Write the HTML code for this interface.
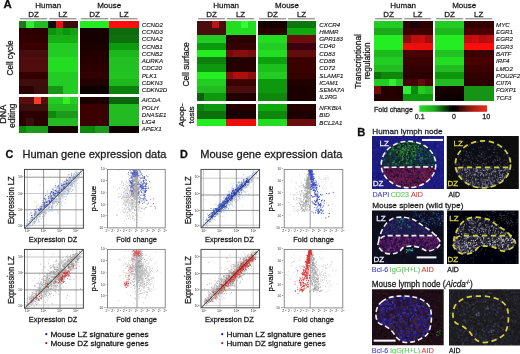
<!DOCTYPE html><html><head><meta charset="utf-8"><style>html,body{margin:0;padding:0;background:#fff;overflow:hidden}svg{display:block}</style></head><body><svg width="520" height="354" viewBox="0 0 520 354" font-family="'Liberation Sans', sans-serif">
<defs><filter id="hb" x="-2%" y="-2%" width="104%" height="104%"><feGaussianBlur stdDeviation="0.6"/></filter><filter id="gb" x="0" y="0" width="100%" height="100%"><feGaussianBlur stdDeviation="0.35"/></filter></defs>
<rect width="520" height="354" fill="#fff"/>
<g filter="url(#gb)">
<g filter="url(#hb)" shape-rendering="crispEdges">
<rect x="19.00" y="20.75" width="7.65" height="7.62" fill="#1a7a1a"/>
<rect x="26.30" y="20.75" width="7.65" height="7.62" fill="#33ee33"/>
<rect x="33.60" y="20.75" width="7.65" height="7.62" fill="#22bb22"/>
<rect x="40.90" y="20.75" width="7.65" height="7.62" fill="#22bb22"/>
<rect x="48.20" y="20.75" width="7.65" height="7.62" fill="#111111"/>
<rect x="55.50" y="20.75" width="7.65" height="7.62" fill="#ee1111"/>
<rect x="62.80" y="20.75" width="7.65" height="7.62" fill="#3a0808"/>
<rect x="70.10" y="20.75" width="7.65" height="7.62" fill="#3a0808"/>
<rect x="79.80" y="20.75" width="7.72" height="7.62" fill="#22ee22"/>
<rect x="87.17" y="20.75" width="7.72" height="7.62" fill="#22ee22"/>
<rect x="94.55" y="20.75" width="7.72" height="7.62" fill="#22ee22"/>
<rect x="101.92" y="20.75" width="7.72" height="7.62" fill="#22ee22"/>
<rect x="109.30" y="20.75" width="7.67" height="7.62" fill="#ff1111"/>
<rect x="116.62" y="20.75" width="7.67" height="7.62" fill="#ff1111"/>
<rect x="123.95" y="20.75" width="7.67" height="7.62" fill="#ff1111"/>
<rect x="131.28" y="20.75" width="7.67" height="7.62" fill="#ff1111"/>
<rect x="19.00" y="28.02" width="7.65" height="7.62" fill="#2a0505"/>
<rect x="26.30" y="28.02" width="7.65" height="7.62" fill="#2a0505"/>
<rect x="33.60" y="28.02" width="7.65" height="7.62" fill="#2a0505"/>
<rect x="40.90" y="28.02" width="7.65" height="7.62" fill="#2a0505"/>
<rect x="48.20" y="28.02" width="7.65" height="7.62" fill="#0c940c"/>
<rect x="55.50" y="28.02" width="7.65" height="7.62" fill="#12a012"/>
<rect x="62.80" y="28.02" width="7.65" height="7.62" fill="#0c940c"/>
<rect x="70.10" y="28.02" width="7.65" height="7.62" fill="#12a012"/>
<rect x="79.80" y="28.02" width="7.72" height="7.62" fill="#150303"/>
<rect x="87.17" y="28.02" width="7.72" height="7.62" fill="#150303"/>
<rect x="94.55" y="28.02" width="7.72" height="7.62" fill="#150303"/>
<rect x="101.92" y="28.02" width="7.72" height="7.62" fill="#150303"/>
<rect x="109.30" y="28.02" width="7.67" height="7.62" fill="#0a6a0a"/>
<rect x="116.62" y="28.02" width="7.67" height="7.62" fill="#0a6a0a"/>
<rect x="123.95" y="28.02" width="7.67" height="7.62" fill="#0a6a0a"/>
<rect x="131.28" y="28.02" width="7.67" height="7.62" fill="#0a6a0a"/>
<rect x="19.00" y="35.30" width="7.65" height="7.62" fill="#300505"/>
<rect x="26.30" y="35.30" width="7.65" height="7.62" fill="#300505"/>
<rect x="33.60" y="35.30" width="7.65" height="7.62" fill="#300505"/>
<rect x="40.90" y="35.30" width="7.65" height="7.62" fill="#300505"/>
<rect x="48.20" y="35.30" width="7.65" height="7.62" fill="#14b014"/>
<rect x="55.50" y="35.30" width="7.65" height="7.62" fill="#14b014"/>
<rect x="62.80" y="35.30" width="7.65" height="7.62" fill="#14b014"/>
<rect x="70.10" y="35.30" width="7.65" height="7.62" fill="#14b014"/>
<rect x="79.80" y="35.30" width="7.72" height="7.62" fill="#180303"/>
<rect x="87.17" y="35.30" width="7.72" height="7.62" fill="#180303"/>
<rect x="94.55" y="35.30" width="7.72" height="7.62" fill="#180303"/>
<rect x="101.92" y="35.30" width="7.72" height="7.62" fill="#180303"/>
<rect x="109.30" y="35.30" width="7.67" height="7.62" fill="#0a700a"/>
<rect x="116.62" y="35.30" width="7.67" height="7.62" fill="#0a700a"/>
<rect x="123.95" y="35.30" width="7.67" height="7.62" fill="#0a700a"/>
<rect x="131.28" y="35.30" width="7.67" height="7.62" fill="#0a700a"/>
<rect x="19.00" y="42.58" width="7.65" height="7.62" fill="#3a0606"/>
<rect x="26.30" y="42.58" width="7.65" height="7.62" fill="#3a0606"/>
<rect x="33.60" y="42.58" width="7.65" height="7.62" fill="#3a0606"/>
<rect x="40.90" y="42.58" width="7.65" height="7.62" fill="#3a0606"/>
<rect x="48.20" y="42.58" width="7.65" height="7.62" fill="#22cc22"/>
<rect x="55.50" y="42.58" width="7.65" height="7.62" fill="#22cc22"/>
<rect x="62.80" y="42.58" width="7.65" height="7.62" fill="#22cc22"/>
<rect x="70.10" y="42.58" width="7.65" height="7.62" fill="#22cc22"/>
<rect x="79.80" y="42.58" width="7.72" height="7.62" fill="#1a0303"/>
<rect x="87.17" y="42.58" width="7.72" height="7.62" fill="#1a0303"/>
<rect x="94.55" y="42.58" width="7.72" height="7.62" fill="#1a0303"/>
<rect x="101.92" y="42.58" width="7.72" height="7.62" fill="#1a0303"/>
<rect x="109.30" y="42.58" width="7.67" height="7.62" fill="#109a10"/>
<rect x="116.62" y="42.58" width="7.67" height="7.62" fill="#109a10"/>
<rect x="123.95" y="42.58" width="7.67" height="7.62" fill="#109a10"/>
<rect x="131.28" y="42.58" width="7.67" height="7.62" fill="#109a10"/>
<rect x="19.00" y="49.85" width="7.65" height="7.62" fill="#450808"/>
<rect x="26.30" y="49.85" width="7.65" height="7.62" fill="#450808"/>
<rect x="33.60" y="49.85" width="7.65" height="7.62" fill="#450808"/>
<rect x="40.90" y="49.85" width="7.65" height="7.62" fill="#450808"/>
<rect x="48.20" y="49.85" width="7.65" height="7.62" fill="#22cc22"/>
<rect x="55.50" y="49.85" width="7.65" height="7.62" fill="#22cc22"/>
<rect x="62.80" y="49.85" width="7.65" height="7.62" fill="#22cc22"/>
<rect x="70.10" y="49.85" width="7.65" height="7.62" fill="#22cc22"/>
<rect x="79.80" y="49.85" width="7.72" height="7.62" fill="#200404"/>
<rect x="87.17" y="49.85" width="7.72" height="7.62" fill="#200404"/>
<rect x="94.55" y="49.85" width="7.72" height="7.62" fill="#200404"/>
<rect x="101.92" y="49.85" width="7.72" height="7.62" fill="#200404"/>
<rect x="109.30" y="49.85" width="7.67" height="7.62" fill="#1cb81c"/>
<rect x="116.62" y="49.85" width="7.67" height="7.62" fill="#1cb81c"/>
<rect x="123.95" y="49.85" width="7.67" height="7.62" fill="#1cb81c"/>
<rect x="131.28" y="49.85" width="7.67" height="7.62" fill="#1cb81c"/>
<rect x="19.00" y="57.12" width="7.65" height="7.62" fill="#500a0a"/>
<rect x="26.30" y="57.12" width="7.65" height="7.62" fill="#500a0a"/>
<rect x="33.60" y="57.12" width="7.65" height="7.62" fill="#500a0a"/>
<rect x="40.90" y="57.12" width="7.65" height="7.62" fill="#500a0a"/>
<rect x="48.20" y="57.12" width="7.65" height="7.62" fill="#22dd22"/>
<rect x="55.50" y="57.12" width="7.65" height="7.62" fill="#22dd22"/>
<rect x="62.80" y="57.12" width="7.65" height="7.62" fill="#22dd22"/>
<rect x="70.10" y="57.12" width="7.65" height="7.62" fill="#22dd22"/>
<rect x="79.80" y="57.12" width="7.72" height="7.62" fill="#250404"/>
<rect x="87.17" y="57.12" width="7.72" height="7.62" fill="#250404"/>
<rect x="94.55" y="57.12" width="7.72" height="7.62" fill="#250404"/>
<rect x="101.92" y="57.12" width="7.72" height="7.62" fill="#250404"/>
<rect x="109.30" y="57.12" width="7.67" height="7.62" fill="#20c020"/>
<rect x="116.62" y="57.12" width="7.67" height="7.62" fill="#20c020"/>
<rect x="123.95" y="57.12" width="7.67" height="7.62" fill="#20c020"/>
<rect x="131.28" y="57.12" width="7.67" height="7.62" fill="#20c020"/>
<rect x="19.00" y="64.40" width="7.65" height="7.62" fill="#500a0a"/>
<rect x="26.30" y="64.40" width="7.65" height="7.62" fill="#500a0a"/>
<rect x="33.60" y="64.40" width="7.65" height="7.62" fill="#500a0a"/>
<rect x="40.90" y="64.40" width="7.65" height="7.62" fill="#500a0a"/>
<rect x="48.20" y="64.40" width="7.65" height="7.62" fill="#22dd22"/>
<rect x="55.50" y="64.40" width="7.65" height="7.62" fill="#22dd22"/>
<rect x="62.80" y="64.40" width="7.65" height="7.62" fill="#22dd22"/>
<rect x="70.10" y="64.40" width="7.65" height="7.62" fill="#22dd22"/>
<rect x="79.80" y="64.40" width="7.72" height="7.62" fill="#2a0505"/>
<rect x="87.17" y="64.40" width="7.72" height="7.62" fill="#2a0505"/>
<rect x="94.55" y="64.40" width="7.72" height="7.62" fill="#2a0505"/>
<rect x="101.92" y="64.40" width="7.72" height="7.62" fill="#2a0505"/>
<rect x="109.30" y="64.40" width="7.67" height="7.62" fill="#20c020"/>
<rect x="116.62" y="64.40" width="7.67" height="7.62" fill="#20c020"/>
<rect x="123.95" y="64.40" width="7.67" height="7.62" fill="#20c020"/>
<rect x="131.28" y="64.40" width="7.67" height="7.62" fill="#20c020"/>
<rect x="19.00" y="71.68" width="7.65" height="7.62" fill="#350606"/>
<rect x="26.30" y="71.68" width="7.65" height="7.62" fill="#350606"/>
<rect x="33.60" y="71.68" width="7.65" height="7.62" fill="#350606"/>
<rect x="40.90" y="71.68" width="7.65" height="7.62" fill="#350606"/>
<rect x="48.20" y="71.68" width="7.65" height="7.62" fill="#22cc22"/>
<rect x="55.50" y="71.68" width="7.65" height="7.62" fill="#22cc22"/>
<rect x="62.80" y="71.68" width="7.65" height="7.62" fill="#22cc22"/>
<rect x="70.10" y="71.68" width="7.65" height="7.62" fill="#22cc22"/>
<rect x="79.80" y="71.68" width="7.72" height="7.62" fill="#300505"/>
<rect x="87.17" y="71.68" width="7.72" height="7.62" fill="#300505"/>
<rect x="94.55" y="71.68" width="7.72" height="7.62" fill="#300505"/>
<rect x="101.92" y="71.68" width="7.72" height="7.62" fill="#300505"/>
<rect x="109.30" y="71.68" width="7.67" height="7.62" fill="#22c422"/>
<rect x="116.62" y="71.68" width="7.67" height="7.62" fill="#22c422"/>
<rect x="123.95" y="71.68" width="7.67" height="7.62" fill="#22c422"/>
<rect x="131.28" y="71.68" width="7.67" height="7.62" fill="#22c422"/>
<rect x="19.00" y="78.95" width="7.65" height="7.62" fill="#400808"/>
<rect x="26.30" y="78.95" width="7.65" height="7.62" fill="#400808"/>
<rect x="33.60" y="78.95" width="7.65" height="7.62" fill="#400808"/>
<rect x="40.90" y="78.95" width="7.65" height="7.62" fill="#400808"/>
<rect x="48.20" y="78.95" width="7.65" height="7.62" fill="#22cc22"/>
<rect x="55.50" y="78.95" width="7.65" height="7.62" fill="#22cc22"/>
<rect x="62.80" y="78.95" width="7.65" height="7.62" fill="#22cc22"/>
<rect x="70.10" y="78.95" width="7.65" height="7.62" fill="#22cc22"/>
<rect x="79.80" y="78.95" width="7.72" height="7.62" fill="#200404"/>
<rect x="87.17" y="78.95" width="7.72" height="7.62" fill="#200404"/>
<rect x="94.55" y="78.95" width="7.72" height="7.62" fill="#200404"/>
<rect x="101.92" y="78.95" width="7.72" height="7.62" fill="#200404"/>
<rect x="109.30" y="78.95" width="7.67" height="7.62" fill="#1cb81c"/>
<rect x="116.62" y="78.95" width="7.67" height="7.62" fill="#1cb81c"/>
<rect x="123.95" y="78.95" width="7.67" height="7.62" fill="#1cb81c"/>
<rect x="131.28" y="78.95" width="7.67" height="7.62" fill="#1cb81c"/>
<rect x="19.00" y="86.23" width="7.65" height="7.62" fill="#2a0505"/>
<rect x="26.30" y="86.23" width="7.65" height="7.62" fill="#2a0505"/>
<rect x="33.60" y="86.23" width="7.65" height="7.62" fill="#3a0808"/>
<rect x="40.90" y="86.23" width="7.65" height="7.62" fill="#3a0808"/>
<rect x="48.20" y="86.23" width="7.65" height="7.62" fill="#129612"/>
<rect x="55.50" y="86.23" width="7.65" height="7.62" fill="#129612"/>
<rect x="62.80" y="86.23" width="7.65" height="7.62" fill="#22cc22"/>
<rect x="70.10" y="86.23" width="7.65" height="7.62" fill="#22cc22"/>
<rect x="79.80" y="86.23" width="7.72" height="7.62" fill="#100202"/>
<rect x="87.17" y="86.23" width="7.72" height="7.62" fill="#100202"/>
<rect x="94.55" y="86.23" width="7.72" height="7.62" fill="#100202"/>
<rect x="101.92" y="86.23" width="7.72" height="7.62" fill="#100202"/>
<rect x="109.30" y="86.23" width="7.67" height="7.62" fill="#0c800c"/>
<rect x="116.62" y="86.23" width="7.67" height="7.62" fill="#0c800c"/>
<rect x="123.95" y="86.23" width="7.67" height="7.62" fill="#0c800c"/>
<rect x="131.28" y="86.23" width="7.67" height="7.62" fill="#0c800c"/>
<rect x="19.00" y="96.50" width="7.65" height="7.60" fill="#5a0c0c"/>
<rect x="26.30" y="96.50" width="7.65" height="7.60" fill="#5a0c0c"/>
<rect x="33.60" y="96.50" width="7.65" height="7.60" fill="#ff3a22"/>
<rect x="40.90" y="96.50" width="7.65" height="7.60" fill="#5a0c0c"/>
<rect x="48.20" y="96.50" width="7.65" height="7.60" fill="#22cc22"/>
<rect x="55.50" y="96.50" width="7.65" height="7.60" fill="#22cc22"/>
<rect x="62.80" y="96.50" width="7.65" height="7.60" fill="#33ee22"/>
<rect x="70.10" y="96.50" width="7.65" height="7.60" fill="#22cc22"/>
<rect x="79.80" y="96.50" width="7.72" height="7.60" fill="#1a0303"/>
<rect x="87.17" y="96.50" width="7.72" height="7.60" fill="#1a0303"/>
<rect x="94.55" y="96.50" width="7.72" height="7.60" fill="#1a0303"/>
<rect x="101.92" y="96.50" width="7.72" height="7.60" fill="#1a0303"/>
<rect x="109.30" y="96.50" width="7.67" height="7.60" fill="#0a660a"/>
<rect x="116.62" y="96.50" width="7.67" height="7.60" fill="#0a660a"/>
<rect x="123.95" y="96.50" width="7.67" height="7.60" fill="#0a660a"/>
<rect x="131.28" y="96.50" width="7.67" height="7.60" fill="#0a660a"/>
<rect x="19.00" y="103.75" width="7.65" height="7.60" fill="#3a0808"/>
<rect x="26.30" y="103.75" width="7.65" height="7.60" fill="#3a0808"/>
<rect x="33.60" y="103.75" width="7.65" height="7.60" fill="#3a0808"/>
<rect x="40.90" y="103.75" width="7.65" height="7.60" fill="#3a0808"/>
<rect x="48.20" y="103.75" width="7.65" height="7.60" fill="#22bb22"/>
<rect x="55.50" y="103.75" width="7.65" height="7.60" fill="#22bb22"/>
<rect x="62.80" y="103.75" width="7.65" height="7.60" fill="#22bb22"/>
<rect x="70.10" y="103.75" width="7.65" height="7.60" fill="#22bb22"/>
<rect x="79.80" y="103.75" width="7.72" height="7.60" fill="#3a0606"/>
<rect x="87.17" y="103.75" width="7.72" height="7.60" fill="#3a0606"/>
<rect x="94.55" y="103.75" width="7.72" height="7.60" fill="#3a0606"/>
<rect x="101.92" y="103.75" width="7.72" height="7.60" fill="#3a0606"/>
<rect x="109.30" y="103.75" width="7.67" height="7.60" fill="#22bb22"/>
<rect x="116.62" y="103.75" width="7.67" height="7.60" fill="#22bb22"/>
<rect x="123.95" y="103.75" width="7.67" height="7.60" fill="#22bb22"/>
<rect x="131.28" y="103.75" width="7.67" height="7.60" fill="#22bb22"/>
<rect x="19.00" y="111.00" width="7.65" height="7.60" fill="#2a0606"/>
<rect x="26.30" y="111.00" width="7.65" height="7.60" fill="#2a0606"/>
<rect x="33.60" y="111.00" width="7.65" height="7.60" fill="#2a0606"/>
<rect x="40.90" y="111.00" width="7.65" height="7.60" fill="#2a0606"/>
<rect x="48.20" y="111.00" width="7.65" height="7.60" fill="#118811"/>
<rect x="55.50" y="111.00" width="7.65" height="7.60" fill="#1a9a1a"/>
<rect x="62.80" y="111.00" width="7.65" height="7.60" fill="#1a9a1a"/>
<rect x="70.10" y="111.00" width="7.65" height="7.60" fill="#1a9a1a"/>
<rect x="79.80" y="111.00" width="7.72" height="7.60" fill="#3a0606"/>
<rect x="87.17" y="111.00" width="7.72" height="7.60" fill="#3a0606"/>
<rect x="94.55" y="111.00" width="7.72" height="7.60" fill="#3a0606"/>
<rect x="101.92" y="111.00" width="7.72" height="7.60" fill="#3a0606"/>
<rect x="109.30" y="111.00" width="7.67" height="7.60" fill="#22bb22"/>
<rect x="116.62" y="111.00" width="7.67" height="7.60" fill="#22bb22"/>
<rect x="123.95" y="111.00" width="7.67" height="7.60" fill="#22bb22"/>
<rect x="131.28" y="111.00" width="7.67" height="7.60" fill="#22bb22"/>
<rect x="19.00" y="118.25" width="7.65" height="7.60" fill="#2a0606"/>
<rect x="26.30" y="118.25" width="7.65" height="7.60" fill="#3a0808"/>
<rect x="33.60" y="118.25" width="7.65" height="7.60" fill="#2a0606"/>
<rect x="40.90" y="118.25" width="7.65" height="7.60" fill="#2a0606"/>
<rect x="48.20" y="118.25" width="7.65" height="7.60" fill="#22bb22"/>
<rect x="55.50" y="118.25" width="7.65" height="7.60" fill="#22bb22"/>
<rect x="62.80" y="118.25" width="7.65" height="7.60" fill="#22bb22"/>
<rect x="70.10" y="118.25" width="7.65" height="7.60" fill="#22bb22"/>
<rect x="79.80" y="118.25" width="7.72" height="7.60" fill="#3a0606"/>
<rect x="87.17" y="118.25" width="7.72" height="7.60" fill="#3a0606"/>
<rect x="94.55" y="118.25" width="7.72" height="7.60" fill="#3a0606"/>
<rect x="101.92" y="118.25" width="7.72" height="7.60" fill="#3a0606"/>
<rect x="109.30" y="118.25" width="7.67" height="7.60" fill="#22bb22"/>
<rect x="116.62" y="118.25" width="7.67" height="7.60" fill="#22bb22"/>
<rect x="123.95" y="118.25" width="7.67" height="7.60" fill="#22bb22"/>
<rect x="131.28" y="118.25" width="7.67" height="7.60" fill="#22bb22"/>
<rect x="19.00" y="125.50" width="7.65" height="7.60" fill="#118811"/>
<rect x="26.30" y="125.50" width="7.65" height="7.60" fill="#1a9a1a"/>
<rect x="33.60" y="125.50" width="7.65" height="7.60" fill="#1a9a1a"/>
<rect x="40.90" y="125.50" width="7.65" height="7.60" fill="#1a9a1a"/>
<rect x="48.20" y="125.50" width="7.65" height="7.60" fill="#150303"/>
<rect x="55.50" y="125.50" width="7.65" height="7.60" fill="#150303"/>
<rect x="62.80" y="125.50" width="7.65" height="7.60" fill="#150303"/>
<rect x="70.10" y="125.50" width="7.65" height="7.60" fill="#150303"/>
<rect x="79.80" y="125.50" width="7.72" height="7.60" fill="#118811"/>
<rect x="87.17" y="125.50" width="7.72" height="7.60" fill="#118811"/>
<rect x="94.55" y="125.50" width="7.72" height="7.60" fill="#1a9a1a"/>
<rect x="101.92" y="125.50" width="7.72" height="7.60" fill="#1a9a1a"/>
<rect x="109.30" y="125.50" width="7.67" height="7.60" fill="#100202"/>
<rect x="116.62" y="125.50" width="7.67" height="7.60" fill="#100202"/>
<rect x="123.95" y="125.50" width="7.67" height="7.60" fill="#100202"/>
<rect x="131.28" y="125.50" width="7.67" height="7.60" fill="#100202"/>
<rect x="197.10" y="20.75" width="7.55" height="7.61" fill="#4a0808"/>
<rect x="204.30" y="20.75" width="7.55" height="7.61" fill="#4a0808"/>
<rect x="211.50" y="20.75" width="7.55" height="7.61" fill="#bb1515"/>
<rect x="218.70" y="20.75" width="7.55" height="7.61" fill="#4a0808"/>
<rect x="225.90" y="20.75" width="7.69" height="7.61" fill="#22dd22"/>
<rect x="233.24" y="20.75" width="7.69" height="7.61" fill="#22dd22"/>
<rect x="240.57" y="20.75" width="7.69" height="7.61" fill="#33ff33"/>
<rect x="247.91" y="20.75" width="7.69" height="7.61" fill="#22dd22"/>
<rect x="258.10" y="20.75" width="7.60" height="7.61" fill="#150202"/>
<rect x="265.35" y="20.75" width="7.60" height="7.61" fill="#150202"/>
<rect x="272.60" y="20.75" width="7.60" height="7.61" fill="#150202"/>
<rect x="279.85" y="20.75" width="7.60" height="7.61" fill="#150202"/>
<rect x="287.10" y="20.75" width="7.57" height="7.61" fill="#0a770a"/>
<rect x="294.33" y="20.75" width="7.57" height="7.61" fill="#0a770a"/>
<rect x="301.55" y="20.75" width="7.57" height="7.61" fill="#0a770a"/>
<rect x="308.77" y="20.75" width="7.57" height="7.61" fill="#0a770a"/>
<rect x="197.10" y="28.01" width="7.55" height="7.61" fill="#4a0808"/>
<rect x="204.30" y="28.01" width="7.55" height="7.61" fill="#4a0808"/>
<rect x="211.50" y="28.01" width="7.55" height="7.61" fill="#4a0808"/>
<rect x="218.70" y="28.01" width="7.55" height="7.61" fill="#4a0808"/>
<rect x="225.90" y="28.01" width="7.69" height="7.61" fill="#22dd22"/>
<rect x="233.24" y="28.01" width="7.69" height="7.61" fill="#22dd22"/>
<rect x="240.57" y="28.01" width="7.69" height="7.61" fill="#22dd22"/>
<rect x="247.91" y="28.01" width="7.69" height="7.61" fill="#22dd22"/>
<rect x="258.10" y="28.01" width="7.60" height="7.61" fill="#2a0505"/>
<rect x="265.35" y="28.01" width="7.60" height="7.61" fill="#2a0505"/>
<rect x="272.60" y="28.01" width="7.60" height="7.61" fill="#2a0505"/>
<rect x="279.85" y="28.01" width="7.60" height="7.61" fill="#2a0505"/>
<rect x="287.10" y="28.01" width="7.57" height="7.61" fill="#11aa11"/>
<rect x="294.33" y="28.01" width="7.57" height="7.61" fill="#11aa11"/>
<rect x="301.55" y="28.01" width="7.57" height="7.61" fill="#11aa11"/>
<rect x="308.77" y="28.01" width="7.57" height="7.61" fill="#11aa11"/>
<rect x="197.10" y="35.27" width="7.55" height="7.61" fill="#22cc22"/>
<rect x="204.30" y="35.27" width="7.55" height="7.61" fill="#22cc22"/>
<rect x="211.50" y="35.27" width="7.55" height="7.61" fill="#22cc22"/>
<rect x="218.70" y="35.27" width="7.55" height="7.61" fill="#22cc22"/>
<rect x="225.90" y="35.27" width="7.69" height="7.61" fill="#2a0406"/>
<rect x="233.24" y="35.27" width="7.69" height="7.61" fill="#2a0406"/>
<rect x="240.57" y="35.27" width="7.69" height="7.61" fill="#2a0406"/>
<rect x="247.91" y="35.27" width="7.69" height="7.61" fill="#2a0406"/>
<rect x="258.10" y="35.27" width="7.60" height="7.61" fill="#22dd22"/>
<rect x="265.35" y="35.27" width="7.60" height="7.61" fill="#22dd22"/>
<rect x="272.60" y="35.27" width="7.60" height="7.61" fill="#22dd22"/>
<rect x="279.85" y="35.27" width="7.60" height="7.61" fill="#22dd22"/>
<rect x="287.10" y="35.27" width="7.57" height="7.61" fill="#6a0a10"/>
<rect x="294.33" y="35.27" width="7.57" height="7.61" fill="#6a0a10"/>
<rect x="301.55" y="35.27" width="7.57" height="7.61" fill="#6a0a10"/>
<rect x="308.77" y="35.27" width="7.57" height="7.61" fill="#6a0a10"/>
<rect x="197.10" y="42.53" width="7.55" height="7.61" fill="#119911"/>
<rect x="204.30" y="42.53" width="7.55" height="7.61" fill="#119911"/>
<rect x="211.50" y="42.53" width="7.55" height="7.61" fill="#119911"/>
<rect x="218.70" y="42.53" width="7.55" height="7.61" fill="#119911"/>
<rect x="225.90" y="42.53" width="7.69" height="7.61" fill="#340505"/>
<rect x="233.24" y="42.53" width="7.69" height="7.61" fill="#340505"/>
<rect x="240.57" y="42.53" width="7.69" height="7.61" fill="#340505"/>
<rect x="247.91" y="42.53" width="7.69" height="7.61" fill="#340505"/>
<rect x="258.10" y="42.53" width="7.60" height="7.61" fill="#22cc22"/>
<rect x="265.35" y="42.53" width="7.60" height="7.61" fill="#22cc22"/>
<rect x="272.60" y="42.53" width="7.60" height="7.61" fill="#22cc22"/>
<rect x="279.85" y="42.53" width="7.60" height="7.61" fill="#22cc22"/>
<rect x="287.10" y="42.53" width="7.57" height="7.61" fill="#3a0608"/>
<rect x="294.33" y="42.53" width="7.57" height="7.61" fill="#3a0608"/>
<rect x="301.55" y="42.53" width="7.57" height="7.61" fill="#3a0608"/>
<rect x="308.77" y="42.53" width="7.57" height="7.61" fill="#3a0608"/>
<rect x="197.10" y="49.79" width="7.55" height="7.61" fill="#22ee22"/>
<rect x="204.30" y="49.79" width="7.55" height="7.61" fill="#22ee22"/>
<rect x="211.50" y="49.79" width="7.55" height="7.61" fill="#22ee22"/>
<rect x="218.70" y="49.79" width="7.55" height="7.61" fill="#22ee22"/>
<rect x="225.90" y="49.79" width="7.69" height="7.61" fill="#700a0a"/>
<rect x="233.24" y="49.79" width="7.69" height="7.61" fill="#880a0a"/>
<rect x="240.57" y="49.79" width="7.69" height="7.61" fill="#880a0a"/>
<rect x="247.91" y="49.79" width="7.69" height="7.61" fill="#780a0a"/>
<rect x="258.10" y="49.79" width="7.60" height="7.61" fill="#22dd22"/>
<rect x="265.35" y="49.79" width="7.60" height="7.61" fill="#22dd22"/>
<rect x="272.60" y="49.79" width="7.60" height="7.61" fill="#22dd22"/>
<rect x="279.85" y="49.79" width="7.60" height="7.61" fill="#22dd22"/>
<rect x="287.10" y="49.79" width="7.57" height="7.61" fill="#620a10"/>
<rect x="294.33" y="49.79" width="7.57" height="7.61" fill="#620a10"/>
<rect x="301.55" y="49.79" width="7.57" height="7.61" fill="#620a10"/>
<rect x="308.77" y="49.79" width="7.57" height="7.61" fill="#620a10"/>
<rect x="197.10" y="57.05" width="7.55" height="7.61" fill="#0c800c"/>
<rect x="204.30" y="57.05" width="7.55" height="7.61" fill="#0c800c"/>
<rect x="211.50" y="57.05" width="7.55" height="7.61" fill="#0c800c"/>
<rect x="218.70" y="57.05" width="7.55" height="7.61" fill="#0c800c"/>
<rect x="225.90" y="57.05" width="7.69" height="7.61" fill="#200303"/>
<rect x="233.24" y="57.05" width="7.69" height="7.61" fill="#200303"/>
<rect x="240.57" y="57.05" width="7.69" height="7.61" fill="#200303"/>
<rect x="247.91" y="57.05" width="7.69" height="7.61" fill="#200303"/>
<rect x="258.10" y="57.05" width="7.60" height="7.61" fill="#10a010"/>
<rect x="265.35" y="57.05" width="7.60" height="7.61" fill="#10a010"/>
<rect x="272.60" y="57.05" width="7.60" height="7.61" fill="#10a010"/>
<rect x="279.85" y="57.05" width="7.60" height="7.61" fill="#10a010"/>
<rect x="287.10" y="57.05" width="7.57" height="7.61" fill="#3a0505"/>
<rect x="294.33" y="57.05" width="7.57" height="7.61" fill="#3a0505"/>
<rect x="301.55" y="57.05" width="7.57" height="7.61" fill="#3a0505"/>
<rect x="308.77" y="57.05" width="7.57" height="7.61" fill="#3a0505"/>
<rect x="197.10" y="64.31" width="7.55" height="7.61" fill="#119911"/>
<rect x="204.30" y="64.31" width="7.55" height="7.61" fill="#119911"/>
<rect x="211.50" y="64.31" width="7.55" height="7.61" fill="#119911"/>
<rect x="218.70" y="64.31" width="7.55" height="7.61" fill="#119911"/>
<rect x="225.90" y="64.31" width="7.69" height="7.61" fill="#250404"/>
<rect x="233.24" y="64.31" width="7.69" height="7.61" fill="#250404"/>
<rect x="240.57" y="64.31" width="7.69" height="7.61" fill="#250404"/>
<rect x="247.91" y="64.31" width="7.69" height="7.61" fill="#250404"/>
<rect x="258.10" y="64.31" width="7.60" height="7.61" fill="#1ec01e"/>
<rect x="265.35" y="64.31" width="7.60" height="7.61" fill="#1ec01e"/>
<rect x="272.60" y="64.31" width="7.60" height="7.61" fill="#1ec01e"/>
<rect x="279.85" y="64.31" width="7.60" height="7.61" fill="#1ec01e"/>
<rect x="287.10" y="64.31" width="7.57" height="7.61" fill="#3a0606"/>
<rect x="294.33" y="64.31" width="7.57" height="7.61" fill="#3a0606"/>
<rect x="301.55" y="64.31" width="7.57" height="7.61" fill="#3a0606"/>
<rect x="308.77" y="64.31" width="7.57" height="7.61" fill="#3a0606"/>
<rect x="197.10" y="71.57" width="7.55" height="7.61" fill="#22ee22"/>
<rect x="204.30" y="71.57" width="7.55" height="7.61" fill="#22ee22"/>
<rect x="211.50" y="71.57" width="7.55" height="7.61" fill="#22ee22"/>
<rect x="218.70" y="71.57" width="7.55" height="7.61" fill="#22ee22"/>
<rect x="225.90" y="71.57" width="7.69" height="7.61" fill="#8a0a0a"/>
<rect x="233.24" y="71.57" width="7.69" height="7.61" fill="#b00c0c"/>
<rect x="240.57" y="71.57" width="7.69" height="7.61" fill="#b00c0c"/>
<rect x="247.91" y="71.57" width="7.69" height="7.61" fill="#900a0a"/>
<rect x="258.10" y="71.57" width="7.60" height="7.61" fill="#22cc22"/>
<rect x="265.35" y="71.57" width="7.60" height="7.61" fill="#22cc22"/>
<rect x="272.60" y="71.57" width="7.60" height="7.61" fill="#22cc22"/>
<rect x="279.85" y="71.57" width="7.60" height="7.61" fill="#22cc22"/>
<rect x="287.10" y="71.57" width="7.57" height="7.61" fill="#350505"/>
<rect x="294.33" y="71.57" width="7.57" height="7.61" fill="#350505"/>
<rect x="301.55" y="71.57" width="7.57" height="7.61" fill="#350505"/>
<rect x="308.77" y="71.57" width="7.57" height="7.61" fill="#350505"/>
<rect x="197.10" y="78.83" width="7.55" height="7.61" fill="#22cc22"/>
<rect x="204.30" y="78.83" width="7.55" height="7.61" fill="#22cc22"/>
<rect x="211.50" y="78.83" width="7.55" height="7.61" fill="#22cc22"/>
<rect x="218.70" y="78.83" width="7.55" height="7.61" fill="#22cc22"/>
<rect x="225.90" y="78.83" width="7.69" height="7.61" fill="#3a0505"/>
<rect x="233.24" y="78.83" width="7.69" height="7.61" fill="#3a0505"/>
<rect x="240.57" y="78.83" width="7.69" height="7.61" fill="#3a0505"/>
<rect x="247.91" y="78.83" width="7.69" height="7.61" fill="#3a0505"/>
<rect x="258.10" y="78.83" width="7.60" height="7.61" fill="#119911"/>
<rect x="265.35" y="78.83" width="7.60" height="7.61" fill="#119911"/>
<rect x="272.60" y="78.83" width="7.60" height="7.61" fill="#119911"/>
<rect x="279.85" y="78.83" width="7.60" height="7.61" fill="#119911"/>
<rect x="287.10" y="78.83" width="7.57" height="7.61" fill="#200303"/>
<rect x="294.33" y="78.83" width="7.57" height="7.61" fill="#200303"/>
<rect x="301.55" y="78.83" width="7.57" height="7.61" fill="#200303"/>
<rect x="308.77" y="78.83" width="7.57" height="7.61" fill="#200303"/>
<rect x="197.10" y="86.09" width="7.55" height="7.61" fill="#22bb22"/>
<rect x="204.30" y="86.09" width="7.55" height="7.61" fill="#22bb22"/>
<rect x="211.50" y="86.09" width="7.55" height="7.61" fill="#22bb22"/>
<rect x="218.70" y="86.09" width="7.55" height="7.61" fill="#22bb22"/>
<rect x="225.90" y="86.09" width="7.69" height="7.61" fill="#4a0808"/>
<rect x="233.24" y="86.09" width="7.69" height="7.61" fill="#4a0808"/>
<rect x="240.57" y="86.09" width="7.69" height="7.61" fill="#4a0808"/>
<rect x="247.91" y="86.09" width="7.69" height="7.61" fill="#4a0808"/>
<rect x="258.10" y="86.09" width="7.60" height="7.61" fill="#119911"/>
<rect x="265.35" y="86.09" width="7.60" height="7.61" fill="#119911"/>
<rect x="272.60" y="86.09" width="7.60" height="7.61" fill="#119911"/>
<rect x="279.85" y="86.09" width="7.60" height="7.61" fill="#119911"/>
<rect x="287.10" y="86.09" width="7.57" height="7.61" fill="#1a0303"/>
<rect x="294.33" y="86.09" width="7.57" height="7.61" fill="#1a0303"/>
<rect x="301.55" y="86.09" width="7.57" height="7.61" fill="#1a0303"/>
<rect x="308.77" y="86.09" width="7.57" height="7.61" fill="#1a0303"/>
<rect x="197.10" y="93.35" width="7.55" height="7.61" fill="#0a600a"/>
<rect x="204.30" y="93.35" width="7.55" height="7.61" fill="#119911"/>
<rect x="211.50" y="93.35" width="7.55" height="7.61" fill="#119911"/>
<rect x="218.70" y="93.35" width="7.55" height="7.61" fill="#119911"/>
<rect x="225.90" y="93.35" width="7.69" height="7.61" fill="#200303"/>
<rect x="233.24" y="93.35" width="7.69" height="7.61" fill="#200303"/>
<rect x="240.57" y="93.35" width="7.69" height="7.61" fill="#200303"/>
<rect x="247.91" y="93.35" width="7.69" height="7.61" fill="#200303"/>
<rect x="258.10" y="93.35" width="7.60" height="7.61" fill="#118811"/>
<rect x="265.35" y="93.35" width="7.60" height="7.61" fill="#118811"/>
<rect x="272.60" y="93.35" width="7.60" height="7.61" fill="#118811"/>
<rect x="279.85" y="93.35" width="7.60" height="7.61" fill="#118811"/>
<rect x="287.10" y="93.35" width="7.57" height="7.61" fill="#1a0303"/>
<rect x="294.33" y="93.35" width="7.57" height="7.61" fill="#1a0303"/>
<rect x="301.55" y="93.35" width="7.57" height="7.61" fill="#1a0303"/>
<rect x="308.77" y="93.35" width="7.57" height="7.61" fill="#1a0303"/>
<rect x="197.10" y="104.00" width="7.55" height="7.68" fill="#0a800a"/>
<rect x="204.30" y="104.00" width="7.55" height="7.68" fill="#119911"/>
<rect x="211.50" y="104.00" width="7.55" height="7.68" fill="#119911"/>
<rect x="218.70" y="104.00" width="7.55" height="7.68" fill="#119911"/>
<rect x="225.90" y="104.00" width="7.69" height="7.68" fill="#250404"/>
<rect x="233.24" y="104.00" width="7.69" height="7.68" fill="#250404"/>
<rect x="240.57" y="104.00" width="7.69" height="7.68" fill="#250404"/>
<rect x="247.91" y="104.00" width="7.69" height="7.68" fill="#250404"/>
<rect x="258.10" y="104.00" width="7.60" height="7.68" fill="#11aa11"/>
<rect x="265.35" y="104.00" width="7.60" height="7.68" fill="#11aa11"/>
<rect x="272.60" y="104.00" width="7.60" height="7.68" fill="#11aa11"/>
<rect x="279.85" y="104.00" width="7.60" height="7.68" fill="#11aa11"/>
<rect x="287.10" y="104.00" width="7.57" height="7.68" fill="#250404"/>
<rect x="294.33" y="104.00" width="7.57" height="7.68" fill="#250404"/>
<rect x="301.55" y="104.00" width="7.57" height="7.68" fill="#250404"/>
<rect x="308.77" y="104.00" width="7.57" height="7.68" fill="#250404"/>
<rect x="197.10" y="111.33" width="7.55" height="7.68" fill="#0a700a"/>
<rect x="204.30" y="111.33" width="7.55" height="7.68" fill="#0a700a"/>
<rect x="211.50" y="111.33" width="7.55" height="7.68" fill="#0a700a"/>
<rect x="218.70" y="111.33" width="7.55" height="7.68" fill="#0a700a"/>
<rect x="225.90" y="111.33" width="7.69" height="7.68" fill="#150202"/>
<rect x="233.24" y="111.33" width="7.69" height="7.68" fill="#150202"/>
<rect x="240.57" y="111.33" width="7.69" height="7.68" fill="#150202"/>
<rect x="247.91" y="111.33" width="7.69" height="7.68" fill="#150202"/>
<rect x="258.10" y="111.33" width="7.60" height="7.68" fill="#0a880a"/>
<rect x="265.35" y="111.33" width="7.60" height="7.68" fill="#0a880a"/>
<rect x="272.60" y="111.33" width="7.60" height="7.68" fill="#0a880a"/>
<rect x="279.85" y="111.33" width="7.60" height="7.68" fill="#0a880a"/>
<rect x="287.10" y="111.33" width="7.57" height="7.68" fill="#1a0303"/>
<rect x="294.33" y="111.33" width="7.57" height="7.68" fill="#1a0303"/>
<rect x="301.55" y="111.33" width="7.57" height="7.68" fill="#1a0303"/>
<rect x="308.77" y="111.33" width="7.57" height="7.68" fill="#1a0303"/>
<rect x="197.10" y="118.66" width="7.55" height="7.68" fill="#22ee22"/>
<rect x="204.30" y="118.66" width="7.55" height="7.68" fill="#22ee22"/>
<rect x="211.50" y="118.66" width="7.55" height="7.68" fill="#22ee22"/>
<rect x="218.70" y="118.66" width="7.55" height="7.68" fill="#22ee22"/>
<rect x="225.90" y="118.66" width="7.69" height="7.68" fill="#ee1111"/>
<rect x="233.24" y="118.66" width="7.69" height="7.68" fill="#ee1111"/>
<rect x="240.57" y="118.66" width="7.69" height="7.68" fill="#ee1111"/>
<rect x="247.91" y="118.66" width="7.69" height="7.68" fill="#ee1111"/>
<rect x="258.10" y="118.66" width="7.60" height="7.68" fill="#22dd22"/>
<rect x="265.35" y="118.66" width="7.60" height="7.68" fill="#22dd22"/>
<rect x="272.60" y="118.66" width="7.60" height="7.68" fill="#22dd22"/>
<rect x="279.85" y="118.66" width="7.60" height="7.68" fill="#22dd22"/>
<rect x="287.10" y="118.66" width="7.57" height="7.68" fill="#6a0808"/>
<rect x="294.33" y="118.66" width="7.57" height="7.68" fill="#6a0808"/>
<rect x="301.55" y="118.66" width="7.57" height="7.68" fill="#6a0808"/>
<rect x="308.77" y="118.66" width="7.57" height="7.68" fill="#6a0808"/>
<rect x="374.10" y="20.75" width="7.64" height="7.65" fill="#22cc22"/>
<rect x="381.39" y="20.75" width="7.64" height="7.65" fill="#22cc22"/>
<rect x="388.68" y="20.75" width="7.64" height="7.65" fill="#22cc22"/>
<rect x="395.96" y="20.75" width="7.64" height="7.65" fill="#22cc22"/>
<rect x="403.25" y="20.75" width="7.60" height="7.65" fill="#2a0404"/>
<rect x="410.50" y="20.75" width="7.60" height="7.65" fill="#1a0208"/>
<rect x="417.75" y="20.75" width="7.60" height="7.65" fill="#2a0404"/>
<rect x="425.00" y="20.75" width="7.60" height="7.65" fill="#2a0404"/>
<rect x="435.10" y="20.75" width="7.64" height="7.65" fill="#22cc22"/>
<rect x="442.39" y="20.75" width="7.64" height="7.65" fill="#22cc22"/>
<rect x="449.68" y="20.75" width="7.64" height="7.65" fill="#22cc22"/>
<rect x="456.96" y="20.75" width="7.64" height="7.65" fill="#22cc22"/>
<rect x="464.25" y="20.75" width="7.61" height="7.65" fill="#300505"/>
<rect x="471.51" y="20.75" width="7.61" height="7.65" fill="#300505"/>
<rect x="478.77" y="20.75" width="7.61" height="7.65" fill="#300505"/>
<rect x="486.04" y="20.75" width="7.61" height="7.65" fill="#300505"/>
<rect x="374.10" y="28.05" width="7.64" height="7.65" fill="#1aaa1a"/>
<rect x="381.39" y="28.05" width="7.64" height="7.65" fill="#1aaa1a"/>
<rect x="388.68" y="28.05" width="7.64" height="7.65" fill="#1aaa1a"/>
<rect x="395.96" y="28.05" width="7.64" height="7.65" fill="#1aaa1a"/>
<rect x="403.25" y="28.05" width="7.60" height="7.65" fill="#3a0505"/>
<rect x="410.50" y="28.05" width="7.60" height="7.65" fill="#3a0505"/>
<rect x="417.75" y="28.05" width="7.60" height="7.65" fill="#3a0505"/>
<rect x="425.00" y="28.05" width="7.60" height="7.65" fill="#3a0505"/>
<rect x="435.10" y="28.05" width="7.64" height="7.65" fill="#1ab81a"/>
<rect x="442.39" y="28.05" width="7.64" height="7.65" fill="#1ab81a"/>
<rect x="449.68" y="28.05" width="7.64" height="7.65" fill="#1ab81a"/>
<rect x="456.96" y="28.05" width="7.64" height="7.65" fill="#1ab81a"/>
<rect x="464.25" y="28.05" width="7.61" height="7.65" fill="#4a0606"/>
<rect x="471.51" y="28.05" width="7.61" height="7.65" fill="#4a0606"/>
<rect x="478.77" y="28.05" width="7.61" height="7.65" fill="#4a0606"/>
<rect x="486.04" y="28.05" width="7.61" height="7.65" fill="#4a0606"/>
<rect x="374.10" y="35.35" width="7.64" height="7.65" fill="#22ee22"/>
<rect x="381.39" y="35.35" width="7.64" height="7.65" fill="#22ee22"/>
<rect x="388.68" y="35.35" width="7.64" height="7.65" fill="#22ee22"/>
<rect x="395.96" y="35.35" width="7.64" height="7.65" fill="#22ee22"/>
<rect x="403.25" y="35.35" width="7.60" height="7.65" fill="#8a0a0a"/>
<rect x="410.50" y="35.35" width="7.60" height="7.65" fill="#c01010"/>
<rect x="417.75" y="35.35" width="7.60" height="7.65" fill="#c81010"/>
<rect x="425.00" y="35.35" width="7.60" height="7.65" fill="#a00a0a"/>
<rect x="435.10" y="35.35" width="7.64" height="7.65" fill="#22ee22"/>
<rect x="442.39" y="35.35" width="7.64" height="7.65" fill="#22ee22"/>
<rect x="449.68" y="35.35" width="7.64" height="7.65" fill="#22ee22"/>
<rect x="456.96" y="35.35" width="7.64" height="7.65" fill="#22ee22"/>
<rect x="464.25" y="35.35" width="7.61" height="7.65" fill="#c01010"/>
<rect x="471.51" y="35.35" width="7.61" height="7.65" fill="#cc1010"/>
<rect x="478.77" y="35.35" width="7.61" height="7.65" fill="#b00c0c"/>
<rect x="486.04" y="35.35" width="7.61" height="7.65" fill="#c01010"/>
<rect x="374.10" y="42.65" width="7.64" height="7.65" fill="#22ee22"/>
<rect x="381.39" y="42.65" width="7.64" height="7.65" fill="#22ee22"/>
<rect x="388.68" y="42.65" width="7.64" height="7.65" fill="#22ee22"/>
<rect x="395.96" y="42.65" width="7.64" height="7.65" fill="#22ee22"/>
<rect x="403.25" y="42.65" width="7.60" height="7.65" fill="#ee1111"/>
<rect x="410.50" y="42.65" width="7.60" height="7.65" fill="#ee1111"/>
<rect x="417.75" y="42.65" width="7.60" height="7.65" fill="#ee1111"/>
<rect x="425.00" y="42.65" width="7.60" height="7.65" fill="#ee1111"/>
<rect x="435.10" y="42.65" width="7.64" height="7.65" fill="#22ee22"/>
<rect x="442.39" y="42.65" width="7.64" height="7.65" fill="#22ee22"/>
<rect x="449.68" y="42.65" width="7.64" height="7.65" fill="#22ee22"/>
<rect x="456.96" y="42.65" width="7.64" height="7.65" fill="#22ee22"/>
<rect x="464.25" y="42.65" width="7.61" height="7.65" fill="#ff1111"/>
<rect x="471.51" y="42.65" width="7.61" height="7.65" fill="#ff1111"/>
<rect x="478.77" y="42.65" width="7.61" height="7.65" fill="#ff1111"/>
<rect x="486.04" y="42.65" width="7.61" height="7.65" fill="#ff1111"/>
<rect x="374.10" y="49.95" width="7.64" height="7.65" fill="#1aba1a"/>
<rect x="381.39" y="49.95" width="7.64" height="7.65" fill="#1aba1a"/>
<rect x="388.68" y="49.95" width="7.64" height="7.65" fill="#1aba1a"/>
<rect x="395.96" y="49.95" width="7.64" height="7.65" fill="#1aba1a"/>
<rect x="403.25" y="49.95" width="7.60" height="7.65" fill="#4a0606"/>
<rect x="410.50" y="49.95" width="7.60" height="7.65" fill="#4a0606"/>
<rect x="417.75" y="49.95" width="7.60" height="7.65" fill="#4a0606"/>
<rect x="425.00" y="49.95" width="7.60" height="7.65" fill="#4a0606"/>
<rect x="435.10" y="49.95" width="7.64" height="7.65" fill="#22c022"/>
<rect x="442.39" y="49.95" width="7.64" height="7.65" fill="#22c022"/>
<rect x="449.68" y="49.95" width="7.64" height="7.65" fill="#22c022"/>
<rect x="456.96" y="49.95" width="7.64" height="7.65" fill="#22c022"/>
<rect x="464.25" y="49.95" width="7.61" height="7.65" fill="#3a0505"/>
<rect x="471.51" y="49.95" width="7.61" height="7.65" fill="#3a0505"/>
<rect x="478.77" y="49.95" width="7.61" height="7.65" fill="#3a0505"/>
<rect x="486.04" y="49.95" width="7.61" height="7.65" fill="#3a0505"/>
<rect x="374.10" y="57.25" width="7.64" height="7.65" fill="#22cc22"/>
<rect x="381.39" y="57.25" width="7.64" height="7.65" fill="#22cc22"/>
<rect x="388.68" y="57.25" width="7.64" height="7.65" fill="#22cc22"/>
<rect x="395.96" y="57.25" width="7.64" height="7.65" fill="#22cc22"/>
<rect x="403.25" y="57.25" width="7.60" height="7.65" fill="#3a0505"/>
<rect x="410.50" y="57.25" width="7.60" height="7.65" fill="#3a0505"/>
<rect x="417.75" y="57.25" width="7.60" height="7.65" fill="#3a0505"/>
<rect x="425.00" y="57.25" width="7.60" height="7.65" fill="#3a0505"/>
<rect x="435.10" y="57.25" width="7.64" height="7.65" fill="#22dd22"/>
<rect x="442.39" y="57.25" width="7.64" height="7.65" fill="#22dd22"/>
<rect x="449.68" y="57.25" width="7.64" height="7.65" fill="#22dd22"/>
<rect x="456.96" y="57.25" width="7.64" height="7.65" fill="#22dd22"/>
<rect x="464.25" y="57.25" width="7.61" height="7.65" fill="#4a0606"/>
<rect x="471.51" y="57.25" width="7.61" height="7.65" fill="#4a0606"/>
<rect x="478.77" y="57.25" width="7.61" height="7.65" fill="#4a0606"/>
<rect x="486.04" y="57.25" width="7.61" height="7.65" fill="#4a0606"/>
<rect x="374.10" y="64.55" width="7.64" height="7.65" fill="#22bb22"/>
<rect x="381.39" y="64.55" width="7.64" height="7.65" fill="#22bb22"/>
<rect x="388.68" y="64.55" width="7.64" height="7.65" fill="#22bb22"/>
<rect x="395.96" y="64.55" width="7.64" height="7.65" fill="#22bb22"/>
<rect x="403.25" y="64.55" width="7.60" height="7.65" fill="#300404"/>
<rect x="410.50" y="64.55" width="7.60" height="7.65" fill="#300404"/>
<rect x="417.75" y="64.55" width="7.60" height="7.65" fill="#300404"/>
<rect x="425.00" y="64.55" width="7.60" height="7.65" fill="#300404"/>
<rect x="435.10" y="64.55" width="7.64" height="7.65" fill="#22bb22"/>
<rect x="442.39" y="64.55" width="7.64" height="7.65" fill="#22bb22"/>
<rect x="449.68" y="64.55" width="7.64" height="7.65" fill="#22bb22"/>
<rect x="456.96" y="64.55" width="7.64" height="7.65" fill="#22bb22"/>
<rect x="464.25" y="64.55" width="7.61" height="7.65" fill="#3a0505"/>
<rect x="471.51" y="64.55" width="7.61" height="7.65" fill="#3a0505"/>
<rect x="478.77" y="64.55" width="7.61" height="7.65" fill="#3a0505"/>
<rect x="486.04" y="64.55" width="7.61" height="7.65" fill="#3a0505"/>
<rect x="374.10" y="71.85" width="7.64" height="7.65" fill="#0a700a"/>
<rect x="381.39" y="71.85" width="7.64" height="7.65" fill="#0a880a"/>
<rect x="388.68" y="71.85" width="7.64" height="7.65" fill="#0a880a"/>
<rect x="395.96" y="71.85" width="7.64" height="7.65" fill="#0a880a"/>
<rect x="403.25" y="71.85" width="7.60" height="7.65" fill="#2a0404"/>
<rect x="410.50" y="71.85" width="7.60" height="7.65" fill="#2a0404"/>
<rect x="417.75" y="71.85" width="7.60" height="7.65" fill="#2a0404"/>
<rect x="425.00" y="71.85" width="7.60" height="7.65" fill="#2a0404"/>
<rect x="435.10" y="71.85" width="7.64" height="7.65" fill="#0c960c"/>
<rect x="442.39" y="71.85" width="7.64" height="7.65" fill="#0c960c"/>
<rect x="449.68" y="71.85" width="7.64" height="7.65" fill="#0c960c"/>
<rect x="456.96" y="71.85" width="7.64" height="7.65" fill="#0c960c"/>
<rect x="464.25" y="71.85" width="7.61" height="7.65" fill="#300404"/>
<rect x="471.51" y="71.85" width="7.61" height="7.65" fill="#300404"/>
<rect x="478.77" y="71.85" width="7.61" height="7.65" fill="#300404"/>
<rect x="486.04" y="71.85" width="7.61" height="7.65" fill="#300404"/>
<rect x="374.10" y="79.15" width="7.64" height="7.65" fill="#22cc22"/>
<rect x="381.39" y="79.15" width="7.64" height="7.65" fill="#22cc22"/>
<rect x="388.68" y="79.15" width="7.64" height="7.65" fill="#33ee33"/>
<rect x="395.96" y="79.15" width="7.64" height="7.65" fill="#22cc22"/>
<rect x="403.25" y="79.15" width="7.60" height="7.65" fill="#450606"/>
<rect x="410.50" y="79.15" width="7.60" height="7.65" fill="#450606"/>
<rect x="417.75" y="79.15" width="7.60" height="7.65" fill="#600808"/>
<rect x="425.00" y="79.15" width="7.60" height="7.65" fill="#450606"/>
<rect x="435.10" y="79.15" width="7.64" height="7.65" fill="#22bb22"/>
<rect x="442.39" y="79.15" width="7.64" height="7.65" fill="#22bb22"/>
<rect x="449.68" y="79.15" width="7.64" height="7.65" fill="#22bb22"/>
<rect x="456.96" y="79.15" width="7.64" height="7.65" fill="#22bb22"/>
<rect x="464.25" y="79.15" width="7.61" height="7.65" fill="#2a0404"/>
<rect x="471.51" y="79.15" width="7.61" height="7.65" fill="#2a0404"/>
<rect x="478.77" y="79.15" width="7.61" height="7.65" fill="#2a0404"/>
<rect x="486.04" y="79.15" width="7.61" height="7.65" fill="#2a0404"/>
<rect x="374.10" y="86.45" width="7.64" height="7.65" fill="#700a0a"/>
<rect x="381.39" y="86.45" width="7.64" height="7.65" fill="#200303"/>
<rect x="388.68" y="86.45" width="7.64" height="7.65" fill="#250404"/>
<rect x="395.96" y="86.45" width="7.64" height="7.65" fill="#200303"/>
<rect x="403.25" y="86.45" width="7.60" height="7.65" fill="#33ee33"/>
<rect x="410.50" y="86.45" width="7.60" height="7.65" fill="#118811"/>
<rect x="417.75" y="86.45" width="7.60" height="7.65" fill="#22cc22"/>
<rect x="425.00" y="86.45" width="7.60" height="7.65" fill="#22bb22"/>
<rect x="435.10" y="86.45" width="7.64" height="7.65" fill="#150202"/>
<rect x="442.39" y="86.45" width="7.64" height="7.65" fill="#150202"/>
<rect x="449.68" y="86.45" width="7.64" height="7.65" fill="#150202"/>
<rect x="456.96" y="86.45" width="7.64" height="7.65" fill="#150202"/>
<rect x="464.25" y="86.45" width="7.61" height="7.65" fill="#129412"/>
<rect x="471.51" y="86.45" width="7.61" height="7.65" fill="#129412"/>
<rect x="478.77" y="86.45" width="7.61" height="7.65" fill="#129412"/>
<rect x="486.04" y="86.45" width="7.61" height="7.65" fill="#129412"/>
<rect x="374.10" y="93.75" width="7.64" height="7.65" fill="#250404"/>
<rect x="381.39" y="93.75" width="7.64" height="7.65" fill="#250404"/>
<rect x="388.68" y="93.75" width="7.64" height="7.65" fill="#250404"/>
<rect x="395.96" y="93.75" width="7.64" height="7.65" fill="#250404"/>
<rect x="403.25" y="93.75" width="7.60" height="7.65" fill="#119911"/>
<rect x="410.50" y="93.75" width="7.60" height="7.65" fill="#119911"/>
<rect x="417.75" y="93.75" width="7.60" height="7.65" fill="#119911"/>
<rect x="425.00" y="93.75" width="7.60" height="7.65" fill="#119911"/>
<rect x="435.10" y="93.75" width="7.64" height="7.65" fill="#100202"/>
<rect x="442.39" y="93.75" width="7.64" height="7.65" fill="#100202"/>
<rect x="449.68" y="93.75" width="7.64" height="7.65" fill="#100202"/>
<rect x="456.96" y="93.75" width="7.64" height="7.65" fill="#100202"/>
<rect x="464.25" y="93.75" width="7.61" height="7.65" fill="#129412"/>
<rect x="471.51" y="93.75" width="7.61" height="7.65" fill="#129412"/>
<rect x="478.77" y="93.75" width="7.61" height="7.65" fill="#129412"/>
<rect x="486.04" y="93.75" width="7.61" height="7.65" fill="#129412"/>
</g>
<rect x="20.0" y="18.3" width="27.2" height="1" fill="#767676"/>
<rect x="49.2" y="18.3" width="27.2" height="1" fill="#7e7474"/>
<rect x="80.8" y="18.3" width="27.5" height="1" fill="#767676"/>
<rect x="110.3" y="18.3" width="27.3" height="1" fill="#7e7474"/>
<rect x="198.1" y="18.3" width="26.8" height="1" fill="#767676"/>
<rect x="226.9" y="18.3" width="27.3" height="1" fill="#7e7474"/>
<rect x="259.1" y="18.3" width="27.0" height="1" fill="#767676"/>
<rect x="288.1" y="18.3" width="26.9" height="1" fill="#7e7474"/>
<rect x="375.1" y="18.3" width="27.1" height="1" fill="#767676"/>
<rect x="404.2" y="18.3" width="27.0" height="1" fill="#7e7474"/>
<rect x="436.1" y="18.3" width="27.1" height="1" fill="#767676"/>
<rect x="465.2" y="18.3" width="27.1" height="1" fill="#7e7474"/>
<defs><linearGradient id="fc" x1="0" x2="1"><stop offset="0" stop-color="#2ade2a"/><stop offset="0.22" stop-color="#1ea81e"/><stop offset="0.46" stop-color="#041004"/><stop offset="0.5" stop-color="#000"/><stop offset="0.56" stop-color="#1c0404"/><stop offset="0.76" stop-color="#9a1a10"/><stop offset="1" stop-color="#f03018"/></linearGradient></defs>
<rect x="419.3" y="105.3" width="67.7" height="6.5" fill="url(#fc)"/>
<rect x="24.5" y="169.4" width="58.900000000000006" height="58.79999999999998" fill="#fff"/>
<line x1="27.3" y1="169.4" x2="27.3" y2="228.2" stroke="#b0b0b0" stroke-width="0.7"/>
<line x1="76.0" y1="169.4" x2="76.0" y2="228.2" stroke="#b0b0b0" stroke-width="0.7"/>
<line x1="24.5" y1="193.5" x2="83.4" y2="193.5" stroke="#b0b0b0" stroke-width="0.7"/>
<line x1="24.5" y1="225.3" x2="83.4" y2="225.3" stroke="#b0b0b0" stroke-width="0.7"/>
<line x1="43.6" y1="169.4" x2="43.6" y2="228.2" stroke="#707070" stroke-width="0.75"/>
<line x1="59.9" y1="169.4" x2="59.9" y2="228.2" stroke="#707070" stroke-width="0.75"/>
<line x1="24.5" y1="177.2" x2="83.4" y2="177.2" stroke="#707070" stroke-width="0.75"/>
<line x1="24.5" y1="209.8" x2="83.4" y2="209.8" stroke="#707070" stroke-width="0.75"/>
<path d="M51.6 198.7h0M46.2 224.4h0M77.4 183.5h0M66.9 188.1h0M75.1 186.2h0M66.6 189.2h0M49.1 208.1h0M59.6 192.1h0M30.0 226.2h0M69.0 181.9h0M81.2 174.6h0M30.1 221.6h0M69.6 189.7h0M72.3 184.1h0M47.6 198.1h0M68.3 183.6h0M50.6 203.4h0M62.7 195.3h0M61.4 194.4h0M56.5 188.8h0M57.3 194.3h0M38.8 208.3h0M46.6 202.7h0M59.1 190.3h0M58.6 199.9h0M54.3 203.8h0M38.0 213.1h0M78.7 175.6h0M70.3 185.3h0M53.4 201.2h0M42.3 216.4h0M57.3 189.1h0M56.5 191.8h0M58.2 201.1h0M81.3 171.7h0M46.7 199.4h0M72.7 178.8h0M68.9 191.8h0M53.4 203.7h0M61.3 190.4h0M51.5 197.1h0M64.8 188.6h0M31.9 219.9h0M51.6 201.7h0M58.9 191.6h0M33.1 217.2h0M44.9 202.7h0M41.1 213.3h0M39.9 214.8h0M46.9 213.4h0M54.0 199.3h0M43.7 217.0h0M45.4 204.8h0M42.7 213.0h0M52.8 209.2h0M31.2 219.8h0M49.1 211.3h0M45.1 210.1h0M61.5 191.3h0M36.9 217.6h0M51.4 197.0h0M55.2 187.6h0M29.3 223.3h0M59.2 189.2h0M44.4 204.0h0M32.4 217.5h0M41.6 204.7h0M74.9 179.6h0M45.8 209.8h0M32.7 217.5h0M62.5 187.3h0M58.6 192.2h0M32.6 223.6h0M76.7 176.2h0M46.0 204.2h0M65.7 187.4h0M28.1 224.7h0M70.4 188.7h0M47.4 206.0h0M34.3 223.0h0M54.2 194.1h0M74.5 184.0h0M36.8 214.2h0M59.3 192.9h0M38.0 204.4h0M52.4 200.9h0M65.3 185.4h0M67.4 176.2h0M53.3 202.1h0M61.8 188.7h0M50.2 206.8h0M61.8 191.3h0M52.3 205.6h0M35.3 214.3h0M49.3 198.0h0M43.9 201.7h0M64.4 186.5h0M35.6 213.7h0M47.7 210.5h0M53.0 200.5h0M60.0 204.8h0M47.3 209.0h0M51.8 207.0h0M58.6 188.1h0M62.8 193.7h0M69.9 180.3h0M54.7 190.8h0M56.5 201.4h0M62.9 188.2h0M37.2 215.9h0M66.1 186.7h0M70.6 183.4h0M51.5 201.6h0M34.2 221.4h0M45.4 206.8h0M68.9 178.8h0M51.3 192.6h0M29.9 221.6h0M78.6 175.6h0M76.1 182.1h0M59.3 197.8h0M79.4 176.1h0M35.0 216.3h0M45.3 204.2h0M35.1 215.3h0M50.0 201.4h0M59.8 190.7h0M55.7 192.6h0M67.4 183.5h0M62.1 190.7h0M39.0 217.6h0M27.8 223.9h0M81.1 174.3h0M46.4 206.5h0M56.3 191.7h0M43.5 211.8h0M56.4 194.2h0M54.8 197.7h0M68.0 184.8h0M41.1 213.2h0M49.3 199.4h0M68.7 185.9h0M49.5 193.4h0M35.1 213.2h0M49.8 193.8h0M48.3 196.7h0M41.9 212.1h0M65.6 186.0h0M50.8 198.0h0M42.3 212.3h0M31.2 220.0h0M69.5 182.1h0M63.8 196.0h0M34.8 216.1h0M46.9 201.4h0M46.4 208.1h0M48.3 204.7h0M58.7 198.0h0M73.9 178.4h0M61.6 183.8h0M35.9 216.3h0M34.9 211.4h0M49.8 204.8h0M44.8 202.9h0M65.2 187.0h0" stroke="#b8c4d8" stroke-width="1.00" stroke-linecap="round" stroke-opacity="0.8" fill="none"/>
<path d="M53.0 194.2h0M61.5 195.3h0M47.1 206.3h0M58.8 194.4h0M66.4 187.4h0M35.5 221.3h0M46.3 201.9h0M35.0 220.2h0M61.6 185.3h0M56.2 187.3h0M46.7 206.5h0M43.9 206.0h0M60.4 199.5h0M54.3 195.9h0M64.3 188.2h0M36.2 213.7h0M29.5 224.6h0M53.2 187.0h0M74.3 176.4h0M64.2 188.8h0M37.6 215.2h0M66.2 181.3h0M58.2 191.1h0M72.9 182.2h0M48.9 200.0h0M56.7 199.7h0M58.4 185.4h0M66.4 183.1h0M37.6 217.2h0M66.4 190.7h0M37.8 209.2h0M43.4 211.3h0M77.1 178.7h0M55.7 194.1h0M63.7 182.7h0M40.8 218.6h0M34.0 217.4h0M49.5 203.8h0M38.2 215.3h0M67.5 182.4h0M59.4 188.8h0M40.1 212.7h0M39.1 216.2h0M43.2 198.0h0M32.0 224.0h0M53.7 195.8h0M69.6 174.1h0M46.1 202.3h0M60.0 199.1h0M40.2 208.9h0M51.7 198.4h0M64.4 182.1h0M53.4 195.5h0M67.7 190.5h0M71.0 187.5h0M37.7 211.8h0M46.0 210.1h0M36.9 208.2h0M28.5 224.5h0M53.0 194.3h0M62.6 188.4h0M59.0 190.9h0M67.8 182.3h0M57.9 200.4h0M42.3 212.6h0M45.8 210.1h0M61.6 183.8h0M54.1 197.1h0M73.3 179.3h0M62.7 181.1h0M65.7 187.6h0M63.6 184.6h0M76.2 178.9h0M41.7 208.6h0M33.3 221.9h0M62.3 193.2h0M33.1 218.3h0M47.6 191.1h0M56.3 190.5h0M66.4 187.3h0M52.9 195.4h0M55.1 194.8h0M73.4 183.6h0M47.9 210.2h0M65.4 187.1h0M63.5 187.8h0M46.2 205.7h0M55.9 195.1h0M70.9 178.3h0M74.6 173.8h0M53.0 190.0h0M73.6 177.9h0M74.6 184.3h0M70.2 182.7h0M71.2 182.4h0M45.6 209.6h0M64.7 193.7h0M37.2 215.4h0M44.5 212.4h0M49.3 204.2h0M68.0 186.3h0M27.9 221.0h0M43.9 208.2h0M51.9 203.1h0M69.5 180.4h0M46.1 205.0h0M49.3 204.1h0M57.2 202.2h0M38.4 212.3h0M61.4 195.6h0M63.7 194.2h0M43.2 212.0h0M63.5 188.5h0M55.3 195.9h0M61.9 191.0h0M76.6 178.7h0M76.3 178.3h0M33.0 219.2h0M59.2 192.3h0M65.2 181.5h0M60.6 187.9h0M45.6 200.8h0M64.8 191.3h0M34.0 221.5h0M55.0 193.4h0M69.3 183.4h0M72.2 189.2h0M56.6 195.3h0M38.2 211.9h0M64.1 190.4h0M32.4 218.5h0M42.6 212.9h0M68.9 180.9h0M58.1 197.1h0M40.1 184.5h0M47.0 204.2h0M42.3 210.9h0M59.8 202.0h0M51.9 197.9h0M37.4 213.0h0M66.6 182.3h0M58.5 192.5h0M26.9 223.6h0M58.1 194.8h0M52.0 200.7h0M37.5 209.1h0M36.6 217.3h0M53.5 200.7h0M49.4 198.5h0M77.7 173.2h0M41.6 208.2h0M67.1 186.8h0M54.2 198.9h0M58.8 192.3h0M64.3 192.9h0M58.6 198.5h0M50.1 196.8h0M57.5 204.7h0M58.7 196.8h0M40.0 208.4h0M66.1 181.8h0M51.5 198.1h0M69.8 183.1h0M45.3 207.8h0M29.8 214.7h0M42.9 206.3h0M40.1 210.1h0M36.4 207.1h0M65.8 191.1h0M40.8 197.9h0M59.2 202.4h0M43.3 201.7h0M75.5 175.2h0M67.0 182.0h0M53.0 204.8h0M74.2 182.4h0M54.6 201.8h0M49.1 204.2h0M47.1 207.9h0M75.6 177.2h0M67.6 189.0h0M49.0 197.4h0M65.7 182.0h0M40.7 208.3h0M32.4 220.5h0M75.8 177.5h0M36.5 213.8h0M57.4 186.9h0M50.2 203.8h0M80.5 172.0h0M75.3 188.0h0M62.3 194.8h0M34.2 218.5h0M38.5 215.2h0M52.8 193.2h0M62.6 189.0h0M36.4 215.0h0M54.0 196.5h0M34.3 210.7h0M46.6 206.3h0M73.4 180.8h0" stroke="#a8b8d0" stroke-width="1.00" stroke-linecap="round" stroke-opacity="0.8" fill="none"/>
<path d="M38.0 218.5h0M44.6 204.8h0M74.2 178.2h0M60.0 191.6h0M62.1 189.0h0M57.3 203.9h0M35.2 213.9h0M48.9 207.3h0M71.1 182.5h0M78.9 174.8h0M71.6 176.6h0M66.0 194.3h0M52.3 192.4h0M68.3 189.9h0M36.2 214.9h0M66.7 196.3h0M61.8 192.9h0M75.7 177.7h0M48.3 211.6h0M69.6 184.9h0M42.5 212.3h0M60.1 209.7h0M71.8 184.1h0M68.3 188.8h0M42.1 211.0h0M77.3 180.2h0M40.9 207.7h0M77.8 174.9h0M41.9 209.6h0M50.6 201.6h0M72.5 177.3h0M26.6 226.0h0M39.9 207.7h0M52.2 198.2h0M50.7 202.1h0M45.9 205.4h0M50.6 194.3h0M71.0 185.5h0M40.7 213.1h0M29.1 225.3h0M66.7 187.2h0M65.6 191.8h0M42.5 200.6h0M47.6 206.6h0M76.6 173.0h0M44.4 206.3h0M81.4 173.5h0M39.8 211.7h0M45.2 213.9h0M65.4 199.5h0M68.7 182.1h0M73.6 179.5h0M42.8 212.4h0M32.0 219.9h0M62.3 189.2h0M71.9 180.3h0M54.2 203.7h0M58.8 186.1h0M63.2 191.3h0M71.5 182.7h0M54.5 198.9h0M71.8 180.1h0M64.0 184.8h0M43.5 206.5h0M64.0 189.4h0M47.3 202.2h0M67.3 191.0h0M63.0 193.6h0M56.8 199.2h0M52.2 206.8h0M30.3 217.9h0M50.1 203.0h0M64.9 193.8h0M52.3 206.3h0M74.8 178.5h0M39.3 213.7h0M49.9 204.3h0M47.7 192.0h0M51.1 200.5h0M46.2 212.3h0M65.9 183.3h0M70.3 189.5h0M29.7 221.6h0M41.3 213.5h0M37.2 214.2h0M62.3 184.4h0M44.1 215.3h0M49.9 207.5h0M29.5 225.8h0M60.2 197.8h0M48.8 198.2h0M59.6 198.7h0M44.6 202.7h0M44.2 209.3h0M68.9 180.6h0M76.1 180.3h0M61.1 193.5h0M63.2 189.7h0M36.4 206.3h0M49.9 203.3h0M49.6 203.3h0M60.1 190.4h0M76.2 178.5h0M51.6 197.5h0M52.7 204.4h0M69.6 185.2h0M47.9 201.4h0M49.3 207.8h0M78.8 178.3h0M71.0 179.4h0M55.0 202.8h0M57.1 193.5h0M65.6 184.4h0M48.8 208.5h0M76.7 174.1h0M46.0 209.3h0M57.2 191.1h0M56.3 198.3h0M57.0 201.4h0M49.5 200.5h0M46.7 202.3h0M67.3 180.3h0M57.5 194.2h0M68.0 192.3h0M53.8 199.2h0M52.3 207.1h0M50.5 194.3h0M60.5 194.8h0M43.2 209.2h0M50.5 194.6h0M39.3 207.0h0M59.2 198.0h0M76.9 172.5h0M33.2 217.6h0M63.6 193.4h0M56.2 200.2h0M44.1 210.6h0M51.7 205.9h0M66.3 180.7h0M58.9 196.0h0M54.0 197.7h0M62.0 194.3h0M52.4 198.1h0M45.6 211.7h0M50.8 201.0h0M38.0 217.1h0M64.5 196.5h0M58.2 194.1h0M51.2 197.1h0M60.4 193.8h0M71.0 182.4h0M41.5 209.5h0M28.1 224.8h0M49.5 195.4h0M30.1 223.5h0M61.8 198.3h0M43.1 216.6h0M43.2 210.7h0M55.7 191.8h0M67.4 185.0h0M65.2 186.3h0M50.4 176.1h0M38.1 205.8h0M64.1 187.5h0M42.9 212.2h0M54.2 191.0h0M79.5 175.0h0M61.2 187.6h0M32.8 222.8h0M52.0 201.6h0M63.1 186.5h0M38.4 214.6h0M56.9 203.3h0M35.6 214.6h0M58.1 192.5h0M63.3 196.9h0M55.3 196.8h0M58.4 189.0h0M48.9 200.8h0M48.0 200.4h0M60.7 190.3h0M61.4 196.0h0M73.0 176.0h0M59.0 198.2h0M55.4 187.0h0M31.8 219.9h0M34.8 202.1h0M61.7 185.6h0M53.5 196.1h0M41.6 210.6h0M79.8 173.0h0" stroke="#b0b0b8" stroke-width="1.00" stroke-linecap="round" stroke-opacity="0.8" fill="none"/>
<path d="M44.9 216.8h0M46.2 206.8h0M54.2 195.3h0M54.9 202.3h0M72.6 182.2h0M69.1 180.1h0M73.6 175.2h0M53.8 196.9h0M71.7 186.1h0M43.4 207.2h0M40.3 207.3h0M74.1 176.3h0M66.8 185.4h0M74.1 181.3h0M57.5 211.1h0M43.6 209.7h0M66.9 189.1h0M37.4 213.9h0M55.4 194.2h0M59.7 202.2h0M52.8 197.8h0M65.9 184.0h0M53.8 192.5h0M48.6 207.0h0M65.0 188.9h0M66.0 183.0h0M54.7 201.3h0M47.2 194.4h0M52.8 197.5h0M40.2 214.8h0M49.7 206.4h0M47.1 200.1h0M56.1 198.6h0M46.6 205.5h0M58.3 195.5h0M44.4 210.0h0M41.0 209.9h0M51.1 199.0h0M38.9 221.8h0M65.0 189.0h0M45.2 200.1h0M39.3 212.5h0M65.0 191.2h0M29.4 221.1h0M74.2 176.4h0M49.6 201.1h0M44.5 205.9h0M56.9 194.0h0M30.5 222.4h0M68.7 186.4h0M70.1 185.0h0M60.0 192.1h0M52.2 195.9h0M63.4 188.0h0M76.0 175.2h0M57.1 182.0h0M50.1 201.3h0M52.4 204.0h0M70.1 178.2h0M56.4 189.4h0M63.2 193.4h0M76.7 176.4h0M42.6 211.7h0M51.3 207.4h0M68.6 182.9h0M37.0 216.5h0M30.3 218.8h0M61.4 194.3h0M71.3 184.4h0M44.3 209.9h0M52.5 192.2h0M67.6 180.2h0M67.2 185.4h0M59.1 188.8h0M44.3 201.5h0M44.8 206.7h0M49.1 198.0h0M58.8 190.2h0M38.9 215.9h0M73.2 189.4h0M78.0 174.0h0M38.5 219.8h0M38.2 209.9h0M73.7 177.5h0M67.6 194.5h0M52.6 193.0h0M47.7 201.7h0M39.1 214.5h0M30.5 225.5h0M63.7 187.6h0M51.6 201.0h0M46.0 204.8h0M45.7 206.2h0M44.3 209.2h0M39.4 211.0h0M34.0 222.7h0M60.1 192.5h0M40.7 214.5h0M79.3 173.3h0M40.1 212.0h0M65.9 192.3h0M43.5 215.0h0M56.6 205.4h0M46.8 205.3h0M55.5 201.3h0M50.9 198.2h0M47.9 194.8h0M27.2 224.1h0M51.9 202.0h0M73.2 181.7h0M55.4 197.0h0M38.7 213.3h0M52.9 203.4h0M65.6 186.4h0M51.9 199.6h0M44.8 212.9h0M42.1 212.3h0M70.7 183.0h0M46.5 206.6h0M58.9 194.2h0M36.4 216.6h0M57.8 186.6h0M69.3 181.8h0M56.6 202.2h0M74.3 176.2h0M30.6 223.5h0M70.8 188.2h0M63.8 182.0h0M66.5 187.1h0M62.9 201.0h0M29.2 221.6h0M45.6 212.8h0M74.2 181.7h0M56.8 190.3h0M61.5 195.7h0M39.0 213.7h0M65.3 188.1h0M39.3 210.3h0M54.2 203.1h0M47.3 203.3h0M77.2 175.4h0M68.1 185.2h0M43.2 216.1h0M48.2 208.6h0M57.0 199.7h0M42.4 206.6h0M41.8 210.5h0M65.3 203.1h0M54.2 198.9h0M61.7 195.8h0M33.0 215.4h0M64.3 194.1h0M36.3 211.3h0M39.7 211.1h0M39.9 208.9h0M49.1 198.5h0M48.7 206.8h0M43.6 203.3h0M77.1 173.5h0M76.6 180.9h0M70.3 178.9h0M49.8 196.2h0M72.0 186.2h0M48.0 206.1h0M30.6 220.6h0M56.1 187.9h0M60.5 191.1h0M68.9 192.9h0M54.5 200.8h0M75.4 178.3h0M61.5 186.4h0M66.1 186.5h0M35.7 213.7h0M41.8 195.8h0M68.3 190.7h0M32.5 217.5h0M44.8 207.1h0M74.6 174.2h0M57.2 191.4h0M64.5 189.3h0M31.3 217.3h0M70.5 179.4h0M55.8 195.6h0M73.5 174.0h0M34.2 219.5h0M55.4 206.9h0M77.4 178.1h0M52.9 203.6h0M42.8 217.0h0M77.5 174.2h0M63.8 182.9h0M55.2 196.3h0M40.5 210.8h0M57.5 193.7h0M32.1 219.3h0M80.6 170.7h0M37.6 214.4h0M68.5 187.4h0M73.8 182.9h0M61.5 189.0h0M64.1 185.0h0M63.1 187.1h0M35.3 214.3h0M50.8 209.6h0M68.9 180.8h0M67.8 190.6h0M36.2 218.4h0M34.3 220.9h0M57.7 188.0h0M79.2 176.2h0M66.3 183.9h0M62.6 191.3h0M54.8 195.2h0M40.2 214.2h0M74.2 180.0h0M51.6 202.1h0M40.1 216.6h0M59.5 193.4h0M61.1 194.0h0M68.7 185.6h0M58.3 196.1h0M34.8 223.8h0" stroke="#98a8c4" stroke-width="1.00" stroke-linecap="round" stroke-opacity="0.8" fill="none"/>
<path d="M57.9 198.6h0M37.0 212.9h0M33.1 214.5h0M47.6 210.4h0M49.9 202.0h0M60.8 198.7h0M40.9 208.4h0M36.7 202.3h0M42.0 210.6h0M50.3 196.9h0M55.2 199.7h0M49.8 205.7h0M41.7 210.4h0M49.4 196.3h0M59.2 194.9h0M38.1 209.9h0M77.8 172.8h0M56.1 199.2h0M43.0 202.8h0M62.2 186.1h0M75.3 179.2h0M77.3 174.6h0M74.7 180.2h0M69.2 184.8h0M65.2 195.9h0M63.3 185.0h0M58.7 190.3h0M62.4 189.2h0M79.0 174.1h0M47.4 206.1h0M56.5 198.2h0M61.5 195.7h0M66.9 190.1h0M63.5 195.1h0M67.7 183.6h0M67.2 189.9h0M50.8 202.0h0M34.7 215.1h0M78.1 179.8h0M30.9 219.6h0M34.4 218.5h0M73.8 179.5h0M68.2 184.4h0M60.5 192.5h0M48.6 198.2h0M35.1 216.2h0M75.1 179.2h0M55.9 195.1h0M51.9 201.9h0M50.7 199.8h0M62.2 187.6h0M42.2 206.5h0M59.3 206.3h0M57.8 199.1h0M56.2 210.6h0M73.1 179.9h0M32.0 215.6h0M54.2 201.7h0M61.5 190.5h0M76.6 175.2h0M67.8 188.5h0M50.3 204.8h0M54.9 196.5h0M66.3 185.5h0M39.8 216.6h0M69.6 183.4h0M52.8 207.5h0M32.4 215.8h0M73.2 178.4h0M45.3 211.3h0M58.5 199.4h0M66.7 187.0h0M57.7 191.9h0M57.3 190.5h0M59.5 189.3h0M49.4 204.9h0M42.4 208.7h0M69.0 179.9h0M63.8 190.1h0M60.2 183.8h0M44.6 211.1h0M57.2 190.0h0M54.2 210.2h0M59.0 196.6h0M50.7 202.6h0M48.7 204.7h0M53.2 194.7h0M53.1 198.9h0M65.4 186.5h0M48.6 209.3h0M43.4 213.3h0M56.3 196.5h0M53.8 201.5h0M65.7 189.2h0M60.1 189.4h0M68.5 184.5h0M69.6 179.3h0M42.4 209.0h0M41.5 205.7h0M34.2 218.3h0M56.9 201.9h0M77.5 173.4h0M67.6 184.1h0M63.8 190.1h0M57.7 195.1h0M49.1 202.8h0M40.2 212.7h0M58.1 194.9h0M62.3 205.7h0M54.3 196.8h0M52.6 205.5h0M35.7 220.6h0M59.2 193.4h0M63.3 187.1h0M44.2 207.9h0M56.5 193.4h0M76.1 174.5h0M66.4 183.8h0M43.5 206.6h0M60.8 186.8h0M69.1 180.4h0M58.6 195.0h0M40.0 209.1h0M61.7 189.7h0M63.0 192.6h0M46.9 209.1h0M57.0 196.1h0M34.3 218.9h0M44.9 209.6h0M69.6 181.1h0M69.6 185.0h0M34.6 212.7h0M69.3 187.8h0M45.9 199.1h0M43.8 210.2h0M51.6 196.8h0M78.6 175.0h0M50.9 204.2h0M76.5 177.6h0M56.3 200.1h0M71.2 185.4h0M32.0 220.9h0M56.6 196.8h0M63.5 186.6h0M43.8 212.0h0M30.6 212.4h0M35.9 215.9h0M61.9 197.7h0M44.3 204.8h0M61.6 195.6h0M67.1 192.0h0M49.8 196.6h0M61.6 186.6h0M43.3 208.5h0M53.7 188.7h0M54.4 197.2h0M55.2 183.8h0M54.9 194.6h0M46.4 179.9h0M70.4 179.9h0M41.5 209.2h0M62.2 191.0h0M58.3 195.9h0M42.1 208.4h0M61.6 184.4h0M67.2 189.6h0M66.2 193.1h0M61.5 183.9h0M53.7 206.5h0M68.8 187.1h0M32.0 222.0h0M37.3 217.9h0M73.4 183.1h0M46.3 209.3h0M48.6 206.9h0M61.7 191.6h0M58.3 193.8h0M56.0 195.4h0M30.9 219.8h0M41.3 212.7h0M47.2 210.1h0M51.4 206.9h0M56.1 205.3h0M68.7 178.4h0M71.0 181.1h0M52.7 192.1h0M50.0 200.1h0M76.3 179.3h0M29.8 222.0h0M28.3 223.7h0M80.8 174.6h0M36.2 220.6h0M36.0 212.3h0M79.5 178.3h0M68.7 188.1h0M45.4 207.5h0M53.1 195.8h0M49.0 206.5h0" stroke="#c4ccd8" stroke-width="1.00" stroke-linecap="round" stroke-opacity="0.8" fill="none"/>
<path d="M34.2 217.6h0M64.5 183.7h0M67.7 184.7h0M62.0 183.7h0M55.4 191.5h0M39.7 216.2h0M53.0 202.2h0M31.4 222.0h0M74.7 176.7h0M53.2 202.1h0M70.5 185.1h0M62.7 196.0h0M70.8 186.1h0M60.3 201.5h0M70.9 178.9h0M62.8 187.0h0M72.4 190.7h0M29.8 225.0h0M43.0 206.3h0M32.3 217.0h0M55.5 196.8h0M45.9 205.5h0M52.6 198.1h0M42.8 205.4h0M36.7 219.9h0M56.4 191.5h0M78.4 172.5h0M52.1 208.0h0M67.1 186.5h0M63.4 190.1h0M44.0 207.2h0M53.3 192.6h0M46.0 213.7h0M34.8 221.9h0M61.7 202.8h0M28.0 226.4h0M69.9 188.8h0M48.5 205.8h0M59.1 191.4h0M49.5 204.1h0M70.7 180.2h0M46.7 205.4h0M58.6 190.7h0M49.1 200.7h0M36.7 218.8h0M31.7 219.0h0M34.6 217.4h0M63.3 193.2h0M45.0 199.6h0M57.4 192.7h0M74.1 177.8h0M50.2 210.6h0M32.2 217.9h0M51.5 191.7h0M66.2 182.4h0M67.3 194.2h0M53.1 194.0h0M71.2 184.4h0M58.9 201.4h0M76.8 175.2h0M51.8 208.6h0M39.8 209.5h0M41.1 212.8h0M46.3 204.8h0M69.9 182.9h0M77.5 176.6h0M65.2 188.9h0M80.2 171.8h0M68.2 193.8h0M72.9 183.9h0M61.2 191.5h0M32.5 225.0h0M57.4 192.3h0M70.1 181.5h0M32.6 219.6h0M52.6 197.6h0M68.8 191.6h0M68.5 181.2h0M72.3 186.2h0M62.0 191.4h0M35.9 213.8h0M57.1 196.1h0M55.4 201.3h0M67.1 194.1h0M51.5 207.3h0M68.7 181.5h0M53.4 199.6h0M71.6 180.3h0M54.4 196.1h0M77.3 175.1h0M61.5 204.9h0M51.7 210.9h0M79.3 174.5h0M69.2 179.9h0M27.6 220.0h0M59.8 195.8h0M50.6 202.3h0M72.2 183.8h0M44.5 204.7h0M39.1 221.7h0M69.2 191.2h0M71.5 183.8h0M42.2 204.5h0M37.7 214.6h0M58.0 190.9h0M38.6 208.9h0M43.9 204.1h0M52.9 198.9h0M40.8 206.4h0M78.3 176.8h0M57.6 194.7h0M35.5 213.9h0M46.0 198.8h0M50.9 191.3h0M43.8 203.8h0M34.2 222.7h0M62.7 197.8h0M26.7 225.1h0M52.7 210.0h0M71.2 191.5h0M74.1 186.8h0M73.5 176.4h0M68.0 180.3h0M74.2 176.6h0M55.8 201.4h0M43.9 212.0h0M45.0 215.3h0M58.0 213.2h0M61.8 194.0h0M54.2 195.5h0M35.4 212.6h0M76.3 175.7h0M62.8 188.5h0M53.1 191.3h0M34.7 215.4h0M44.1 212.7h0M58.5 202.5h0M63.0 183.7h0M55.8 199.3h0M52.3 202.0h0M51.6 206.3h0M74.5 177.3h0M58.9 195.2h0M58.4 196.2h0M38.7 220.2h0M60.5 191.3h0M35.9 219.4h0M53.0 191.9h0M68.7 186.0h0M45.6 211.2h0M74.8 181.4h0M62.0 188.1h0M64.0 191.9h0M41.5 207.1h0M42.0 207.4h0M57.0 195.2h0M67.9 189.0h0M75.1 180.6h0M75.7 178.2h0M59.6 202.4h0M59.9 199.3h0M73.9 179.1h0M34.0 222.4h0M56.3 195.7h0M59.1 194.9h0M66.0 188.3h0M43.6 203.9h0M68.7 190.2h0M31.5 215.6h0M72.5 185.7h0M34.6 218.9h0" stroke="#8898b8" stroke-width="1.00" stroke-linecap="round" stroke-opacity="0.8" fill="none"/>
<path d="M47.0 202.8h0M35.9 212.3h0M66.3 183.8h0M63.9 187.5h0M67.1 183.8h0M44.7 203.8h0M61.5 185.4h0M52.5 198.6h0M66.7 183.3h0M48.7 200.8h0M49.7 202.3h0M46.6 202.6h0M63.4 184.2h0M66.5 179.1h0M44.7 206.3h0M44.1 198.6h0M45.9 205.4h0M38.6 209.9h0M50.4 195.9h0M40.4 208.6h0M44.9 207.4h0M53.9 190.0h0M72.9 178.2h0M64.3 184.2h0M62.0 190.1h0M57.2 193.2h0M54.7 195.2h0M43.2 209.1h0M57.6 193.0h0M51.6 195.6h0M52.9 198.0h0M53.6 192.7h0M71.4 175.1h0M44.7 202.6h0M66.1 183.0h0M49.3 201.1h0M44.8 203.1h0M51.7 198.1h0M50.4 201.9h0M45.4 199.8h0M73.1 177.7h0M64.1 188.2h0M34.6 214.9h0M51.2 199.2h0M50.7 198.0h0M58.9 192.9h0M44.8 198.0h0M43.0 202.6h0M68.9 182.5h0M31.9 217.3h0M48.3 196.6h0M63.7 186.8h0M65.1 186.1h0M50.7 193.1h0M61.2 189.4h0M69.7 177.5h0M35.4 211.3h0" stroke="#3448c0" stroke-width="1.10" stroke-linecap="round" stroke-opacity="0.95" fill="none"/>
<path d="M64.2 186.6h0M58.4 187.0h0M34.4 213.2h0M51.6 191.9h0M58.5 192.0h0M48.6 198.4h0M69.9 178.0h0M59.1 192.5h0M62.8 185.3h0M52.5 189.1h0M47.5 204.8h0M59.5 192.7h0M58.4 191.7h0M58.4 185.2h0M68.3 174.7h0M54.0 198.4h0M50.6 193.3h0M34.7 209.7h0M47.1 201.8h0M55.0 195.4h0M47.1 201.3h0M44.7 205.6h0M66.2 184.4h0M45.8 201.9h0M54.8 193.5h0M62.2 185.7h0M39.5 210.4h0M36.0 209.2h0M43.1 206.8h0M55.6 185.5h0M54.7 194.8h0M54.6 193.4h0M51.3 200.2h0M71.6 173.8h0M64.8 181.1h0M59.1 188.2h0M31.1 213.1h0M49.2 201.2h0M49.1 203.0h0M59.6 187.8h0M63.8 187.8h0M61.1 189.1h0" stroke="#5060c8" stroke-width="1.10" stroke-linecap="round" stroke-opacity="0.95" fill="none"/>
<path d="M55.7 193.4h0M56.8 191.7h0M45.5 195.6h0M40.8 209.2h0M66.7 180.8h0M43.9 205.0h0M63.9 184.6h0M51.6 200.3h0M51.4 200.1h0M67.2 180.3h0M40.9 209.3h0M40.2 210.0h0M49.6 202.5h0M38.9 209.6h0M57.9 186.3h0M49.8 201.3h0M53.6 192.9h0M68.8 183.4h0M55.6 190.4h0M71.2 180.8h0M41.6 208.8h0M58.1 192.5h0M41.2 206.6h0M53.4 194.6h0M59.5 190.1h0M31.7 215.5h0M51.5 191.8h0M64.2 188.2h0M51.3 196.7h0M46.9 204.5h0M59.3 192.2h0" stroke="#2a3cb0" stroke-width="1.10" stroke-linecap="round" stroke-opacity="0.95" fill="none"/>
<line x1="24.5" y1="228.2" x2="83.4" y2="169.4" stroke="#3c3c3c" stroke-width="0.9"/>
<rect x="24.5" y="169.4" width="58.900000000000006" height="58.79999999999998" fill="none" stroke="#404040" stroke-width="0.95"/>
<text x="27.3" y="232.4" font-size="3.6" text-anchor="middle" fill="#383838">10<tspan font-size="2.3" dy="-1">0</tspan></text>
<text x="43.5" y="232.4" font-size="3.6" text-anchor="middle" fill="#383838">10<tspan font-size="2.3" dy="-1">1</tspan></text>
<text x="59.7" y="232.4" font-size="3.6" text-anchor="middle" fill="#383838">10<tspan font-size="2.3" dy="-1">2</tspan></text>
<text x="75.6" y="232.4" font-size="3.6" text-anchor="middle" fill="#383838">10<tspan font-size="2.3" dy="-1">3</tspan></text>
<text x="23.3" y="178.3" font-size="3.6" text-anchor="end" fill="#383838">10<tspan font-size="2.3" dy="-1">3</tspan></text>
<text x="23.3" y="194.6" font-size="3.6" text-anchor="end" fill="#383838">10<tspan font-size="2.3" dy="-1">2</tspan></text>
<text x="23.3" y="210.6" font-size="3.6" text-anchor="end" fill="#383838">10<tspan font-size="2.3" dy="-1">1</tspan></text>
<text x="23.3" y="226.8" font-size="3.6" text-anchor="end" fill="#383838">10<tspan font-size="2.3" dy="-1">0</tspan></text>
<rect x="107.5" y="169.4" width="57.69999999999999" height="58.5" fill="#fff"/>
<path d="M132.0 190.5h0M135.4 189.4h0M138.4 186.4h0M133.1 187.6h0M136.9 188.7h0M138.2 191.5h0M139.3 180.2h0M132.6 188.3h0M132.3 183.8h0M133.4 184.4h0M134.5 186.7h0M133.8 175.2h0M137.3 188.8h0M137.2 177.2h0M132.1 183.9h0M132.6 194.9h0M135.9 193.7h0M137.4 178.8h0M135.7 194.0h0M140.8 177.1h0M136.0 178.3h0M129.8 181.4h0M133.5 181.1h0M132.8 193.6h0M134.8 191.1h0M134.7 171.7h0M134.6 186.2h0M136.9 198.8h0M133.8 193.8h0M134.0 192.0h0M133.1 182.9h0M133.2 191.6h0M135.0 190.3h0M133.2 196.0h0M137.7 183.8h0M134.9 196.1h0M137.4 178.8h0M133.9 187.3h0M136.8 175.0h0M132.9 189.0h0M133.9 205.8h0M137.9 201.6h0M132.4 179.0h0M135.6 196.9h0M140.5 195.6h0M133.1 186.5h0M136.6 199.6h0M138.2 195.5h0M135.3 206.2h0M136.3 178.5h0M135.7 191.4h0M135.3 179.7h0M134.0 193.7h0M136.2 188.4h0M135.4 196.3h0M135.6 178.3h0M139.5 193.7h0M137.6 188.8h0M137.0 194.3h0M132.1 175.5h0M136.7 200.7h0M137.5 182.0h0M136.7 190.6h0M136.1 179.3h0M132.0 187.2h0M137.0 203.3h0M131.9 195.8h0M138.6 181.7h0M131.5 177.0h0M131.5 192.5h0M133.1 189.1h0M133.9 189.6h0M137.2 199.0h0M134.9 179.3h0M137.5 188.3h0M132.6 192.6h0M139.9 187.0h0M134.1 193.0h0M133.3 197.2h0M132.9 186.5h0M138.5 198.2h0M138.8 197.4h0M133.9 189.2h0M130.5 191.3h0M135.8 204.2h0M132.6 180.2h0M136.0 191.2h0M133.2 180.3h0M136.8 175.3h0M135.8 210.6h0M134.2 188.0h0M128.7 218.3h0M128.9 209.4h0M131.1 204.4h0M138.8 207.2h0M137.4 198.5h0M138.6 201.7h0M138.4 204.7h0M131.5 200.2h0M137.7 190.0h0M130.5 196.6h0M130.2 211.0h0M124.5 188.7h0M141.0 211.7h0M129.3 202.8h0M138.9 211.0h0" stroke="#8c8c8c" stroke-width="1.00" stroke-linecap="round" stroke-opacity="0.85" fill="none"/>
<path d="M132.1 189.8h0M138.3 188.5h0M131.1 187.0h0M140.7 202.8h0M139.3 181.9h0M133.7 187.6h0M136.8 191.8h0M134.7 198.4h0M135.6 215.2h0M136.6 170.0h0M131.4 184.9h0M131.9 185.4h0M134.0 174.1h0M134.8 190.1h0M135.2 186.7h0M136.9 196.3h0M136.9 178.1h0M133.2 201.4h0M132.1 191.0h0M138.4 184.7h0M134.3 193.7h0M132.8 181.8h0M135.9 192.0h0M135.6 192.8h0M134.0 195.9h0M136.9 177.1h0M135.1 181.5h0M134.6 196.1h0M136.1 184.4h0M130.2 193.9h0M131.9 179.9h0M136.4 181.7h0M130.8 203.4h0M137.6 202.4h0M134.0 185.8h0M135.0 199.5h0M134.8 189.1h0M131.9 197.3h0M136.7 187.5h0M136.4 189.0h0M139.0 188.2h0M131.9 187.2h0M134.1 185.5h0M130.3 192.3h0M132.9 187.4h0M135.6 202.9h0M134.0 186.6h0M136.4 190.7h0M136.9 181.7h0M136.5 196.5h0M133.3 172.2h0M138.0 178.3h0M134.2 185.0h0M138.7 180.7h0M137.3 197.6h0M134.3 192.5h0M137.7 183.0h0M136.4 200.0h0M136.5 186.8h0M136.0 188.1h0M133.2 179.8h0M136.5 198.5h0M134.8 196.4h0M132.0 177.1h0M134.7 199.7h0M135.9 198.5h0M131.8 194.6h0M136.5 179.2h0M139.7 183.8h0M140.3 175.7h0M136.2 187.8h0M132.8 200.1h0M134.0 182.1h0M136.8 209.5h0M133.5 206.5h0M136.4 175.2h0M132.1 194.7h0M135.8 177.9h0M139.1 183.8h0M136.0 201.8h0M136.9 196.2h0M138.4 181.9h0M137.9 198.9h0M134.7 184.8h0M138.9 184.0h0M134.8 188.9h0M136.1 180.1h0M136.0 178.3h0M134.4 177.5h0M137.2 193.8h0M138.8 209.4h0M135.2 196.4h0M130.8 188.8h0M136.8 196.3h0M140.4 187.2h0M131.5 203.2h0M139.0 198.5h0M143.0 193.1h0M132.7 192.9h0M137.7 222.5h0M137.6 193.4h0M132.1 199.6h0M124.7 212.8h0M130.7 191.4h0M132.9 208.9h0M138.1 217.1h0M130.6 219.1h0M125.8 209.4h0M134.7 219.3h0M132.8 200.4h0M127.9 188.0h0M143.3 199.2h0M130.0 196.7h0M129.5 214.5h0M135.0 206.5h0M133.8 194.6h0" stroke="#b4b4b4" stroke-width="1.00" stroke-linecap="round" stroke-opacity="0.85" fill="none"/>
<path d="M134.1 177.0h0M130.8 183.8h0M133.3 193.9h0M132.2 190.7h0M134.1 195.9h0M136.6 190.0h0M135.4 182.1h0M136.9 202.9h0M134.2 183.4h0M134.3 209.7h0M135.3 179.1h0M133.2 207.8h0M136.1 208.2h0M136.8 183.8h0M136.0 182.8h0M134.0 173.3h0M136.2 193.3h0M135.8 181.4h0M134.4 204.5h0M135.2 170.6h0M135.7 187.5h0M135.9 179.9h0M132.7 204.2h0M136.3 188.1h0M134.3 184.3h0M139.3 177.3h0M134.5 186.4h0M137.1 190.5h0M132.0 188.3h0M135.8 192.3h0M133.3 195.6h0M139.6 197.9h0M131.5 192.8h0M135.0 189.1h0M134.8 191.4h0M136.4 190.4h0M135.4 190.0h0M134.1 194.3h0M137.0 190.3h0M136.3 185.4h0M136.7 180.6h0M137.3 181.7h0M135.2 197.4h0M134.5 210.1h0M132.6 177.2h0M130.6 196.0h0M135.0 183.9h0M138.3 182.1h0M135.9 188.9h0M135.7 176.7h0M130.9 190.4h0M135.9 181.6h0M135.7 188.2h0M139.5 201.7h0M135.1 202.7h0M134.5 189.7h0M138.3 188.9h0M137.0 180.1h0M138.9 191.4h0M136.2 187.0h0M135.5 175.8h0M133.4 196.1h0M134.9 194.3h0M135.3 191.1h0M136.5 199.1h0M136.1 208.9h0M136.1 174.0h0M136.7 200.5h0M138.3 175.5h0M132.0 181.4h0M133.8 204.1h0M133.4 190.2h0M133.3 191.1h0M134.9 179.1h0M136.1 207.3h0M134.7 198.0h0M134.4 178.0h0M132.6 180.8h0M132.7 193.2h0M133.6 208.0h0M131.8 181.3h0M131.9 187.1h0M138.0 176.6h0M136.9 176.7h0M133.2 187.9h0M130.6 205.3h0M132.3 184.7h0M133.7 187.3h0M132.2 195.8h0M135.9 182.8h0M132.1 186.2h0M135.0 187.5h0M134.4 201.2h0M131.8 183.3h0M136.5 185.7h0M134.7 195.5h0M134.8 193.1h0M135.0 194.5h0M124.5 197.8h0M127.5 212.7h0M131.4 203.1h0M132.8 216.2h0M128.0 206.2h0M133.1 212.9h0M140.1 197.5h0M132.5 204.2h0M133.4 216.1h0M127.0 195.5h0M132.6 212.6h0M130.1 206.7h0M132.3 206.3h0M136.6 188.0h0M127.1 202.0h0M123.2 203.6h0M131.3 186.3h0M134.2 189.1h0M113.7 187.3h0" stroke="#a0a4ac" stroke-width="1.00" stroke-linecap="round" stroke-opacity="0.85" fill="none"/>
<path d="M133.8 194.5h0M136.6 176.4h0M137.0 194.5h0M138.7 191.2h0M134.7 184.5h0M137.4 195.2h0M137.1 184.5h0M134.8 210.1h0M133.7 180.9h0M133.8 175.7h0M133.6 185.9h0M137.1 193.5h0M133.8 181.6h0M136.1 174.7h0M132.2 189.0h0M133.7 200.6h0M134.2 181.3h0M135.9 185.7h0M132.3 191.1h0M137.7 180.6h0M133.5 194.4h0M140.0 185.9h0M136.4 182.4h0M135.1 189.8h0M133.5 196.3h0M132.6 191.9h0M134.8 181.3h0M135.3 171.2h0M132.9 196.6h0M133.0 179.8h0M138.5 187.5h0M136.1 182.9h0M135.0 192.9h0M134.4 173.7h0M132.6 191.6h0M136.4 191.7h0M135.5 183.8h0M135.5 177.1h0M137.6 196.3h0M135.7 184.4h0M132.1 182.5h0M131.8 194.7h0M135.4 199.7h0M133.9 179.7h0M133.9 179.2h0M139.4 186.7h0M137.6 197.0h0M133.3 177.8h0M132.7 191.7h0M138.8 189.2h0M134.9 184.7h0M134.5 195.4h0M132.4 188.9h0M136.0 197.2h0M136.6 174.8h0M135.0 191.2h0M134.7 191.9h0M135.3 198.6h0M135.5 180.4h0M135.1 184.9h0M134.1 175.9h0M137.2 190.6h0M135.6 194.9h0M139.4 171.2h0M138.7 194.1h0M132.5 194.4h0M136.6 193.5h0M132.0 175.1h0M134.9 198.6h0M135.2 193.1h0M136.4 202.4h0M135.6 180.0h0M133.2 184.6h0M132.8 196.5h0M136.7 191.8h0M136.1 180.7h0M135.6 176.6h0M137.1 187.4h0M134.8 191.3h0M135.4 190.2h0M137.7 178.5h0M136.0 195.2h0M135.0 180.7h0M131.3 188.1h0M131.1 186.6h0M139.3 201.0h0M138.7 179.9h0M136.4 199.3h0M138.1 184.7h0M117.0 214.5h0M132.1 209.7h0M140.3 207.0h0M133.0 193.6h0M136.9 213.5h0M134.1 213.6h0M135.9 202.1h0M135.5 193.7h0M138.1 205.1h0M135.7 207.5h0M138.7 192.7h0M129.1 192.4h0M132.0 206.5h0M131.7 199.5h0M125.7 205.2h0M132.3 204.7h0M129.7 197.3h0" stroke="#a8a8a8" stroke-width="1.00" stroke-linecap="round" stroke-opacity="0.85" fill="none"/>
<path d="M139.0 194.4h0M135.5 184.7h0M137.0 200.3h0M132.7 184.8h0M136.2 178.5h0M132.0 200.5h0M134.9 196.6h0M137.8 188.3h0M132.3 192.3h0M134.9 177.5h0M135.3 198.0h0M138.6 189.9h0M133.4 181.2h0M131.5 192.3h0M133.7 176.6h0M134.7 192.6h0M136.5 192.9h0M134.8 187.9h0M138.0 173.2h0M130.9 189.3h0M135.8 189.9h0M130.9 172.9h0M132.6 180.5h0M138.1 194.4h0M135.6 182.2h0M134.6 189.9h0M138.0 185.8h0M132.0 199.9h0M131.9 202.3h0M131.4 186.0h0M134.5 180.6h0M133.2 180.5h0M135.9 185.8h0M137.2 178.8h0M132.9 178.9h0M135.1 183.5h0M134.1 180.1h0M135.5 191.3h0M132.9 195.0h0M137.2 189.7h0M136.6 199.0h0M136.1 188.5h0M137.0 192.1h0M137.3 189.6h0M134.5 185.7h0M133.9 202.6h0M134.8 173.1h0M135.6 186.4h0M137.1 173.4h0M135.8 186.4h0M133.0 192.4h0M140.2 200.8h0M135.3 176.0h0M134.8 184.6h0M138.2 188.0h0M138.6 194.4h0M133.5 192.2h0M133.8 172.4h0M133.7 183.5h0M132.2 190.5h0M132.6 203.4h0M134.8 197.5h0M134.1 178.8h0M137.3 193.4h0M141.8 192.3h0M135.7 186.8h0M132.8 182.2h0M135.1 189.9h0M135.2 197.2h0M133.8 184.7h0M133.2 195.1h0M136.9 175.4h0M134.6 185.1h0M132.8 184.7h0M137.7 188.9h0M137.4 192.2h0M137.1 192.3h0M133.6 190.4h0M135.5 195.0h0M132.9 193.9h0M139.5 192.6h0M134.3 195.8h0M133.0 196.1h0M134.6 181.0h0M134.8 184.5h0M131.4 207.7h0M132.1 201.9h0M135.7 206.9h0M134.9 199.0h0M125.6 197.3h0M139.3 200.0h0M126.8 202.2h0M133.7 198.4h0M132.5 218.2h0M129.3 208.8h0M139.6 203.5h0M137.0 209.8h0M127.0 196.4h0" stroke="#9a9a9a" stroke-width="1.00" stroke-linecap="round" stroke-opacity="0.85" fill="none"/>
<path d="M133.2 185.9h0M132.8 193.2h0M122.3 196.8h0M127.1 197.0h0M123.5 197.1h0M123.9 185.0h0M125.3 194.4h0M134.7 193.7h0M127.7 194.3h0M129.7 200.8h0M125.6 200.8h0M122.0 182.2h0M131.3 174.0h0M127.8 182.4h0M128.3 215.6h0M133.1 188.5h0M130.2 186.5h0M136.5 209.5h0M129.3 186.1h0M125.0 201.3h0M128.6 182.2h0M125.1 193.1h0M131.1 177.0h0M122.6 205.1h0M124.0 194.4h0M133.3 198.6h0M122.5 175.9h0M125.0 202.6h0M130.7 192.0h0M129.4 209.7h0M129.7 210.9h0M127.1 192.5h0M137.3 204.2h0M133.4 199.0h0M126.3 199.0h0M129.9 178.8h0M129.3 198.0h0M128.7 176.9h0M129.2 193.8h0M129.8 205.9h0M125.6 198.9h0M128.1 197.4h0M122.8 197.8h0M125.2 188.1h0M127.2 202.0h0M131.1 194.7h0M131.9 209.0h0M135.0 188.8h0M125.5 200.0h0M128.7 203.8h0M121.8 188.8h0M124.9 192.6h0M132.0 205.7h0M135.6 193.9h0M118.0 201.9h0M127.3 194.7h0M130.7 203.3h0M128.0 199.4h0M118.6 210.9h0M122.6 197.8h0M124.6 203.0h0M125.3 197.5h0M127.1 198.0h0M126.0 183.2h0M129.4 214.4h0M123.4 191.9h0M132.3 204.9h0M124.2 196.0h0M129.1 190.9h0M129.6 181.1h0M128.4 184.3h0M125.2 201.8h0M121.9 194.9h0M132.4 208.3h0M128.4 188.4h0M133.7 184.4h0M127.1 188.7h0M131.4 192.8h0M125.7 212.4h0M126.0 190.2h0M123.2 185.2h0M119.2 209.0h0M127.6 199.4h0M129.9 217.0h0M121.2 195.0h0M127.4 189.1h0M128.2 202.5h0M128.4 188.6h0M128.1 212.3h0M128.3 194.9h0M135.3 198.1h0M130.4 202.1h0M139.3 207.1h0M141.4 201.7h0M132.7 186.1h0M131.6 208.9h0M122.1 198.7h0M131.5 214.3h0M120.0 218.1h0M134.4 196.7h0M124.8 206.3h0M124.6 208.7h0M129.5 215.1h0M131.3 202.4h0M129.5 196.1h0M140.0 207.1h0M130.6 203.7h0M144.0 200.0h0M138.7 195.5h0M139.1 189.5h0M140.8 170.3h0M137.7 181.6h0M146.4 170.6h0M143.5 187.4h0M141.1 182.5h0M140.7 178.4h0M141.3 181.8h0M143.6 185.0h0M144.6 178.5h0M149.1 184.9h0M138.2 177.1h0M143.2 178.1h0M137.9 186.2h0M143.8 187.4h0M129.8 195.8h0M143.6 191.0h0M135.1 181.3h0M137.8 181.9h0M144.4 178.8h0M139.1 186.7h0M141.1 185.1h0M143.7 191.6h0M139.2 178.0h0M146.7 183.4h0M140.8 190.6h0" stroke="#d0d0d0" stroke-width="1.00" stroke-linecap="round" stroke-opacity="0.85" fill="none"/>
<path d="M126.4 197.6h0M130.3 202.4h0M125.9 204.8h0M126.6 197.8h0M128.9 201.6h0M127.3 202.6h0M131.2 197.3h0M122.6 187.6h0M129.3 201.1h0M129.8 209.7h0M132.1 202.6h0M136.4 179.1h0M134.3 220.4h0M131.3 209.0h0M123.8 192.6h0M123.3 211.0h0M136.8 208.9h0M123.7 196.0h0M128.5 195.7h0M125.6 203.6h0M127.8 207.5h0M126.2 173.7h0M125.9 190.3h0M128.4 204.9h0M128.1 194.5h0M123.7 198.2h0M123.8 195.7h0M134.3 187.4h0M134.6 198.9h0M127.2 201.3h0M123.9 199.8h0M123.7 212.1h0M128.1 190.6h0M128.5 190.1h0M134.2 195.3h0M139.2 183.3h0M123.5 192.8h0M126.6 196.8h0M114.8 201.6h0M132.2 195.2h0M129.1 198.6h0M128.4 205.9h0M125.8 216.0h0M127.6 190.4h0M124.8 191.4h0M127.7 200.4h0M128.2 204.4h0M130.1 191.5h0M129.9 200.3h0M126.6 189.7h0M124.1 199.9h0M127.2 202.3h0M126.3 205.5h0M126.3 181.6h0M125.4 186.9h0M125.5 206.2h0M124.6 197.3h0M137.4 215.3h0M127.3 199.2h0M124.4 220.9h0M132.2 205.1h0M136.4 202.1h0M130.7 216.3h0M134.2 198.9h0M130.1 210.0h0M116.8 215.4h0M136.6 214.6h0M139.6 220.3h0M130.0 192.9h0M130.7 192.0h0M128.4 196.8h0M137.7 190.7h0M135.5 194.4h0M136.3 206.8h0M128.3 199.8h0M140.3 180.8h0M126.3 225.0h0M122.7 207.7h0M140.7 182.4h0M139.6 183.8h0M140.1 189.8h0M139.9 184.4h0M137.9 170.2h0M138.6 194.3h0M140.0 185.7h0M129.5 191.2h0M140.8 181.0h0M143.3 182.0h0M139.2 180.7h0M145.9 187.6h0M138.9 175.8h0M141.8 172.4h0M142.6 192.6h0M135.0 186.7h0M141.1 182.8h0M143.1 185.2h0M150.3 182.8h0M145.9 181.9h0M139.5 208.9h0M144.8 171.6h0M143.5 187.0h0M136.8 188.6h0M131.2 180.5h0M148.2 186.0h0" stroke="#c4c4c4" stroke-width="1.00" stroke-linecap="round" stroke-opacity="0.85" fill="none"/>
<path d="M124.9 195.8h0M127.0 186.6h0M126.6 201.2h0M123.0 185.1h0M125.0 191.0h0M129.2 197.4h0M126.7 208.5h0M130.8 210.8h0M127.2 191.7h0M126.9 207.6h0M118.3 194.1h0M128.5 197.8h0M127.7 185.5h0M126.8 214.8h0M130.4 190.5h0M128.3 207.7h0M123.9 209.5h0M125.4 202.9h0M129.5 190.9h0M129.0 209.0h0M126.7 204.4h0M123.6 183.6h0M120.0 196.3h0M130.4 188.8h0M130.1 196.7h0M125.9 196.0h0M124.4 200.6h0M124.8 208.1h0M129.3 199.2h0M128.7 172.7h0M129.5 185.9h0M128.5 199.3h0M128.3 194.4h0M122.6 197.3h0M131.5 188.6h0M127.9 188.8h0M131.3 185.7h0M126.4 197.5h0M135.1 178.1h0M130.7 187.6h0M119.0 197.5h0M125.1 212.0h0M128.2 196.6h0M121.7 182.9h0M127.1 201.1h0M132.6 202.6h0M126.7 195.3h0M130.4 177.8h0M127.8 197.2h0M129.2 210.3h0M117.0 215.1h0M128.1 200.1h0M117.7 189.9h0M127.4 187.8h0M131.0 190.1h0M121.8 181.7h0M127.1 212.6h0M119.2 188.4h0M131.0 187.0h0M123.5 196.2h0M135.3 184.9h0M126.7 218.9h0M133.0 218.3h0M130.7 198.6h0M138.0 191.9h0M129.6 193.9h0M144.1 214.3h0M132.4 206.5h0M127.4 200.6h0M134.2 198.7h0M128.8 195.6h0M141.7 174.4h0M137.4 219.4h0M132.9 185.3h0M137.5 184.5h0M141.1 218.0h0M138.9 193.8h0M129.1 204.0h0M131.2 199.8h0M140.2 183.8h0M140.5 186.4h0M137.4 187.9h0M140.2 177.8h0M132.2 182.0h0M142.4 177.7h0M139.4 202.2h0M141.1 194.4h0M144.1 182.3h0M143.2 178.0h0M137.6 192.6h0M137.4 187.2h0M144.3 189.3h0M137.6 182.8h0M132.8 195.0h0M139.7 188.1h0" stroke="#bcbcbc" stroke-width="1.00" stroke-linecap="round" stroke-opacity="0.85" fill="none"/>
<path d="M129.5 214.0h0M128.0 185.8h0M135.9 193.0h0M122.4 211.2h0M123.8 212.3h0M133.5 203.7h0M126.9 186.3h0M118.4 170.4h0M128.4 179.5h0M127.8 199.7h0M126.3 190.8h0M121.6 198.6h0M131.4 204.9h0M125.2 184.5h0M127.4 216.3h0M117.2 204.9h0M127.5 183.4h0M123.1 202.9h0M129.8 185.9h0M119.7 194.0h0M121.0 193.2h0M122.0 181.3h0M127.7 211.5h0M120.0 184.5h0M128.0 202.7h0M118.5 196.9h0M126.6 199.0h0M129.6 202.7h0M129.0 185.4h0M136.1 207.7h0M122.1 199.1h0M131.1 185.8h0M132.6 206.8h0M125.9 192.8h0M124.4 204.2h0M127.8 200.5h0M118.4 197.0h0M119.3 187.7h0M131.5 189.0h0M135.6 187.9h0M126.0 182.0h0M134.3 200.6h0M127.5 215.7h0M126.1 189.4h0M126.3 200.5h0M130.8 190.0h0M124.0 197.2h0M125.7 193.5h0M126.3 181.7h0M120.4 212.7h0M133.4 202.0h0M128.8 211.7h0M126.9 197.9h0M134.6 200.8h0M131.6 196.0h0M136.7 207.2h0M134.0 193.1h0M131.1 204.2h0M132.9 225.4h0M132.1 207.6h0M142.4 201.7h0M127.9 202.5h0M132.3 201.6h0M124.3 204.4h0M132.4 189.6h0M137.0 194.8h0M135.5 174.6h0M143.4 183.8h0M150.7 187.5h0M139.9 197.4h0M135.6 197.3h0M143.7 183.4h0M146.6 183.3h0M149.4 174.8h0M136.6 180.2h0M143.0 198.3h0M135.7 182.4h0M137.1 177.7h0M148.5 180.2h0M137.0 186.5h0M136.9 185.0h0M140.1 185.8h0" stroke="#c8ccd4" stroke-width="1.00" stroke-linecap="round" stroke-opacity="0.85" fill="none"/>
<line x1="136.7" y1="169.4" x2="136.7" y2="227.9" stroke="#a4a4a4" stroke-width="1.1"/>
<path d="M137.8 172.7h0M135.1 174.1h0M132.9 172.6h0M136.0 172.7h0M132.2 173.3h0M135.8 174.4h0M132.6 174.4h0M134.8 170.3h0M134.6 170.4h0M133.3 176.2h0M136.6 172.9h0M137.9 175.6h0M134.1 174.5h0M135.6 170.2h0M130.5 181.6h0M132.9 173.5h0M131.4 186.5h0M131.2 177.6h0M132.2 190.9h0M131.4 184.3h0M131.5 183.4h0M130.6 182.8h0M130.9 187.6h0M131.3 180.7h0M130.8 187.5h0M147.0 200.5h0M148.4 203.1h0M155.0 206.7h0M144.2 209.0h0M153.5 203.6h0" stroke="#4a58c4" stroke-width="1.10" stroke-linecap="round" stroke-opacity="0.9" fill="none"/>
<path d="M135.2 176.2h0M134.1 173.5h0M133.8 172.3h0M140.6 171.8h0M133.7 174.9h0M135.5 173.7h0M134.2 172.5h0M132.5 173.0h0M137.4 173.8h0M134.1 174.3h0M137.9 174.8h0M133.4 176.7h0M139.1 170.7h0M139.1 170.2h0M136.9 173.0h0M131.5 173.0h0M138.1 175.9h0M134.1 175.5h0M135.5 172.5h0M140.2 172.3h0M133.7 170.9h0M134.4 173.9h0M133.7 185.6h0M131.5 182.5h0M131.2 195.0h0M129.5 185.2h0M133.5 188.9h0M132.1 187.3h0M131.9 177.4h0M129.8 180.7h0M131.6 191.2h0M130.7 182.5h0M142.0 208.3h0" stroke="#3e4cb8" stroke-width="1.10" stroke-linecap="round" stroke-opacity="0.9" fill="none"/>
<path d="M134.3 172.9h0M134.7 172.6h0M135.8 171.3h0M133.4 171.9h0M134.8 171.8h0M130.0 170.2h0M139.1 175.6h0M136.2 175.0h0M134.0 172.7h0M137.1 172.7h0M134.8 173.5h0M134.1 173.2h0M133.8 173.6h0M133.1 170.4h0M136.9 174.4h0M136.8 173.0h0M134.3 171.7h0M137.4 171.9h0M136.2 170.5h0M133.4 170.4h0M136.5 172.5h0M132.9 173.4h0M132.7 182.9h0M132.6 183.4h0M132.6 181.4h0M132.7 185.3h0M131.7 185.7h0M132.7 184.9h0M133.4 176.1h0M132.4 183.1h0M132.0 191.0h0M132.1 180.6h0M132.3 193.8h0M131.9 190.4h0M132.3 175.9h0M130.4 190.4h0M129.9 178.7h0M130.3 182.4h0M127.2 193.4h0M130.8 185.8h0M133.0 184.8h0M129.9 175.2h0M133.4 193.1h0M129.7 180.8h0M145.9 199.1h0M150.8 206.5h0M153.5 198.8h0" stroke="#5664c4" stroke-width="1.10" stroke-linecap="round" stroke-opacity="0.9" fill="none"/>
<path d="M133.9 172.3h0M136.0 175.6h0M136.8 172.0h0M136.7 174.2h0M134.7 175.7h0M135.7 175.1h0M128.6 172.4h0M134.7 176.4h0M135.7 173.1h0M135.5 172.1h0M136.4 172.3h0M135.3 176.7h0M137.2 171.7h0M134.3 176.5h0M130.8 172.9h0M134.3 171.6h0M132.0 178.2h0M135.0 175.4h0M135.2 170.6h0M137.5 173.0h0M137.2 171.4h0M138.9 173.2h0M135.7 174.7h0M137.3 173.2h0M130.1 183.5h0M131.7 186.0h0M131.4 193.5h0M132.7 186.9h0M135.3 176.5h0M131.5 172.7h0M132.9 191.2h0M131.7 178.4h0M131.3 176.4h0M131.1 186.8h0M128.3 174.4h0M130.8 171.0h0M147.2 204.0h0M155.3 208.1h0M150.7 199.3h0" stroke="#6470c4" stroke-width="1.10" stroke-linecap="round" stroke-opacity="0.9" fill="none"/>
<path d="M138.3 183.7h0M143.7 178.1h0M145.4 184.8h0M143.0 186.3h0M144.5 177.9h0M139.2 202.4h0M141.1 191.5h0M143.5 181.8h0M145.7 191.1h0M138.5 192.5h0M144.2 197.4h0M143.5 180.3h0M140.9 184.0h0M141.0 188.1h0M142.1 183.8h0M144.0 183.6h0M144.5 182.3h0M142.8 198.5h0M144.1 202.5h0M140.5 178.8h0M144.4 188.6h0M141.7 186.6h0M143.3 186.4h0M144.4 198.2h0M143.9 188.6h0M143.7 199.8h0M138.3 182.4h0M144.3 190.5h0M141.7 173.8h0M145.1 183.2h0M141.8 188.7h0M144.1 177.9h0M144.1 186.3h0M144.8 196.2h0M142.9 184.1h0M139.3 196.7h0M145.3 196.6h0M147.0 183.2h0M144.2 186.2h0" stroke="#6470c4" stroke-width="1.10" stroke-linecap="round" stroke-opacity="0.95" fill="none"/>
<path d="M142.7 186.0h0M143.2 188.1h0M143.1 183.5h0M143.8 195.6h0M145.2 185.7h0M146.0 185.9h0M142.4 203.5h0M138.5 193.6h0M141.9 195.3h0M144.8 194.9h0M141.1 185.7h0M139.4 201.9h0M146.4 188.4h0M146.5 175.8h0M141.6 189.1h0M146.3 184.4h0M141.3 192.1h0M141.3 182.0h0M143.4 199.1h0M145.9 179.6h0M145.2 191.4h0M145.5 183.7h0M144.1 186.5h0M140.7 190.5h0M141.0 198.4h0M142.0 177.3h0M137.8 184.4h0M144.3 178.1h0M142.7 184.6h0" stroke="#4a58c4" stroke-width="1.10" stroke-linecap="round" stroke-opacity="0.95" fill="none"/>
<path d="M143.8 176.2h0M143.4 194.7h0M141.9 185.5h0M145.5 185.2h0M142.8 181.0h0M142.4 186.3h0M149.5 181.6h0M144.3 177.9h0M148.5 187.7h0M141.7 192.2h0M146.5 180.3h0M142.6 175.6h0M145.7 190.9h0M137.1 177.1h0M143.9 193.3h0M140.1 199.2h0M145.0 194.4h0M139.0 188.9h0M139.1 184.0h0M140.6 185.1h0M141.9 200.2h0M145.1 198.8h0M145.9 207.6h0M146.4 190.4h0M138.1 195.0h0M144.5 191.7h0M140.5 186.4h0M143.5 182.0h0M143.5 181.1h0M141.0 187.0h0M143.0 190.4h0" stroke="#5664c4" stroke-width="1.10" stroke-linecap="round" stroke-opacity="0.95" fill="none"/>
<path d="M141.0 174.2h0M140.4 184.6h0M144.9 180.3h0M148.1 188.6h0M145.7 191.3h0M145.5 192.1h0M144.5 195.0h0M145.7 186.7h0M146.0 186.5h0M144.5 176.6h0M145.6 188.4h0M141.9 187.4h0M146.3 182.9h0M140.0 186.9h0M142.4 187.5h0M143.5 188.1h0M142.0 178.4h0M145.0 192.4h0M146.2 200.2h0M145.5 189.7h0M144.6 177.7h0M141.5 185.4h0M142.1 188.1h0M147.8 176.7h0M143.5 180.3h0M140.6 186.2h0M143.4 188.7h0M142.6 188.8h0M138.9 191.7h0M143.0 188.5h0M144.2 201.0h0" stroke="#3e4cb8" stroke-width="1.10" stroke-linecap="round" stroke-opacity="0.95" fill="none"/>
<rect x="107.5" y="169.4" width="57.69999999999999" height="58.5" fill="none" stroke="#777" stroke-width="0.85"/>
<text x="107.5" y="231.9" font-size="3.6" text-anchor="middle" fill="#383838">2<tspan font-size="2.3" dy="-1">-5</tspan></text>
<text x="113.3" y="231.9" font-size="3.6" text-anchor="middle" fill="#383838">2<tspan font-size="2.3" dy="-1">-4</tspan></text>
<text x="119.0" y="231.9" font-size="3.6" text-anchor="middle" fill="#383838">2<tspan font-size="2.3" dy="-1">-3</tspan></text>
<text x="124.8" y="231.9" font-size="3.6" text-anchor="middle" fill="#383838">2<tspan font-size="2.3" dy="-1">-2</tspan></text>
<text x="130.6" y="231.9" font-size="3.6" text-anchor="middle" fill="#383838">2<tspan font-size="2.3" dy="-1">-1</tspan></text>
<text x="136.3" y="231.9" font-size="3.6" text-anchor="middle" fill="#383838">2<tspan font-size="2.3" dy="-1">0</tspan></text>
<text x="142.1" y="231.9" font-size="3.6" text-anchor="middle" fill="#383838">2<tspan font-size="2.3" dy="-1">1</tspan></text>
<text x="147.9" y="231.9" font-size="3.6" text-anchor="middle" fill="#383838">2<tspan font-size="2.3" dy="-1">2</tspan></text>
<text x="153.7" y="231.9" font-size="3.6" text-anchor="middle" fill="#383838">2<tspan font-size="2.3" dy="-1">3</tspan></text>
<text x="159.4" y="231.9" font-size="3.6" text-anchor="middle" fill="#383838">2<tspan font-size="2.3" dy="-1">4</tspan></text>
<text x="165.2" y="231.9" font-size="3.6" text-anchor="middle" fill="#383838">2<tspan font-size="2.3" dy="-1">5</tspan></text>
<text x="106.7" y="170.4" font-size="3.6" text-anchor="end" fill="#383838">10<tspan font-size="2.3" dy="-1">-0</tspan></text>
<text x="106.7" y="182.1" font-size="3.6" text-anchor="end" fill="#383838">10<tspan font-size="2.3" dy="-1">-2</tspan></text>
<text x="106.7" y="193.8" font-size="3.6" text-anchor="end" fill="#383838">10<tspan font-size="2.3" dy="-1">-4</tspan></text>
<text x="106.7" y="205.5" font-size="3.6" text-anchor="end" fill="#383838">10<tspan font-size="2.3" dy="-1">-6</tspan></text>
<text x="106.7" y="217.2" font-size="3.6" text-anchor="end" fill="#383838">10<tspan font-size="2.3" dy="-1">-8</tspan></text>
<text x="106.7" y="228.9" font-size="3.6" text-anchor="end" fill="#383838">10<tspan font-size="2.3" dy="-1">-10</tspan></text>
<rect x="24.5" y="249.4" width="58.900000000000006" height="58.79999999999998" fill="#fff"/>
<line x1="27.3" y1="249.4" x2="27.3" y2="308.2" stroke="#b0b0b0" stroke-width="0.7"/>
<line x1="43.7" y1="249.4" x2="43.7" y2="308.2" stroke="#b0b0b0" stroke-width="0.7"/>
<line x1="76.2" y1="249.4" x2="76.2" y2="308.2" stroke="#b0b0b0" stroke-width="0.7"/>
<line x1="24.5" y1="257.0" x2="83.4" y2="257.0" stroke="#b0b0b0" stroke-width="0.7"/>
<line x1="24.5" y1="305.0" x2="83.4" y2="305.0" stroke="#b0b0b0" stroke-width="0.7"/>
<line x1="60.0" y1="249.4" x2="60.0" y2="308.2" stroke="#707070" stroke-width="0.75"/>
<line x1="24.5" y1="273.2" x2="83.4" y2="273.2" stroke="#707070" stroke-width="0.75"/>
<line x1="24.5" y1="289.9" x2="83.4" y2="289.9" stroke="#707070" stroke-width="0.75"/>
<path d="M39.7 291.5h0M57.0 276.3h0M40.3 287.7h0M48.1 306.8h0M54.7 280.8h0M46.8 294.1h0M46.2 282.5h0M45.9 285.7h0M76.2 252.9h0M54.1 284.7h0M46.9 285.5h0M56.0 269.0h0M69.3 265.2h0M64.3 272.6h0M41.0 293.0h0M72.4 260.0h0M80.2 256.7h0M50.8 280.8h0M26.4 306.0h0M50.4 265.2h0M30.3 296.8h0M32.1 294.3h0M54.6 283.7h0M45.3 292.6h0M29.5 298.1h0M71.6 259.4h0M48.6 280.3h0M65.1 266.4h0M59.1 279.7h0M50.5 281.3h0M54.8 269.8h0M59.2 266.7h0M41.5 279.5h0M46.3 280.8h0M59.2 280.7h0M71.2 257.6h0M71.9 262.7h0M59.3 276.8h0M73.0 254.1h0M46.3 287.6h0M43.7 291.8h0M44.9 286.5h0M64.7 269.5h0M55.7 275.1h0M38.3 291.6h0M72.7 262.1h0M53.5 278.7h0M63.3 267.2h0M59.2 286.6h0M61.2 268.4h0M55.0 285.3h0M60.5 275.5h0M62.9 275.4h0M38.7 292.2h0M42.3 290.7h0M74.1 268.2h0M50.8 294.1h0M36.6 293.1h0M45.4 285.4h0M69.9 273.4h0M74.4 254.7h0M61.9 274.2h0M51.9 290.0h0M49.1 259.8h0M38.5 294.4h0M69.4 264.7h0M51.4 283.0h0M72.5 258.1h0M64.1 278.3h0M41.4 298.2h0M79.5 266.5h0M76.8 257.9h0M49.1 285.2h0M50.8 294.9h0M57.1 276.5h0M48.5 279.8h0M61.4 281.3h0M49.1 285.2h0M60.5 277.2h0M67.5 258.1h0M29.0 296.9h0M58.2 275.6h0M41.1 285.7h0M56.6 278.8h0M65.0 265.3h0M76.4 258.9h0M49.5 278.2h0M80.2 256.9h0M57.0 283.1h0M68.6 266.1h0M46.8 278.8h0M67.5 264.4h0M59.0 270.2h0M53.6 279.5h0M51.8 277.9h0M78.0 255.8h0M59.3 266.7h0M43.8 292.8h0M50.9 272.5h0M79.9 256.5h0M65.3 283.6h0M77.8 257.1h0M72.2 266.3h0M55.7 287.8h0M45.1 294.4h0M62.2 273.0h0M50.1 267.9h0M36.3 299.2h0M39.0 292.8h0M48.5 286.7h0M47.3 287.3h0M49.9 277.1h0M48.9 291.8h0M27.9 305.3h0M58.4 268.4h0M38.0 299.6h0M64.2 260.6h0M51.1 277.8h0M45.7 283.1h0M67.2 272.3h0M61.6 273.0h0M65.8 270.0h0M74.7 257.1h0M58.7 270.9h0M58.7 278.5h0M42.9 288.4h0M48.8 284.9h0M37.7 295.8h0M27.8 300.6h0M40.9 283.3h0M64.5 269.9h0M48.1 281.0h0M69.6 261.0h0M60.0 276.5h0M27.5 299.6h0M41.8 284.3h0M48.8 284.6h0M68.6 259.4h0M41.4 279.7h0M46.4 286.2h0M62.4 273.9h0M58.2 265.0h0M68.1 264.7h0M57.0 276.1h0M71.3 260.4h0M37.2 295.7h0M58.6 263.2h0M52.2 276.3h0M69.7 260.2h0M43.4 290.9h0M53.8 283.9h0M34.0 301.0h0M30.4 298.0h0M53.9 279.4h0M61.1 259.8h0M67.4 264.2h0M63.0 279.8h0M53.1 266.7h0M74.3 263.8h0M70.9 254.8h0M71.8 265.3h0M45.9 289.3h0M57.8 276.3h0M59.8 277.9h0M40.0 293.9h0M57.0 281.6h0M48.7 275.8h0M48.0 283.6h0M40.2 295.2h0M57.1 271.5h0M63.7 273.2h0M59.4 280.3h0M61.7 275.1h0M73.1 251.9h0M57.7 278.1h0M46.4 288.4h0M39.2 290.4h0M34.1 299.2h0M61.5 262.3h0M54.4 281.6h0M39.5 287.5h0M53.1 272.0h0M53.7 277.9h0M51.8 274.3h0M31.9 296.9h0M60.0 269.8h0M48.4 283.5h0M64.6 275.8h0M65.5 267.3h0M63.5 269.8h0M66.7 266.2h0M72.4 250.3h0M57.7 269.5h0M52.5 277.7h0M56.1 293.0h0M67.6 268.3h0M65.7 272.9h0M51.0 272.1h0M75.6 253.6h0M67.5 261.6h0M57.0 273.7h0M38.9 295.4h0M43.6 297.9h0M35.3 303.5h0M60.2 271.2h0M49.3 281.2h0M43.9 284.6h0M42.6 287.0h0M42.0 296.0h0M73.1 254.8h0M48.9 279.9h0M55.0 273.8h0M71.7 262.3h0M46.7 280.2h0M60.3 269.4h0M57.1 281.1h0M41.9 295.2h0M77.1 259.5h0M51.0 275.5h0M63.1 270.5h0M66.2 265.3h0M55.7 264.6h0M38.6 288.7h0M49.8 272.9h0M80.7 252.3h0M43.3 291.9h0M29.6 304.4h0M30.1 298.1h0M53.8 282.5h0M80.9 252.3h0M41.1 282.8h0M61.3 265.0h0M50.8 284.3h0M43.9 267.7h0M62.8 271.7h0M34.2 298.4h0M75.1 261.7h0M41.9 296.9h0M70.1 259.6h0M72.4 257.3h0M68.3 275.2h0M43.7 292.7h0M63.0 268.0h0M55.0 285.7h0M71.8 262.7h0M62.2 270.9h0M68.6 262.9h0M35.4 300.2h0M26.5 302.7h0M42.2 295.7h0M48.0 280.0h0M51.9 285.6h0M36.2 296.5h0M37.2 300.0h0M56.6 271.2h0M65.2 264.9h0M64.1 270.6h0M64.9 264.5h0M36.2 296.0h0M40.6 292.7h0M63.7 266.3h0M38.2 294.0h0M31.8 299.5h0M42.3 283.8h0M60.2 279.4h0M27.3 304.0h0M42.7 279.3h0" stroke="#b4b4b4" stroke-width="1.00" stroke-linecap="round" stroke-opacity="0.8" fill="none"/>
<path d="M74.1 256.4h0M47.6 291.1h0M47.6 289.4h0M39.2 299.6h0M50.7 268.1h0M62.1 265.8h0M50.6 291.1h0M75.0 290.6h0M65.9 261.2h0M41.9 294.8h0M57.1 282.9h0M65.5 260.0h0M57.8 274.2h0M66.7 261.9h0M56.4 275.2h0M75.5 256.5h0M71.3 259.9h0M54.8 272.3h0M47.4 274.7h0M52.1 279.5h0M71.1 257.8h0M47.4 274.0h0M58.1 279.1h0M44.4 276.0h0M70.6 258.3h0M58.7 294.4h0M32.5 300.9h0M34.8 285.3h0M42.3 296.1h0M73.1 265.3h0M50.0 289.2h0M61.9 271.8h0M53.8 285.2h0M63.3 278.4h0M36.5 298.2h0M31.5 297.7h0M68.1 266.6h0M62.0 272.5h0M69.4 279.4h0M79.7 251.4h0M53.1 276.9h0M46.7 279.4h0M39.9 294.4h0M63.3 264.8h0M58.1 287.2h0M61.9 274.8h0M53.7 276.3h0M46.7 289.4h0M75.4 259.2h0M49.5 289.0h0M55.3 291.8h0M27.7 303.1h0M39.2 298.9h0M48.5 279.8h0M47.4 279.2h0M39.7 274.5h0M63.1 269.6h0M80.6 257.7h0M51.6 279.5h0M35.8 301.6h0M39.5 292.6h0M56.8 267.4h0M51.4 286.3h0M73.1 264.0h0M59.5 275.2h0M60.5 270.8h0M53.1 290.1h0M70.7 257.5h0M41.7 289.3h0M36.5 297.7h0M42.6 285.5h0M30.2 304.4h0M56.0 283.0h0M61.5 273.0h0M46.2 276.5h0M34.8 297.9h0M63.3 269.4h0M29.0 305.0h0M41.0 290.6h0M36.6 292.6h0M57.0 282.2h0M76.4 256.2h0M31.7 299.0h0M46.0 284.3h0M65.9 275.5h0M40.4 264.1h0M76.3 268.1h0M62.6 275.6h0M40.8 282.4h0M40.9 298.2h0M36.6 293.6h0M54.6 286.2h0M44.7 286.7h0M42.1 291.9h0M46.8 292.5h0M52.6 282.7h0M28.9 303.8h0M40.2 283.8h0M54.6 266.6h0M37.1 298.2h0M69.6 269.3h0M64.8 270.6h0M73.4 266.9h0M31.8 295.5h0M62.1 281.0h0M67.0 273.9h0M43.4 282.4h0M53.2 254.2h0M52.2 289.2h0M61.9 268.9h0M36.9 283.6h0M34.2 296.3h0M61.0 273.7h0M45.7 286.1h0M34.2 306.7h0M48.7 287.0h0M46.0 284.5h0M58.0 273.9h0M29.5 299.9h0M56.2 275.6h0M76.0 253.7h0M40.3 290.7h0M69.4 267.7h0M52.9 270.4h0M58.0 279.5h0M53.0 274.6h0M43.9 291.2h0M63.9 260.2h0M76.1 267.8h0M59.6 274.3h0M66.4 266.6h0M49.3 290.0h0M43.0 301.4h0M36.7 302.7h0M77.0 258.4h0M53.5 271.8h0M48.8 275.7h0M50.1 289.1h0M78.2 257.2h0M71.8 263.8h0M49.3 281.7h0M81.6 251.1h0M33.1 299.4h0M45.2 282.7h0M50.9 275.0h0M56.0 279.2h0M38.0 290.9h0M77.7 254.0h0M69.5 263.4h0M43.3 278.6h0M30.2 298.5h0M74.6 255.7h0M31.3 302.2h0M60.8 269.1h0M55.5 272.3h0M26.4 306.3h0M78.8 254.9h0M53.3 279.8h0M48.5 278.3h0M68.9 256.8h0M63.2 272.1h0M29.8 294.6h0M76.6 256.1h0M76.2 255.7h0M60.5 274.9h0M61.6 269.1h0M61.2 275.1h0M55.7 267.4h0M43.4 276.5h0M61.5 277.2h0M50.3 297.1h0M64.9 267.4h0M73.2 259.6h0M35.0 278.2h0M76.0 254.1h0M33.6 289.5h0M39.6 284.7h0M45.3 293.3h0M51.6 284.7h0M40.4 290.8h0M61.9 276.3h0M55.6 280.2h0M30.8 303.3h0M56.4 278.8h0M74.5 257.9h0M74.7 268.9h0M58.4 282.4h0M27.5 298.4h0M38.9 296.6h0M71.5 261.2h0M58.7 270.7h0M67.1 260.5h0M63.0 266.3h0M53.4 279.4h0M73.3 257.0h0M65.3 268.8h0M38.1 283.2h0M75.7 256.9h0M54.2 282.7h0M48.1 283.6h0M34.3 298.8h0M46.7 293.7h0M50.3 282.5h0M32.8 294.5h0M49.6 282.9h0M70.3 259.0h0M54.2 283.5h0M28.0 304.9h0M65.6 273.1h0M68.7 260.6h0M68.7 267.4h0M44.7 292.6h0M53.8 285.5h0M55.2 280.1h0M61.8 273.8h0M57.5 274.9h0M63.5 279.5h0M75.7 256.4h0M62.8 272.5h0M67.7 271.4h0M52.1 276.6h0M43.1 292.2h0M57.1 273.1h0M29.4 304.3h0M69.6 268.1h0M74.2 265.8h0M66.5 271.2h0M45.4 285.3h0M52.9 273.0h0M49.9 278.2h0M66.7 265.7h0M56.4 277.8h0M49.2 282.7h0M30.7 299.0h0M43.0 288.6h0M51.7 293.4h0M63.8 268.1h0M51.3 285.9h0M32.9 296.0h0M70.6 255.4h0M60.6 276.4h0M34.8 286.2h0M79.1 257.0h0M73.1 257.0h0M39.8 295.3h0M77.2 264.8h0M32.7 303.7h0M42.0 289.4h0M70.2 264.3h0M74.6 257.1h0M62.2 280.9h0M39.2 287.3h0M29.4 306.5h0M60.2 261.9h0M59.5 267.0h0M46.8 295.0h0M64.4 281.5h0M37.1 289.9h0M56.1 284.9h0M77.2 259.1h0M56.0 286.8h0M50.2 281.1h0M73.0 258.7h0M31.0 297.3h0M55.8 285.9h0M72.9 270.1h0M60.7 271.1h0M70.6 259.0h0M54.5 276.5h0M56.8 272.8h0" stroke="#a4a4a4" stroke-width="1.00" stroke-linecap="round" stroke-opacity="0.8" fill="none"/>
<path d="M56.4 267.9h0M30.8 298.7h0M41.2 290.7h0M42.9 290.6h0M56.7 271.3h0M62.9 266.1h0M30.7 300.3h0M61.7 283.3h0M61.1 271.0h0M78.8 258.9h0M41.6 295.7h0M45.2 286.1h0M47.9 283.4h0M39.1 272.9h0M40.5 287.3h0M55.7 269.6h0M37.1 296.8h0M53.6 266.5h0M70.8 260.0h0M63.8 266.2h0M62.6 271.2h0M53.0 280.7h0M40.2 288.4h0M59.5 278.1h0M59.3 266.4h0M37.8 287.3h0M52.1 282.9h0M41.4 286.8h0M73.6 266.8h0M38.6 300.5h0M39.7 286.1h0M30.3 296.1h0M60.8 268.7h0M32.4 300.7h0M76.3 256.9h0M62.6 272.8h0M68.9 265.6h0M57.3 285.8h0M49.4 276.0h0M53.7 289.4h0M42.7 289.9h0M53.2 281.6h0M58.9 288.9h0M52.6 283.8h0M81.7 253.5h0M69.7 268.9h0M77.4 255.1h0M68.5 264.9h0M60.3 284.1h0M52.5 276.5h0M77.7 253.9h0M58.1 279.2h0M58.3 283.2h0M49.3 294.0h0M46.9 286.1h0M39.4 296.7h0M48.1 293.3h0M53.8 280.0h0M70.0 266.4h0M47.8 286.9h0M30.9 299.2h0M40.8 287.6h0M36.2 296.8h0M67.5 259.7h0M65.2 271.2h0M44.4 284.0h0M50.5 289.3h0M61.7 273.9h0M63.7 273.9h0M59.5 273.8h0M67.2 262.2h0M45.7 284.9h0M43.1 289.0h0M33.1 280.4h0M58.5 274.6h0M54.0 278.3h0M64.4 274.3h0M45.7 302.5h0M36.0 299.1h0M66.1 274.4h0M57.6 271.5h0M54.8 278.5h0M47.1 290.2h0M70.9 262.8h0M70.4 260.0h0M46.9 279.6h0M33.6 291.9h0M59.5 265.1h0M51.4 289.8h0M75.9 258.1h0M43.4 280.0h0M63.0 264.0h0M73.2 261.7h0M31.8 297.8h0M69.0 269.9h0M39.5 293.4h0M57.6 279.2h0M58.1 271.4h0M57.7 269.5h0M57.4 272.5h0M59.7 272.9h0M50.6 267.3h0M39.5 278.3h0M42.1 281.9h0M51.5 283.8h0M66.7 263.4h0M55.5 277.7h0M76.0 258.3h0M52.4 264.9h0M53.3 275.8h0M82.4 253.7h0M70.3 263.7h0M52.1 257.2h0M79.4 255.3h0M62.2 269.5h0M49.1 275.2h0M63.9 275.6h0M38.8 287.2h0M74.3 260.4h0M32.7 300.3h0M43.3 290.9h0M62.6 262.8h0M41.5 286.2h0M33.8 296.6h0M58.3 257.2h0M73.5 260.8h0M68.3 266.3h0M39.3 288.4h0M43.0 292.9h0M67.9 263.5h0M29.6 302.3h0M36.2 295.1h0M47.1 275.3h0M45.5 291.5h0M51.1 269.1h0M45.7 286.8h0M42.6 269.7h0M33.7 293.0h0M40.3 292.1h0M39.7 280.1h0M72.7 256.1h0M45.4 280.6h0M32.9 295.9h0M77.2 251.8h0M56.8 273.8h0M45.1 292.0h0M46.3 288.1h0M60.9 270.4h0M28.6 306.0h0M62.6 264.9h0M48.4 299.1h0M67.0 265.7h0M68.1 262.2h0M41.6 295.1h0M41.5 293.5h0M62.9 275.1h0M27.9 301.1h0M80.1 262.3h0M76.0 261.5h0M42.9 278.2h0M39.0 287.6h0M51.4 272.6h0M34.7 295.5h0M59.1 278.5h0M44.6 284.2h0M67.6 260.1h0M32.7 303.3h0M56.1 276.8h0M76.6 275.2h0M37.5 287.8h0M70.0 266.6h0M58.4 264.5h0M62.6 265.8h0M60.6 280.7h0M54.9 280.2h0M74.4 257.5h0M31.2 302.0h0M56.3 276.0h0M59.1 271.1h0M54.9 286.0h0M77.3 253.5h0M56.9 290.0h0M70.0 260.6h0M45.3 272.4h0M76.6 277.0h0M30.4 300.0h0M67.2 270.7h0M73.9 256.0h0M58.0 263.0h0M65.5 266.2h0M68.1 268.7h0M64.8 274.9h0M56.7 279.9h0M62.1 275.5h0M59.1 273.4h0M33.1 304.0h0M70.5 260.8h0M69.6 259.4h0M50.9 284.9h0M38.1 291.4h0M57.3 269.4h0M57.2 275.8h0M51.4 281.9h0M65.3 268.4h0M51.2 280.3h0M64.4 279.2h0M49.3 284.7h0M45.2 293.6h0M61.8 284.4h0M51.3 285.2h0M59.2 287.3h0M62.1 267.7h0M51.3 265.8h0M47.2 275.0h0M32.1 298.3h0M75.5 265.9h0M74.6 259.7h0M65.3 267.8h0M49.9 266.5h0M69.9 259.6h0M65.4 277.0h0M60.1 283.5h0M65.8 267.5h0M41.9 289.2h0M70.7 259.9h0M62.3 264.1h0M40.1 288.0h0M56.7 263.9h0M64.9 276.2h0M79.5 258.6h0M26.5 302.5h0M53.1 279.6h0M71.5 266.5h0M54.7 271.7h0M69.8 266.9h0M55.2 277.1h0M45.2 276.0h0M63.1 262.3h0M80.0 254.2h0M76.0 259.4h0M38.6 299.5h0M67.0 265.0h0M37.2 300.2h0M69.2 269.3h0M68.9 271.3h0M73.4 259.3h0M50.8 281.2h0M29.4 304.6h0M60.0 269.9h0M54.7 280.1h0M34.1 297.5h0M55.3 278.7h0M52.8 285.9h0M42.0 285.1h0M63.3 262.2h0M73.5 259.3h0M54.4 282.2h0M35.8 293.5h0M54.8 290.2h0M55.4 274.2h0M45.1 286.1h0M48.1 282.9h0M45.8 291.5h0M46.7 274.5h0M63.0 283.2h0M31.8 295.3h0M63.2 270.4h0M45.4 283.3h0M28.0 302.5h0M78.1 266.4h0M44.4 294.0h0M70.4 269.9h0M75.9 262.6h0M48.7 281.7h0M47.1 281.3h0M58.8 274.8h0M63.6 275.1h0M65.9 277.1h0M30.6 301.5h0M41.6 288.0h0M53.3 273.9h0M60.1 264.5h0M66.0 262.8h0M45.3 296.4h0M71.9 265.4h0M56.1 278.4h0M33.7 297.6h0M74.4 257.2h0M65.7 267.6h0M30.9 298.3h0M66.7 264.2h0M51.0 283.2h0M63.8 267.2h0M68.5 266.5h0" stroke="#c0c0c0" stroke-width="1.00" stroke-linecap="round" stroke-opacity="0.8" fill="none"/>
<path d="M58.6 283.5h0M47.6 277.5h0M64.6 266.5h0M70.3 273.5h0M55.7 261.4h0M72.6 264.9h0M41.1 298.1h0M48.5 263.1h0M78.8 255.9h0M62.1 269.7h0M69.6 274.0h0M76.2 263.8h0M67.4 278.5h0M46.3 291.7h0M71.1 267.9h0M70.2 262.1h0M47.6 287.1h0M80.8 252.7h0M59.4 272.8h0M54.1 283.6h0M70.1 266.6h0M46.6 286.1h0M43.3 279.1h0M55.5 289.8h0M57.1 269.9h0M39.5 290.3h0M34.2 293.4h0M52.1 303.7h0M59.1 263.9h0M39.9 298.2h0M68.8 267.7h0M67.4 262.3h0M48.6 286.9h0M48.1 276.5h0M65.0 274.4h0M61.5 270.2h0M54.0 290.9h0M59.2 277.7h0M63.7 281.3h0M47.6 281.8h0M73.9 279.6h0M62.1 280.0h0M64.1 266.2h0M45.7 284.1h0M67.5 267.0h0M43.1 294.8h0M41.6 293.7h0M44.7 291.2h0M66.5 256.6h0M57.4 270.1h0M54.2 268.1h0M41.0 286.8h0M61.2 280.7h0M60.0 271.7h0M76.9 250.9h0M64.5 281.3h0M53.1 277.8h0M51.4 281.8h0M48.6 287.1h0M67.8 271.5h0M58.0 269.5h0M58.8 277.5h0M76.0 265.1h0M64.7 269.9h0M40.8 297.7h0M72.7 265.5h0M35.2 286.2h0M57.2 276.6h0M38.8 300.4h0M70.8 264.4h0M59.7 268.4h0M71.4 259.5h0M31.5 296.2h0M65.9 259.0h0M30.6 300.5h0M73.1 256.1h0M56.3 286.1h0M51.5 283.2h0M42.0 289.0h0M55.2 285.6h0M57.9 284.0h0M59.7 275.4h0M51.6 271.6h0M42.4 291.7h0M44.7 284.7h0M70.1 256.7h0M51.8 280.6h0M56.2 282.3h0M75.0 256.8h0M47.2 299.9h0M58.9 273.5h0M78.0 254.3h0M36.2 295.6h0M67.5 295.7h0M49.4 293.4h0M48.2 273.4h0M74.6 257.8h0M52.9 266.6h0M42.3 292.0h0M74.0 264.6h0M52.3 276.8h0M35.6 301.5h0M59.9 271.9h0M46.6 291.7h0M48.2 270.0h0M48.1 286.6h0M46.0 283.6h0M48.2 290.0h0M51.4 267.5h0M57.4 275.2h0M31.5 298.6h0M63.9 265.0h0M39.3 291.2h0M79.5 252.8h0M44.8 288.7h0M63.2 265.2h0M69.9 265.0h0M68.5 259.5h0M56.8 287.9h0M68.9 261.5h0M56.3 275.3h0M57.4 278.9h0M32.8 296.9h0M65.6 270.4h0M55.2 281.7h0M40.6 288.9h0M69.8 262.4h0M67.7 261.7h0M73.0 263.5h0M36.8 295.5h0M69.6 271.3h0M71.0 268.8h0M38.4 290.0h0M50.2 280.8h0M79.5 256.2h0M36.2 297.9h0M58.8 276.1h0M50.8 272.0h0M68.9 266.3h0M53.0 285.9h0M75.1 258.2h0M67.3 261.0h0M33.8 302.2h0M82.1 253.8h0M47.1 275.4h0M43.2 289.4h0M64.8 264.9h0M44.9 296.3h0M68.7 263.1h0M46.6 283.5h0M71.5 264.1h0M50.0 273.4h0M54.3 271.9h0M49.6 278.4h0M45.4 289.0h0M53.1 288.2h0M58.7 273.8h0M46.5 290.5h0M71.6 262.4h0M51.5 276.9h0M79.5 258.4h0M65.6 263.3h0M55.3 276.6h0M39.4 293.1h0M60.3 265.7h0M64.7 268.4h0M54.7 279.0h0M46.3 281.7h0M56.9 279.0h0M50.6 288.9h0M45.9 278.2h0M67.3 273.6h0M37.9 290.1h0M44.9 280.3h0M65.3 275.4h0M68.2 265.3h0M58.8 270.2h0M76.1 259.3h0M47.4 283.8h0M78.2 262.7h0M52.9 277.1h0M52.4 281.5h0M56.9 266.0h0M28.6 303.6h0M62.9 257.8h0M45.5 294.5h0M60.7 274.0h0M55.9 281.5h0M33.4 298.7h0M70.6 259.1h0M59.3 276.2h0M52.9 272.0h0M38.9 293.0h0M47.3 278.8h0M63.2 286.8h0M61.5 270.9h0M57.1 276.3h0M65.6 273.0h0M47.8 284.5h0M61.4 277.6h0M32.1 292.6h0M67.4 255.1h0M51.6 288.6h0M73.5 254.7h0M76.6 253.4h0M68.5 268.6h0M73.2 261.2h0M72.8 254.6h0M36.3 291.5h0M71.9 272.5h0M72.7 263.8h0M65.7 275.2h0M55.8 276.4h0M73.5 263.2h0M55.2 282.4h0M66.5 270.0h0M65.9 267.5h0M59.2 273.7h0M45.6 280.7h0M49.9 294.4h0M54.0 277.3h0M59.9 264.6h0M77.8 260.2h0M55.9 276.9h0M53.6 278.9h0M71.7 261.4h0M41.2 284.2h0M57.8 265.9h0M58.1 276.7h0M67.7 264.0h0M38.5 294.1h0M76.0 261.7h0M60.2 285.3h0M62.0 260.5h0M32.9 300.6h0M70.7 261.1h0M64.1 263.2h0M41.2 297.3h0M63.4 270.7h0M53.8 273.2h0M55.6 278.0h0M58.4 279.4h0M56.0 279.6h0M50.9 280.3h0M61.1 276.9h0M28.3 305.9h0M70.0 266.6h0M73.8 264.1h0M48.5 287.8h0M50.2 273.8h0M32.8 297.4h0M48.0 274.1h0M42.9 290.0h0M53.7 264.8h0M77.5 254.8h0M71.7 264.2h0M70.6 267.9h0M50.5 284.6h0M36.6 291.3h0M72.8 258.1h0" stroke="#949494" stroke-width="1.00" stroke-linecap="round" stroke-opacity="0.8" fill="none"/>
<path d="M54.5 269.3h0M63.5 273.6h0M57.6 285.4h0M77.1 255.9h0M76.9 256.7h0M49.6 286.1h0M46.5 295.8h0M64.7 266.6h0M48.1 281.0h0M30.3 302.5h0M36.5 304.5h0M69.0 266.7h0M46.1 283.8h0M61.0 271.7h0M54.1 277.4h0M61.0 278.0h0M64.8 263.9h0M75.7 261.8h0M35.4 296.8h0M39.9 289.3h0M62.3 277.5h0M30.9 303.5h0M61.2 263.5h0M45.5 287.4h0M70.7 269.8h0M60.8 269.9h0M58.2 275.0h0M36.8 293.4h0M40.2 293.4h0M75.0 254.7h0M70.5 270.3h0M68.5 273.2h0M51.2 287.1h0M67.0 272.3h0M35.8 299.6h0M51.4 281.6h0M71.8 258.1h0M62.3 269.6h0M48.7 283.1h0M31.5 301.9h0M62.9 261.5h0M46.7 273.4h0M34.8 295.6h0M42.9 284.6h0M56.8 282.3h0M66.8 269.1h0M68.0 265.8h0M37.4 295.2h0M67.5 265.2h0M57.2 267.5h0M44.0 286.9h0M51.5 286.6h0M65.0 263.1h0M60.3 282.8h0M59.7 280.0h0M53.0 281.5h0M57.5 277.2h0M54.3 274.6h0M63.3 266.9h0M33.5 298.9h0M65.7 264.7h0M38.6 293.8h0M72.3 265.1h0M44.4 290.1h0M47.9 282.4h0M70.8 279.3h0M71.3 264.8h0M65.9 268.0h0M56.1 271.5h0M34.7 297.5h0M41.7 297.6h0M44.9 266.9h0M77.7 259.0h0M78.5 258.5h0M77.8 259.5h0M82.2 251.3h0M53.4 272.7h0M38.2 298.1h0M65.5 269.9h0M41.1 281.9h0M56.4 269.9h0M71.3 261.7h0M58.3 274.4h0M29.1 297.1h0M31.7 304.8h0M53.3 271.0h0M70.7 276.8h0M68.3 260.7h0M42.3 290.9h0M33.5 300.5h0M63.3 271.1h0M63.4 276.8h0M77.0 256.6h0M79.7 251.5h0M78.4 259.8h0M38.6 292.1h0M70.2 256.3h0M71.9 264.3h0M62.5 271.2h0M44.7 288.3h0M50.4 283.4h0M70.8 267.4h0M55.8 269.7h0M55.6 277.4h0M43.0 297.2h0M59.0 276.0h0M50.4 289.2h0M73.4 259.0h0M69.1 275.3h0M53.5 287.9h0M50.7 282.3h0M42.7 290.2h0M59.4 271.6h0M71.7 259.7h0M66.6 297.9h0M39.5 290.1h0M37.7 298.4h0M57.8 270.3h0M57.5 273.8h0M39.3 288.3h0M65.8 262.1h0M39.2 290.5h0M46.3 283.8h0M74.2 257.9h0M33.6 301.0h0M36.1 290.1h0M47.4 282.9h0M69.0 260.6h0M77.5 260.1h0M71.7 264.7h0M68.5 264.9h0M49.3 283.4h0M27.3 304.3h0M62.2 282.3h0M54.7 275.8h0M39.6 285.8h0M70.6 262.2h0M69.7 273.4h0M63.6 273.8h0M64.2 267.4h0M56.2 280.9h0M54.6 277.3h0M55.9 274.5h0M41.0 298.5h0M44.9 295.0h0M48.4 292.0h0M59.8 275.6h0M48.4 287.2h0M36.3 299.8h0M47.5 276.4h0M61.5 270.9h0M76.5 261.8h0M68.2 274.8h0M54.0 274.0h0M64.9 260.0h0M59.9 271.5h0M55.3 280.7h0M72.3 259.5h0M71.7 266.4h0M53.3 295.2h0M54.0 281.9h0M80.7 255.0h0M76.7 253.0h0M34.5 301.1h0M67.3 257.1h0M54.0 267.9h0M37.3 297.2h0M43.2 289.9h0M38.2 283.0h0M61.3 261.9h0M78.2 257.2h0M56.7 260.1h0M44.6 291.1h0M45.1 287.8h0M80.4 288.8h0M51.0 276.7h0M73.1 268.9h0M58.4 291.0h0M57.6 273.4h0M74.8 255.0h0M66.9 263.7h0M53.3 282.7h0M48.6 286.6h0M63.7 269.5h0M51.7 272.9h0M50.0 281.6h0M39.7 283.9h0M55.3 272.9h0M50.2 285.8h0M54.1 286.8h0M51.1 281.6h0M58.4 273.2h0M69.2 268.9h0M49.2 278.4h0M55.0 288.2h0M54.9 280.6h0M41.2 299.6h0M39.6 293.5h0M44.1 280.2h0M73.7 257.3h0M59.2 274.9h0M71.8 257.6h0M75.7 261.8h0M74.7 273.2h0M50.2 271.5h0M45.2 276.5h0M47.0 277.8h0M34.0 293.5h0M33.2 300.2h0M72.6 260.2h0M50.2 274.9h0M54.6 267.2h0M58.9 267.8h0M64.3 272.9h0M60.0 280.5h0M60.8 289.3h0M41.3 298.1h0M29.8 301.9h0M68.9 258.2h0M64.1 272.7h0M72.2 262.1h0M40.5 291.7h0M35.1 291.6h0M61.6 288.0h0M56.9 274.8h0M56.9 261.4h0M38.4 299.4h0M33.5 298.0h0M76.5 257.6h0M42.4 285.5h0M49.7 273.0h0M44.9 281.8h0M58.8 278.7h0M58.3 280.4h0M56.4 271.3h0M67.9 275.9h0M45.6 283.3h0M62.0 274.5h0M32.4 293.0h0M49.5 273.9h0M75.2 260.7h0M55.0 277.1h0M53.4 283.8h0M37.9 303.6h0M62.7 265.9h0M51.7 284.3h0M39.9 291.4h0M47.6 291.4h0M61.9 283.6h0M45.8 280.1h0M60.5 278.0h0M64.2 263.9h0M35.6 297.9h0M33.4 297.2h0M46.4 289.1h0M62.8 274.7h0M72.5 268.7h0M55.8 291.4h0M70.6 261.5h0M53.8 271.6h0M58.4 279.7h0M55.0 269.2h0M53.7 272.9h0M50.1 279.5h0M68.5 266.8h0M76.0 254.8h0M32.1 298.2h0M49.5 281.3h0M41.1 284.2h0M62.5 281.6h0M69.8 264.0h0M64.7 279.1h0M48.2 289.1h0M46.9 281.4h0M77.5 262.1h0M29.7 299.5h0M53.7 265.2h0M78.0 259.7h0M46.8 277.5h0M35.3 298.2h0M77.2 258.8h0M47.4 297.1h0M55.2 279.0h0M71.0 268.8h0M75.8 257.7h0M31.3 301.8h0M43.4 282.6h0M48.9 285.9h0M26.4 305.9h0M46.1 278.4h0M68.5 266.3h0M73.3 267.9h0M64.9 277.9h0M71.1 262.9h0M43.3 281.1h0M59.6 274.4h0M63.6 269.6h0M43.4 288.1h0M33.8 298.0h0M69.3 261.3h0M48.7 295.6h0M74.0 259.2h0M47.3 284.4h0M53.0 280.9h0M55.8 276.3h0" stroke="#8c8c8c" stroke-width="1.00" stroke-linecap="round" stroke-opacity="0.8" fill="none"/>
<path d="M73.4 266.1h0M64.2 275.8h0M62.9 277.2h0M35.9 293.9h0M36.6 294.0h0M63.1 276.5h0M63.5 273.4h0M63.5 272.6h0M66.7 272.2h0M55.9 281.7h0M64.2 273.2h0M65.3 274.5h0M37.4 295.4h0M62.6 278.5h0M47.2 283.6h0M36.2 297.5h0M68.5 274.9h0M41.6 291.7h0M58.4 282.6h0M65.6 274.9h0M62.3 276.0h0M64.4 271.9h0M31.4 302.6h0M32.4 299.6h0M59.8 274.3h0M66.6 273.1h0M36.1 297.5h0M41.3 292.8h0M60.4 277.3h0M66.3 275.3h0M73.3 266.9h0M62.8 278.5h0M62.9 277.8h0M65.4 271.6h0M63.3 272.9h0M66.5 275.8h0M59.9 279.1h0" stroke="#e04848" stroke-width="1.00" stroke-linecap="round" stroke-opacity="0.95" fill="none"/>
<path d="M61.3 280.8h0M68.1 270.7h0M69.2 275.9h0M63.9 276.8h0M68.8 267.6h0M68.9 271.7h0M76.1 268.3h0M59.2 280.5h0M41.1 295.1h0M67.2 274.6h0M62.2 278.2h0M68.1 276.4h0M68.2 274.5h0M64.4 272.5h0M61.7 276.8h0M72.3 267.1h0M61.0 278.9h0M60.3 279.3h0M69.2 271.3h0M36.5 295.7h0M48.1 288.0h0M31.6 300.6h0M38.4 299.2h0M67.8 275.0h0M60.7 278.9h0M62.4 279.6h0M45.9 286.4h0M62.1 277.9h0M64.4 277.2h0M59.8 279.1h0M61.6 278.7h0M46.9 287.0h0M66.7 272.1h0M64.6 275.8h0M47.0 286.6h0M67.6 272.6h0M65.1 276.0h0M36.2 298.7h0M64.1 269.9h0" stroke="#dd3030" stroke-width="1.00" stroke-linecap="round" stroke-opacity="0.95" fill="none"/>
<path d="M66.2 273.8h0M32.6 301.8h0M47.6 284.3h0M73.8 265.4h0M67.1 273.4h0M58.9 272.4h0M62.4 275.9h0M63.7 281.1h0M61.9 278.8h0M65.9 272.8h0M66.0 272.8h0M58.9 276.2h0M58.6 273.3h0M68.1 271.0h0M61.4 279.8h0M62.8 276.6h0M65.7 276.1h0M47.2 286.9h0M65.1 275.9h0M36.0 294.7h0M48.1 284.4h0M69.2 272.5h0M71.2 270.0h0M61.8 281.3h0M61.8 280.1h0M55.2 283.1h0M67.2 272.7h0M39.1 300.4h0M62.8 275.7h0M39.6 296.5h0M65.1 276.3h0M59.4 282.1h0M63.5 282.5h0M57.1 277.4h0M62.0 272.6h0M55.2 281.8h0M61.6 278.1h0M64.7 273.5h0M39.4 293.7h0M64.6 273.5h0M65.7 273.9h0M61.4 280.2h0M62.6 278.9h0M59.8 281.6h0" stroke="#c82828" stroke-width="1.00" stroke-linecap="round" stroke-opacity="0.95" fill="none"/>
<line x1="24.5" y1="308.2" x2="83.4" y2="249.4" stroke="#3c3c3c" stroke-width="0.9"/>
<rect x="24.5" y="249.4" width="58.900000000000006" height="58.79999999999998" fill="none" stroke="#404040" stroke-width="0.95"/>
<text x="27.3" y="312.4" font-size="3.6" text-anchor="middle" fill="#383838">10<tspan font-size="2.3" dy="-1">0</tspan></text>
<text x="43.5" y="312.4" font-size="3.6" text-anchor="middle" fill="#383838">10<tspan font-size="2.3" dy="-1">1</tspan></text>
<text x="59.7" y="312.4" font-size="3.6" text-anchor="middle" fill="#383838">10<tspan font-size="2.3" dy="-1">2</tspan></text>
<text x="75.6" y="312.4" font-size="3.6" text-anchor="middle" fill="#383838">10<tspan font-size="2.3" dy="-1">3</tspan></text>
<text x="23.3" y="258.3" font-size="3.6" text-anchor="end" fill="#383838">10<tspan font-size="2.3" dy="-1">3</tspan></text>
<text x="23.3" y="274.4" font-size="3.6" text-anchor="end" fill="#383838">10<tspan font-size="2.3" dy="-1">2</tspan></text>
<text x="23.3" y="290.6" font-size="3.6" text-anchor="end" fill="#383838">10<tspan font-size="2.3" dy="-1">1</tspan></text>
<text x="23.3" y="306.8" font-size="3.6" text-anchor="end" fill="#383838">10<tspan font-size="2.3" dy="-1">0</tspan></text>
<rect x="107.5" y="249.4" width="57.69999999999999" height="58.49999999999997" fill="#fff"/>
<path d="M141.9 275.6h0M139.4 258.0h0M132.8 255.3h0M138.4 261.7h0M135.4 291.4h0M142.3 266.0h0M139.2 263.8h0M146.2 274.0h0M139.2 255.5h0M138.5 280.8h0M140.0 267.3h0M137.0 274.3h0M138.5 270.5h0M140.2 268.3h0M138.7 264.4h0M140.7 256.1h0M141.8 270.7h0M136.2 263.6h0M136.6 280.8h0M142.3 285.1h0M140.9 265.8h0M137.7 277.4h0M139.6 279.8h0M140.3 260.5h0M138.7 264.9h0M136.7 266.6h0M139.3 267.2h0M137.4 269.3h0M135.9 257.2h0M142.9 270.6h0M139.7 272.6h0M139.1 262.4h0M141.4 253.7h0M134.1 270.8h0M136.8 266.6h0M138.4 277.9h0M139.8 260.1h0M141.1 271.0h0M138.9 262.9h0M134.3 274.7h0M138.6 264.9h0M139.1 267.3h0M139.9 255.5h0M139.8 265.7h0M135.2 255.6h0M137.2 270.6h0M134.0 285.3h0M138.2 254.7h0M135.7 265.8h0M139.7 285.0h0M137.6 278.5h0M140.6 272.1h0M139.7 265.7h0M137.1 270.1h0M138.1 257.1h0M138.2 269.1h0M141.1 261.4h0M140.0 271.8h0M138.2 275.9h0M140.8 282.9h0M141.9 265.5h0M139.2 270.4h0M148.4 275.7h0M140.3 260.8h0M137.8 263.1h0M135.9 281.1h0M141.0 256.0h0M142.4 255.4h0M139.9 259.8h0M136.8 270.9h0M134.5 284.7h0M136.0 257.0h0M139.8 265.5h0M145.8 255.4h0M142.7 271.1h0M139.6 257.7h0M139.0 259.7h0M138.0 289.5h0M137.5 266.6h0M135.2 269.6h0M136.8 258.2h0M138.8 263.6h0M143.1 268.4h0M136.6 257.4h0M137.2 271.9h0M143.6 272.1h0M150.9 283.9h0M132.9 270.5h0M142.9 270.0h0M128.8 279.3h0M137.7 285.0h0M140.4 277.6h0M124.0 281.5h0M145.5 262.0h0M127.9 265.3h0M139.9 273.7h0M141.0 286.0h0M125.0 306.4h0M128.6 273.2h0M140.4 293.7h0M144.6 292.7h0M141.0 265.8h0M145.5 278.6h0M144.8 283.3h0M139.9 277.2h0M148.2 287.3h0M128.0 281.0h0M129.5 279.1h0M133.2 271.6h0M138.3 276.0h0M141.5 274.4h0" stroke="#a0a4ac" stroke-width="1.00" stroke-linecap="round" stroke-opacity="0.85" fill="none"/>
<path d="M140.6 263.6h0M133.7 279.3h0M139.5 286.6h0M140.6 276.1h0M137.9 265.1h0M135.0 260.0h0M136.2 258.7h0M139.9 268.5h0M141.3 263.0h0M142.0 269.6h0M135.1 265.9h0M138.5 265.8h0M139.6 280.2h0M137.3 281.9h0M133.1 265.5h0M133.9 261.7h0M144.6 268.6h0M143.0 273.4h0M139.6 266.9h0M138.4 265.2h0M136.8 271.7h0M139.3 280.5h0M133.2 266.6h0M142.2 280.3h0M140.4 275.9h0M134.5 267.6h0M139.9 261.6h0M140.7 256.8h0M139.1 268.1h0M138.9 270.1h0M142.3 272.0h0M140.9 274.2h0M138.5 262.9h0M139.0 272.7h0M138.2 252.5h0M132.4 265.8h0M145.9 270.9h0M137.8 256.2h0M135.8 274.7h0M139.2 265.3h0M142.6 270.0h0M136.1 265.1h0M132.5 260.2h0M138.2 254.1h0M136.7 284.7h0M136.7 272.3h0M138.1 274.1h0M144.4 259.4h0M133.7 259.8h0M131.7 274.0h0M136.2 271.9h0M132.4 273.4h0M139.4 276.8h0M141.6 283.6h0M138.9 265.8h0M137.9 258.8h0M142.1 265.1h0M136.8 255.8h0M135.4 260.9h0M136.1 267.0h0M138.3 261.3h0M145.2 269.9h0M138.2 276.8h0M134.8 277.0h0M132.9 274.4h0M142.6 268.1h0M141.3 255.5h0M140.3 275.5h0M136.3 274.4h0M135.5 264.3h0M136.8 264.2h0M138.8 270.0h0M139.2 263.7h0M136.6 267.7h0M138.7 254.6h0M138.1 263.4h0M140.0 250.2h0M141.2 259.7h0M130.9 272.5h0M137.4 269.3h0M133.6 285.4h0M138.3 267.5h0M140.3 251.8h0M138.2 254.4h0M138.9 255.4h0M140.3 266.5h0M136.6 274.2h0M136.5 266.8h0M139.2 268.1h0M142.5 282.0h0M137.0 267.3h0M131.2 273.7h0M141.4 259.5h0M138.3 281.0h0M137.7 263.1h0M135.6 254.1h0M134.6 281.3h0M136.0 273.1h0M139.8 260.8h0M135.2 259.4h0M141.2 273.5h0M137.4 275.8h0M136.8 267.6h0M135.5 269.3h0M136.6 268.9h0M138.6 279.8h0M138.3 281.4h0M140.9 275.7h0M148.3 279.5h0M127.2 266.5h0M140.2 276.0h0M148.1 289.4h0M138.0 282.1h0M142.4 267.7h0M147.4 292.6h0M138.6 271.7h0M144.5 284.2h0M139.5 288.3h0M133.9 278.8h0M130.7 282.9h0M144.4 276.2h0M140.5 285.3h0M146.9 260.3h0M130.6 267.3h0M141.9 266.8h0M145.9 278.5h0M134.6 288.3h0M138.8 266.2h0M145.4 298.1h0M135.0 298.2h0M136.2 279.4h0M130.4 283.2h0" stroke="#8c8c8c" stroke-width="1.00" stroke-linecap="round" stroke-opacity="0.85" fill="none"/>
<path d="M138.2 270.0h0M137.1 280.0h0M140.7 291.6h0M139.0 270.2h0M136.7 265.9h0M135.5 264.1h0M138.4 275.9h0M138.0 265.6h0M137.8 257.6h0M136.4 266.8h0M138.6 288.5h0M138.4 275.5h0M137.4 254.5h0M141.9 282.3h0M143.0 255.5h0M133.2 263.7h0M142.5 268.6h0M134.8 273.1h0M143.3 263.4h0M140.6 258.2h0M135.6 253.2h0M135.7 275.0h0M142.2 270.4h0M136.8 276.3h0M140.6 263.2h0M142.2 277.0h0M134.0 262.6h0M139.6 263.8h0M138.0 264.4h0M136.7 267.1h0M143.9 266.7h0M137.0 260.7h0M141.4 261.2h0M141.4 263.8h0M134.1 266.9h0M131.7 269.1h0M134.0 267.0h0M136.2 260.2h0M139.7 267.1h0M136.7 264.7h0M138.0 273.8h0M133.6 265.1h0M138.8 253.5h0M142.5 266.5h0M137.0 269.4h0M137.8 255.9h0M138.1 273.7h0M142.0 263.5h0M140.1 269.2h0M139.6 256.0h0M133.7 273.1h0M136.5 277.1h0M141.2 264.7h0M138.0 276.9h0M140.4 267.5h0M138.9 264.7h0M136.9 257.6h0M138.1 262.7h0M138.9 255.9h0M139.3 256.2h0M134.7 257.0h0M138.5 269.9h0M142.9 258.7h0M141.9 255.4h0M137.3 263.1h0M139.3 262.5h0M137.2 269.7h0M141.2 271.9h0M137.7 273.1h0M140.4 254.4h0M137.1 275.7h0M132.1 254.8h0M137.5 252.0h0M139.6 263.4h0M141.7 277.1h0M138.1 265.2h0M135.1 266.9h0M137.9 251.9h0M138.2 269.7h0M139.3 267.1h0M137.1 274.7h0M138.6 271.9h0M139.0 261.9h0M144.6 283.7h0M135.4 266.8h0M138.0 272.9h0M139.6 257.0h0M137.9 275.5h0M136.4 268.4h0M132.8 263.7h0M131.7 273.4h0M143.8 265.2h0M138.5 277.6h0M153.5 286.8h0M142.9 290.2h0M134.1 266.2h0M118.9 300.7h0M146.6 285.6h0M144.6 284.0h0M144.6 287.8h0M134.5 276.2h0M141.7 274.8h0M149.2 256.8h0M144.1 287.2h0M125.7 287.7h0M134.1 273.6h0" stroke="#b4b4b4" stroke-width="1.00" stroke-linecap="round" stroke-opacity="0.85" fill="none"/>
<path d="M140.6 278.3h0M141.8 274.0h0M137.2 266.4h0M135.7 268.9h0M131.6 268.2h0M138.7 262.3h0M135.9 263.8h0M135.8 271.4h0M138.2 277.0h0M143.4 274.0h0M140.3 283.8h0M132.7 271.5h0M136.1 267.6h0M142.3 265.5h0M141.1 256.3h0M142.5 274.0h0M140.1 275.8h0M137.0 271.4h0M139.2 260.2h0M138.4 277.8h0M136.5 268.5h0M137.0 277.0h0M142.1 266.7h0M136.5 272.3h0M144.1 286.0h0M137.4 260.5h0M145.2 276.1h0M139.4 268.9h0M132.5 268.9h0M140.5 271.5h0M135.4 271.8h0M129.6 264.4h0M137.6 262.9h0M136.6 282.8h0M136.6 279.8h0M138.4 277.3h0M136.5 262.8h0M140.2 261.0h0M137.8 266.3h0M140.2 265.0h0M132.0 252.1h0M137.2 267.9h0M142.0 268.0h0M139.9 250.7h0M141.3 266.7h0M141.2 258.2h0M136.1 279.3h0M141.4 279.7h0M133.9 257.4h0M138.9 272.3h0M140.6 266.4h0M139.2 282.4h0M142.5 258.2h0M134.5 269.3h0M144.5 276.0h0M142.1 266.4h0M140.8 273.7h0M136.8 275.1h0M140.7 251.0h0M138.9 260.6h0M142.1 286.4h0M135.0 268.6h0M141.1 279.2h0M139.7 262.0h0M137.1 262.6h0M142.2 275.7h0M141.1 250.6h0M136.4 265.5h0M138.4 256.4h0M139.4 257.0h0M135.2 270.7h0M137.4 266.8h0M137.0 255.2h0M135.9 251.7h0M140.7 254.6h0M139.1 266.6h0M141.0 279.5h0M141.7 273.2h0M132.0 269.1h0M138.1 262.3h0M137.7 264.2h0M138.5 251.5h0M138.8 267.3h0M140.7 278.4h0M138.5 277.8h0M139.6 266.9h0M140.0 278.3h0M133.9 283.1h0M137.4 282.2h0M142.7 272.4h0M142.3 279.6h0M134.7 274.0h0M139.4 268.9h0M133.9 278.3h0M149.5 280.6h0M133.0 271.4h0M133.1 281.9h0M144.5 272.9h0M157.5 270.5h0M141.4 276.5h0M139.2 271.3h0M141.9 293.4h0" stroke="#9a9a9a" stroke-width="1.00" stroke-linecap="round" stroke-opacity="0.85" fill="none"/>
<path d="M138.2 271.1h0M136.0 261.3h0M138.3 274.4h0M139.5 268.8h0M139.9 266.1h0M140.0 261.1h0M144.7 270.6h0M139.1 268.7h0M139.3 277.1h0M141.2 278.6h0M142.2 253.7h0M147.9 266.5h0M140.0 252.5h0M135.4 255.9h0M137.9 256.1h0M136.3 252.7h0M139.2 260.9h0M139.4 272.0h0M142.6 278.6h0M137.5 255.0h0M141.1 257.4h0M135.9 278.2h0M141.0 261.4h0M138.6 256.5h0M140.0 270.9h0M140.7 268.0h0M139.9 290.6h0M140.6 268.8h0M136.9 266.6h0M137.5 253.2h0M139.5 266.1h0M141.2 269.7h0M133.8 255.7h0M137.1 270.7h0M138.7 254.2h0M139.8 278.4h0M138.8 258.1h0M133.5 276.4h0M139.3 293.9h0M142.7 273.7h0M140.7 260.6h0M131.9 257.7h0M141.9 273.6h0M138.0 274.6h0M142.8 253.8h0M138.6 253.5h0M136.0 266.4h0M140.4 280.3h0M135.4 263.1h0M134.7 259.8h0M144.0 271.0h0M132.3 267.7h0M136.4 269.6h0M141.0 253.9h0M137.8 267.3h0M136.4 268.0h0M144.2 272.2h0M137.2 271.8h0M134.4 251.6h0M138.8 272.7h0M139.2 268.8h0M141.7 253.0h0M142.1 264.3h0M136.9 265.9h0M135.0 259.5h0M137.3 263.9h0M137.3 278.0h0M138.0 261.1h0M144.4 270.4h0M132.7 281.6h0M138.4 255.2h0M143.0 265.3h0M133.8 267.9h0M135.6 270.4h0M136.0 272.9h0M138.4 272.1h0M141.1 266.2h0M138.9 271.1h0M138.6 264.1h0M141.4 257.6h0M139.4 265.3h0M136.8 256.7h0M140.5 268.5h0M135.6 264.5h0M141.4 278.2h0M141.2 281.2h0M136.8 259.3h0M135.6 276.9h0M140.9 272.5h0M138.1 260.2h0M142.6 251.3h0M139.5 274.2h0M140.1 275.3h0M140.4 258.7h0M143.4 257.8h0M147.7 280.3h0M138.6 271.9h0M135.7 299.2h0M141.2 275.2h0M143.2 287.4h0M143.4 302.8h0M133.4 279.1h0M129.1 267.2h0M143.8 280.2h0M129.8 271.6h0M137.2 268.1h0M130.4 295.8h0M127.8 266.3h0M149.9 284.5h0M134.7 274.8h0M137.9 276.2h0" stroke="#a8a8a8" stroke-width="1.00" stroke-linecap="round" stroke-opacity="0.85" fill="none"/>
<path d="M146.6 267.7h0M148.5 275.3h0M146.3 281.3h0M137.1 278.4h0M139.3 280.8h0M143.5 284.5h0M148.1 280.4h0M153.7 277.3h0M144.6 272.9h0M139.8 281.2h0M153.1 289.4h0M147.2 268.2h0M149.2 267.9h0M145.0 258.9h0M149.8 291.4h0M148.2 278.7h0M145.9 270.7h0M138.2 271.9h0M144.9 275.0h0M142.7 266.7h0M150.7 267.9h0M152.3 277.3h0M146.9 272.3h0M147.2 277.4h0M140.4 270.6h0M143.4 278.8h0M146.5 274.9h0M144.6 270.3h0M141.1 271.2h0M143.4 281.8h0M139.6 275.9h0M141.7 282.4h0M144.0 284.2h0M144.4 269.7h0M140.4 278.1h0M138.6 266.4h0M149.9 289.8h0M142.3 283.8h0M143.6 278.2h0M136.1 285.7h0M148.2 264.7h0M140.4 275.3h0M146.6 278.0h0M148.5 279.0h0M147.2 284.4h0M142.6 276.7h0M146.7 268.9h0M147.6 282.4h0M152.9 268.0h0M143.8 272.8h0M146.9 263.7h0M145.5 266.0h0M147.9 275.5h0M150.9 279.5h0M149.3 282.1h0M151.6 279.4h0M145.5 267.0h0M142.5 271.2h0M147.9 276.9h0M133.3 303.1h0M146.3 295.0h0M133.5 268.9h0M142.9 280.2h0M152.8 278.4h0M137.1 283.2h0M149.9 279.9h0M138.1 291.6h0M127.0 293.0h0M137.7 291.6h0M119.7 276.1h0M143.3 271.6h0M131.2 287.4h0M133.8 274.8h0M129.2 278.8h0M152.0 283.1h0M143.0 268.0h0M138.1 282.0h0M133.6 268.2h0M137.3 286.7h0M140.3 258.2h0M139.4 276.5h0M138.8 263.7h0M125.2 263.8h0M123.3 272.4h0M140.1 273.9h0M134.4 278.9h0M132.1 275.6h0M132.5 267.2h0M127.9 265.3h0M136.8 262.5h0M125.3 263.6h0M131.4 280.1h0M118.8 259.2h0M134.2 257.6h0M138.5 276.1h0M129.0 276.7h0M128.9 275.7h0M137.1 263.4h0M127.9 277.8h0M125.9 272.9h0M131.5 277.0h0M139.5 263.8h0M131.4 274.1h0M132.3 256.6h0M140.5 272.5h0M126.6 264.2h0M128.4 263.6h0M122.8 265.6h0M123.3 274.8h0M138.0 280.8h0" stroke="#bcbcbc" stroke-width="1.00" stroke-linecap="round" stroke-opacity="0.85" fill="none"/>
<path d="M144.2 281.7h0M154.1 263.9h0M143.5 268.2h0M138.3 272.3h0M149.5 260.3h0M145.9 273.8h0M147.2 285.2h0M142.7 281.8h0M143.9 272.7h0M143.9 284.3h0M144.2 273.7h0M148.6 276.6h0M139.5 279.6h0M145.0 273.7h0M147.7 273.6h0M139.5 264.4h0M144.5 273.3h0M148.8 276.4h0M135.9 285.6h0M144.9 274.1h0M143.9 276.0h0M145.7 276.4h0M140.2 282.9h0M146.2 295.0h0M147.1 292.3h0M145.9 274.4h0M144.4 286.6h0M148.1 272.0h0M146.3 291.6h0M145.4 275.2h0M149.4 274.7h0M143.5 260.2h0M140.8 271.7h0M143.7 267.1h0M146.7 287.1h0M153.9 272.6h0M147.6 278.8h0M151.5 278.0h0M138.4 263.4h0M144.9 276.6h0M145.3 270.2h0M144.6 283.7h0M148.6 273.0h0M150.4 271.3h0M146.5 272.4h0M142.9 278.0h0M142.0 274.2h0M141.7 280.1h0M148.2 274.8h0M146.7 270.7h0M149.6 290.8h0M138.2 263.7h0M141.6 285.9h0M144.1 268.9h0M141.7 276.3h0M146.9 284.1h0M136.7 278.9h0M146.9 272.9h0M142.2 275.1h0M148.4 283.7h0M142.7 293.6h0M136.9 283.2h0M145.4 274.5h0M143.3 288.5h0M151.2 278.1h0M139.5 268.9h0M142.6 277.1h0M143.2 279.9h0M139.9 257.9h0M137.1 278.5h0M141.3 267.9h0M137.5 287.3h0M143.5 282.4h0M143.1 273.3h0M150.5 259.0h0M135.5 272.6h0M130.8 282.6h0M125.0 272.4h0M137.8 280.0h0M155.5 288.9h0M140.3 272.3h0M130.0 302.0h0M148.3 279.1h0M143.3 292.6h0M138.4 264.3h0M147.6 295.2h0M140.8 269.8h0M160.9 272.7h0M135.3 294.1h0M147.9 273.4h0M151.4 289.0h0M146.3 292.0h0M131.3 271.2h0M136.9 290.8h0M136.6 283.3h0M133.4 259.6h0M133.9 255.9h0M139.2 259.4h0M135.8 270.8h0M125.4 268.5h0M130.0 261.0h0M136.1 258.0h0M132.4 270.8h0M131.2 260.7h0M135.2 268.2h0M126.2 267.6h0M133.7 265.5h0M135.6 251.2h0M134.8 262.7h0M134.5 258.4h0M134.6 262.5h0M123.6 256.2h0M128.6 250.4h0M120.6 280.2h0M132.5 265.1h0M131.4 271.5h0M132.0 270.3h0M141.8 257.5h0M125.6 264.1h0M129.8 265.8h0M129.4 274.5h0M120.8 259.9h0M126.3 283.0h0" stroke="#c8ccd4" stroke-width="1.00" stroke-linecap="round" stroke-opacity="0.85" fill="none"/>
<path d="M153.6 284.7h0M146.4 284.6h0M144.9 274.1h0M144.0 270.4h0M141.3 277.1h0M145.4 285.5h0M144.7 281.2h0M149.6 267.0h0M144.2 281.8h0M150.1 285.7h0M149.7 279.6h0M150.7 259.4h0M148.6 274.9h0M136.7 284.9h0M126.0 258.0h0M143.2 277.7h0M142.2 292.9h0M143.7 285.1h0M150.7 269.3h0M147.7 281.8h0M149.5 266.5h0M141.3 289.3h0M155.4 263.1h0M142.5 276.3h0M146.6 280.8h0M146.7 270.1h0M146.1 270.1h0M147.8 259.0h0M149.1 287.5h0M145.3 272.0h0M142.8 274.6h0M141.8 280.8h0M154.1 282.5h0M144.9 264.2h0M143.9 264.7h0M144.3 271.4h0M150.9 271.7h0M138.5 282.1h0M142.6 285.3h0M149.5 270.5h0M147.9 274.0h0M147.7 282.7h0M133.9 269.6h0M138.0 291.1h0M141.2 273.6h0M146.2 283.0h0M145.0 273.5h0M139.5 297.9h0M141.8 279.8h0M142.3 286.8h0M146.6 269.0h0M147.0 272.4h0M145.0 276.9h0M150.0 275.3h0M146.6 268.3h0M144.4 276.0h0M145.5 266.0h0M143.2 273.5h0M139.7 278.5h0M147.4 276.6h0M142.6 267.9h0M138.7 285.0h0M138.0 272.6h0M147.5 273.4h0M136.0 286.8h0M135.5 287.9h0M152.8 280.9h0M139.2 298.2h0M148.7 274.6h0M134.2 276.3h0M134.6 275.1h0M143.8 286.9h0M151.2 281.6h0M132.9 291.3h0M142.3 281.7h0M130.8 274.5h0M153.5 279.0h0M142.0 287.7h0M152.9 268.6h0M144.9 290.7h0M146.3 270.0h0M128.5 270.1h0M139.3 269.2h0M147.1 291.4h0M129.9 281.7h0M135.6 259.3h0M135.0 293.0h0M135.4 279.6h0M138.9 275.1h0M138.9 299.9h0M145.3 261.7h0M149.4 280.0h0M142.0 274.2h0M124.6 262.1h0M135.3 254.2h0M135.8 277.8h0M126.2 283.4h0M128.1 276.7h0M125.2 282.5h0M128.7 271.5h0M140.1 275.4h0M128.8 256.8h0M133.6 269.0h0M119.5 259.6h0M122.9 270.9h0M135.7 255.5h0M133.0 251.8h0M129.1 260.7h0M134.7 270.7h0M131.8 261.0h0M123.4 264.8h0M134.5 277.3h0M123.7 270.6h0M123.3 278.8h0M133.8 278.4h0M138.3 270.5h0" stroke="#d0d0d0" stroke-width="1.00" stroke-linecap="round" stroke-opacity="0.85" fill="none"/>
<path d="M145.1 271.3h0M151.6 260.3h0M148.8 279.4h0M148.0 287.9h0M140.5 260.1h0M149.2 275.2h0M138.6 296.7h0M148.5 272.3h0M139.6 278.1h0M151.4 270.7h0M139.9 263.1h0M138.9 269.2h0M150.5 272.3h0M150.2 289.0h0M149.6 272.8h0M150.9 274.7h0M147.6 276.0h0M144.9 273.6h0M143.0 272.8h0M150.6 277.0h0M155.4 251.6h0M137.8 264.2h0M152.3 271.6h0M146.7 268.0h0M136.1 275.3h0M156.5 271.6h0M143.3 262.2h0M137.6 272.9h0M137.7 284.7h0M149.6 280.3h0M145.8 291.3h0M137.6 277.4h0M148.9 263.6h0M142.6 267.0h0M149.5 269.3h0M141.2 283.8h0M142.8 281.4h0M146.9 270.8h0M147.9 263.0h0M145.2 269.8h0M146.7 282.6h0M146.4 265.7h0M156.3 261.9h0M149.4 288.9h0M148.6 283.6h0M151.1 291.5h0M153.0 258.4h0M146.5 284.8h0M141.2 277.2h0M142.1 273.1h0M149.1 273.4h0M145.6 274.0h0M140.4 274.8h0M139.8 276.3h0M143.8 283.2h0M146.8 271.8h0M143.9 275.3h0M141.4 262.9h0M142.3 274.9h0M151.3 265.8h0M149.4 270.9h0M138.7 278.9h0M137.2 261.1h0M130.5 277.9h0M135.0 277.2h0M137.7 282.0h0M138.5 278.1h0M132.4 280.0h0M138.5 294.7h0M127.7 273.6h0M134.9 285.0h0M130.4 280.8h0M135.0 287.1h0M143.5 274.4h0M142.4 297.6h0M136.9 276.9h0M140.6 282.5h0M133.4 282.2h0M128.1 268.3h0M138.3 273.7h0M134.2 265.3h0M139.8 285.4h0M135.1 275.4h0M134.1 257.1h0M138.1 294.7h0M136.2 275.2h0M147.7 275.4h0M143.0 264.6h0M137.4 285.1h0M140.9 290.5h0M133.0 267.2h0M131.5 284.2h0M136.4 264.6h0M132.2 268.0h0M125.4 251.0h0M131.5 274.9h0M129.1 277.5h0M131.3 251.7h0M137.6 272.5h0M136.2 262.8h0M124.8 258.2h0M134.9 278.5h0M132.3 256.3h0M128.9 269.9h0M136.6 261.9h0M120.6 275.8h0M128.2 280.4h0M138.4 270.2h0M131.2 263.9h0M131.0 254.3h0M138.7 258.1h0M135.8 275.2h0M128.5 270.6h0M137.8 257.8h0M134.2 256.3h0M128.4 279.8h0M131.6 267.8h0M130.2 268.0h0M137.4 268.2h0M136.7 279.1h0M136.3 269.1h0M130.6 261.0h0" stroke="#c4c4c4" stroke-width="1.00" stroke-linecap="round" stroke-opacity="0.85" fill="none"/>
<line x1="137.0" y1="249.4" x2="137.0" y2="307.9" stroke="#a4a4a4" stroke-width="1.1"/>
<path d="M138.4 250.3h0M133.8 253.9h0M138.0 254.2h0M135.8 252.1h0M134.7 252.2h0M137.5 253.0h0M138.9 253.8h0M136.5 252.2h0M133.7 253.6h0M136.4 254.5h0M133.8 250.6h0M135.8 255.5h0M140.5 254.4h0M135.2 252.7h0M136.0 252.6h0M136.1 251.7h0" stroke="#e05050" stroke-width="1.20" stroke-linecap="round" stroke-opacity="0.72" fill="none"/>
<path d="M135.9 252.4h0M135.6 252.6h0M139.9 253.6h0M139.2 252.6h0M136.5 253.2h0M135.9 257.0h0M136.5 250.3h0M135.8 252.0h0M137.0 252.8h0M133.7 250.6h0M135.0 254.4h0" stroke="#c83838" stroke-width="1.20" stroke-linecap="round" stroke-opacity="0.72" fill="none"/>
<path d="M134.1 253.4h0M135.8 253.5h0M139.2 255.4h0M139.3 251.4h0M134.5 255.2h0M141.2 252.2h0M136.8 255.8h0M139.7 251.8h0M139.0 252.6h0M136.8 253.4h0M138.0 252.5h0M138.6 253.7h0M136.5 251.1h0M139.2 252.2h0M137.8 253.8h0M134.3 251.0h0M137.9 252.5h0M135.3 251.9h0M137.4 252.3h0M134.5 255.5h0" stroke="#d84040" stroke-width="1.20" stroke-linecap="round" stroke-opacity="0.72" fill="none"/>
<path d="M138.8 252.9h0M136.2 255.4h0M138.1 251.6h0M133.7 253.5h0M137.3 253.2h0M135.2 251.0h0M138.6 255.4h0M139.2 251.9h0M134.6 251.8h0M138.6 252.3h0M140.8 254.1h0M133.6 255.9h0M136.4 251.2h0M132.9 250.9h0M135.6 252.7h0M134.4 251.4h0M136.5 253.1h0M135.1 253.0h0M137.2 253.1h0M133.5 254.2h0M136.5 252.1h0M134.4 254.2h0M137.3 252.6h0M137.7 253.3h0M139.4 251.6h0M137.7 251.3h0M135.0 252.6h0" stroke="#d86060" stroke-width="1.20" stroke-linecap="round" stroke-opacity="0.72" fill="none"/>
<path d="M130.0 265.9h0M131.3 271.4h0M129.0 276.0h0M128.4 270.5h0M132.6 262.0h0M124.6 282.9h0M126.9 279.3h0M130.7 266.1h0M132.1 258.5h0M125.9 276.9h0M133.9 259.9h0M128.9 275.8h0M131.7 259.7h0M129.3 279.6h0M132.1 259.4h0" stroke="#d84040" stroke-width="1.10" stroke-linecap="round" stroke-opacity="0.6" fill="none"/>
<path d="M128.9 275.6h0M125.8 275.2h0M133.7 258.8h0M128.1 278.8h0M132.3 258.2h0M131.8 268.0h0M127.8 283.0h0" stroke="#c83838" stroke-width="1.10" stroke-linecap="round" stroke-opacity="0.6" fill="none"/>
<path d="M132.1 264.6h0M131.0 270.1h0M131.4 267.0h0M130.4 269.9h0M128.7 275.5h0M126.4 281.6h0M129.7 269.4h0M129.7 273.0h0M126.6 273.0h0M129.9 272.5h0M126.5 281.4h0" stroke="#e05050" stroke-width="1.10" stroke-linecap="round" stroke-opacity="0.6" fill="none"/>
<path d="M128.6 281.9h0M130.8 268.2h0M133.1 258.4h0M132.7 261.2h0M129.1 268.1h0M130.2 267.6h0M128.1 275.1h0" stroke="#d86060" stroke-width="1.10" stroke-linecap="round" stroke-opacity="0.6" fill="none"/>
<path d="M124.6 283.6h0M126.7 283.2h0M124.9 285.3h0M128.5 283.7h0" stroke="#c83838" stroke-width="1.20" stroke-linecap="round" stroke-opacity="0.9" fill="none"/>
<path d="M127.5 285.8h0M126.5 287.4h0M127.3 284.8h0M128.8 285.8h0" stroke="#e05050" stroke-width="1.20" stroke-linecap="round" stroke-opacity="0.9" fill="none"/>
<path d="M126.0 284.0h0M125.8 285.9h0M126.2 283.6h0M128.4 283.4h0M125.4 284.7h0M125.6 284.2h0M126.8 282.9h0M125.9 284.3h0" stroke="#d84040" stroke-width="1.20" stroke-linecap="round" stroke-opacity="0.9" fill="none"/>
<path d="M126.5 283.9h0M126.1 284.4h0M125.8 285.4h0M125.8 282.1h0M124.1 284.0h0M127.8 281.9h0" stroke="#d86060" stroke-width="1.20" stroke-linecap="round" stroke-opacity="0.9" fill="none"/>
<rect x="107.5" y="249.4" width="57.69999999999999" height="58.49999999999997" fill="none" stroke="#777" stroke-width="0.85"/>
<text x="107.5" y="311.9" font-size="3.6" text-anchor="middle" fill="#383838">2<tspan font-size="2.3" dy="-1">-5</tspan></text>
<text x="113.3" y="311.9" font-size="3.6" text-anchor="middle" fill="#383838">2<tspan font-size="2.3" dy="-1">-4</tspan></text>
<text x="119.0" y="311.9" font-size="3.6" text-anchor="middle" fill="#383838">2<tspan font-size="2.3" dy="-1">-3</tspan></text>
<text x="124.8" y="311.9" font-size="3.6" text-anchor="middle" fill="#383838">2<tspan font-size="2.3" dy="-1">-2</tspan></text>
<text x="130.6" y="311.9" font-size="3.6" text-anchor="middle" fill="#383838">2<tspan font-size="2.3" dy="-1">-1</tspan></text>
<text x="136.3" y="311.9" font-size="3.6" text-anchor="middle" fill="#383838">2<tspan font-size="2.3" dy="-1">0</tspan></text>
<text x="142.1" y="311.9" font-size="3.6" text-anchor="middle" fill="#383838">2<tspan font-size="2.3" dy="-1">1</tspan></text>
<text x="147.9" y="311.9" font-size="3.6" text-anchor="middle" fill="#383838">2<tspan font-size="2.3" dy="-1">2</tspan></text>
<text x="153.7" y="311.9" font-size="3.6" text-anchor="middle" fill="#383838">2<tspan font-size="2.3" dy="-1">3</tspan></text>
<text x="159.4" y="311.9" font-size="3.6" text-anchor="middle" fill="#383838">2<tspan font-size="2.3" dy="-1">4</tspan></text>
<text x="165.2" y="311.9" font-size="3.6" text-anchor="middle" fill="#383838">2<tspan font-size="2.3" dy="-1">5</tspan></text>
<text x="106.7" y="250.4" font-size="3.6" text-anchor="end" fill="#383838">10<tspan font-size="2.3" dy="-1">-0</tspan></text>
<text x="106.7" y="262.1" font-size="3.6" text-anchor="end" fill="#383838">10<tspan font-size="2.3" dy="-1">-2</tspan></text>
<text x="106.7" y="273.8" font-size="3.6" text-anchor="end" fill="#383838">10<tspan font-size="2.3" dy="-1">-4</tspan></text>
<text x="106.7" y="285.5" font-size="3.6" text-anchor="end" fill="#383838">10<tspan font-size="2.3" dy="-1">-6</tspan></text>
<text x="106.7" y="297.2" font-size="3.6" text-anchor="end" fill="#383838">10<tspan font-size="2.3" dy="-1">-8</tspan></text>
<text x="106.7" y="308.9" font-size="3.6" text-anchor="end" fill="#383838">10<tspan font-size="2.3" dy="-1">-10</tspan></text>
<rect x="201" y="169.4" width="58.60000000000002" height="58.400000000000006" fill="#fff"/>
<line x1="203.4" y1="169.4" x2="203.4" y2="227.8" stroke="#b0b0b0" stroke-width="0.7"/>
<line x1="253.2" y1="169.4" x2="253.2" y2="227.8" stroke="#b0b0b0" stroke-width="0.7"/>
<line x1="201" y1="178.2" x2="259.6" y2="178.2" stroke="#b0b0b0" stroke-width="0.7"/>
<line x1="201" y1="225.2" x2="259.6" y2="225.2" stroke="#b0b0b0" stroke-width="0.7"/>
<line x1="220.0" y1="169.4" x2="220.0" y2="227.8" stroke="#707070" stroke-width="0.75"/>
<line x1="236.3" y1="169.4" x2="236.3" y2="227.8" stroke="#707070" stroke-width="0.75"/>
<line x1="201" y1="195.0" x2="259.6" y2="195.0" stroke="#707070" stroke-width="0.75"/>
<line x1="201" y1="210.4" x2="259.6" y2="210.4" stroke="#707070" stroke-width="0.75"/>
<path d="M250.8 178.7h0M257.5 172.3h0M234.1 199.0h0M239.8 184.0h0M209.7 220.3h0M255.9 174.2h0M241.5 182.2h0M229.8 201.4h0M235.3 191.2h0M231.9 197.9h0M233.2 199.2h0M244.6 187.6h0M242.2 185.1h0M241.9 190.3h0M240.6 186.2h0M214.9 211.5h0M237.0 196.4h0M238.9 192.2h0M228.0 195.2h0M220.6 200.1h0M239.1 187.3h0M219.3 208.6h0M252.8 177.8h0M215.0 212.5h0M221.9 206.8h0M228.4 194.8h0M219.1 210.3h0M249.7 178.3h0M224.2 201.9h0M239.4 189.5h0M233.6 190.7h0M245.0 187.4h0M239.3 197.8h0M239.5 192.7h0M243.1 187.0h0M212.2 216.8h0M221.1 211.2h0M223.1 203.4h0M217.1 208.9h0M204.5 222.9h0M222.5 207.3h0M241.0 186.3h0M229.4 204.6h0M228.7 201.8h0M238.9 188.2h0M231.2 192.4h0M214.8 205.0h0M217.2 215.1h0M225.8 198.0h0M233.0 190.9h0M251.7 181.3h0M240.1 190.9h0M217.4 209.7h0M242.3 185.7h0M229.0 201.9h0M255.8 173.4h0M225.2 205.7h0M221.2 207.0h0M248.6 182.5h0M221.1 207.9h0M235.2 191.8h0M250.0 185.0h0M236.3 192.7h0M246.8 182.5h0M246.5 179.4h0M216.2 214.4h0M222.3 211.0h0M249.5 177.1h0M227.0 193.9h0M210.1 214.7h0M226.9 202.4h0M238.6 199.1h0M224.7 204.1h0M242.3 187.7h0M230.7 201.0h0M228.8 204.2h0M219.1 210.6h0M209.4 217.9h0M222.3 208.3h0M205.2 199.8h0M233.3 196.4h0M225.8 204.9h0M234.6 190.7h0M238.0 192.0h0M237.0 198.0h0M249.2 178.3h0M218.4 204.8h0M233.9 199.9h0M214.3 216.2h0M219.6 207.1h0M234.7 199.3h0M252.2 177.0h0M214.7 216.8h0M224.3 204.8h0M236.2 190.7h0M221.0 212.6h0M228.3 201.6h0M230.4 194.4h0M233.2 189.1h0M248.1 184.6h0M211.5 214.9h0M222.8 207.1h0M245.5 182.7h0M218.1 212.0h0M229.7 201.3h0M227.9 203.5h0M257.0 172.8h0M227.2 199.7h0M255.6 174.3h0M223.5 204.5h0M229.5 197.9h0M239.8 189.4h0M225.3 204.8h0M240.5 187.2h0M241.6 181.3h0M238.6 191.1h0M225.9 201.9h0M243.3 191.0h0M242.0 184.8h0M225.6 209.5h0M213.1 213.2h0M240.3 185.4h0M215.2 212.1h0M226.9 196.8h0M224.1 208.7h0M234.9 191.6h0M241.6 189.0h0M231.4 200.2h0M209.5 217.4h0M221.4 204.4h0M234.4 190.1h0M223.3 205.0h0M236.4 188.5h0M231.1 197.7h0M212.4 217.4h0M238.0 194.4h0M239.5 192.4h0M245.2 191.7h0M240.8 196.0h0M238.3 193.5h0M245.4 187.2h0M246.0 183.3h0M214.6 213.5h0M210.1 221.1h0M223.9 206.1h0M257.3 172.5h0M205.8 224.9h0M249.8 187.0h0M206.0 224.2h0M240.6 185.2h0M232.6 198.0h0M207.5 223.4h0M205.4 223.3h0M208.2 220.7h0M215.7 208.3h0M210.6 222.1h0M229.8 198.5h0M237.1 187.2h0M256.1 172.1h0" stroke="#b8c4d8" stroke-width="1.00" stroke-linecap="round" stroke-opacity="0.8" fill="none"/>
<path d="M234.8 197.3h0M218.2 211.7h0M220.3 205.5h0M221.6 208.0h0M221.8 208.7h0M229.3 198.9h0M235.4 196.2h0M241.5 193.0h0M229.5 201.2h0M242.3 183.3h0M244.3 181.7h0M233.4 193.5h0M222.9 202.8h0M231.9 192.9h0M247.9 177.9h0M256.7 171.7h0M252.3 174.2h0M233.0 189.0h0M229.7 199.0h0M232.3 190.3h0M230.5 203.3h0M254.1 175.5h0M244.1 186.3h0M251.4 179.6h0M229.3 205.8h0M217.5 208.5h0M226.6 205.3h0M209.8 220.9h0M220.7 205.4h0M212.1 215.5h0M224.6 205.3h0M212.7 218.6h0M233.6 191.1h0M230.9 196.8h0M224.8 211.5h0M234.4 190.8h0M251.2 181.9h0M225.1 197.8h0M244.1 184.7h0M236.7 189.7h0M223.0 205.5h0M226.5 200.1h0M245.8 185.3h0M226.2 203.0h0M252.3 181.0h0M231.5 201.0h0M212.7 218.0h0M239.1 191.5h0M250.3 182.6h0M219.1 202.5h0M221.2 210.1h0M237.4 195.1h0M242.3 186.6h0M237.9 189.0h0M248.2 177.5h0M226.5 206.1h0M240.0 184.3h0M225.0 199.0h0M235.2 197.0h0M252.0 180.8h0M203.4 225.3h0M247.3 181.7h0M207.5 214.9h0M223.5 197.1h0M251.3 175.3h0M228.8 200.8h0M220.4 211.2h0M216.8 212.8h0M222.7 204.8h0M224.7 208.5h0M227.2 194.3h0M256.6 173.2h0M223.1 211.6h0M223.3 202.8h0M239.3 186.3h0M216.4 209.4h0M231.8 187.6h0M220.3 209.3h0M248.6 179.0h0M245.2 180.7h0M224.7 205.7h0M247.0 180.4h0M205.9 220.3h0M234.1 194.5h0M223.8 206.7h0M221.1 197.1h0M215.7 215.8h0M215.7 214.5h0M226.5 207.5h0M217.6 207.1h0M232.1 197.3h0M238.7 200.1h0M219.8 208.2h0M243.6 187.5h0M216.5 215.5h0M223.0 200.6h0M239.1 192.9h0M224.6 199.4h0M252.3 179.4h0M239.5 190.3h0M216.5 209.5h0M212.7 218.0h0M225.3 207.1h0M235.9 196.5h0M228.8 202.4h0M205.8 220.2h0M240.2 190.7h0M221.2 209.5h0M207.5 226.0h0M251.7 182.3h0M223.3 207.1h0M217.8 209.3h0M237.3 200.3h0M256.7 174.9h0M231.0 195.5h0M222.1 209.2h0M217.0 210.4h0M241.4 191.7h0M239.4 185.0h0M223.7 207.5h0M232.5 194.8h0M239.6 192.5h0M249.2 182.0h0M222.5 200.8h0M225.3 204.7h0M229.8 194.7h0M241.9 192.7h0M242.4 189.3h0M232.6 200.3h0M224.7 204.2h0M236.3 189.7h0M215.3 211.6h0M214.3 213.4h0M238.8 190.6h0M231.5 195.6h0M248.9 184.3h0M236.5 190.0h0M253.5 172.0h0M222.7 206.2h0M228.5 197.6h0M238.8 186.7h0M234.6 200.2h0M237.3 193.0h0M225.3 198.8h0M230.7 193.0h0M228.2 194.3h0M225.2 201.6h0M245.0 182.4h0M245.7 183.0h0M229.7 210.7h0M215.7 215.9h0M221.9 202.1h0M234.9 200.9h0M216.3 213.7h0M227.8 201.0h0M241.8 186.7h0M218.1 205.8h0M219.1 212.4h0M214.7 213.0h0M227.9 199.7h0M244.2 184.3h0M239.6 196.7h0M255.6 173.3h0M245.5 183.9h0M231.9 198.6h0M254.4 173.1h0M254.5 174.1h0M220.3 205.9h0M238.0 186.9h0M256.1 172.2h0" stroke="#b0b0b8" stroke-width="1.00" stroke-linecap="round" stroke-opacity="0.8" fill="none"/>
<path d="M248.9 182.4h0M239.2 186.1h0M243.2 182.6h0M208.7 220.6h0M220.3 216.2h0M222.5 203.6h0M214.3 219.9h0M242.5 184.4h0M244.3 183.9h0M226.9 205.0h0M224.4 206.3h0M222.6 210.1h0M221.5 208.0h0M232.3 201.6h0M233.4 191.6h0M230.3 194.4h0M231.0 199.7h0M211.6 215.4h0M228.6 191.2h0M233.3 197.6h0M214.0 209.7h0M249.4 182.9h0M247.0 184.2h0M231.5 197.1h0M232.6 198.2h0M221.0 203.4h0M228.1 199.4h0M213.2 215.8h0M248.4 184.2h0M257.6 177.8h0M244.9 184.1h0M229.5 197.0h0M247.4 180.2h0M247.1 182.5h0M203.8 226.1h0M228.4 209.0h0M228.8 197.2h0M235.2 187.9h0M215.6 208.8h0M234.7 195.7h0M211.8 218.8h0M245.7 186.1h0M234.5 193.4h0M228.0 201.0h0M228.9 201.6h0M234.9 197.2h0M238.4 183.3h0M233.2 191.8h0M234.3 198.4h0M249.4 181.3h0M217.0 213.5h0M236.5 191.7h0M248.5 176.9h0M235.8 192.8h0M217.3 212.1h0M226.3 201.2h0M237.1 186.9h0M228.0 203.9h0M225.8 199.8h0M239.2 181.5h0M252.7 175.4h0M246.1 186.0h0M221.9 205.2h0M243.8 184.2h0M241.6 190.1h0M250.2 179.5h0M211.8 218.0h0M236.0 190.2h0M221.0 209.1h0M234.6 192.4h0M217.8 205.6h0M247.3 179.4h0M248.7 194.1h0M219.9 209.6h0M223.9 198.5h0M253.0 178.7h0M243.2 181.8h0M230.0 204.3h0M210.8 219.2h0M251.6 180.5h0M235.7 195.4h0M217.9 213.2h0M212.3 218.2h0M232.8 201.3h0M230.1 201.0h0M251.2 178.5h0M238.3 192.3h0M232.1 201.9h0M246.5 182.5h0M245.6 184.5h0M239.3 188.2h0M223.1 194.4h0M205.9 222.9h0M240.1 198.9h0M241.2 192.9h0M234.7 193.0h0M246.2 184.6h0M240.7 188.4h0M240.1 194.5h0M206.2 220.2h0M238.1 189.9h0M229.9 200.3h0M215.5 214.1h0M242.0 187.1h0M213.3 212.8h0M225.5 201.0h0M225.2 208.5h0M242.4 189.9h0M238.3 196.1h0M244.8 188.2h0M209.2 217.5h0M213.8 215.1h0M232.3 198.9h0M227.1 201.7h0M226.1 199.7h0M244.0 185.4h0M230.8 199.4h0M228.7 201.8h0M214.7 213.3h0M229.1 197.9h0M246.9 179.2h0M240.2 194.6h0M248.5 180.1h0M217.3 213.6h0M235.8 202.8h0M214.1 213.9h0M229.6 202.1h0M227.6 202.4h0M240.9 183.7h0M224.0 207.6h0M245.1 182.7h0M242.8 197.3h0M252.5 177.3h0M246.3 181.3h0M241.9 190.3h0M211.1 218.8h0M239.4 182.6h0M240.2 185.1h0M243.5 184.6h0M253.2 172.8h0M244.2 184.6h0M225.7 199.5h0M245.6 183.0h0M233.4 193.9h0M232.3 205.0h0M241.3 182.7h0M252.8 175.9h0M233.4 190.2h0M229.5 194.8h0M223.7 206.5h0M228.1 196.2h0M212.0 213.5h0M247.0 184.5h0M232.0 203.3h0M226.8 201.7h0M219.1 209.3h0M237.8 186.8h0M228.6 208.5h0M247.9 187.4h0M211.4 218.8h0M232.5 197.5h0M207.8 219.3h0M247.9 179.4h0M247.4 183.0h0M232.0 192.2h0M236.7 189.0h0M246.5 182.8h0M225.1 206.0h0M238.6 196.6h0M232.8 190.5h0M248.2 181.4h0" stroke="#8898b8" stroke-width="1.00" stroke-linecap="round" stroke-opacity="0.8" fill="none"/>
<path d="M233.6 194.3h0M220.5 202.6h0M256.5 174.1h0M234.9 193.8h0M247.1 181.0h0M242.2 190.5h0M231.0 190.0h0M210.7 213.8h0M227.2 203.5h0M222.3 209.6h0M222.2 205.8h0M218.2 214.5h0M223.4 211.0h0M238.5 190.9h0M212.5 213.6h0M238.2 189.7h0M224.0 203.0h0M204.9 224.5h0M206.9 222.9h0M205.8 222.7h0M243.0 185.8h0M233.7 195.3h0M241.2 187.0h0M226.8 212.1h0M215.2 204.2h0M231.7 193.5h0M229.1 202.6h0M243.0 184.8h0M226.1 202.0h0M244.2 191.8h0M243.4 184.3h0M219.4 209.7h0M220.4 213.0h0M224.8 203.6h0M218.4 212.6h0M222.5 203.0h0M241.8 184.0h0M247.4 179.9h0M221.8 205.1h0M240.0 191.5h0M214.9 211.9h0M229.2 197.6h0M224.7 201.1h0M235.4 189.1h0M227.4 200.2h0M239.8 182.3h0M229.7 199.5h0M239.3 198.7h0M230.2 199.4h0M256.7 172.5h0M227.1 199.5h0M245.6 184.9h0M226.0 202.6h0M204.6 225.2h0M226.6 207.0h0M238.9 185.5h0M245.8 182.6h0M252.9 174.6h0M234.0 197.1h0M235.8 194.5h0M243.3 190.7h0M234.9 197.2h0M236.8 188.9h0M228.7 202.1h0M234.0 189.2h0M227.1 198.7h0M237.6 191.9h0M236.1 195.7h0M235.1 197.1h0M231.1 194.5h0M247.8 181.1h0M224.4 201.9h0M216.6 209.8h0M256.0 174.5h0M218.9 206.5h0M207.4 222.5h0M234.6 194.2h0M217.4 208.0h0M242.4 185.0h0M240.5 187.7h0M245.4 180.0h0M242.9 192.0h0M222.6 208.7h0M224.7 205.9h0M246.1 176.0h0M209.4 216.1h0M246.2 184.1h0M242.4 206.1h0M244.1 182.6h0M215.4 210.9h0M228.0 198.0h0M232.0 197.3h0M241.1 189.8h0M232.4 188.3h0M231.1 201.3h0M230.3 195.5h0M237.7 191.4h0M250.0 176.2h0M230.5 200.3h0M224.7 209.8h0M239.9 188.3h0M250.8 179.5h0M210.4 216.2h0M224.3 203.8h0M214.9 215.2h0M233.7 197.0h0M236.3 193.4h0M222.2 206.2h0M213.5 213.9h0M240.9 185.4h0M212.5 216.7h0M214.3 212.2h0M211.1 213.8h0M240.0 192.9h0M232.2 200.9h0M251.5 176.7h0M210.1 221.1h0M248.8 181.8h0M246.4 180.5h0M238.1 196.8h0M236.0 188.1h0M240.0 182.5h0M227.4 200.1h0M244.9 185.2h0M224.9 202.9h0M214.9 196.3h0M219.5 205.6h0M236.4 195.5h0M213.3 213.7h0M207.6 213.6h0M236.9 210.6h0M231.3 183.8h0M250.3 177.1h0M235.0 192.8h0M221.3 209.6h0M248.3 184.8h0M236.8 196.8h0M232.5 199.8h0M252.4 175.7h0M226.1 194.3h0M241.0 185.5h0M248.1 181.8h0M228.3 205.0h0M243.5 185.7h0M249.4 179.9h0M226.1 209.4h0M212.0 217.1h0M217.7 213.4h0M239.1 189.3h0M250.4 188.0h0M219.1 208.4h0M235.4 197.4h0M229.9 194.6h0M235.4 197.5h0M239.5 190.0h0M252.8 177.3h0M244.1 181.2h0M219.6 214.1h0M220.6 209.7h0M215.0 213.6h0M216.5 209.5h0M215.6 213.6h0M219.3 211.0h0M232.0 194.3h0M215.1 209.2h0M233.9 192.2h0M243.9 183.7h0M249.0 180.1h0M221.8 205.5h0M233.7 196.5h0M225.5 199.8h0M251.8 175.9h0M231.7 197.0h0M249.3 179.8h0M225.2 208.1h0M227.7 203.9h0M245.8 192.8h0M231.2 204.4h0" stroke="#a8b8d0" stroke-width="1.00" stroke-linecap="round" stroke-opacity="0.8" fill="none"/>
<path d="M209.5 217.8h0M235.6 201.1h0M226.5 202.7h0M243.4 187.8h0M226.1 201.6h0M237.1 191.4h0M226.5 204.0h0M208.7 217.3h0M228.3 202.9h0M218.6 213.5h0M234.9 189.3h0M248.6 180.4h0M245.1 191.7h0M225.5 206.6h0M232.5 198.1h0M220.1 211.1h0M244.6 186.7h0M234.3 196.9h0M244.4 192.2h0M223.3 198.2h0M222.4 216.5h0M221.9 208.7h0M236.9 185.3h0M254.1 176.6h0M229.8 201.2h0M246.1 180.9h0M218.3 209.0h0M211.6 217.5h0M215.8 211.1h0M240.7 185.8h0M226.7 203.6h0M235.1 198.1h0M235.3 193.0h0M229.3 192.3h0M249.0 179.3h0M226.8 202.3h0M244.9 187.3h0M222.3 202.1h0M230.0 196.6h0M245.9 187.9h0M206.2 224.5h0M236.3 203.7h0M236.7 188.5h0M224.8 207.3h0M232.3 205.4h0M211.8 212.5h0M246.5 188.1h0M216.8 208.0h0M221.7 197.5h0M231.6 194.1h0M225.7 208.1h0M237.2 198.4h0M249.7 175.2h0M215.9 212.2h0M234.5 191.8h0M253.8 176.1h0M250.7 175.3h0M219.3 207.5h0M228.9 192.9h0M220.7 204.1h0M245.4 184.0h0M227.5 206.1h0M227.9 194.7h0M223.3 201.4h0M233.5 183.3h0M239.8 196.7h0M235.5 193.1h0M243.2 174.9h0M246.7 186.5h0M223.3 205.9h0M214.0 215.2h0M227.4 196.6h0M217.1 211.4h0M251.1 175.3h0M225.4 207.8h0M222.1 205.7h0M246.4 185.5h0M214.7 216.6h0M209.9 216.5h0M242.5 187.5h0M228.2 205.3h0M239.1 191.4h0M244.2 186.5h0M228.6 199.5h0M226.0 203.1h0M242.8 185.0h0M249.1 181.8h0M250.6 179.9h0M215.5 210.0h0M226.8 198.7h0M245.4 182.3h0M226.4 205.9h0M236.2 197.6h0M243.2 188.1h0M219.1 208.9h0M229.0 199.3h0M243.7 182.1h0M243.0 190.2h0M253.3 179.3h0M241.9 197.2h0M234.9 192.3h0M254.6 175.7h0M206.5 225.1h0M215.9 213.8h0M216.4 204.2h0M244.4 186.5h0M234.8 199.0h0M249.6 183.6h0M213.1 219.7h0M239.1 186.9h0M207.0 224.1h0M231.6 189.4h0M219.2 214.0h0M222.8 205.7h0M247.8 186.1h0M230.8 202.8h0M219.0 217.0h0M226.6 201.9h0M242.3 186.7h0M211.9 217.2h0M229.9 197.6h0M229.2 206.8h0M213.7 215.6h0M248.1 182.2h0M235.3 189.9h0M220.4 212.7h0M224.2 204.7h0M229.3 200.6h0M251.9 176.6h0M244.5 183.0h0M225.1 203.6h0M256.1 171.7h0M236.5 193.1h0M226.6 189.0h0M247.2 179.8h0M208.1 219.5h0M217.8 205.7h0M229.5 200.0h0M238.6 192.2h0M250.8 181.6h0M222.4 203.6h0M232.6 201.1h0M251.7 178.1h0M242.1 187.5h0M232.1 194.8h0M224.1 216.8h0M240.5 189.5h0M231.0 191.2h0M228.2 203.3h0M220.6 206.8h0M219.9 206.1h0M234.6 190.3h0M242.2 186.4h0M218.3 212.1h0M232.4 198.5h0M247.9 181.0h0M236.4 189.3h0M211.2 216.8h0M220.5 214.2h0M218.9 215.3h0M248.5 178.6h0M246.9 180.1h0M243.8 187.2h0M219.6 212.2h0M234.7 200.4h0" stroke="#c4ccd8" stroke-width="1.00" stroke-linecap="round" stroke-opacity="0.8" fill="none"/>
<path d="M214.0 209.7h0M225.6 199.7h0M225.8 204.6h0M248.0 185.3h0M226.4 205.1h0M232.4 186.0h0M208.0 220.2h0M233.8 197.0h0M215.3 211.4h0M238.0 193.5h0M237.6 188.0h0M248.5 183.8h0M218.4 207.5h0M231.6 198.2h0M209.6 222.2h0M237.9 188.7h0M213.9 209.7h0M219.7 210.4h0M205.9 224.4h0M246.4 181.6h0M220.1 206.0h0M233.5 193.3h0M207.8 220.9h0M231.7 192.9h0M248.1 180.4h0M238.4 190.1h0M243.3 186.6h0M246.4 187.2h0M250.6 179.3h0M216.1 210.3h0M218.6 206.3h0M231.3 190.9h0M252.6 173.7h0M233.5 206.7h0M222.0 206.6h0M235.6 195.5h0M223.4 204.7h0M248.8 182.0h0M207.5 219.1h0M211.2 212.4h0M252.5 175.4h0M237.3 192.3h0M212.3 219.5h0M217.0 210.3h0M235.4 192.2h0M232.7 192.1h0M240.6 188.4h0M234.5 190.9h0M240.4 189.8h0M244.7 182.1h0M212.0 220.9h0M234.1 193.7h0M238.1 193.4h0M225.3 206.4h0M242.9 188.5h0M227.1 199.4h0M246.9 179.7h0M243.4 183.4h0M241.4 192.9h0M224.8 205.2h0M216.8 213.0h0M252.6 177.3h0M207.3 221.6h0M211.0 217.8h0M224.4 197.0h0M242.7 187.2h0M215.5 210.1h0M230.7 199.9h0M208.1 223.1h0M252.0 179.4h0M245.7 185.7h0M255.3 172.2h0M243.5 174.3h0M208.6 220.7h0M243.2 180.0h0M247.6 176.9h0M241.4 181.9h0M254.8 176.9h0M219.8 211.6h0M229.5 191.7h0M238.1 185.4h0M221.5 207.5h0M207.2 220.9h0M240.4 188.0h0M246.6 187.0h0M238.5 193.0h0M225.3 202.2h0M235.5 199.6h0M225.9 201.1h0M214.8 219.5h0M236.4 188.8h0M244.7 187.0h0M219.9 206.9h0M215.2 212.4h0M240.4 190.4h0M217.6 213.8h0M245.9 185.8h0M230.9 196.4h0M217.8 211.3h0M230.2 200.4h0M247.9 182.3h0M221.0 200.1h0M213.2 216.7h0M238.8 193.7h0M213.9 215.8h0M228.3 197.0h0M213.8 214.4h0M210.9 215.1h0M216.7 210.1h0M210.4 219.0h0M216.9 214.5h0M226.8 202.0h0M222.9 208.4h0M222.8 201.7h0M248.4 180.0h0M221.6 205.3h0M231.2 200.8h0M222.9 209.5h0M226.8 208.0h0M236.6 199.9h0M223.0 205.8h0M249.5 183.1h0M237.1 188.4h0M238.4 196.6h0M219.1 212.8h0M240.3 187.6h0M229.5 193.5h0M235.4 196.3h0M209.3 216.8h0M256.1 173.0h0M222.2 207.4h0M244.5 186.0h0M221.2 207.9h0M227.3 207.4h0M230.0 198.7h0M243.2 186.1h0M231.9 196.5h0M224.3 202.7h0M226.0 202.5h0M256.0 173.7h0M249.7 176.9h0M223.2 205.9h0M210.4 219.9h0M254.1 175.2h0M231.5 194.2h0M242.8 183.4h0M224.4 207.1h0M245.1 180.3h0M217.3 212.6h0M245.8 181.9h0M217.3 214.9h0M242.1 185.3h0M215.6 212.1h0M235.6 193.4h0M242.5 182.8h0M249.1 178.7h0" stroke="#98a8c4" stroke-width="1.00" stroke-linecap="round" stroke-opacity="0.8" fill="none"/>
<path d="M226.7 203.9h0M228.4 201.6h0M221.5 207.5h0M230.4 197.8h0M223.0 203.8h0M226.5 198.6h0M237.2 190.7h0M219.2 204.6h0M239.5 189.5h0M236.9 190.7h0M233.6 193.1h0M234.0 193.1h0M211.9 213.4h0M230.3 200.5h0M235.8 192.1h0M228.3 197.1h0M237.9 189.1h0M231.5 193.9h0M223.7 201.8h0M218.3 210.2h0M212.9 213.0h0M216.0 209.2h0M216.5 209.6h0M219.8 206.9h0M235.6 190.3h0M233.5 190.7h0M221.3 211.8h0M213.5 211.5h0M211.9 213.6h0M238.2 190.7h0M224.0 202.2h0M245.3 183.1h0M247.9 179.6h0M233.8 192.5h0M214.4 212.5h0M240.1 188.6h0M214.7 212.1h0M236.5 190.5h0M218.4 207.8h0M232.8 190.9h0M233.0 188.6h0M232.8 198.7h0M228.6 200.3h0M222.5 205.9h0M245.9 182.6h0M233.8 190.8h0M241.9 183.1h0M221.2 207.0h0M213.9 213.0h0M227.3 201.3h0M243.5 181.9h0M223.7 202.6h0M224.2 207.6h0M238.1 182.5h0M238.6 189.3h0M234.7 193.6h0M221.2 206.4h0M233.9 195.1h0M248.6 182.3h0M221.0 208.9h0M220.2 204.8h0M233.8 193.3h0M228.2 201.6h0M235.3 195.1h0M243.4 180.0h0M215.7 211.0h0M218.0 208.6h0M232.4 196.0h0M227.1 202.9h0M209.9 217.6h0M224.5 201.7h0M242.2 187.5h0M228.4 198.6h0M241.4 189.5h0M211.6 217.1h0M228.8 198.1h0M212.4 216.6h0M234.5 195.2h0M226.3 197.4h0M237.2 184.8h0M232.3 197.3h0M234.3 194.5h0M226.6 197.3h0M246.5 178.4h0M240.6 187.5h0M230.8 196.0h0M224.2 201.0h0M223.2 205.2h0M213.7 209.0h0M220.6 205.7h0M225.8 198.9h0M223.4 203.1h0M243.1 185.9h0M236.1 193.6h0M237.9 189.7h0M244.1 185.7h0M211.0 208.5h0M242.1 182.7h0M235.0 192.7h0M219.0 206.2h0M215.0 208.7h0M223.9 204.9h0" stroke="#3a58d0" stroke-width="1.10" stroke-linecap="round" stroke-opacity="0.95" fill="none"/>
<path d="M232.7 190.5h0M241.9 187.7h0M218.5 209.8h0M228.5 198.4h0M230.9 196.4h0M235.6 193.1h0M214.5 213.8h0M231.7 197.9h0M226.4 200.0h0M227.6 201.5h0M228.0 201.0h0M224.2 203.0h0M218.4 207.0h0M229.5 198.4h0M247.3 180.0h0M235.9 192.6h0M242.3 185.4h0M208.5 217.4h0M244.7 182.7h0M232.6 193.0h0M233.8 193.2h0M236.5 189.3h0M236.2 190.2h0M229.7 196.1h0M234.3 194.4h0M226.6 199.1h0M222.1 207.6h0M238.3 188.1h0M226.2 200.0h0M213.5 210.1h0M223.7 203.4h0M236.1 192.2h0M227.3 199.9h0M236.6 185.2h0M236.2 190.6h0M216.4 210.4h0M223.1 201.3h0M231.0 200.3h0M236.2 189.9h0M227.9 198.8h0M231.2 196.0h0M230.8 196.6h0M221.9 205.4h0M225.2 202.6h0M241.1 184.3h0M214.8 211.9h0M208.8 220.0h0M223.2 205.3h0M240.2 187.8h0M246.4 182.4h0M212.2 212.2h0M239.5 188.2h0M216.3 210.6h0M230.1 199.1h0M216.1 212.9h0M244.1 179.8h0M235.3 195.1h0M226.7 198.2h0M230.0 196.5h0M226.5 203.5h0M217.7 209.2h0M247.9 182.1h0M223.3 207.2h0M227.3 202.7h0M231.6 196.6h0M237.2 191.4h0M221.1 203.3h0M231.2 195.2h0M240.4 188.0h0M232.9 192.7h0M210.9 213.2h0M225.9 201.6h0M224.5 205.7h0M243.1 186.7h0M236.4 193.5h0M221.9 204.3h0M206.5 219.1h0M227.9 198.1h0M234.4 193.1h0M227.3 197.9h0M236.9 191.5h0M236.2 190.2h0M215.3 216.3h0M226.8 197.2h0M246.6 180.4h0M242.0 186.1h0M230.6 197.1h0M243.4 180.1h0M223.7 209.7h0M236.8 186.8h0M242.7 183.9h0M242.7 187.6h0M221.8 203.8h0M244.6 184.8h0M224.3 205.6h0" stroke="#4a70d0" stroke-width="1.10" stroke-linecap="round" stroke-opacity="0.95" fill="none"/>
<path d="M248.2 181.5h0M225.3 201.9h0M218.1 209.0h0M220.8 206.0h0M219.2 208.0h0M236.3 194.3h0M231.7 196.3h0M234.8 194.4h0M214.5 212.9h0M224.1 206.8h0M237.4 190.6h0M233.1 193.6h0M213.7 212.3h0M224.2 205.3h0M218.8 211.4h0M223.1 204.5h0M220.8 209.6h0M219.7 207.0h0M235.7 189.7h0M212.1 215.4h0M241.8 185.6h0M214.2 211.7h0M228.4 197.7h0M218.9 205.6h0M245.4 184.6h0M226.3 199.0h0M227.2 200.6h0M226.4 205.8h0M232.4 195.2h0M222.2 208.3h0M211.1 216.4h0M224.3 202.0h0M227.4 195.2h0M216.4 209.0h0M246.1 181.5h0M240.6 186.6h0M227.1 200.7h0M233.7 193.4h0M214.3 210.7h0M231.6 195.3h0M232.1 195.7h0M234.7 192.2h0M214.5 213.7h0M227.5 200.4h0M232.2 198.8h0M233.9 193.1h0M242.1 186.1h0M239.2 187.7h0M234.3 193.8h0M241.1 190.3h0M211.6 216.7h0M232.4 191.0h0M219.1 209.3h0M212.2 214.7h0M249.1 180.8h0M212.9 215.1h0M241.8 188.0h0M246.4 182.6h0M240.0 185.7h0M223.9 205.7h0M248.6 181.9h0M236.6 189.8h0M221.9 204.6h0M226.2 201.3h0M228.3 195.2h0M216.7 210.4h0M208.0 220.6h0M228.8 197.6h0M214.1 216.8h0M243.5 186.2h0M237.4 188.9h0M232.5 191.3h0M226.0 200.8h0M235.4 194.3h0M224.7 203.5h0M246.5 182.0h0M216.5 211.0h0M231.5 192.7h0M212.5 217.2h0M232.2 198.0h0M222.9 206.9h0M234.3 193.2h0M223.9 206.1h0M216.9 208.2h0M231.6 198.9h0M207.9 221.2h0M237.1 192.0h0M241.7 185.1h0M216.6 210.9h0M232.1 195.2h0M226.1 207.0h0M239.4 189.6h0M232.3 196.2h0M223.9 205.0h0M241.2 184.8h0M220.9 205.4h0M221.2 205.0h0M244.5 183.3h0M227.2 199.3h0M245.4 185.4h0M231.5 196.3h0M213.9 210.5h0M231.0 198.0h0M238.4 191.2h0M231.0 195.3h0M246.7 180.5h0M228.6 194.2h0M246.4 180.8h0M207.7 221.3h0M223.7 206.0h0M209.8 214.5h0M235.4 189.4h0M212.4 212.8h0" stroke="#2440b8" stroke-width="1.10" stroke-linecap="round" stroke-opacity="0.95" fill="none"/>
<path d="M219.3 204.0h0M236.5 190.0h0M227.5 202.8h0M214.5 213.8h0M221.0 208.5h0M241.6 184.9h0M208.7 215.3h0M230.6 199.7h0M247.5 179.5h0M245.3 181.6h0M242.7 185.6h0M222.3 203.1h0M236.3 193.4h0M216.6 211.7h0M244.7 184.7h0M224.3 200.6h0M233.4 190.4h0M220.6 204.3h0M224.2 200.4h0M226.6 201.2h0M240.1 189.7h0M241.5 184.2h0M241.6 188.1h0M208.7 215.6h0M216.1 214.3h0M221.6 208.7h0M217.6 211.0h0M219.8 204.0h0M235.2 193.7h0M219.6 207.0h0M229.2 196.4h0M238.8 187.9h0M233.7 196.2h0M230.5 200.1h0M239.4 185.7h0M221.1 204.3h0M209.9 216.2h0M225.6 199.1h0M224.0 203.2h0M231.9 199.7h0M233.3 194.3h0M239.5 188.2h0M210.8 216.1h0M235.0 192.1h0M212.8 214.4h0M236.7 186.0h0M216.2 209.4h0M219.9 210.6h0M243.4 185.6h0M210.0 221.5h0M233.6 192.4h0M210.6 219.1h0M218.1 209.9h0M239.1 192.6h0M222.3 205.1h0M227.8 196.0h0M239.8 189.1h0M227.8 199.0h0M213.1 216.5h0M247.1 178.5h0M231.2 198.5h0M222.8 202.3h0M236.8 191.5h0M227.9 200.6h0M234.3 191.1h0M236.8 194.3h0M215.4 208.6h0M232.0 195.4h0M237.8 187.5h0M231.9 197.0h0M241.4 185.1h0M241.5 184.2h0M247.7 182.4h0M247.8 185.0h0M219.3 207.7h0M226.7 201.0h0M231.9 193.5h0M220.9 211.1h0M246.4 181.4h0M236.9 188.8h0M229.8 195.3h0M242.1 185.4h0M226.2 198.8h0M217.4 213.8h0M225.7 206.5h0M234.8 195.3h0M247.5 181.4h0M239.2 194.6h0M220.8 206.4h0M212.3 212.7h0M233.4 192.5h0M219.6 207.0h0M241.1 186.8h0M229.4 194.4h0M237.1 189.9h0M223.7 202.3h0M215.6 213.0h0M242.9 185.2h0M219.4 211.5h0M218.7 209.6h0M229.1 195.0h0M219.2 209.9h0M246.9 180.7h0M237.7 191.5h0M221.9 207.0h0M246.0 181.7h0M211.5 215.8h0M217.2 209.9h0M225.2 206.7h0M213.3 214.3h0" stroke="#2f4cc8" stroke-width="1.10" stroke-linecap="round" stroke-opacity="0.95" fill="none"/>
<line x1="201" y1="227.8" x2="259.6" y2="169.4" stroke="#3c3c3c" stroke-width="0.9"/>
<rect x="201" y="169.4" width="58.60000000000002" height="58.400000000000006" fill="none" stroke="#404040" stroke-width="0.95"/>
<text x="203.8" y="232.4" font-size="3.6" text-anchor="middle" fill="#383838">10<tspan font-size="2.3" dy="-1">0</tspan></text>
<text x="219.7" y="232.4" font-size="3.6" text-anchor="middle" fill="#383838">10<tspan font-size="2.3" dy="-1">1</tspan></text>
<text x="236.5" y="232.4" font-size="3.6" text-anchor="middle" fill="#383838">10<tspan font-size="2.3" dy="-1">2</tspan></text>
<text x="253.3" y="232.4" font-size="3.6" text-anchor="middle" fill="#383838">10<tspan font-size="2.3" dy="-1">3</tspan></text>
<text x="199.8" y="178.3" font-size="3.6" text-anchor="end" fill="#383838">10<tspan font-size="2.3" dy="-1">3</tspan></text>
<text x="199.8" y="195.2" font-size="3.6" text-anchor="end" fill="#383838">10<tspan font-size="2.3" dy="-1">2</tspan></text>
<text x="199.8" y="211.5" font-size="3.6" text-anchor="end" fill="#383838">10<tspan font-size="2.3" dy="-1">1</tspan></text>
<text x="199.8" y="227.4" font-size="3.6" text-anchor="end" fill="#383838">10<tspan font-size="2.3" dy="-1">0</tspan></text>
<rect x="284.2" y="169.4" width="58.60000000000002" height="58.5" fill="#fff"/>
<path d="M307.9 184.8h0M304.9 203.1h0M308.1 185.1h0M308.2 183.3h0M306.2 200.5h0M307.2 200.9h0M308.2 176.3h0M307.8 185.0h0M308.3 186.5h0M306.0 186.1h0M307.7 193.9h0M309.9 174.4h0M305.7 202.4h0M307.2 177.2h0M309.1 206.1h0M308.0 183.7h0M308.9 178.0h0M306.0 187.7h0M306.8 199.2h0M308.9 185.7h0M305.0 180.3h0M306.4 200.9h0M308.2 180.5h0M309.7 178.3h0M306.7 181.1h0M309.0 175.2h0M307.9 184.4h0M301.9 202.1h0M306.3 181.5h0M309.1 183.6h0M309.7 198.5h0M307.9 190.2h0M305.9 206.7h0M308.8 186.2h0M307.5 181.6h0M309.7 191.7h0M310.0 179.2h0M307.1 177.0h0M309.6 176.8h0M308.7 181.3h0M308.9 202.5h0M303.5 209.7h0M305.9 201.4h0M309.3 173.7h0M308.2 188.9h0M304.1 204.8h0M306.7 193.4h0M305.4 207.4h0M302.8 201.4h0M309.3 180.8h0M309.0 182.9h0M309.0 184.6h0M298.1 206.5h0M309.6 187.2h0M305.8 183.7h0M306.1 206.0h0M304.3 189.1h0M305.9 210.9h0M306.8 184.7h0M304.5 178.9h0M308.3 173.2h0M309.4 190.5h0M305.7 197.4h0M306.5 201.2h0M304.7 196.4h0M310.0 173.6h0M307.4 183.3h0M302.9 210.9h0M309.6 198.2h0M304.9 197.4h0M308.6 175.2h0M308.9 175.3h0M310.0 174.6h0M308.4 186.8h0" stroke="#b4b4b4" stroke-width="1.00" stroke-linecap="round" stroke-opacity="0.85" fill="none"/>
<path d="M308.2 173.9h0M305.0 202.6h0M308.0 177.6h0M304.7 208.0h0M306.3 188.1h0M305.8 205.8h0M309.3 200.2h0M305.1 209.7h0M297.3 211.7h0M304.2 206.1h0M310.0 187.5h0M309.1 174.8h0M307.3 182.2h0M308.4 182.5h0M303.6 193.0h0M307.1 183.6h0M307.9 194.8h0M306.4 186.6h0M308.5 179.9h0M304.6 210.2h0M307.9 180.8h0M305.0 194.4h0M303.9 199.4h0M301.8 208.3h0M308.4 174.7h0M309.5 185.0h0M308.5 200.9h0M306.2 183.3h0M306.7 182.6h0M309.4 192.9h0M306.6 194.0h0M309.4 178.2h0M305.8 194.1h0M303.7 205.9h0M307.7 183.8h0M303.8 197.9h0M308.5 189.0h0M309.8 177.2h0M307.9 179.6h0M304.8 190.9h0M303.8 206.1h0M309.3 198.6h0M304.0 187.6h0M308.9 173.0h0M307.9 202.6h0M309.4 181.9h0M309.9 177.1h0M303.5 200.2h0M307.6 195.7h0M304.2 193.6h0M307.8 180.6h0M305.3 194.6h0M309.2 177.7h0M309.9 174.7h0M307.8 195.0h0M308.3 183.0h0M308.3 184.0h0M308.6 183.8h0M308.7 181.6h0M302.0 201.0h0M306.3 197.9h0M307.1 199.4h0M305.7 182.8h0M310.0 181.4h0M304.9 202.5h0M309.3 180.0h0M309.6 175.4h0M307.7 185.5h0M305.6 208.4h0M308.7 187.0h0M304.7 194.4h0M307.8 179.3h0M300.7 204.5h0M309.8 186.2h0M309.8 189.1h0M309.4 176.0h0M308.0 188.9h0M308.7 176.7h0M307.9 201.4h0M308.3 194.8h0M308.4 201.2h0M308.6 175.5h0" stroke="#a8a8a8" stroke-width="1.00" stroke-linecap="round" stroke-opacity="0.85" fill="none"/>
<path d="M306.5 196.3h0M300.6 194.1h0M304.2 186.9h0M308.0 191.5h0M297.9 209.8h0M306.3 187.2h0M309.3 174.6h0M308.6 179.6h0M306.0 194.2h0M305.6 201.4h0M306.8 190.9h0M308.5 179.7h0M303.3 196.7h0M309.2 179.3h0M310.0 186.2h0M306.6 179.9h0M309.9 207.6h0M309.3 183.8h0M309.6 175.7h0M306.9 191.9h0M308.3 204.4h0M309.6 179.5h0M309.5 174.0h0M309.1 210.0h0M308.2 197.0h0M310.0 183.3h0M308.7 185.2h0M308.9 182.6h0M309.4 188.8h0M306.8 209.9h0M306.9 204.0h0M306.5 184.6h0M307.7 184.1h0M309.9 192.4h0M306.9 201.7h0M308.6 182.1h0M308.9 179.1h0M308.8 180.0h0M306.7 193.8h0M307.1 180.9h0M308.7 189.3h0M305.9 190.7h0M306.0 197.4h0M309.0 191.7h0M306.0 202.2h0M307.9 210.9h0M301.8 190.6h0M308.3 192.0h0M309.2 189.0h0M305.7 187.3h0M308.2 193.7h0M308.3 188.0h0M307.9 177.9h0M306.9 188.1h0M309.0 176.7h0M308.5 182.9h0M309.4 174.7h0M305.2 204.0h0M305.7 187.2h0M308.1 174.0h0M302.1 204.6h0M309.9 185.6h0M307.7 190.1h0M302.9 209.7h0M309.9 176.9h0M306.7 195.4h0M302.0 208.0h0M306.7 201.4h0M308.1 174.4h0M305.4 205.5h0M309.9 187.6h0M306.8 184.9h0M305.7 196.5h0M307.9 192.5h0M304.8 203.3h0M303.4 204.0h0M307.5 179.1h0M302.1 210.8h0M300.5 195.7h0M304.6 211.4h0M308.3 184.4h0M306.3 193.2h0M301.4 208.0h0M309.7 209.5h0M307.5 192.8h0M303.5 185.8h0M308.9 176.0h0M307.7 183.3h0M307.6 182.0h0M309.2 176.6h0M309.5 205.5h0M309.2 192.1h0M301.0 204.7h0M306.9 200.5h0M310.0 172.9h0M306.5 202.6h0M305.5 190.2h0M306.1 200.6h0M305.3 193.7h0M309.4 187.6h0M299.0 198.4h0" stroke="#8c8c8c" stroke-width="1.00" stroke-linecap="round" stroke-opacity="0.85" fill="none"/>
<path d="M305.2 197.8h0M307.5 193.6h0M308.1 174.0h0M305.9 188.4h0M307.7 182.6h0M308.7 180.5h0M308.6 180.8h0M308.2 193.8h0M309.8 176.5h0M306.5 193.6h0M309.7 175.3h0M307.2 186.4h0M300.7 199.2h0M308.6 174.8h0M308.1 188.1h0M307.7 201.1h0M307.2 187.5h0M307.3 197.5h0M306.4 182.4h0M310.0 173.8h0M303.1 210.5h0M300.1 200.9h0M309.2 174.3h0M308.9 175.9h0M300.8 206.2h0M307.5 178.4h0M308.8 179.2h0M308.4 199.4h0M301.1 209.7h0M308.9 183.2h0M306.0 204.1h0M301.8 191.2h0M306.6 203.6h0M304.5 195.5h0M304.4 204.0h0M306.9 194.1h0M306.4 194.7h0M307.8 178.5h0M308.1 196.4h0M308.0 191.6h0M308.0 188.6h0M305.9 185.3h0M306.5 195.3h0M309.8 184.4h0M305.4 200.6h0M306.2 185.6h0M309.6 174.3h0M308.8 174.3h0M308.7 188.0h0M306.8 177.1h0M308.5 177.8h0M307.6 197.2h0M301.6 202.1h0M300.6 205.0h0M307.8 178.7h0M304.1 195.5h0M306.6 204.7h0M308.8 177.2h0M309.0 182.7h0M303.1 202.8h0M307.5 187.6h0M308.6 182.0h0M308.5 197.0h0M307.6 180.6h0M303.9 206.4h0M306.0 196.4h0M306.8 178.8h0M302.4 206.1h0M305.9 201.8h0M307.2 187.4h0M308.1 187.3h0M308.8 175.2h0M308.7 179.6h0M309.8 177.6h0M301.4 207.1h0M309.7 207.2h0M307.6 201.5h0M309.7 178.9h0M308.1 204.0h0M309.6 184.6h0M305.7 196.6h0M307.6 186.6h0M309.7 176.5h0M307.9 205.8h0M309.8 176.0h0M309.9 195.6h0M306.7 188.7h0M302.9 205.0h0M309.4 185.5h0M303.3 209.8h0M309.9 176.3h0M307.1 180.4h0M303.6 195.4h0M303.1 211.3h0M309.7 193.2h0M308.7 183.7h0M308.3 173.3h0M306.5 194.7h0M305.1 180.0h0M306.9 184.2h0M306.2 193.1h0M309.4 174.0h0M305.0 188.6h0M305.5 196.2h0" stroke="#9a9a9a" stroke-width="1.00" stroke-linecap="round" stroke-opacity="0.85" fill="none"/>
<path d="M309.6 174.7h0M308.5 186.7h0M308.8 198.4h0M304.7 190.5h0M303.7 199.5h0M307.1 197.6h0M307.3 208.7h0M308.1 178.5h0M308.4 175.0h0M302.6 208.3h0M306.9 175.2h0M304.0 186.6h0M303.5 206.0h0M310.0 185.4h0M308.5 184.3h0M307.2 180.2h0M306.4 197.2h0M303.3 195.0h0M308.2 189.0h0M304.3 198.3h0M308.4 179.1h0M307.8 185.7h0M303.5 202.6h0M309.9 175.0h0M306.8 180.0h0M309.2 179.7h0M309.9 173.9h0M307.4 182.6h0M307.9 204.3h0M302.9 204.7h0M307.3 197.7h0M310.0 185.9h0M303.5 184.6h0M309.5 182.6h0M304.9 209.9h0M308.4 175.4h0M307.4 198.6h0M309.9 185.0h0M303.4 202.8h0M308.9 188.9h0M305.7 194.6h0M308.6 189.5h0M306.8 199.0h0M309.0 183.9h0M307.4 186.5h0M309.5 192.8h0M307.4 197.1h0M308.7 197.8h0M301.0 201.1h0M307.2 187.7h0M309.7 206.9h0M309.7 187.9h0M306.4 207.1h0M308.9 197.8h0M309.9 174.1h0M306.9 183.4h0M306.0 208.9h0M307.5 192.0h0M309.0 207.2h0M309.7 176.4h0M306.5 196.1h0M303.7 206.5h0M308.3 178.5h0M307.0 189.2h0M299.0 210.7h0M306.5 184.7h0M308.0 184.3h0M307.6 206.0h0M305.5 194.9h0M308.8 186.3h0M309.5 206.9h0M306.5 209.9h0M307.5 198.2h0M299.9 202.8h0M306.1 195.6h0M306.3 200.9h0M305.8 188.7h0M309.6 185.1h0M299.5 203.6h0" stroke="#a0a4ac" stroke-width="1.00" stroke-linecap="round" stroke-opacity="0.85" fill="none"/>
<path d="M295.9 182.7h0M296.0 189.0h0M293.3 194.7h0M299.5 198.5h0M304.1 195.7h0M298.0 185.8h0M305.1 190.4h0M301.1 183.3h0M296.9 197.9h0M293.5 199.1h0M306.3 196.1h0M311.1 205.3h0M295.1 194.5h0M305.9 199.4h0M302.4 185.8h0M304.8 194.5h0M304.9 193.6h0M293.8 197.9h0M296.3 183.4h0M309.9 181.6h0M300.7 198.8h0M293.5 199.6h0M304.1 199.2h0M306.0 188.7h0M317.0 195.1h0M326.1 183.0h0M326.7 188.3h0M320.5 191.5h0M311.3 192.2h0M316.1 192.1h0M323.9 187.1h0M326.1 191.3h0M326.0 178.2h0M310.5 185.7h0M319.0 182.7h0M322.2 205.4h0M315.6 182.0h0M322.2 200.1h0M318.1 184.6h0M316.3 193.9h0" stroke="#d0d0d0" stroke-width="1.00" stroke-linecap="round" stroke-opacity="0.85" fill="none"/>
<path d="M301.7 194.0h0M289.7 214.9h0M298.1 198.2h0M300.7 207.7h0M299.8 191.4h0M301.4 198.5h0M306.7 194.9h0M305.4 194.8h0M306.2 194.9h0M294.8 210.5h0M298.6 194.6h0M303.3 203.9h0M297.2 197.6h0M298.6 202.7h0M294.0 211.2h0M308.7 189.6h0M302.0 187.7h0M301.6 182.1h0M296.3 198.2h0M300.9 203.8h0M299.4 186.5h0M298.6 213.6h0M297.2 203.7h0M294.1 198.7h0M305.5 194.7h0M293.2 195.4h0M296.4 210.2h0M321.7 181.5h0M316.3 170.2h0M323.3 202.4h0M322.6 187.6h0M326.1 177.7h0M314.8 186.4h0M313.8 184.8h0M326.1 188.3h0M323.7 178.9h0M328.0 177.6h0M323.2 189.0h0M311.4 191.2h0M319.1 178.5h0M325.5 179.1h0M329.0 205.5h0M309.9 179.3h0M328.5 179.2h0M308.4 181.6h0" stroke="#c4c4c4" stroke-width="1.00" stroke-linecap="round" stroke-opacity="0.85" fill="none"/>
<path d="M295.7 188.3h0M292.7 206.6h0M304.5 205.8h0M300.9 186.3h0M303.5 201.8h0M294.0 208.3h0M302.3 206.0h0M299.5 190.9h0M306.5 202.9h0M301.7 194.1h0M306.1 199.5h0M301.9 196.2h0M296.0 200.0h0M299.7 204.6h0M317.8 186.1h0M317.8 197.5h0M313.4 183.4h0M322.5 191.9h0M319.1 201.6h0M322.0 194.1h0M311.4 177.3h0M324.8 184.7h0M312.6 181.6h0M324.1 196.1h0M321.4 186.4h0M318.6 189.0h0M313.3 188.4h0M318.4 183.4h0M331.8 183.7h0M325.0 179.8h0M326.9 175.7h0M317.7 187.1h0M318.7 183.6h0M316.8 186.8h0M319.5 177.9h0M315.6 182.4h0M320.5 179.4h0M313.9 176.9h0" stroke="#c8ccd4" stroke-width="1.00" stroke-linecap="round" stroke-opacity="0.85" fill="none"/>
<path d="M296.7 192.7h0M302.9 193.0h0M300.5 209.0h0M296.0 207.9h0M291.0 194.7h0M299.8 199.1h0M290.1 204.7h0M304.5 195.7h0M296.8 203.6h0M296.4 199.5h0M293.7 206.7h0M300.6 201.6h0M291.6 181.4h0M305.7 191.1h0M299.4 174.9h0M308.7 192.9h0M301.9 192.0h0M305.6 193.4h0M301.7 207.8h0M294.7 195.0h0M299.8 191.9h0M289.0 202.5h0M297.3 194.6h0M303.2 184.2h0M318.7 184.2h0M310.2 182.2h0M314.4 184.3h0M326.8 203.0h0M331.1 186.7h0M332.1 204.5h0M317.5 188.5h0M328.3 194.3h0M301.5 185.2h0M318.4 176.2h0" stroke="#bcbcbc" stroke-width="1.00" stroke-linecap="round" stroke-opacity="0.85" fill="none"/>
<line x1="310.2" y1="169.4" x2="310.2" y2="227.9" stroke="#a4a4a4" stroke-width="1.1"/>
<path d="M310.3 170.8h0M310.3 171.9h0M315.7 204.5h0M319.3 196.3h0M312.2 196.9h0M318.7 197.1h0M317.1 198.4h0M320.7 204.1h0M311.2 175.1h0M312.7 174.1h0M317.2 209.6h0M309.4 171.0h0M317.5 211.2h0M309.5 174.8h0M309.9 170.5h0M311.0 174.5h0M318.7 212.4h0M311.7 175.2h0M314.1 183.8h0M314.3 185.1h0M315.6 212.6h0M309.5 170.0h0M310.9 170.1h0M316.1 184.2h0M317.2 194.9h0M312.7 178.2h0M318.1 192.8h0M311.5 179.1h0M309.2 170.6h0M311.4 179.9h0M312.8 184.3h0M311.1 177.8h0M317.6 196.0h0M318.0 195.1h0M316.7 200.6h0M321.1 210.5h0M311.3 170.8h0M310.5 187.7h0M311.0 177.7h0M313.2 179.5h0M310.5 173.7h0M311.4 170.1h0M312.2 170.7h0M309.0 171.4h0M312.1 176.1h0M315.7 202.5h0M320.6 209.8h0M309.9 171.7h0M316.1 194.2h0M314.3 190.5h0M318.9 199.0h0M315.8 195.0h0M309.4 171.6h0M310.4 170.1h0M318.8 210.4h0M310.2 170.4h0M322.3 207.3h0M313.5 187.8h0M315.3 191.5h0M311.9 174.8h0M309.9 170.3h0M312.2 172.6h0M311.1 175.8h0M315.1 194.5h0M311.5 176.1h0M311.4 179.1h0M314.2 187.0h0M317.7 199.9h0M312.2 176.3h0M317.3 198.2h0M312.5 179.4h0M314.7 184.8h0M312.0 176.3h0M309.3 172.6h0M309.9 171.3h0M329.3 213.4h0M312.3 171.8h0M311.5 195.6h0M311.1 189.2h0M312.8 178.7h0M310.7 177.3h0M312.9 196.7h0M310.4 170.3h0M312.8 185.4h0M318.7 205.6h0M318.6 202.8h0" stroke="#3040c8" stroke-width="1.10" stroke-linecap="round" stroke-opacity="0.95" fill="none"/>
<path d="M314.3 182.2h0M311.9 179.7h0M312.8 182.2h0M312.8 176.7h0M310.5 170.2h0M310.3 170.4h0M310.2 170.1h0M310.6 170.8h0M311.1 175.7h0M316.8 187.2h0M310.3 170.7h0M314.9 196.3h0M315.3 190.7h0M318.4 209.6h0M310.6 172.8h0M318.1 203.3h0M311.2 175.8h0M319.5 211.5h0M313.4 179.3h0M310.5 170.4h0M311.3 189.1h0M319.2 204.2h0M321.4 213.3h0M320.9 203.6h0M313.1 196.7h0M311.8 177.9h0M312.6 185.0h0M314.7 200.3h0M310.1 170.2h0M313.7 176.2h0M310.0 171.1h0M311.7 176.2h0M310.6 170.6h0M313.9 189.9h0M315.4 184.2h0M316.9 207.9h0M310.1 171.9h0M313.4 184.9h0M314.2 178.4h0M316.8 200.4h0M310.2 171.9h0M316.3 188.1h0M311.3 174.2h0M323.1 210.6h0M315.4 185.1h0M317.5 191.5h0M310.6 174.3h0M311.3 171.0h0M311.7 179.8h0M309.4 173.0h0M310.3 173.0h0M322.5 211.7h0M319.6 199.5h0M310.7 170.2h0M314.6 182.2h0M310.2 172.0h0M314.8 192.1h0M315.5 201.8h0M317.0 202.1h0M310.6 179.3h0M312.8 188.8h0M314.9 187.7h0M309.4 170.2h0M312.1 177.6h0M311.7 182.1h0M311.0 171.6h0M314.4 193.1h0M309.7 171.9h0M311.0 173.7h0M312.2 181.8h0M311.9 175.1h0M321.4 213.1h0M311.6 174.4h0M311.4 186.4h0M320.0 212.2h0M317.2 196.4h0M312.3 183.5h0M317.1 199.5h0M312.7 173.8h0M310.2 173.5h0M312.0 185.9h0M315.5 185.0h0M311.0 184.8h0M318.7 213.1h0M317.8 213.3h0M311.0 170.2h0M319.4 186.1h0M313.5 185.3h0M318.3 211.3h0M310.8 174.6h0M310.8 178.2h0M311.4 174.8h0" stroke="#2434b8" stroke-width="1.10" stroke-linecap="round" stroke-opacity="0.95" fill="none"/>
<path d="M309.3 171.1h0M311.6 184.7h0M314.3 196.2h0M317.7 206.7h0M311.4 175.3h0M316.2 185.3h0M321.0 204.9h0M315.7 185.9h0M318.7 203.5h0M318.8 204.2h0M311.7 171.4h0M320.8 205.6h0M312.1 188.4h0M315.5 204.8h0M312.5 170.9h0M310.8 177.7h0M310.0 170.7h0M313.0 203.5h0M314.1 189.9h0M313.6 178.7h0M310.8 171.1h0M314.3 203.5h0M310.7 173.2h0M310.8 175.2h0M318.4 212.5h0M309.7 171.7h0M310.6 175.8h0M310.3 170.1h0M323.2 213.4h0M311.3 176.7h0M312.9 181.2h0M311.8 174.1h0M310.6 177.7h0M310.8 174.8h0M312.6 185.7h0M309.8 170.8h0M316.6 181.9h0M321.0 209.3h0M311.8 174.0h0M313.6 174.3h0M309.8 172.0h0M311.6 176.5h0M315.9 182.9h0M309.9 170.9h0M314.9 201.1h0M313.1 186.5h0M316.4 189.6h0M313.1 190.6h0M312.1 171.0h0M311.2 175.6h0M311.6 173.9h0M310.5 171.7h0M313.6 178.6h0M317.3 201.1h0M317.0 204.8h0M314.9 190.4h0M322.4 200.0h0M315.7 193.3h0M321.3 210.2h0M315.4 194.7h0M312.4 184.2h0M320.5 205.3h0M317.2 193.9h0M323.6 205.9h0M321.1 195.2h0M313.6 184.6h0M315.6 210.2h0M311.3 175.3h0M314.2 183.4h0M310.5 171.3h0M313.9 177.2h0M319.8 204.5h0M320.4 207.1h0M313.4 178.3h0M316.0 204.3h0M312.9 182.2h0M317.1 199.4h0M310.8 174.8h0M317.4 196.0h0M319.1 208.2h0M321.3 201.7h0" stroke="#4a5ad0" stroke-width="1.10" stroke-linecap="round" stroke-opacity="0.95" fill="none"/>
<path d="M312.4 174.3h0M319.6 205.6h0M311.8 171.5h0M311.3 173.0h0M312.5 179.9h0M308.5 170.6h0M318.8 197.2h0M311.0 171.4h0M314.3 204.2h0M316.1 187.9h0M311.6 181.3h0M313.1 185.0h0M313.5 180.3h0M311.7 181.3h0M310.5 170.0h0M311.7 176.7h0M314.5 185.0h0M310.3 171.9h0M309.4 170.7h0M312.0 185.9h0M313.6 190.1h0M310.9 173.2h0M310.7 170.5h0M313.4 185.5h0M311.1 175.9h0M312.2 187.6h0M313.1 202.6h0M321.0 209.3h0M313.3 183.7h0M315.6 194.8h0M311.5 175.9h0M312.1 187.7h0M311.7 184.6h0M310.6 174.0h0M312.1 180.0h0M309.9 170.3h0M313.0 183.6h0M316.3 195.0h0M310.7 177.8h0M312.0 177.8h0M314.0 190.0h0M313.7 180.9h0M310.9 170.0h0M313.3 187.2h0M320.7 205.9h0M311.7 181.8h0M312.1 201.4h0M313.2 190.5h0M316.9 189.9h0M313.1 180.3h0M314.8 207.5h0M311.2 176.6h0M311.7 184.6h0M318.7 203.7h0M310.8 171.9h0M315.8 205.0h0M310.9 175.9h0M312.0 211.8h0M314.4 183.0h0M315.1 188.2h0M312.4 175.6h0M315.1 194.5h0M314.0 173.9h0M311.1 172.0h0M313.6 212.7h0M320.5 194.4h0M314.3 184.7h0M317.1 185.6h0M312.4 175.8h0M310.3 170.6h0M311.2 170.5h0M313.9 184.4h0M310.5 170.3h0M316.1 196.3h0M318.2 197.2h0M311.7 182.1h0M313.6 183.0h0M316.0 184.4h0M311.0 177.6h0M311.3 173.8h0M310.1 170.5h0M311.3 178.3h0M308.9 171.1h0M311.2 186.8h0M310.1 172.6h0M309.9 170.0h0M310.0 170.4h0M311.5 171.9h0M310.2 172.8h0M311.8 176.1h0M315.9 180.3h0M317.8 196.9h0M311.0 174.6h0M314.9 186.1h0M315.0 204.4h0M311.4 179.3h0" stroke="#3a4ad0" stroke-width="1.10" stroke-linecap="round" stroke-opacity="0.95" fill="none"/>
<path d="M316.4 201.6h0M324.2 201.2h0M316.7 210.2h0M328.2 205.1h0M322.3 194.8h0M324.5 200.4h0M333.1 192.4h0" stroke="#4a5ad0" stroke-width="1.10" stroke-linecap="round" stroke-opacity="0.9" fill="none"/>
<path d="M329.2 193.4h0M328.9 216.7h0M328.7 216.7h0M326.6 193.5h0" stroke="#2434b8" stroke-width="1.10" stroke-linecap="round" stroke-opacity="0.9" fill="none"/>
<path d="M321.6 200.4h0" stroke="#3040c8" stroke-width="1.10" stroke-linecap="round" stroke-opacity="0.9" fill="none"/>
<path d="M324.3 203.3h0M325.8 217.9h0" stroke="#3a4ad0" stroke-width="1.10" stroke-linecap="round" stroke-opacity="0.9" fill="none"/>
<rect x="284.2" y="169.4" width="58.60000000000002" height="58.5" fill="none" stroke="#777" stroke-width="0.85"/>
<text x="284.2" y="231.9" font-size="3.6" text-anchor="middle" fill="#383838">2<tspan font-size="2.3" dy="-1">-5</tspan></text>
<text x="290.1" y="231.9" font-size="3.6" text-anchor="middle" fill="#383838">2<tspan font-size="2.3" dy="-1">-4</tspan></text>
<text x="295.9" y="231.9" font-size="3.6" text-anchor="middle" fill="#383838">2<tspan font-size="2.3" dy="-1">-3</tspan></text>
<text x="301.8" y="231.9" font-size="3.6" text-anchor="middle" fill="#383838">2<tspan font-size="2.3" dy="-1">-2</tspan></text>
<text x="307.6" y="231.9" font-size="3.6" text-anchor="middle" fill="#383838">2<tspan font-size="2.3" dy="-1">-1</tspan></text>
<text x="313.5" y="231.9" font-size="3.6" text-anchor="middle" fill="#383838">2<tspan font-size="2.3" dy="-1">0</tspan></text>
<text x="319.4" y="231.9" font-size="3.6" text-anchor="middle" fill="#383838">2<tspan font-size="2.3" dy="-1">1</tspan></text>
<text x="325.2" y="231.9" font-size="3.6" text-anchor="middle" fill="#383838">2<tspan font-size="2.3" dy="-1">2</tspan></text>
<text x="331.1" y="231.9" font-size="3.6" text-anchor="middle" fill="#383838">2<tspan font-size="2.3" dy="-1">3</tspan></text>
<text x="336.9" y="231.9" font-size="3.6" text-anchor="middle" fill="#383838">2<tspan font-size="2.3" dy="-1">4</tspan></text>
<text x="342.8" y="231.9" font-size="3.6" text-anchor="middle" fill="#383838">2<tspan font-size="2.3" dy="-1">5</tspan></text>
<text x="283.4" y="170.4" font-size="3.6" text-anchor="end" fill="#383838">10<tspan font-size="2.3" dy="-1">-0</tspan></text>
<text x="283.4" y="182.1" font-size="3.6" text-anchor="end" fill="#383838">10<tspan font-size="2.3" dy="-1">-2</tspan></text>
<text x="283.4" y="193.8" font-size="3.6" text-anchor="end" fill="#383838">10<tspan font-size="2.3" dy="-1">-4</tspan></text>
<text x="283.4" y="205.5" font-size="3.6" text-anchor="end" fill="#383838">10<tspan font-size="2.3" dy="-1">-6</tspan></text>
<text x="283.4" y="217.2" font-size="3.6" text-anchor="end" fill="#383838">10<tspan font-size="2.3" dy="-1">-8</tspan></text>
<text x="283.4" y="228.9" font-size="3.6" text-anchor="end" fill="#383838">10<tspan font-size="2.3" dy="-1">-10</tspan></text>
<rect x="201" y="249.4" width="58.60000000000002" height="58.400000000000006" fill="#fff"/>
<line x1="220.0" y1="249.4" x2="220.0" y2="307.8" stroke="#b0b0b0" stroke-width="0.7"/>
<line x1="253.2" y1="249.4" x2="253.2" y2="307.8" stroke="#b0b0b0" stroke-width="0.7"/>
<line x1="201" y1="257.3" x2="259.6" y2="257.3" stroke="#b0b0b0" stroke-width="0.7"/>
<line x1="201" y1="305.4" x2="259.6" y2="305.4" stroke="#b0b0b0" stroke-width="0.7"/>
<line x1="236.3" y1="249.4" x2="236.3" y2="307.8" stroke="#707070" stroke-width="0.75"/>
<line x1="201" y1="273.7" x2="259.6" y2="273.7" stroke="#707070" stroke-width="0.75"/>
<line x1="201" y1="290.0" x2="259.6" y2="290.0" stroke="#707070" stroke-width="0.75"/>
<path d="M224.4 289.6h0M226.0 278.2h0M256.3 252.6h0M221.1 277.6h0M206.0 295.8h0M211.4 299.6h0M228.5 278.7h0M250.1 254.4h0M222.2 280.4h0M215.3 297.7h0M209.7 299.0h0M213.0 297.3h0M213.5 295.6h0M240.1 267.2h0M229.4 277.1h0M220.1 283.0h0M238.1 273.0h0M214.7 294.3h0M240.2 275.4h0M223.0 285.9h0M226.1 278.8h0M232.4 277.6h0M218.8 292.3h0M234.1 267.9h0M243.8 258.2h0M223.4 286.8h0M221.2 292.9h0M220.8 282.2h0M211.0 294.4h0M242.5 265.8h0M232.1 283.5h0M254.8 253.1h0M244.5 264.6h0M215.7 297.1h0M223.7 282.7h0M228.3 286.9h0M229.2 278.8h0M258.3 265.9h0M209.1 296.1h0M245.1 257.6h0M238.9 273.7h0M243.0 264.8h0M213.4 287.6h0M216.5 293.0h0M248.9 263.9h0M252.8 255.3h0M226.0 277.7h0M214.1 288.3h0M224.1 281.9h0M214.5 291.7h0M245.2 266.9h0M228.7 287.8h0M216.1 295.3h0M215.0 295.5h0M221.5 280.7h0M228.2 274.2h0M234.6 275.9h0M244.3 258.7h0M222.0 279.9h0M226.7 286.7h0M241.3 265.0h0M222.7 286.3h0M251.3 257.8h0M245.5 261.4h0M204.5 300.3h0M236.4 273.9h0M205.5 301.3h0M225.1 277.2h0M243.7 265.1h0M223.7 280.1h0M221.9 287.5h0M242.6 261.4h0M233.3 274.2h0M214.8 286.4h0M227.6 281.6h0M211.5 297.5h0M241.7 266.1h0M237.8 270.3h0M249.2 255.3h0M242.7 271.2h0M223.8 276.2h0M244.6 260.8h0M221.6 279.2h0M219.1 290.8h0M209.7 299.0h0M212.1 298.7h0M240.3 270.8h0M236.1 285.5h0M255.2 252.9h0M209.3 300.5h0M224.7 288.7h0M243.2 264.7h0M228.7 277.0h0M233.7 271.1h0M212.9 299.0h0M207.8 299.6h0M216.9 287.9h0M218.4 301.9h0M230.8 278.1h0M226.7 276.3h0M218.5 285.8h0M234.9 284.5h0M246.7 264.6h0M240.4 267.8h0M238.0 273.6h0M209.7 302.2h0M241.9 266.7h0M204.6 288.6h0M225.2 280.8h0M229.0 274.6h0M241.0 268.1h0M245.2 271.3h0M240.2 276.2h0M222.4 287.8h0M246.3 258.3h0M247.1 262.5h0M240.4 275.1h0M229.9 261.0h0M207.2 300.9h0M212.2 294.8h0M212.1 294.8h0M243.8 270.7h0M228.0 281.4h0M236.5 275.5h0M225.2 280.4h0M235.2 272.3h0M208.3 298.2h0M230.7 276.8h0M251.0 262.4h0M244.9 267.7h0M234.2 275.5h0M238.7 276.9h0M243.2 271.5h0M235.1 287.2h0M253.9 261.3h0M242.5 262.2h0M235.4 275.6h0M244.3 264.0h0M233.2 280.1h0M252.7 256.2h0M224.4 285.7h0M234.1 267.6h0M249.1 256.8h0M241.7 269.3h0M248.3 257.3h0M224.1 277.0h0M233.0 277.6h0M213.5 297.3h0M249.7 277.8h0M233.8 280.2h0M230.9 280.9h0M225.3 285.1h0M217.2 292.7h0M223.8 280.9h0M246.6 266.1h0M220.0 279.0h0M222.8 282.4h0M214.2 296.8h0M223.5 282.4h0M248.1 256.3h0M244.4 253.9h0M246.3 261.2h0M210.8 294.3h0M215.7 293.5h0M209.5 279.2h0M226.0 280.8h0M244.4 265.8h0M224.1 286.8h0M233.6 272.5h0M206.8 302.7h0M253.6 254.7h0M225.2 281.5h0M222.2 293.5h0M227.4 278.6h0M231.9 275.7h0M222.8 294.8h0M251.8 257.1h0M223.1 286.0h0M243.0 259.8h0M246.1 267.8h0M245.3 267.6h0M228.4 288.6h0M228.6 282.0h0M220.0 288.5h0M255.8 255.2h0M238.6 262.0h0M220.2 292.6h0M254.2 257.3h0M210.3 293.6h0M240.8 265.2h0M225.2 280.8h0M246.3 266.4h0M246.8 258.9h0M235.1 276.7h0M212.8 293.2h0M236.0 280.1h0M215.4 294.9h0M219.5 292.5h0M247.8 264.4h0M227.5 284.4h0M231.1 281.4h0M254.9 253.5h0M209.4 295.9h0M231.5 282.8h0M238.0 264.2h0M227.0 290.4h0M223.6 286.1h0M234.6 286.1h0M234.8 286.2h0M244.5 266.4h0M250.4 260.2h0M238.3 270.6h0M242.1 258.9h0M247.7 260.4h0M209.2 298.0h0M203.8 306.7h0M238.3 277.7h0M207.1 302.6h0M250.0 256.5h0M208.8 296.0h0M232.9 275.5h0M234.8 266.2h0M219.1 288.0h0M229.9 279.4h0M251.9 258.4h0M217.1 298.2h0M212.6 293.2h0M237.0 272.3h0M254.6 257.9h0M230.1 277.4h0M243.2 266.5h0M235.3 273.9h0M257.4 251.5h0M241.0 276.7h0M255.5 256.6h0M252.0 260.0h0M252.8 252.9h0M204.0 302.1h0M241.1 278.7h0M227.7 281.5h0M255.1 255.1h0M210.8 300.1h0M229.9 275.3h0M246.5 266.3h0M233.5 272.9h0M251.6 261.0h0M239.1 273.2h0M219.8 274.3h0M233.5 277.1h0M222.1 281.8h0M248.5 262.7h0M216.5 295.5h0M234.0 277.5h0M239.1 269.1h0M236.0 275.1h0M213.7 295.1h0M250.1 260.3h0M230.7 280.5h0M203.2 305.6h0M232.5 274.9h0M249.2 257.7h0M212.4 292.2h0M232.0 271.8h0M207.1 304.2h0M204.8 299.7h0M207.8 299.4h0M208.3 301.6h0M217.3 288.5h0M217.7 291.9h0M216.9 283.7h0M223.5 293.8h0M228.4 280.4h0M224.0 283.3h0M230.0 277.4h0M223.4 275.3h0M214.3 288.3h0M234.8 265.9h0M221.6 288.3h0M225.7 288.7h0M210.0 296.8h0M207.6 303.9h0M224.2 290.1h0M250.1 259.0h0M218.5 294.4h0M237.3 265.2h0" stroke="#c0c0c0" stroke-width="1.00" stroke-linecap="round" stroke-opacity="0.8" fill="none"/>
<path d="M230.3 283.6h0M253.1 259.1h0M234.0 281.7h0M222.4 288.7h0M225.7 287.3h0M221.7 291.4h0M205.2 303.2h0M245.7 267.5h0M230.4 276.5h0M248.4 254.2h0M254.3 257.8h0M209.2 297.4h0M211.6 287.5h0M244.5 264.2h0M230.3 282.0h0M204.5 303.8h0M216.8 285.8h0M255.4 251.2h0M221.5 268.3h0M226.9 285.0h0M211.3 300.2h0M219.1 289.6h0M230.4 284.4h0M238.0 269.4h0M240.6 263.1h0M236.4 276.7h0M215.2 277.9h0M236.9 268.1h0M216.1 288.7h0M257.1 256.7h0M222.1 286.1h0M241.3 267.3h0M221.6 282.4h0M226.4 278.6h0M247.3 266.7h0M242.3 269.7h0M224.8 298.5h0M232.7 273.8h0M216.1 294.8h0M226.8 281.3h0M217.1 290.9h0M254.1 255.1h0M234.8 266.2h0M235.0 278.4h0M254.9 253.4h0M234.2 268.8h0M218.7 291.0h0M243.6 251.9h0M240.4 271.8h0M219.8 288.9h0M230.5 281.0h0M230.4 280.7h0M229.8 272.5h0M257.4 252.4h0M229.8 270.7h0M226.8 279.4h0M216.1 291.3h0M251.0 252.1h0M239.6 267.5h0M242.4 275.4h0M237.0 275.0h0M215.4 298.3h0M239.4 282.9h0M237.2 274.1h0M252.5 258.0h0M236.6 270.4h0M217.6 292.3h0M245.0 255.2h0M224.0 281.7h0M228.1 277.5h0M240.0 263.5h0M239.6 270.5h0M225.4 284.8h0M232.4 282.7h0M219.3 292.5h0M219.3 285.4h0M228.5 270.6h0M228.5 280.0h0M214.7 286.1h0M225.2 279.8h0M210.6 297.3h0M233.5 286.2h0M224.2 284.5h0M233.4 274.5h0M239.5 271.5h0M254.8 252.9h0M224.7 284.9h0M241.1 269.1h0M240.7 259.8h0M251.9 253.7h0M237.8 262.0h0M229.8 286.7h0M211.7 291.7h0M225.6 280.3h0M251.8 255.3h0M225.6 289.3h0M231.2 277.8h0M208.0 299.0h0M248.9 257.3h0M248.2 262.4h0M214.9 293.1h0M224.9 286.9h0M224.6 281.9h0M227.2 281.1h0M241.3 265.6h0M244.4 266.3h0M218.1 291.6h0M240.4 266.1h0M253.9 256.3h0M224.3 287.0h0M248.5 265.5h0M217.4 292.6h0M240.1 258.7h0M240.9 271.0h0M250.6 260.0h0M234.3 280.3h0M221.0 286.7h0M232.9 281.7h0M224.9 277.5h0M215.0 296.2h0M218.6 294.7h0M224.7 281.6h0M225.4 286.4h0M226.2 285.7h0M251.4 259.7h0M245.6 264.6h0M223.5 284.9h0M228.1 284.1h0M228.1 280.4h0M230.1 273.5h0M225.7 280.2h0M250.5 256.3h0M250.8 265.3h0M206.5 301.9h0M244.8 265.5h0M236.1 279.2h0M244.1 260.2h0M216.6 282.3h0M208.7 299.3h0M219.7 289.7h0M223.5 289.3h0M217.7 287.9h0M255.8 253.3h0M213.5 295.6h0M233.8 280.6h0M210.3 293.1h0M206.6 305.5h0M256.3 253.0h0M243.1 269.3h0M211.4 293.0h0M211.8 299.0h0M211.1 296.5h0M216.7 286.1h0M216.0 288.1h0M225.9 283.2h0M223.1 291.8h0M227.9 281.7h0M219.8 285.2h0M206.2 301.9h0M233.0 275.1h0M244.4 260.9h0M244.0 266.0h0M228.9 286.1h0M239.4 270.9h0M245.6 257.8h0M253.0 256.1h0M238.9 267.0h0M213.8 290.4h0M243.4 263.7h0M243.6 264.6h0M217.2 283.4h0M212.2 295.6h0M217.2 294.0h0M256.6 253.9h0M224.5 284.3h0M239.4 269.5h0M218.3 286.7h0M244.9 265.5h0M213.2 292.1h0M234.9 280.6h0M245.2 263.6h0M231.4 284.5h0M235.1 275.3h0M248.8 259.9h0M239.7 267.8h0M211.4 283.7h0M226.3 275.0h0M234.7 266.1h0M229.9 288.6h0M235.4 276.7h0M223.3 291.3h0M228.0 275.6h0M230.0 273.8h0M239.8 276.4h0M255.1 257.1h0M223.8 285.5h0M221.5 281.3h0M252.8 260.3h0M209.0 298.6h0M255.2 255.2h0M220.0 290.2h0M243.2 263.9h0M247.7 259.3h0M227.6 287.9h0M247.0 265.8h0M214.9 291.9h0M232.1 272.3h0M238.7 273.3h0M216.8 294.5h0M230.1 276.2h0M252.5 257.9h0M250.5 261.1h0M242.9 269.8h0M207.9 292.8h0M222.6 293.1h0M245.9 262.5h0M236.6 273.9h0M217.2 294.8h0M234.5 270.3h0M231.6 277.1h0M220.4 288.1h0M221.1 293.7h0M233.6 278.9h0M221.4 280.8h0M223.1 284.8h0M241.2 266.2h0M243.7 264.2h0M215.5 293.8h0M229.2 273.2h0M218.1 290.2h0M251.7 251.9h0M252.1 260.2h0M210.3 297.3h0M224.4 281.5h0M225.6 284.9h0M233.1 275.9h0M239.9 266.5h0M220.6 284.8h0M234.2 273.7h0M233.1 278.9h0M256.0 252.5h0M249.9 256.8h0M219.8 287.7h0M246.8 268.0h0M232.9 273.1h0M242.1 266.5h0M225.9 279.3h0M229.3 270.9h0M242.3 259.6h0M210.4 298.8h0M227.9 282.2h0M229.8 280.7h0M217.9 280.6h0M251.9 254.2h0M226.8 257.6h0M215.2 289.2h0M249.6 264.5h0M216.2 285.6h0M230.9 275.5h0M247.3 262.3h0" stroke="#b4b4b4" stroke-width="1.00" stroke-linecap="round" stroke-opacity="0.8" fill="none"/>
<path d="M227.3 286.4h0M211.5 295.2h0M217.4 293.3h0M254.0 256.7h0M227.9 279.0h0M232.0 272.7h0M228.2 290.1h0M206.5 299.6h0M231.6 273.2h0M235.6 279.2h0M218.7 278.5h0M236.2 271.3h0M236.6 272.6h0M240.9 270.2h0M232.1 277.2h0M242.5 263.4h0M246.1 258.8h0M230.9 284.8h0M221.7 285.2h0M235.0 273.2h0M238.6 266.6h0M230.4 285.6h0M241.6 268.8h0M234.9 269.9h0M247.3 263.1h0M238.1 265.1h0M216.7 290.9h0M226.3 285.8h0M204.7 302.0h0M221.2 284.8h0M250.6 255.4h0M238.3 264.7h0M245.5 269.0h0M236.0 274.8h0M237.1 273.8h0M226.9 279.8h0M229.1 276.1h0M234.9 272.7h0M252.3 255.8h0M235.2 277.5h0M221.1 290.6h0M207.5 284.5h0M217.6 292.7h0M215.8 298.4h0M248.5 263.4h0M234.3 276.0h0M233.1 284.9h0M247.3 260.3h0M250.1 264.0h0M247.0 260.4h0M231.4 273.8h0M222.2 292.2h0M246.3 257.9h0M229.7 276.9h0M231.8 269.4h0M223.8 288.3h0M252.0 256.2h0M224.6 289.1h0M215.6 293.9h0M212.9 294.6h0M242.1 269.9h0M251.1 259.5h0M240.2 272.4h0M224.6 293.3h0M244.1 258.3h0M210.7 293.8h0M227.8 276.6h0M223.5 276.5h0M233.0 272.3h0M223.6 277.0h0M219.2 291.4h0M244.2 267.3h0M239.4 277.0h0M221.4 288.7h0M207.5 302.9h0M258.3 254.0h0M234.1 275.5h0M238.4 269.3h0M217.0 288.4h0M242.5 262.3h0M242.6 264.9h0M241.1 261.4h0M219.2 289.8h0M222.2 285.1h0M235.2 266.8h0M232.8 278.8h0M215.7 295.9h0M241.2 264.8h0M252.3 254.8h0M219.9 284.5h0M220.9 288.1h0M235.3 271.7h0M251.6 258.4h0M224.2 285.6h0M251.8 256.5h0M231.7 280.9h0M216.8 290.6h0M222.4 285.5h0M241.9 268.4h0M239.2 272.6h0M242.4 269.3h0M233.7 281.2h0M232.9 273.2h0M217.1 281.6h0M219.5 283.7h0M246.1 269.4h0M248.3 257.4h0M210.7 297.9h0M233.5 275.1h0M218.8 288.3h0M243.1 273.8h0M221.4 286.9h0M208.5 294.0h0M234.0 283.7h0M211.2 297.0h0M219.4 292.8h0M233.3 277.6h0M231.9 282.6h0M233.7 282.3h0M238.7 271.3h0M228.0 280.4h0M247.0 263.9h0M250.0 257.9h0M230.1 255.1h0M249.1 259.9h0M231.1 269.5h0M220.7 288.4h0M244.2 266.3h0M226.1 280.3h0M233.9 279.4h0M228.2 280.1h0M231.8 273.9h0M225.5 281.2h0M245.8 265.5h0M221.0 283.1h0M237.1 274.8h0M222.5 288.8h0M243.3 263.9h0M234.9 264.3h0M221.2 280.3h0M223.1 283.8h0M237.1 274.0h0M211.0 298.1h0M229.3 271.0h0M218.3 294.6h0M226.2 279.3h0M222.7 288.5h0M250.4 258.0h0M243.2 267.5h0M240.1 270.2h0M237.5 271.7h0M238.7 277.6h0M221.6 288.2h0M240.0 273.1h0M213.8 288.9h0M237.5 272.2h0M236.9 276.5h0M213.4 298.9h0M250.4 257.6h0M222.0 286.4h0M210.8 298.4h0M255.1 252.2h0M216.0 290.3h0M214.4 294.4h0M227.3 278.1h0M228.4 284.2h0M238.8 269.8h0M239.9 268.6h0M216.5 291.5h0M238.6 271.3h0M220.9 288.6h0M219.3 289.3h0M253.8 257.6h0M208.7 302.2h0M219.8 290.9h0M212.1 286.8h0M254.0 260.1h0M245.0 268.0h0M227.8 268.5h0M248.7 266.5h0M214.5 285.2h0M234.4 275.9h0M246.8 265.0h0M207.2 301.3h0M205.0 302.1h0M239.4 266.3h0M213.8 291.0h0M246.5 263.6h0M252.4 257.6h0M250.0 264.8h0M233.8 275.9h0M228.5 281.0h0M238.4 268.1h0M235.1 276.9h0M225.4 284.4h0M221.5 285.3h0M253.2 261.2h0M219.1 290.4h0M235.0 276.1h0M237.0 287.3h0M240.2 282.9h0M243.6 275.1h0M229.7 279.5h0M233.3 264.5h0M234.6 269.7h0M256.7 251.3h0M224.2 290.1h0M233.1 272.3h0M232.6 285.6h0M229.8 285.5h0M214.4 294.0h0M241.1 264.7h0M231.9 274.8h0M251.2 261.0h0M232.5 274.4h0M248.2 268.5h0M247.9 261.4h0M240.0 275.0h0M226.4 277.4h0M221.0 291.0h0M229.7 279.3h0M235.0 272.1h0M206.8 302.6h0M225.0 285.1h0M236.6 268.7h0M229.4 277.3h0M230.8 272.4h0M240.3 264.9h0M231.2 279.6h0M222.2 287.3h0M229.5 281.1h0M211.6 300.6h0M212.7 299.1h0M206.5 300.3h0M211.1 301.0h0M230.8 282.0h0M220.2 294.0h0M239.3 260.0h0M232.1 275.7h0M235.3 273.1h0M209.3 294.4h0M246.2 265.2h0M228.1 283.1h0M240.7 270.7h0M243.5 261.4h0M236.6 271.5h0M219.6 292.6h0M239.2 262.4h0M224.0 282.8h0M233.9 274.8h0M233.5 277.2h0M209.7 283.0h0M221.1 286.1h0M255.1 253.8h0M247.6 256.7h0M236.3 275.4h0M230.7 272.1h0M247.6 273.1h0M249.6 259.8h0M224.4 279.2h0M219.0 293.8h0M245.8 256.7h0M224.3 286.3h0M250.4 256.8h0M206.7 300.0h0M213.2 291.2h0M217.1 290.7h0M246.2 269.5h0M240.9 262.5h0M245.4 262.9h0M223.8 290.9h0M233.4 276.4h0M234.4 280.5h0M236.7 281.8h0M239.4 269.5h0M229.3 276.8h0M229.2 276.8h0M232.0 264.6h0M252.3 255.5h0M222.7 279.4h0M242.9 271.8h0M231.9 273.1h0" stroke="#949494" stroke-width="1.00" stroke-linecap="round" stroke-opacity="0.8" fill="none"/>
<path d="M241.6 267.4h0M240.4 276.4h0M236.2 262.4h0M209.4 299.3h0M229.3 283.7h0M237.4 269.6h0M219.7 296.0h0M238.1 270.0h0M219.2 282.0h0M249.8 258.5h0M229.3 280.2h0M219.8 286.6h0M239.0 278.2h0M255.7 253.0h0M224.4 284.6h0M240.1 274.6h0M211.2 287.9h0M232.8 275.3h0M208.7 302.7h0M248.6 263.4h0M213.4 294.5h0M233.2 274.6h0M236.0 273.1h0M222.2 292.1h0M240.8 277.0h0M228.5 281.9h0M242.0 263.6h0M237.6 276.8h0M245.2 260.3h0M228.3 285.5h0M248.1 261.8h0M216.3 289.5h0M222.1 288.8h0M244.5 265.3h0M249.1 262.7h0M227.2 283.7h0M231.2 271.2h0M225.9 283.9h0M229.1 273.9h0M250.1 265.5h0M224.3 290.2h0M214.2 287.7h0M224.2 281.6h0M256.3 251.9h0M237.1 266.8h0M253.4 255.2h0M226.0 283.3h0M249.1 260.4h0M228.9 285.7h0M247.7 265.2h0M237.7 268.0h0M206.5 302.8h0M210.2 298.8h0M238.3 264.6h0M216.8 289.0h0M207.1 297.9h0M227.7 279.8h0M241.1 264.3h0M219.8 288.6h0M236.0 273.2h0M242.1 264.8h0M219.4 286.3h0M249.1 266.7h0M237.6 270.2h0M225.6 280.7h0M253.3 257.6h0M223.9 282.3h0M252.8 259.9h0M215.5 292.7h0M249.5 262.7h0M226.6 285.1h0M215.1 294.6h0M246.4 260.9h0M205.9 302.3h0M243.3 259.6h0M233.6 278.9h0M207.7 299.2h0M246.9 263.5h0M245.2 259.4h0M241.6 270.1h0M239.2 268.1h0M234.7 271.9h0M233.4 281.0h0M246.1 264.8h0M210.6 297.4h0M216.5 292.5h0M212.2 298.8h0M225.1 282.0h0M220.4 288.3h0M233.1 277.5h0M243.6 265.9h0M227.0 280.7h0M223.3 285.3h0M208.9 302.1h0M247.9 265.1h0M205.5 298.9h0M215.8 289.9h0M239.3 277.2h0M219.9 278.7h0M251.9 258.8h0M219.2 289.8h0M214.4 291.9h0M240.6 270.5h0M249.8 258.6h0M238.5 268.4h0M221.4 286.0h0M221.0 288.9h0M227.2 277.9h0M229.0 276.5h0M216.4 295.3h0M235.9 272.5h0M213.8 297.8h0M240.1 270.0h0M246.7 261.3h0M245.0 265.8h0M235.4 277.8h0M204.4 304.6h0M226.4 293.4h0M218.1 293.3h0M249.0 261.5h0M205.3 298.7h0M229.3 279.8h0M219.3 290.9h0M233.3 282.5h0M254.7 258.1h0M255.8 257.6h0M205.3 303.5h0M216.4 288.2h0M242.4 263.1h0M216.4 292.0h0M221.2 292.0h0M240.7 273.0h0M225.9 287.1h0M233.7 266.3h0M253.2 258.1h0M244.4 262.8h0M209.8 296.2h0M222.0 287.9h0M227.0 284.3h0M228.0 286.4h0M209.1 295.1h0M238.4 271.4h0M248.9 259.4h0M213.1 292.7h0M215.4 292.7h0M208.4 291.7h0M233.6 272.1h0M248.1 263.5h0M226.4 275.5h0M226.4 277.2h0M240.1 261.5h0M211.1 299.1h0M229.2 276.0h0M245.6 268.2h0M247.2 264.2h0M217.8 286.5h0M208.5 299.4h0M220.2 288.2h0M221.7 278.7h0M212.6 288.7h0M245.3 264.3h0M243.9 258.4h0M250.1 258.0h0M211.4 300.2h0M213.4 290.2h0M241.7 276.9h0M218.0 288.5h0M239.6 276.5h0M238.2 268.2h0M215.2 284.0h0M239.4 267.6h0M237.1 280.8h0M221.9 286.7h0M226.9 281.3h0M217.0 298.0h0M233.5 271.6h0M206.0 303.7h0M251.4 253.7h0M241.3 268.2h0M234.7 275.2h0M225.0 275.2h0M237.4 267.5h0M247.0 260.1h0M235.0 275.2h0M211.8 301.1h0M221.5 293.3h0M217.9 287.9h0M222.0 290.8h0M239.4 269.1h0M232.7 281.3h0M220.1 292.6h0M216.8 290.5h0M244.6 263.4h0M226.2 273.1h0M244.2 265.9h0M216.9 286.1h0M237.4 277.8h0M223.3 282.4h0M219.6 285.3h0M230.6 273.1h0M246.4 260.1h0M227.4 278.5h0M212.9 292.6h0M235.4 274.3h0M229.5 283.1h0M243.6 274.1h0M207.8 301.0h0M232.1 274.0h0M243.2 262.7h0M222.1 284.7h0M233.4 275.4h0M227.3 283.4h0M244.1 264.6h0M227.4 275.5h0M249.4 261.3h0M234.0 280.0h0M247.8 260.8h0M244.7 265.2h0M230.7 280.4h0M230.6 278.9h0M230.8 286.4h0M245.7 269.2h0M228.7 284.0h0M228.1 279.2h0M229.7 273.2h0M237.9 266.9h0M238.4 274.9h0M233.1 279.5h0M224.9 281.7h0M217.2 283.7h0M230.1 277.7h0M217.9 294.1h0M217.4 297.6h0M230.7 275.9h0M246.2 261.6h0M219.8 292.4h0M213.1 301.4h0M239.8 267.7h0M224.8 285.3h0M240.8 266.5h0M233.4 268.2h0M248.3 262.2h0M244.0 268.7h0M232.2 270.3h0M227.3 282.3h0M252.9 255.5h0M249.4 258.5h0M213.7 292.3h0M242.5 279.2h0M231.6 292.5h0M229.0 273.7h0M250.9 257.4h0M221.9 290.4h0M238.3 264.7h0M246.2 270.6h0M226.1 285.5h0M230.3 283.1h0M234.1 275.1h0M230.9 289.5h0M251.2 258.7h0M224.2 280.1h0M219.7 289.6h0M231.6 282.0h0M240.2 266.0h0M255.4 252.6h0M232.3 276.4h0M223.2 285.5h0M230.2 279.9h0M252.0 255.7h0M227.6 274.1h0M233.5 274.8h0M230.9 266.1h0M244.2 270.8h0M218.3 291.1h0M221.4 284.8h0M239.9 276.7h0M255.8 254.3h0M234.5 280.2h0M246.4 267.0h0M243.2 263.2h0M212.8 300.2h0M205.5 300.0h0M234.2 273.2h0M229.5 288.3h0M223.6 291.4h0M244.4 274.8h0M227.0 258.4h0M235.0 285.6h0M239.6 277.0h0M240.4 258.7h0M222.1 286.7h0M234.6 278.1h0M216.4 293.3h0" stroke="#8c8c8c" stroke-width="1.00" stroke-linecap="round" stroke-opacity="0.8" fill="none"/>
<path d="M228.7 275.2h0M220.7 286.6h0M254.3 259.2h0M240.5 281.3h0M241.2 264.1h0M235.0 272.5h0M225.1 277.0h0M232.8 275.9h0M229.9 281.0h0M208.0 301.4h0M230.1 271.0h0M244.5 265.1h0M218.2 295.7h0M213.6 293.9h0M223.3 288.8h0M235.3 274.5h0M233.5 274.1h0M214.7 290.6h0M253.0 259.5h0M249.7 257.4h0M230.4 279.2h0M222.9 281.1h0M238.4 273.3h0M225.8 281.6h0M239.3 268.0h0M245.9 266.6h0M231.4 280.8h0M235.3 274.5h0M216.4 300.0h0M204.1 301.2h0M250.7 259.9h0M228.4 276.9h0M249.5 260.9h0M232.8 280.9h0M230.4 280.5h0M233.6 277.5h0M219.7 281.4h0M255.8 254.1h0M227.6 261.6h0M208.6 298.1h0M231.8 266.8h0M229.6 280.7h0M216.0 294.3h0M209.7 292.4h0M257.4 252.3h0M241.3 275.4h0M222.6 287.5h0M242.1 266.7h0M236.5 270.3h0M249.2 260.9h0M245.7 265.6h0M248.1 261.7h0M216.9 294.1h0M250.9 256.7h0M244.2 264.7h0M249.8 261.7h0M241.9 270.1h0M223.4 287.4h0M206.0 301.6h0M215.2 295.1h0M233.0 283.2h0M226.3 280.6h0M235.2 265.5h0M255.9 254.4h0M222.1 288.9h0M224.2 285.7h0M208.7 296.2h0M219.2 293.0h0M238.9 270.0h0M239.7 266.2h0M229.1 280.0h0M241.0 263.2h0M236.9 262.1h0M250.8 257.5h0M232.7 281.0h0M254.8 253.2h0M243.0 262.6h0M241.7 262.5h0M216.0 295.0h0M252.7 259.2h0M209.7 300.6h0M209.0 300.5h0M219.2 275.8h0M236.9 268.3h0M232.5 279.8h0M215.2 299.0h0M251.1 268.6h0M227.9 285.2h0M231.9 268.0h0M211.5 295.5h0M241.2 269.3h0M242.5 273.8h0M233.9 281.2h0M233.9 280.9h0M219.3 289.3h0M238.5 273.4h0M214.7 294.9h0M216.6 289.8h0M253.3 258.4h0M226.1 288.7h0M248.6 261.9h0M205.1 301.3h0M234.8 278.7h0M209.6 295.5h0M238.4 266.2h0M240.5 264.9h0M256.6 254.2h0M222.3 289.8h0M251.7 266.5h0M215.4 285.1h0M218.4 294.8h0M237.4 275.8h0M224.5 288.9h0M244.9 260.5h0M247.4 264.7h0M231.3 285.0h0M245.5 269.0h0M238.5 272.6h0M252.9 253.0h0M245.5 263.4h0M207.0 303.5h0M250.7 260.4h0M234.0 277.6h0M205.3 300.8h0M225.9 291.5h0M228.0 281.8h0M233.3 283.4h0M227.3 278.1h0M223.0 285.3h0M224.3 285.9h0M208.4 262.3h0M221.3 286.5h0M224.1 281.4h0M234.5 289.8h0M236.4 273.7h0M248.1 260.2h0M210.7 296.4h0M248.9 259.4h0M207.2 297.6h0M220.6 292.0h0M242.9 265.6h0M219.2 299.1h0M223.7 285.4h0M243.5 270.9h0M212.8 298.8h0M242.7 268.9h0M247.1 254.9h0M208.3 297.7h0M224.5 290.0h0M237.6 276.7h0M232.2 276.7h0M232.2 276.1h0M226.8 277.9h0M216.0 287.3h0M221.1 284.6h0M246.9 262.2h0M255.4 254.5h0M228.3 272.2h0M209.9 299.7h0M249.0 259.6h0M243.2 263.3h0M239.4 266.7h0M251.8 257.3h0M251.2 254.5h0M246.0 261.2h0M234.4 279.0h0M249.2 261.9h0M247.9 256.0h0M243.8 266.5h0M239.2 276.1h0M205.6 300.4h0M238.2 263.3h0M232.0 285.3h0M256.8 251.3h0M220.9 288.4h0M222.6 284.3h0M232.8 277.9h0M230.6 280.0h0M227.9 273.5h0M210.7 297.6h0M239.0 265.1h0M242.7 265.5h0M221.2 279.0h0M222.4 288.7h0M238.1 269.5h0M217.0 292.3h0M225.0 269.7h0M221.6 281.4h0M217.8 288.2h0M220.6 279.7h0M249.1 260.6h0M236.8 263.1h0M213.4 293.2h0M222.4 286.3h0M254.7 256.2h0M221.7 296.1h0M215.0 294.2h0M232.9 281.8h0M237.8 264.1h0M251.3 256.3h0M242.0 265.8h0M215.4 280.9h0M215.3 292.3h0M249.3 259.0h0M245.0 262.8h0M231.8 278.0h0M218.9 281.8h0M222.7 284.6h0M219.9 286.2h0M235.2 275.2h0M227.6 283.9h0M225.3 285.3h0M216.2 297.2h0M243.4 269.0h0M223.2 279.5h0M220.4 293.1h0M247.9 255.4h0M239.0 274.7h0M230.3 272.3h0M255.3 256.9h0M242.5 267.2h0M231.4 277.0h0M249.4 257.0h0M229.5 279.5h0M221.6 292.3h0M223.2 298.0h0M244.9 272.6h0M232.6 274.2h0M251.5 256.7h0M236.6 262.0h0M221.4 283.7h0M229.4 282.1h0M241.0 262.3h0M236.1 271.2h0M223.3 278.9h0M234.4 276.1h0M237.3 280.0h0M258.1 252.3h0M250.0 261.8h0M216.7 290.2h0M220.5 274.8h0M218.9 291.5h0M219.0 284.0h0M240.7 275.0h0M234.0 277.7h0M243.1 269.3h0M218.6 285.9h0M218.5 287.6h0M238.0 271.5h0M214.8 292.6h0M207.6 300.6h0M252.0 263.9h0M224.6 276.0h0M254.6 253.1h0M204.4 302.7h0M213.2 299.5h0M233.9 276.8h0M219.7 289.8h0M243.9 262.5h0M227.1 279.9h0M226.2 283.1h0M227.2 282.5h0M212.0 291.1h0M224.1 284.2h0M235.7 266.2h0M214.0 289.1h0M237.4 275.8h0M212.4 294.5h0M235.6 276.4h0M224.5 287.8h0M218.7 280.3h0M225.2 278.1h0M221.2 281.5h0M214.8 297.5h0M237.3 269.3h0M248.0 255.9h0M230.2 277.7h0M229.1 278.2h0M238.2 269.2h0M222.3 292.1h0" stroke="#a4a4a4" stroke-width="1.00" stroke-linecap="round" stroke-opacity="0.8" fill="none"/>
<path d="M249.2 261.0h0M246.2 263.6h0M241.4 266.6h0M236.4 271.0h0M241.4 268.5h0M243.0 267.5h0M252.2 255.6h0M242.8 267.9h0M226.5 281.4h0M244.9 265.4h0M225.9 283.6h0M234.8 275.8h0M246.8 264.0h0M245.0 260.0h0M234.2 274.3h0M225.4 285.1h0M221.0 289.6h0M225.5 290.5h0M242.6 266.1h0M237.8 272.5h0M222.2 285.6h0M238.1 273.7h0M227.8 279.0h0M246.2 262.4h0M246.9 259.8h0M244.8 264.6h0M224.2 288.2h0M240.4 269.8h0M232.1 276.9h0M245.4 264.4h0M215.1 296.0h0M242.9 268.8h0M231.5 278.9h0M230.3 278.5h0M252.6 261.5h0M248.5 259.3h0M221.1 284.8h0M235.4 274.7h0M246.3 264.0h0M241.1 271.3h0M235.2 278.1h0M251.7 255.4h0M240.9 271.1h0M241.9 264.3h0M222.1 286.4h0M241.8 268.2h0M235.8 275.1h0M224.5 286.1h0M239.2 270.1h0M243.1 266.8h0M250.5 260.9h0M254.2 258.6h0M235.7 274.8h0M241.6 267.7h0M237.6 275.0h0M222.7 284.9h0M212.5 301.5h0M231.4 277.0h0M240.1 272.4h0M231.7 280.6h0M252.9 258.8h0M245.4 264.9h0M226.7 282.4h0M223.5 288.0h0M222.1 288.0h0M240.5 268.5h0M244.6 270.8h0M242.8 266.9h0M250.9 260.3h0M233.7 276.6h0M252.3 259.8h0M230.2 281.1h0M227.0 281.3h0M239.1 270.2h0M210.4 301.6h0M240.9 270.1h0M239.5 270.7h0M230.7 280.9h0M240.1 268.4h0M247.6 263.5h0M230.9 279.7h0M245.7 265.0h0M235.5 275.4h0M222.4 289.9h0M225.3 283.9h0M225.4 285.1h0M224.1 283.6h0M220.2 291.0h0M241.9 272.0h0M242.4 270.7h0M241.6 270.5h0M223.3 284.1h0M231.5 276.7h0M244.8 265.0h0M214.0 293.4h0M230.9 279.4h0M228.4 283.4h0M214.7 293.8h0M232.4 277.6h0M236.4 276.5h0M253.7 257.5h0M247.9 266.1h0M249.0 259.1h0M219.6 289.7h0M230.9 283.3h0M239.2 273.0h0M243.4 264.8h0M245.2 268.3h0M247.6 260.8h0M228.2 281.7h0M215.0 295.6h0M240.1 269.7h0M239.8 266.2h0M240.5 267.4h0M242.2 266.3h0M239.3 269.3h0M237.9 273.1h0M230.1 282.8h0M242.4 268.0h0M241.4 273.1h0M222.7 286.0h0M239.2 275.0h0M228.7 277.7h0M234.9 277.1h0M243.1 267.7h0M240.8 266.4h0M253.7 258.9h0M246.9 265.4h0M237.6 271.1h0M247.2 260.3h0M237.5 274.2h0M251.3 258.1h0M230.8 277.9h0M245.2 264.3h0M246.6 262.8h0M239.1 275.9h0M231.7 279.1h0M237.7 271.1h0M215.0 293.4h0M223.5 285.8h0M228.2 285.7h0M241.2 267.6h0M249.1 257.8h0M228.6 284.3h0" stroke="#e84a3a" stroke-width="1.00" stroke-linecap="round" stroke-opacity="0.95" fill="none"/>
<path d="M236.6 276.3h0M243.6 262.2h0M239.5 274.3h0M245.8 260.7h0M227.8 283.3h0M233.1 281.1h0M250.1 260.4h0M243.3 262.7h0M229.4 280.7h0M224.0 285.6h0M219.7 288.4h0M224.7 289.2h0M245.1 266.3h0M252.6 258.1h0M234.3 279.8h0M238.9 272.2h0M217.4 289.2h0M249.9 258.8h0M235.7 275.5h0M229.1 279.6h0M235.6 273.2h0M245.9 262.9h0M224.1 289.5h0M247.1 261.3h0M236.3 273.5h0M241.2 269.3h0M252.8 257.1h0M235.5 275.8h0M240.9 264.0h0M210.2 301.4h0M249.0 265.5h0M216.1 294.5h0M248.7 261.2h0M242.8 267.8h0M241.2 269.5h0M234.2 277.3h0M234.8 276.6h0M220.9 284.2h0M242.8 264.0h0M242.6 267.3h0M226.1 282.5h0M241.3 267.2h0M249.2 262.7h0M238.6 269.9h0M214.1 297.2h0M242.8 269.3h0M224.5 285.1h0M229.1 280.6h0M233.9 271.9h0M250.0 261.6h0M250.5 260.5h0M240.9 265.4h0M242.8 266.6h0M229.2 276.0h0M246.1 266.7h0M250.2 264.7h0M236.4 274.2h0M239.4 268.1h0M240.2 269.9h0M252.0 256.7h0M238.3 272.0h0M243.9 265.4h0M236.3 271.1h0M230.1 278.0h0M226.0 285.9h0M239.6 269.2h0M232.2 278.5h0M251.4 260.4h0M211.9 297.4h0M233.8 278.0h0M216.4 292.7h0M227.0 282.2h0M215.3 291.6h0M237.7 269.8h0M233.1 275.4h0M223.1 286.5h0M243.1 265.5h0M239.5 267.5h0M232.1 280.1h0M245.5 265.3h0M252.7 257.9h0M241.4 272.8h0M232.7 283.8h0M239.2 267.7h0M225.4 282.9h0M242.2 268.8h0M251.2 257.1h0M250.2 265.6h0M221.5 286.7h0M243.5 269.5h0M228.5 284.2h0M226.0 282.8h0M242.0 266.3h0M222.3 286.6h0M232.4 277.1h0M241.4 273.1h0M251.6 259.9h0M246.4 263.9h0M236.2 270.0h0M240.6 269.4h0M232.1 281.6h0M233.5 279.5h0M237.1 274.6h0M252.1 260.7h0M238.3 270.9h0M234.3 275.0h0M240.7 271.8h0M226.7 282.4h0M249.2 263.9h0M241.7 263.6h0M255.6 259.5h0M249.7 263.7h0M236.3 272.7h0M233.3 275.6h0M235.1 275.7h0M231.0 278.7h0M227.3 286.2h0M244.2 266.8h0M230.2 281.7h0" stroke="#e03030" stroke-width="1.00" stroke-linecap="round" stroke-opacity="0.95" fill="none"/>
<path d="M225.7 281.9h0M234.5 274.4h0M232.6 276.9h0M237.7 270.7h0M215.9 297.4h0M239.0 274.5h0M245.7 263.4h0M235.0 278.1h0M248.4 261.5h0M241.4 268.0h0M223.1 287.2h0M221.7 288.6h0M251.3 262.0h0M241.6 263.6h0M227.8 282.7h0M252.4 259.3h0M242.0 270.5h0M229.0 275.9h0M243.5 264.8h0M233.2 273.8h0M241.5 268.8h0M251.8 258.9h0M230.2 278.7h0M235.8 270.0h0M246.5 264.2h0M206.4 300.6h0M225.9 284.3h0M235.5 276.5h0M237.4 274.2h0M219.7 291.0h0M239.3 271.1h0M247.6 263.9h0M209.1 301.0h0M231.3 278.7h0M244.2 262.9h0M240.5 266.2h0M245.8 263.7h0M226.1 284.0h0M228.3 279.2h0M245.4 267.1h0M226.6 278.8h0M218.4 293.2h0M231.3 277.5h0M235.3 274.8h0M236.3 271.7h0M225.6 284.6h0M248.2 258.9h0M212.4 291.8h0M243.8 266.8h0M223.0 285.5h0M248.5 262.8h0M240.4 271.6h0M234.0 274.0h0M238.3 271.7h0M219.6 292.2h0M245.3 266.1h0M234.4 271.8h0M230.2 281.2h0M234.3 273.3h0M240.3 269.6h0M243.2 268.6h0M222.8 285.1h0M236.4 273.9h0M235.6 277.1h0M213.7 292.3h0M231.0 279.5h0M243.5 266.2h0M243.2 266.3h0M252.4 259.9h0M235.7 272.7h0M244.4 265.7h0M232.2 279.5h0M221.3 290.3h0M215.0 298.6h0M225.4 283.1h0M236.8 274.5h0M245.6 265.9h0M247.6 266.0h0M238.2 273.0h0M241.1 266.0h0M253.1 259.8h0M253.3 257.0h0M236.1 274.2h0M219.3 288.9h0M246.1 261.0h0M231.3 276.8h0M250.6 260.2h0M230.3 280.0h0M233.6 273.9h0M226.5 283.1h0M221.9 290.3h0M251.5 254.8h0M251.4 260.0h0M246.3 262.4h0M242.8 267.8h0M243.7 260.2h0M223.2 286.2h0M211.5 297.3h0M247.9 262.0h0M234.6 273.8h0M250.0 260.7h0M242.2 266.2h0M234.2 276.1h0M245.3 269.8h0M253.5 255.6h0M216.8 296.5h0M217.9 289.4h0M242.1 265.2h0M226.7 285.8h0M252.8 258.7h0M246.7 259.5h0M221.8 285.0h0M247.4 263.1h0M250.8 260.1h0M243.2 269.3h0M237.9 273.7h0M232.1 273.0h0M233.3 279.1h0M225.5 280.3h0M220.3 289.8h0M211.7 299.4h0M218.5 293.3h0M249.3 257.2h0M236.9 272.9h0M255.2 258.7h0M247.3 267.2h0M248.4 266.3h0M229.2 282.7h0M244.3 261.8h0M251.1 257.5h0M243.9 268.9h0M241.1 269.5h0M247.0 264.3h0M236.3 273.1h0M224.4 287.5h0M246.1 265.7h0M229.9 282.0h0" stroke="#d82828" stroke-width="1.00" stroke-linecap="round" stroke-opacity="0.95" fill="none"/>
<line x1="201" y1="307.8" x2="259.6" y2="249.4" stroke="#3c3c3c" stroke-width="0.9"/>
<rect x="201" y="249.4" width="58.60000000000002" height="58.400000000000006" fill="none" stroke="#404040" stroke-width="0.95"/>
<text x="203.8" y="312.4" font-size="3.6" text-anchor="middle" fill="#383838">10<tspan font-size="2.3" dy="-1">0</tspan></text>
<text x="219.7" y="312.4" font-size="3.6" text-anchor="middle" fill="#383838">10<tspan font-size="2.3" dy="-1">1</tspan></text>
<text x="236.5" y="312.4" font-size="3.6" text-anchor="middle" fill="#383838">10<tspan font-size="2.3" dy="-1">2</tspan></text>
<text x="253.3" y="312.4" font-size="3.6" text-anchor="middle" fill="#383838">10<tspan font-size="2.3" dy="-1">3</tspan></text>
<text x="199.8" y="258.3" font-size="3.6" text-anchor="end" fill="#383838">10<tspan font-size="2.3" dy="-1">3</tspan></text>
<text x="199.8" y="274.6" font-size="3.6" text-anchor="end" fill="#383838">10<tspan font-size="2.3" dy="-1">2</tspan></text>
<text x="199.8" y="290.9" font-size="3.6" text-anchor="end" fill="#383838">10<tspan font-size="2.3" dy="-1">1</tspan></text>
<text x="199.8" y="307.4" font-size="3.6" text-anchor="end" fill="#383838">10<tspan font-size="2.3" dy="-1">0</tspan></text>
<rect x="284.2" y="249.4" width="58.60000000000002" height="58.49999999999997" fill="#fff"/>
<path d="M310.9 259.0h0M310.5 264.1h0M310.4 257.7h0M310.5 259.1h0M313.3 267.4h0M310.4 255.4h0M312.1 283.7h0M311.5 265.1h0M310.9 285.0h0M314.9 258.4h0M310.4 284.5h0M310.4 263.8h0M314.8 280.5h0M313.8 279.3h0M311.9 272.6h0M316.5 286.4h0M311.2 256.4h0M310.6 270.8h0M318.6 288.5h0M318.0 289.6h0M315.4 263.1h0M315.4 270.8h0M313.5 281.7h0M312.8 263.7h0M314.3 283.1h0M313.9 258.6h0M310.5 257.1h0M320.6 276.0h0M316.4 267.5h0M313.4 277.6h0M315.7 287.7h0M315.0 290.8h0M313.9 268.8h0M312.2 271.2h0M313.1 263.3h0M317.0 288.3h0M312.0 275.2h0M318.2 284.9h0M312.7 274.7h0M319.9 283.7h0M315.7 288.8h0M310.4 254.3h0M312.5 269.5h0M311.8 253.6h0M317.1 287.0h0M315.4 270.9h0M314.5 285.5h0M310.5 256.8h0M316.6 278.5h0M314.5 288.3h0M317.6 268.8h0M315.1 281.9h0M313.5 259.0h0M319.6 291.5h0M310.7 255.4h0M313.1 257.9h0M314.3 276.5h0M313.9 262.9h0M313.5 273.1h0M313.4 269.2h0M314.1 259.0h0M313.4 289.9h0M312.2 253.2h0M311.5 254.7h0M315.1 282.4h0M313.6 255.6h0M316.8 278.6h0M318.1 278.2h0M312.2 283.3h0M311.8 257.0h0M313.4 265.8h0M313.0 273.4h0M317.4 290.1h0M317.9 290.4h0M311.7 264.6h0M310.8 255.7h0M317.0 279.5h0M315.5 271.4h0M313.7 265.2h0M312.3 260.4h0M310.4 254.6h0M310.8 258.6h0M313.8 274.3h0M322.1 290.1h0M312.4 259.7h0M311.9 278.6h0M313.2 263.1h0M316.3 274.7h0M316.1 277.7h0M317.0 274.6h0" stroke="#a8a8a8" stroke-width="1.00" stroke-linecap="round" stroke-opacity="0.85" fill="none"/>
<path d="M314.7 289.2h0M316.0 274.0h0M318.4 284.0h0M312.5 279.2h0M310.9 259.1h0M312.7 271.0h0M318.2 288.7h0M314.6 273.5h0M310.4 256.1h0M310.7 255.8h0M311.8 258.7h0M315.6 277.4h0M312.1 268.6h0M313.3 263.1h0M312.5 271.1h0M315.5 273.9h0M310.8 260.2h0M314.8 268.8h0M311.6 280.3h0M317.4 275.2h0M312.4 263.8h0M316.3 262.2h0M318.1 270.2h0M311.2 267.4h0M313.6 280.9h0M311.0 267.9h0M310.7 273.8h0M313.3 262.3h0M311.0 254.1h0M321.8 290.9h0M315.9 280.2h0M315.8 289.1h0M314.2 269.5h0M315.1 272.5h0M318.8 277.6h0M314.1 272.0h0M317.2 287.2h0M312.1 268.3h0M310.5 266.2h0M310.5 254.0h0M311.6 254.9h0M312.6 263.0h0M318.3 275.8h0M315.3 272.5h0M312.8 255.0h0M314.5 288.7h0M311.3 261.1h0M315.2 271.4h0M315.9 284.7h0M316.2 279.3h0M312.6 256.2h0M312.1 289.8h0M313.9 272.9h0M310.4 263.5h0M310.4 256.5h0M310.5 254.1h0M313.2 265.6h0M316.9 278.4h0M313.7 258.8h0M312.1 264.7h0M312.6 264.2h0M314.1 273.3h0M311.9 267.9h0M312.9 262.2h0M313.2 260.1h0M313.4 289.2h0M315.9 273.0h0M311.7 254.5h0M316.2 289.0h0M314.3 259.8h0M316.6 272.7h0M317.0 290.2h0M310.8 275.2h0M311.3 257.3h0M320.4 290.9h0M312.8 257.5h0M317.9 279.3h0M310.8 262.6h0M312.8 276.1h0M316.5 281.4h0M312.4 283.4h0M310.7 278.7h0M311.1 259.3h0M314.0 285.2h0M315.2 287.2h0M310.6 256.4h0M318.2 286.8h0M318.6 281.5h0M312.2 277.4h0M313.6 265.4h0M314.2 277.5h0" stroke="#8c8c8c" stroke-width="1.00" stroke-linecap="round" stroke-opacity="0.85" fill="none"/>
<path d="M315.0 269.5h0M317.1 292.1h0M316.6 287.0h0M313.6 276.0h0M312.9 265.4h0M317.3 275.3h0M315.1 267.6h0M311.0 281.1h0M315.9 272.4h0M317.1 281.5h0M313.8 279.7h0M317.1 286.2h0M317.7 276.1h0M313.9 257.6h0M311.2 254.8h0M313.0 281.1h0M314.0 268.2h0M315.0 280.0h0M313.6 259.0h0M310.9 284.5h0M311.2 290.6h0M313.3 262.7h0M314.7 265.1h0M314.2 269.6h0M317.6 283.0h0M311.2 253.6h0M312.2 255.8h0M313.5 265.3h0M315.0 289.9h0M314.2 287.9h0M312.9 262.0h0M315.5 281.8h0M318.0 278.2h0M313.8 275.2h0M313.2 263.3h0M315.1 290.1h0M310.9 253.9h0M315.1 287.8h0M317.1 269.0h0M318.2 290.3h0M315.7 284.8h0M319.1 287.3h0M313.7 290.0h0M313.1 254.8h0M312.7 254.8h0M314.2 287.9h0M312.2 277.7h0M310.9 276.7h0M315.0 282.1h0M312.5 263.0h0M317.9 279.5h0M317.2 278.7h0M311.4 254.5h0M311.4 253.8h0M313.4 291.6h0M314.6 289.4h0M316.3 290.1h0M316.5 285.3h0M318.2 280.2h0M314.0 270.6h0M312.7 265.7h0M315.2 273.8h0M316.4 282.8h0M312.5 267.3h0M313.1 290.8h0M320.7 286.7h0M312.7 264.6h0" stroke="#9a9a9a" stroke-width="1.00" stroke-linecap="round" stroke-opacity="0.85" fill="none"/>
<path d="M313.1 258.9h0M310.4 260.5h0M316.9 273.1h0M313.7 274.2h0M312.9 288.7h0M310.6 268.3h0M310.5 252.8h0M311.3 281.3h0M314.4 266.7h0M314.1 281.8h0M314.1 286.1h0M311.0 260.9h0M311.5 268.3h0M313.6 279.2h0M320.2 291.2h0M311.3 264.8h0M310.9 280.6h0M310.7 270.7h0M313.8 269.6h0M312.3 265.2h0M312.8 262.0h0M316.2 278.9h0M311.3 272.4h0M310.4 259.5h0M311.4 282.9h0M314.8 266.3h0M312.1 255.5h0M310.9 272.9h0M313.6 276.7h0M316.8 286.4h0M317.2 284.2h0M314.4 278.3h0M315.9 288.8h0M314.4 265.4h0M311.9 271.2h0M311.0 271.7h0M311.5 259.4h0M310.7 261.0h0M319.8 291.7h0M312.8 265.5h0M312.6 260.3h0M316.6 278.4h0M319.4 274.8h0M315.1 280.7h0M314.0 270.0h0M315.5 267.0h0M313.9 269.5h0M311.8 253.5h0M317.5 278.8h0M310.6 264.0h0M310.5 269.1h0M312.7 284.7h0M314.1 270.5h0M316.6 271.9h0M314.1 275.8h0M311.6 255.3h0M315.4 284.6h0M314.8 263.7h0M311.3 255.6h0M312.7 266.0h0M311.7 276.3h0M314.3 278.1h0M312.2 272.1h0M315.1 286.2h0M317.3 271.1h0M311.3 253.6h0M310.4 282.5h0M310.7 255.8h0M317.9 282.7h0M312.7 285.8h0M312.2 284.5h0M316.3 264.8h0M311.0 257.0h0M311.5 281.3h0M317.2 279.3h0M310.8 257.3h0M326.8 291.9h0" stroke="#a0a4ac" stroke-width="1.00" stroke-linecap="round" stroke-opacity="0.85" fill="none"/>
<path d="M310.6 259.6h0M312.3 260.4h0M313.6 269.5h0M314.2 282.1h0M310.5 268.2h0M310.6 256.5h0M315.5 280.3h0M313.4 258.9h0M311.8 282.5h0M310.6 269.5h0M312.4 270.5h0M315.5 266.7h0M310.4 283.9h0M313.6 260.9h0M311.5 262.6h0M310.6 266.0h0M312.9 270.1h0M311.6 272.6h0M313.4 274.7h0M310.5 261.0h0M318.8 290.3h0M314.2 274.7h0M318.9 284.3h0M310.8 257.6h0M311.2 254.2h0M312.6 257.3h0M310.5 259.3h0M310.7 254.4h0M310.7 267.7h0M312.3 256.0h0M312.0 276.9h0M311.3 266.5h0M315.4 287.7h0M314.8 289.6h0M313.2 255.8h0M312.7 279.6h0M319.0 283.9h0M310.6 268.0h0M316.9 275.0h0M318.4 287.7h0M311.4 280.3h0M313.4 264.1h0M314.4 284.3h0M312.6 254.9h0M314.3 276.8h0M312.1 278.7h0M318.0 279.6h0M313.8 275.1h0M310.9 261.1h0M311.0 278.4h0M315.9 271.3h0M315.0 286.2h0M314.1 264.1h0M314.7 265.0h0M311.2 281.1h0M311.0 284.3h0M311.5 258.5h0M310.6 261.1h0M315.7 274.1h0M314.8 268.4h0M311.3 255.4h0M312.5 271.3h0M314.9 287.2h0M312.3 282.4h0M311.9 270.8h0M310.5 261.2h0M314.5 287.4h0M315.7 266.1h0M316.9 274.0h0M310.9 256.9h0M312.4 269.3h0M310.6 257.1h0M318.9 281.1h0M312.6 272.6h0M311.1 261.1h0" stroke="#b4b4b4" stroke-width="1.00" stroke-linecap="round" stroke-opacity="0.85" fill="none"/>
<path d="M320.8 258.7h0M337.2 284.3h0M322.1 279.6h0M330.8 264.4h0M326.8 281.0h0M325.0 277.3h0M325.5 273.5h0M330.9 266.1h0M321.4 289.9h0M320.8 273.9h0M329.3 280.5h0M326.2 276.2h0M324.2 279.1h0M327.7 283.6h0M327.4 264.6h0M321.2 274.7h0M325.4 286.3h0M324.8 277.7h0M316.1 286.2h0M321.9 285.1h0M317.5 270.1h0M324.9 272.9h0M331.7 262.0h0M323.9 275.0h0M321.2 281.1h0M316.2 273.8h0M332.9 269.0h0M326.9 268.4h0M336.0 270.0h0M316.8 267.8h0M317.3 275.5h0M312.9 269.6h0M331.8 261.8h0M299.1 258.4h0M296.8 269.5h0M297.4 271.8h0M309.2 267.5h0M305.9 260.3h0M303.5 267.5h0M296.2 267.1h0M300.8 269.0h0M301.5 266.9h0M309.7 276.7h0M310.1 267.6h0M299.3 266.3h0" stroke="#bcbcbc" stroke-width="1.00" stroke-linecap="round" stroke-opacity="0.85" fill="none"/>
<path d="M322.8 269.6h0M319.8 272.9h0M320.3 287.4h0M329.3 290.4h0M319.6 271.3h0M320.7 287.4h0M326.8 278.8h0M322.3 271.4h0M323.9 273.7h0M325.7 268.4h0M321.3 272.3h0M322.5 280.7h0M319.5 256.9h0M316.7 286.3h0M330.2 281.6h0M319.1 295.3h0M323.6 275.3h0M330.9 285.2h0M299.4 260.5h0M311.3 270.4h0M287.3 275.2h0M291.9 257.1h0M290.2 279.4h0M288.5 271.8h0M297.7 251.0h0M297.2 277.2h0M302.3 269.6h0M298.8 283.9h0M300.1 267.4h0M294.6 261.6h0M300.4 256.3h0M291.8 265.9h0M309.7 263.3h0M296.4 275.0h0M307.6 277.4h0M303.9 274.4h0M308.3 259.5h0" stroke="#c4c4c4" stroke-width="1.00" stroke-linecap="round" stroke-opacity="0.85" fill="none"/>
<path d="M329.0 267.1h0M326.9 268.1h0M319.4 284.8h0M320.1 281.3h0M314.7 273.3h0M325.1 264.9h0M322.1 259.5h0M318.0 269.7h0M330.1 284.9h0M320.6 280.2h0M323.3 274.8h0M323.5 265.3h0M323.0 257.7h0M316.0 283.3h0M328.7 275.4h0M325.2 267.6h0M313.7 273.0h0M320.7 279.0h0M323.0 266.3h0M325.7 275.7h0M314.8 276.5h0M298.6 270.2h0M293.7 261.6h0M301.0 265.6h0M293.5 261.9h0M303.0 268.5h0M301.3 271.2h0M302.5 277.3h0M297.2 280.8h0M305.0 272.6h0M294.7 271.0h0M304.0 267.5h0M291.5 262.6h0" stroke="#c8ccd4" stroke-width="1.00" stroke-linecap="round" stroke-opacity="0.85" fill="none"/>
<path d="M316.7 272.5h0M318.0 265.1h0M322.7 257.4h0M325.4 271.6h0M332.2 270.6h0M321.7 252.2h0M325.4 265.7h0M313.4 280.9h0M323.8 266.1h0M317.1 278.6h0M318.2 277.2h0M312.0 274.1h0M316.0 273.7h0M328.1 275.5h0M329.1 282.7h0M329.7 266.8h0M315.0 269.8h0M319.8 273.6h0M316.6 284.2h0M330.6 276.3h0M326.1 280.9h0M323.4 282.5h0M324.9 280.6h0M314.8 275.2h0M321.7 265.7h0M329.0 287.1h0M332.0 286.5h0M306.5 264.0h0M301.5 279.1h0M309.2 274.8h0M294.2 255.2h0M286.2 274.6h0M296.1 280.3h0M305.4 264.8h0M285.7 274.3h0M288.4 275.8h0M290.8 265.4h0M297.3 261.1h0M293.4 272.6h0M297.9 273.3h0M295.6 268.5h0M292.8 262.2h0" stroke="#d0d0d0" stroke-width="1.00" stroke-linecap="round" stroke-opacity="0.85" fill="none"/>
<line x1="310.2" y1="249.4" x2="310.2" y2="307.9" stroke="#a4a4a4" stroke-width="1.1"/>
<path d="M307.8 267.0h0M311.4 254.2h0M306.5 275.4h0M303.1 279.9h0M307.3 272.7h0M306.5 266.5h0M308.1 258.3h0M310.6 250.8h0M310.6 250.5h0M309.9 252.7h0M306.2 278.3h0M303.8 270.6h0M309.5 250.8h0M307.5 262.5h0M306.7 265.3h0M309.3 262.2h0M309.6 255.2h0M310.6 252.6h0M309.7 250.3h0M306.9 262.2h0M307.0 260.5h0M303.3 274.2h0M301.6 289.4h0M307.3 260.8h0M309.3 258.2h0M306.9 258.9h0M306.9 262.7h0M309.5 258.2h0M302.9 275.3h0M303.6 285.3h0M310.3 250.3h0M308.0 259.0h0M303.7 285.7h0M309.1 258.4h0M310.2 251.7h0M308.6 259.6h0M308.0 266.3h0M306.2 285.0h0M307.9 265.0h0M308.6 258.2h0M304.5 270.2h0M308.5 265.6h0M308.7 255.5h0M299.2 282.0h0M301.7 290.1h0M306.2 269.7h0M304.2 287.8h0M306.3 272.1h0M308.2 255.5h0M309.4 251.0h0M305.2 270.2h0M308.8 254.9h0M309.9 255.2h0M306.1 274.7h0M307.9 256.8h0M308.7 261.5h0M310.5 251.3h0M300.2 284.3h0M302.5 290.4h0M302.7 282.5h0M303.8 274.0h0M307.4 284.0h0M303.6 274.6h0M307.6 263.3h0M307.1 277.2h0M310.5 250.7h0M306.6 273.6h0M308.4 281.0h0M301.4 280.3h0M301.9 291.2h0M307.3 262.7h0M303.7 279.2h0M308.0 256.1h0M308.7 255.7h0M308.7 251.3h0M309.8 252.6h0M308.2 271.3h0M307.9 266.2h0M309.3 256.8h0M303.2 278.1h0M310.3 250.2h0M308.1 285.0h0M304.9 272.4h0M304.0 289.3h0M309.3 251.5h0M310.2 250.1h0M310.2 250.8h0M309.7 291.6h0M306.7 272.9h0" stroke="#e84040" stroke-width="1.10" stroke-linecap="round" stroke-opacity="0.95" fill="none"/>
<path d="M306.8 268.2h0M306.6 272.9h0M309.3 254.0h0M301.4 285.0h0M309.8 251.5h0M309.5 253.9h0M306.3 280.6h0M305.3 276.4h0M307.8 268.3h0M306.0 264.7h0M308.0 268.7h0M305.2 283.7h0M303.7 285.6h0M306.4 265.7h0M309.6 262.8h0M302.7 286.5h0M306.6 262.1h0M307.0 263.2h0M307.8 255.2h0M309.0 258.5h0M305.9 276.0h0M308.9 262.4h0M300.8 289.6h0M308.1 274.0h0M308.3 269.5h0M309.4 254.2h0M303.0 266.1h0M308.6 280.4h0M308.7 259.6h0M299.6 280.4h0M307.1 277.3h0M304.3 273.3h0M311.6 254.0h0M300.4 282.6h0M311.2 251.0h0M309.2 259.2h0M308.6 286.2h0M310.6 250.7h0M309.8 252.1h0M309.3 259.1h0M300.8 290.0h0M302.8 272.9h0M309.7 250.9h0M308.9 259.1h0M308.1 252.8h0M309.2 257.9h0M308.8 254.1h0M305.0 266.9h0M308.1 260.1h0M306.1 268.5h0M309.2 252.6h0M310.6 250.6h0M310.6 252.9h0M309.0 257.2h0M309.7 277.6h0M307.2 267.6h0M306.7 278.7h0M306.2 262.9h0M309.4 255.6h0M308.2 272.8h0M309.5 260.5h0M305.7 261.4h0M307.4 282.9h0M304.0 274.1h0M304.5 285.7h0M310.0 250.2h0M306.2 285.1h0M303.6 269.7h0M308.5 251.2h0M305.0 275.2h0M310.8 252.5h0M307.6 275.3h0M309.5 260.0h0M307.2 264.2h0M308.1 258.6h0M306.0 271.9h0M308.0 259.2h0M301.2 287.8h0M307.8 266.6h0M309.1 263.3h0M295.5 290.9h0M310.0 250.7h0M309.8 253.9h0M308.4 260.6h0M307.4 257.7h0M303.4 282.6h0M306.6 272.4h0M299.8 282.0h0M308.6 253.8h0M302.6 291.7h0M311.1 253.0h0M308.5 261.3h0M300.1 277.7h0M309.3 254.0h0M306.6 272.9h0M307.5 259.9h0M311.2 250.3h0M310.6 250.9h0M309.8 253.9h0M309.7 256.5h0M307.2 276.8h0M307.4 261.2h0" stroke="#cc2424" stroke-width="1.10" stroke-linecap="round" stroke-opacity="0.95" fill="none"/>
<path d="M306.5 255.0h0M305.6 276.4h0M309.4 259.6h0M306.0 269.6h0M300.9 282.6h0M309.5 278.3h0M300.8 278.5h0M295.3 291.2h0M310.0 251.4h0M309.8 252.0h0M305.4 270.7h0M308.0 262.6h0M308.8 251.9h0M305.5 271.2h0M308.3 254.8h0M306.4 265.6h0M308.6 261.7h0M305.1 274.4h0M307.9 259.8h0M309.4 258.5h0M307.7 261.9h0M301.7 283.8h0M301.5 280.6h0M308.4 261.2h0M307.6 264.8h0M306.0 274.5h0M307.4 274.1h0M303.0 272.4h0M310.2 253.4h0M302.3 282.1h0M304.2 267.1h0M306.9 262.1h0M306.0 272.4h0M308.4 284.3h0M308.7 261.5h0M307.5 265.4h0M305.9 275.9h0M309.5 256.4h0M309.2 254.0h0M307.0 267.0h0M308.4 261.4h0M306.5 263.4h0M308.6 256.9h0M307.6 271.9h0M304.0 285.5h0M307.0 269.7h0M309.1 263.4h0M308.6 253.0h0M309.8 251.3h0M309.1 256.2h0M307.4 270.0h0M305.9 268.6h0M303.8 288.9h0M309.7 259.4h0M307.1 278.9h0M307.4 263.3h0M308.2 255.0h0M308.1 261.7h0M308.4 263.0h0M299.5 290.9h0M310.1 250.6h0M309.9 251.0h0M304.0 273.9h0M303.5 286.5h0M305.0 288.5h0M307.1 277.0h0M310.3 251.7h0M302.7 289.3h0M311.6 251.9h0M309.7 260.4h0M308.5 261.4h0M302.6 274.5h0M299.8 288.7h0M303.7 273.6h0M303.9 286.0h0M307.8 273.2h0M304.4 272.7h0M304.6 273.1h0M305.6 272.1h0M310.4 254.3h0M308.9 254.9h0M308.0 256.1h0M307.6 260.6h0M307.5 286.4h0M310.5 253.3h0" stroke="#d84848" stroke-width="1.10" stroke-linecap="round" stroke-opacity="0.95" fill="none"/>
<path d="M305.4 276.2h0M308.4 260.9h0M308.5 256.0h0M301.4 289.5h0M309.3 252.5h0M309.6 260.8h0M307.4 260.2h0M304.3 278.7h0M301.5 287.1h0M303.9 271.7h0M311.4 253.3h0M309.7 250.9h0M307.4 262.6h0M308.0 287.3h0M307.2 267.5h0M306.3 270.1h0M303.7 283.2h0M309.6 257.0h0M309.5 254.6h0M309.4 258.2h0M308.8 259.3h0M309.6 253.4h0M307.4 260.1h0M310.6 251.7h0M301.8 287.8h0M308.3 265.7h0M302.5 273.8h0M302.6 289.8h0M306.1 261.9h0M309.8 275.4h0M304.7 277.6h0M300.7 283.1h0M309.1 250.1h0M308.7 256.0h0M308.7 269.9h0M305.0 278.9h0M300.7 284.9h0M309.0 259.1h0M304.1 286.3h0M302.6 289.8h0M300.3 289.7h0M304.9 275.3h0M311.1 251.8h0M307.1 257.8h0M311.0 251.0h0M308.8 259.9h0M308.9 262.3h0M307.7 278.4h0M302.1 277.3h0M300.9 289.3h0M307.9 282.4h0M309.2 250.5h0M309.1 259.2h0M310.6 250.6h0M309.3 250.9h0M307.6 256.9h0M305.1 262.0h0M309.4 253.0h0M309.4 250.1h0M308.9 256.4h0M305.5 271.2h0M309.6 261.2h0M306.3 278.0h0M302.8 284.0h0M310.7 253.4h0M304.0 269.9h0M303.8 271.3h0M308.1 256.6h0M310.3 251.1h0M301.8 273.6h0M306.9 259.7h0M302.9 279.6h0M304.1 273.0h0M308.6 263.5h0M306.7 287.8h0M309.1 250.6h0M306.5 275.7h0M309.9 250.6h0M307.3 255.6h0M309.2 260.3h0M305.8 284.7h0M308.5 267.7h0M309.3 250.3h0M310.7 252.0h0M308.5 269.5h0M308.6 253.9h0M307.3 265.7h0M306.9 265.0h0M305.8 283.7h0M303.5 285.5h0M310.4 251.2h0M309.6 265.9h0M303.1 280.3h0M309.9 252.2h0M307.9 259.7h0M300.4 285.7h0M309.1 252.6h0M308.1 255.5h0M306.1 268.3h0M309.2 275.4h0M309.3 262.6h0M303.7 290.4h0M300.9 282.0h0" stroke="#e02c2c" stroke-width="1.10" stroke-linecap="round" stroke-opacity="0.95" fill="none"/>
<path d="M297.9 293.2h0M297.6 289.6h0M295.0 281.8h0M295.1 284.1h0" stroke="#e02c2c" stroke-width="1.10" stroke-linecap="round" stroke-opacity="0.9" fill="none"/>
<path d="M300.1 279.4h0M304.1 283.6h0" stroke="#e84040" stroke-width="1.10" stroke-linecap="round" stroke-opacity="0.9" fill="none"/>
<path d="M297.6 270.7h0" stroke="#cc2424" stroke-width="1.10" stroke-linecap="round" stroke-opacity="0.9" fill="none"/>
<path d="M297.6 287.0h0" stroke="#d84848" stroke-width="1.10" stroke-linecap="round" stroke-opacity="0.9" fill="none"/>
<rect x="284.2" y="249.4" width="58.60000000000002" height="58.49999999999997" fill="none" stroke="#777" stroke-width="0.85"/>
<text x="284.2" y="311.9" font-size="3.6" text-anchor="middle" fill="#383838">2<tspan font-size="2.3" dy="-1">-5</tspan></text>
<text x="290.1" y="311.9" font-size="3.6" text-anchor="middle" fill="#383838">2<tspan font-size="2.3" dy="-1">-4</tspan></text>
<text x="295.9" y="311.9" font-size="3.6" text-anchor="middle" fill="#383838">2<tspan font-size="2.3" dy="-1">-3</tspan></text>
<text x="301.8" y="311.9" font-size="3.6" text-anchor="middle" fill="#383838">2<tspan font-size="2.3" dy="-1">-2</tspan></text>
<text x="307.6" y="311.9" font-size="3.6" text-anchor="middle" fill="#383838">2<tspan font-size="2.3" dy="-1">-1</tspan></text>
<text x="313.5" y="311.9" font-size="3.6" text-anchor="middle" fill="#383838">2<tspan font-size="2.3" dy="-1">0</tspan></text>
<text x="319.4" y="311.9" font-size="3.6" text-anchor="middle" fill="#383838">2<tspan font-size="2.3" dy="-1">1</tspan></text>
<text x="325.2" y="311.9" font-size="3.6" text-anchor="middle" fill="#383838">2<tspan font-size="2.3" dy="-1">2</tspan></text>
<text x="331.1" y="311.9" font-size="3.6" text-anchor="middle" fill="#383838">2<tspan font-size="2.3" dy="-1">3</tspan></text>
<text x="336.9" y="311.9" font-size="3.6" text-anchor="middle" fill="#383838">2<tspan font-size="2.3" dy="-1">4</tspan></text>
<text x="342.8" y="311.9" font-size="3.6" text-anchor="middle" fill="#383838">2<tspan font-size="2.3" dy="-1">5</tspan></text>
<text x="283.4" y="250.4" font-size="3.6" text-anchor="end" fill="#383838">10<tspan font-size="2.3" dy="-1">-0</tspan></text>
<text x="283.4" y="262.1" font-size="3.6" text-anchor="end" fill="#383838">10<tspan font-size="2.3" dy="-1">-2</tspan></text>
<text x="283.4" y="273.8" font-size="3.6" text-anchor="end" fill="#383838">10<tspan font-size="2.3" dy="-1">-4</tspan></text>
<text x="283.4" y="285.5" font-size="3.6" text-anchor="end" fill="#383838">10<tspan font-size="2.3" dy="-1">-6</tspan></text>
<text x="283.4" y="297.2" font-size="3.6" text-anchor="end" fill="#383838">10<tspan font-size="2.3" dy="-1">-8</tspan></text>
<text x="283.4" y="308.9" font-size="3.6" text-anchor="end" fill="#383838">10<tspan font-size="2.3" dy="-1">-10</tspan></text>
<circle cx="46.3" cy="334.2" r="1.1" fill="#1a1aa8"/>
<circle cx="46.3" cy="343.2" r="1.1" fill="#b02020"/>
<circle cx="222.2" cy="334.2" r="1.1" fill="#1a1aa8"/>
<circle cx="222.2" cy="343.2" r="1.1" fill="#b02020"/>
<defs><filter id="mb" x="0" y="0" width="100%" height="100%"><feGaussianBlur stdDeviation="0.55"/></filter></defs>
<clipPath id="c1"><path d="M372 136H444V189H372Z"/></clipPath>
<clipPath id="c2"><path d="M380.7 164.5a27.8 23.7 0 1 0 55.6 0a27.8 23.7 0 1 0 -55.6 0z"/></clipPath>
<g clip-path="url(#c1)"><g filter="url(#mb)">
<rect x="370" y="134" width="76" height="57" fill="#1c1c82"/>
<path d="M413.8 146.3h0M393.9 141.9h0M396.9 137.2h0M443.0 158.9h0M376.7 144.0h0M407.9 182.4h0M440.7 139.5h0M440.9 182.9h0M399.0 139.2h0M405.3 146.2h0M378.5 185.7h0M405.6 158.5h0M419.2 138.4h0M411.8 164.4h0M373.3 143.1h0M433.9 146.7h0M381.2 164.9h0M393.6 152.0h0M373.0 185.2h0M382.9 181.2h0M403.6 185.1h0M395.7 138.0h0M381.3 167.4h0M433.4 156.4h0M410.1 165.8h0M406.6 139.2h0M430.0 140.0h0M384.9 136.2h0M389.7 181.7h0M382.6 185.1h0M395.0 166.4h0M376.4 173.6h0M428.8 165.5h0M422.4 148.3h0M429.7 155.4h0M439.2 168.4h0M414.9 155.8h0M403.3 139.3h0M394.2 150.5h0M377.0 141.7h0M377.5 144.5h0M378.2 146.6h0M402.5 156.2h0M433.1 159.7h0M427.2 148.8h0M406.5 165.5h0M380.1 160.3h0M401.8 146.9h0M384.8 170.3h0M373.4 180.5h0M419.8 164.5h0M443.9 155.2h0M418.0 169.9h0M373.9 158.9h0M425.8 161.2h0M426.0 187.1h0M421.2 144.1h0M406.5 182.6h0M418.4 185.6h0M396.9 169.4h0M404.2 136.5h0M396.1 186.9h0M373.9 148.1h0M409.1 178.2h0M375.4 188.9h0M439.7 186.8h0M378.8 145.2h0M438.4 145.9h0M379.6 165.2h0M415.9 156.6h0M396.1 154.5h0M438.0 157.1h0M411.3 142.0h0M410.2 167.1h0M419.7 148.1h0M373.3 152.1h0M427.3 172.5h0M431.9 180.1h0M430.2 143.3h0M430.9 153.9h0M408.8 142.3h0M387.8 179.1h0M409.4 174.8h0M410.4 161.9h0M414.6 188.0h0M397.5 157.6h0M411.5 184.8h0M434.5 142.2h0M441.4 138.8h0M407.7 166.8h0M409.3 153.6h0M378.8 175.9h0M379.2 174.0h0M416.4 188.8h0M410.2 151.6h0M429.2 152.0h0M379.4 163.0h0M413.5 149.9h0M434.3 163.7h0M385.6 172.6h0M405.8 162.7h0M443.4 172.3h0" stroke="#16167a" stroke-width="1.60" stroke-linecap="round" stroke-opacity="1" fill="none"/>
<path d="M405.6 171.2h0M404.1 164.5h0M372.7 165.9h0M436.5 166.2h0M429.0 143.4h0M389.6 150.9h0M389.2 150.5h0M387.6 171.2h0M408.9 169.2h0M442.1 175.8h0M403.6 138.7h0M396.4 174.7h0M391.1 148.6h0M418.4 164.2h0M424.8 170.5h0M424.6 167.1h0M404.3 138.0h0M436.5 185.9h0M396.0 185.3h0M413.5 161.5h0M443.6 157.4h0M443.0 151.8h0M436.6 160.9h0M426.6 176.1h0M404.6 152.0h0M376.1 136.1h0M391.4 187.5h0M417.0 169.0h0M398.3 161.4h0M383.8 140.1h0M372.9 149.5h0M410.1 166.8h0M385.9 138.7h0M431.5 142.3h0M406.7 187.4h0M374.7 150.1h0M442.2 144.4h0M410.0 179.7h0M390.1 159.6h0M435.1 136.6h0M416.3 172.4h0M399.8 189.0h0M384.4 162.3h0M399.2 147.8h0M384.5 164.4h0M425.8 158.0h0M398.7 179.7h0M402.1 144.2h0M407.2 141.8h0M437.7 167.4h0M396.2 188.0h0M374.9 185.6h0M435.6 146.8h0M406.8 174.7h0M419.9 171.0h0M385.2 146.6h0M381.3 146.8h0M406.7 142.5h0M423.2 139.9h0M417.1 176.8h0M428.0 153.4h0M423.7 179.1h0M411.4 179.2h0M397.5 149.4h0M439.0 186.2h0M390.0 185.0h0M405.3 174.8h0M385.1 162.3h0M439.0 157.8h0M441.1 171.7h0M423.7 177.4h0M411.2 161.1h0M399.0 168.7h0M377.3 155.1h0M432.3 161.4h0M416.9 138.5h0M443.6 145.0h0M410.8 152.3h0M387.9 162.3h0M435.3 151.8h0M414.9 175.2h0M408.1 161.3h0M419.4 144.5h0M382.4 169.8h0M425.2 145.6h0M418.7 187.6h0M390.8 149.1h0M403.2 181.4h0M372.1 151.6h0M405.5 188.9h0M393.3 168.5h0M373.2 155.3h0M398.7 136.9h0M414.2 159.4h0M396.0 142.4h0M401.2 182.2h0M426.1 162.5h0M406.5 162.0h0M425.9 144.1h0M425.2 183.2h0M415.2 174.5h0M399.1 160.9h0M398.7 176.2h0M381.3 150.7h0M391.4 155.9h0M442.7 181.1h0M405.5 147.9h0M400.6 151.2h0M421.3 149.0h0M438.7 148.1h0M389.1 140.2h0" stroke="#24249a" stroke-width="1.60" stroke-linecap="round" stroke-opacity="1" fill="none"/>
<path d="M415.3 184.6h0M421.9 147.3h0M406.0 153.3h0M402.4 139.3h0M419.9 182.8h0M410.5 173.2h0M432.4 142.3h0M438.6 146.6h0M372.9 169.6h0M420.9 183.4h0M396.7 155.6h0M389.3 159.1h0M375.6 188.6h0M440.5 177.0h0M427.4 186.6h0M421.8 187.8h0M379.9 188.4h0M383.9 179.9h0M422.2 148.7h0M401.4 167.7h0M409.8 137.8h0M427.8 183.8h0M438.0 145.9h0M421.3 151.1h0M381.9 144.7h0M426.2 162.0h0M427.5 175.4h0M443.8 139.2h0M391.6 154.3h0M434.4 181.2h0M382.1 144.4h0M443.6 181.8h0M397.2 183.0h0M440.9 163.4h0M381.0 140.3h0M416.5 162.6h0M429.3 170.0h0M441.7 139.1h0M410.1 151.2h0M400.9 183.5h0M423.5 153.8h0M425.9 179.2h0M401.2 171.5h0M409.0 157.7h0M420.7 149.5h0M423.0 145.6h0M416.0 170.0h0M384.8 168.1h0M441.9 174.0h0M418.8 141.8h0M395.1 143.8h0M429.7 138.0h0M395.0 141.5h0M428.6 187.7h0M376.9 162.0h0M440.9 150.6h0M421.5 188.2h0M435.8 155.4h0M440.0 155.6h0M394.1 168.5h0M436.6 150.2h0M399.0 164.8h0M431.3 163.4h0M398.4 166.8h0M407.7 161.7h0M377.2 141.1h0M389.4 150.6h0M390.2 167.2h0M413.2 177.2h0M432.3 177.5h0M417.9 145.3h0M408.2 146.5h0M431.1 175.8h0M386.5 187.6h0M387.8 174.3h0M441.2 175.7h0M404.5 180.2h0M425.5 177.0h0M408.9 145.7h0M420.8 149.6h0M419.3 179.5h0M396.8 163.0h0M397.1 179.6h0M420.0 183.9h0M380.7 156.7h0M409.8 182.1h0M416.6 149.3h0M408.9 187.0h0M407.9 177.3h0M413.4 171.2h0M435.6 153.2h0M412.4 149.9h0M406.0 139.8h0M396.1 155.1h0M423.2 153.8h0M411.9 136.3h0M419.8 180.0h0M441.1 144.1h0M395.9 177.4h0M417.9 166.3h0M441.1 141.7h0M373.8 170.8h0M426.0 146.5h0M399.6 160.8h0M433.3 159.9h0M406.9 145.6h0M427.7 142.1h0M441.7 183.2h0M415.2 187.5h0M391.6 145.3h0M402.7 142.4h0M380.3 162.8h0M375.4 176.1h0M441.7 158.0h0" stroke="#2a2aa4" stroke-width="1.60" stroke-linecap="round" stroke-opacity="1" fill="none"/>
<path d="M377.1 146.2h0M428.3 148.1h0M401.1 171.5h0M434.8 147.5h0M434.5 145.6h0M442.2 187.3h0M418.0 175.5h0M442.2 168.8h0M425.8 181.5h0M374.6 182.1h0M405.8 187.7h0M379.6 164.0h0M416.0 173.8h0M422.4 142.2h0M416.4 187.9h0M419.6 155.7h0M407.2 156.7h0M393.4 148.3h0M375.9 141.7h0M379.3 176.4h0M425.3 176.4h0M399.0 180.2h0M411.8 174.8h0M423.4 136.6h0M428.3 145.1h0M394.3 159.4h0M402.3 159.2h0M422.1 154.4h0M409.2 151.1h0M435.7 143.6h0M426.8 177.4h0M442.1 182.4h0M373.3 147.7h0M377.9 154.1h0M411.4 176.9h0M397.2 168.2h0M419.7 174.3h0M429.9 181.7h0M376.0 184.6h0M433.9 185.6h0M429.5 180.8h0M437.5 180.1h0M418.2 176.6h0M402.6 175.3h0M390.1 176.7h0M438.6 158.5h0M439.9 139.5h0M430.4 173.9h0M408.6 178.9h0M423.1 171.5h0M394.1 163.5h0M377.7 173.3h0M388.0 177.5h0M372.5 177.7h0M382.5 169.8h0M385.9 138.8h0M395.6 181.3h0M403.1 172.4h0M438.0 184.1h0M379.5 156.5h0M421.8 138.4h0M431.1 176.4h0M388.4 187.7h0M397.1 149.0h0M427.2 137.9h0M392.7 154.8h0M428.0 148.2h0M378.4 175.6h0M408.4 171.0h0M376.4 177.0h0M405.4 183.0h0M434.7 186.2h0M436.5 173.8h0M382.4 136.5h0M427.2 155.5h0M377.5 158.9h0M421.5 184.0h0M423.8 179.9h0M424.1 157.0h0M396.5 159.7h0M439.4 171.4h0M382.4 149.9h0M437.8 188.8h0M378.7 185.7h0M378.7 178.6h0M436.7 168.5h0M428.5 187.5h0M400.2 175.7h0M401.4 146.9h0M372.1 152.8h0M434.1 171.2h0M401.1 141.5h0M438.1 170.1h0" stroke="#121266" stroke-width="1.60" stroke-linecap="round" stroke-opacity="1" fill="none"/>
<g clip-path="url(#c2)">
<clipPath id="c3"><path d="M372 136H444V167.0H372Z"/></clipPath>
<g clip-path="url(#c3)">
<rect x="372" y="136" width="72" height="31.0" fill="#142e36"/>
<path d="M414.9 155.9h0M392.5 147.6h0M427.5 145.3h0M393.2 162.4h0M405.0 149.8h0M415.6 152.1h0M408.3 141.9h0M404.1 155.8h0M417.7 149.3h0M419.8 155.9h0M404.8 151.7h0M409.9 147.9h0M390.2 154.2h0M398.2 155.6h0M415.8 145.6h0M402.1 151.5h0M403.2 144.4h0M405.9 158.2h0M410.4 147.0h0M406.2 154.7h0M411.6 151.9h0M397.5 151.6h0M408.6 148.2h0M420.3 156.8h0M399.2 154.4h0M402.7 159.5h0" stroke="#3aa040" stroke-width="1.70" stroke-linecap="round" stroke-opacity="1" fill="none"/>
<path d="M409.1 143.5h0M410.0 151.5h0M407.1 162.8h0M405.5 147.9h0M406.9 148.3h0M432.0 146.6h0M401.7 160.6h0M411.1 145.8h0M396.5 164.1h0M397.3 155.8h0M417.8 165.0h0M399.8 148.5h0M407.8 149.0h0M382.3 160.4h0M385.3 153.6h0M406.7 161.5h0M408.5 163.3h0M400.8 161.4h0M399.2 151.1h0M396.8 142.0h0M397.9 150.2h0M395.6 149.5h0M396.8 143.1h0M396.7 149.8h0M418.1 148.5h0M392.9 164.3h0M394.0 150.5h0M411.7 148.1h0M422.4 159.2h0M411.5 152.8h0M418.8 153.2h0M421.1 152.1h0M392.9 156.5h0M400.3 153.4h0M408.4 146.0h0" stroke="#226a2a" stroke-width="1.70" stroke-linecap="round" stroke-opacity="1" fill="none"/>
<path d="M414.5 152.7h0M398.6 160.0h0M403.4 146.0h0M420.9 163.6h0M396.2 148.0h0M395.1 146.0h0M415.4 142.3h0M387.3 149.4h0M409.7 152.9h0M412.1 151.4h0M397.4 155.2h0M398.4 151.1h0M429.0 156.5h0M418.8 159.2h0M401.2 143.3h0M425.0 162.5h0M400.5 145.7h0M416.3 153.9h0M409.4 142.8h0M419.4 151.3h0M410.6 155.4h0M398.5 152.2h0M401.0 146.7h0M422.0 148.7h0M406.2 160.2h0M406.6 144.6h0M396.9 154.9h0M392.7 156.9h0M418.3 158.3h0M412.4 158.3h0M390.3 149.0h0M403.2 152.9h0M419.5 152.5h0M419.9 146.6h0M421.5 162.8h0" stroke="#0a1a1a" stroke-width="1.70" stroke-linecap="round" stroke-opacity="1" fill="none"/>
<path d="M403.7 153.6h0M433.6 155.5h0M401.9 144.6h0M406.4 163.4h0M408.9 155.1h0M399.6 162.0h0M431.4 144.0h0M407.3 142.6h0M428.6 145.2h0M407.6 152.4h0M412.8 150.9h0M409.5 145.7h0M415.0 148.8h0M415.9 154.9h0M405.3 146.4h0M399.0 143.5h0M394.9 161.7h0M414.3 151.5h0M415.1 158.9h0M406.7 154.5h0M407.1 159.4h0M403.5 150.7h0M418.5 146.7h0M418.6 148.2h0M408.5 146.4h0M406.8 154.4h0M403.5 148.7h0" stroke="#3a9a3a" stroke-width="1.70" stroke-linecap="round" stroke-opacity="1" fill="none"/>
<path d="M387.5 161.2h0M412.4 146.6h0M431.4 153.4h0M410.9 147.4h0M404.2 150.6h0M408.0 158.3h0M424.6 161.4h0M409.8 147.7h0M392.7 165.6h0M414.1 155.2h0M382.3 149.3h0M413.0 145.5h0M402.5 147.6h0M409.4 151.5h0M401.9 143.5h0M397.3 161.4h0M408.5 147.2h0M420.0 159.6h0M419.2 147.7h0M420.6 164.7h0M404.3 155.5h0M405.5 154.8h0M387.6 161.5h0M423.6 150.8h0M410.6 144.7h0M417.6 157.4h0M408.3 148.3h0M410.4 155.5h0M424.6 159.7h0M403.4 155.8h0M409.2 155.2h0M401.5 161.6h0M408.2 146.9h0M405.7 161.3h0M435.1 146.4h0M396.4 144.4h0" stroke="#0e2228" stroke-width="1.70" stroke-linecap="round" stroke-opacity="1" fill="none"/>
<path d="M418.3 141.9h0M416.3 157.7h0M401.7 144.5h0M395.3 144.8h0M415.6 146.5h0M405.3 151.8h0M402.5 149.9h0M401.1 162.4h0M405.0 141.9h0M433.8 150.9h0M387.0 152.5h0M404.4 160.5h0M395.6 148.1h0M399.1 155.2h0M413.4 150.1h0M432.9 153.6h0M402.4 153.4h0M412.2 155.1h0M403.6 155.9h0M393.2 144.5h0M427.7 156.8h0M397.5 152.8h0M402.4 146.3h0M402.9 163.5h0M399.5 148.3h0M408.6 153.5h0" stroke="#081818" stroke-width="1.70" stroke-linecap="round" stroke-opacity="1" fill="none"/>
<path d="M407.6 146.6h0M396.7 143.0h0M414.6 156.8h0M418.3 155.8h0M414.9 143.7h0M405.8 151.2h0M395.4 150.1h0M401.1 150.5h0M414.7 146.1h0M408.4 159.1h0M395.1 142.6h0M412.1 158.1h0M405.1 149.7h0M409.2 155.7h0M399.0 150.4h0M394.5 143.0h0M412.8 158.1h0M394.7 145.2h0M409.8 150.2h0M415.3 150.5h0M393.2 148.9h0M393.3 150.0h0M422.2 153.3h0M395.6 156.4h0M401.2 148.2h0M418.9 144.9h0M421.1 152.0h0M417.5 147.1h0M405.0 153.2h0M411.1 147.5h0M394.6 145.3h0" stroke="#1c4a3a" stroke-width="1.70" stroke-linecap="round" stroke-opacity="1" fill="none"/>
<path d="M400.2 155.1h0M403.1 155.3h0M383.7 149.0h0M398.7 149.1h0M398.7 146.7h0M402.2 156.9h0M412.0 154.2h0M403.0 148.1h0M408.2 150.2h0M414.4 147.0h0M431.5 148.0h0M411.2 160.7h0M426.5 166.0h0M397.0 152.4h0M414.1 142.4h0M402.2 149.3h0M401.7 152.8h0M422.4 157.7h0M414.9 148.5h0M404.0 149.8h0M403.0 163.5h0M408.5 150.1h0M393.3 149.4h0M400.8 146.0h0M402.6 152.4h0M401.2 151.9h0M413.9 155.3h0" stroke="#2e8a34" stroke-width="1.70" stroke-linecap="round" stroke-opacity="1" fill="none"/>
<path d="M419.8 142.8h0M419.2 151.3h0M404.0 146.7h0M390.6 152.4h0M403.0 158.6h0M411.8 153.1h0M402.1 160.2h0M408.8 147.7h0M411.8 162.4h0M392.5 147.4h0M384.9 145.5h0M404.9 150.2h0M405.8 148.6h0M413.0 156.4h0M420.6 148.7h0M435.4 141.5h0M420.5 159.0h0M410.7 146.3h0M410.2 155.3h0M399.4 146.9h0M411.9 154.7h0M392.1 149.7h0M408.6 147.5h0M402.7 147.6h0M400.0 144.6h0M390.5 153.3h0M395.3 142.3h0M412.1 149.2h0M407.4 150.5h0M398.1 147.3h0M408.7 157.1h0M400.6 150.6h0M413.3 145.3h0" stroke="#2a7a2a" stroke-width="1.70" stroke-linecap="round" stroke-opacity="1" fill="none"/>
<path d="M434.7 153.0h0M419.0 156.9h0M435.1 155.8h0M401.7 146.4h0M397.6 166.9h0M434.5 157.6h0M402.4 163.4h0M427.8 149.1h0M420.9 160.6h0M426.0 157.2h0M431.5 162.2h0M409.6 155.3h0M432.8 152.9h0M396.2 162.1h0M391.0 144.2h0M420.8 156.1h0M419.7 166.3h0M395.3 147.2h0M383.9 155.4h0M395.7 161.5h0M435.3 162.0h0M413.9 164.3h0M431.4 149.1h0M426.1 166.8h0M427.3 159.7h0M425.7 163.2h0M419.3 150.9h0M409.2 142.0h0M426.5 163.3h0M409.8 158.4h0" stroke="#0a1a22" stroke-width="1.70" stroke-linecap="round" stroke-opacity="1" fill="none"/>
<path d="M421.6 158.1h0M430.0 154.9h0M398.1 164.9h0M420.8 160.4h0M381.7 153.8h0M395.0 166.7h0M406.4 161.0h0M434.2 160.9h0M395.9 158.5h0M421.3 162.2h0M423.5 163.8h0M432.9 164.5h0M420.9 160.3h0M429.6 156.4h0M420.7 164.6h0M430.0 165.5h0M394.0 148.4h0M421.7 149.1h0M427.1 158.2h0M429.7 150.5h0M433.8 159.6h0M393.9 160.5h0M420.5 150.4h0M425.9 159.5h0M412.6 155.2h0M415.9 153.1h0" stroke="#1a5a5a" stroke-width="1.70" stroke-linecap="round" stroke-opacity="1" fill="none"/>
<path d="M428.8 144.4h0M398.9 148.9h0M422.2 162.0h0M422.6 156.2h0M431.2 161.3h0M423.9 156.0h0M435.5 160.2h0M428.7 164.6h0M427.0 146.6h0M424.4 166.5h0M417.2 150.7h0M424.6 158.9h0M382.4 161.4h0M426.8 155.2h0M417.2 156.9h0M418.7 156.0h0M424.1 165.4h0M433.8 164.9h0M384.7 159.3h0M422.2 149.2h0M425.2 151.2h0M424.8 156.0h0M428.2 152.9h0M383.8 160.1h0M427.3 157.7h0M433.0 155.5h0M430.3 147.2h0M420.6 160.8h0" stroke="#1a4a6a" stroke-width="1.70" stroke-linecap="round" stroke-opacity="1" fill="none"/>
<path d="M413.0 166.3h0M395.5 164.1h0M407.8 144.8h0M420.3 148.4h0M426.0 159.3h0M419.5 153.9h0M431.8 158.1h0M421.0 141.4h0M410.7 163.9h0M384.3 152.2h0M431.8 152.9h0M428.4 166.6h0M388.4 164.6h0M385.5 151.8h0M420.8 159.8h0M419.6 158.9h0M389.7 155.0h0M431.5 149.5h0M424.7 149.0h0M385.1 153.7h0M420.1 159.4h0M418.0 159.7h0M434.6 153.0h0M386.2 152.8h0" stroke="#1e5470" stroke-width="1.70" stroke-linecap="round" stroke-opacity="1" fill="none"/>
<path d="M383.5 162.7h0M434.6 155.8h0M416.6 156.6h0M387.0 150.8h0M430.4 166.2h0M398.5 149.4h0M420.9 155.4h0M387.0 155.4h0M417.6 157.8h0M418.1 160.5h0M386.2 141.4h0M418.4 158.3h0M386.3 165.0h0M408.4 166.8h0M416.8 166.8h0M382.4 166.3h0M382.5 159.0h0M422.3 153.9h0M389.1 143.5h0M430.0 162.9h0M434.3 160.3h0M423.6 162.8h0M432.9 153.8h0M387.9 147.1h0M417.8 154.4h0M423.6 162.3h0M427.3 153.3h0M404.3 146.6h0" stroke="#1a1a70" stroke-width="1.70" stroke-linecap="round" stroke-opacity="1" fill="none"/>
<path d="M418.6 163.1h0M422.1 163.0h0M435.6 154.5h0M431.4 157.7h0M405.9 158.1h0M417.8 149.4h0M425.8 148.4h0M425.0 151.8h0M383.6 144.9h0M428.9 162.2h0M426.3 148.5h0M404.1 143.7h0M385.7 141.3h0M433.9 162.1h0M388.8 156.1h0M395.1 147.9h0M426.4 160.1h0M425.1 156.5h0M423.5 156.3h0M424.4 155.2h0" stroke="#10284a" stroke-width="1.70" stroke-linecap="round" stroke-opacity="1" fill="none"/>
</g>
<clipPath id="c4"><path d="M372 167.0H444V189H372Z"/></clipPath>
<g clip-path="url(#c4)">
<rect x="372" y="167.0" width="72" height="22.0" fill="#4e1442"/>
<path d="M433.6 186.2h0M407.3 169.9h0M381.7 184.9h0M388.0 171.2h0M402.5 178.9h0M385.9 171.6h0M430.0 171.8h0M425.2 174.3h0M418.2 177.2h0M394.6 176.2h0M385.8 169.7h0M393.1 180.4h0M412.7 185.7h0M416.9 178.5h0M420.8 173.8h0M431.0 167.2h0M431.6 168.4h0M401.1 168.9h0M429.2 184.4h0M386.8 172.6h0M408.6 170.7h0M391.8 181.2h0M398.4 178.2h0M433.2 180.2h0M396.9 188.5h0M413.8 188.6h0M432.8 182.3h0M398.7 183.7h0M426.3 183.7h0M398.6 178.6h0M421.9 174.6h0M400.7 168.1h0M405.2 175.7h0M408.8 177.4h0M408.5 167.7h0M434.5 169.8h0M387.9 185.6h0M385.7 183.7h0M412.8 177.4h0M402.0 188.7h0M419.6 186.3h0M404.0 181.5h0M415.0 177.9h0M417.2 170.3h0M430.5 167.3h0M389.8 172.1h0M397.2 168.8h0M420.4 167.6h0M416.9 173.7h0M407.4 185.6h0M420.6 181.7h0M406.3 178.2h0M422.9 179.4h0M396.0 169.4h0M400.3 189.0h0M435.0 181.9h0M427.3 168.5h0M404.4 186.8h0M408.9 172.3h0M393.2 173.6h0M434.1 169.3h0M396.2 176.9h0M393.9 179.5h0M421.3 181.1h0M390.0 170.9h0M407.9 179.2h0M385.8 167.7h0M412.0 180.1h0M388.9 170.8h0M424.6 188.3h0M408.2 174.0h0M413.5 175.6h0M394.0 185.7h0M415.1 182.7h0M432.9 167.8h0M427.5 179.7h0M387.8 184.5h0M383.5 181.0h0M398.0 176.9h0M417.8 178.4h0M391.6 170.8h0M435.7 185.6h0M432.5 174.1h0M382.5 171.0h0M424.0 183.1h0M400.9 187.4h0M418.6 172.0h0M414.1 172.2h0M434.8 188.4h0M383.3 182.0h0M384.1 187.8h0M391.6 171.6h0" stroke="#220a30" stroke-width="1.70" stroke-linecap="round" stroke-opacity="1" fill="none"/>
<path d="M402.6 167.1h0M425.2 167.4h0M416.8 169.3h0M404.0 185.1h0M396.3 186.8h0M383.2 170.9h0M389.9 179.9h0M417.1 185.3h0M383.4 173.3h0M398.7 172.2h0M433.9 179.9h0M391.2 177.4h0M386.7 179.1h0M411.2 174.9h0M395.7 188.6h0M400.7 168.7h0M381.3 169.4h0M407.5 178.5h0M411.7 168.3h0M398.7 179.5h0M405.5 175.1h0M395.7 182.8h0M386.2 178.9h0M400.9 177.0h0M423.1 168.8h0M399.7 175.5h0M420.2 179.0h0M434.1 179.9h0M385.4 188.7h0M407.5 169.5h0M422.1 176.1h0M393.4 167.2h0M434.1 183.5h0M386.3 180.4h0M431.3 184.3h0M427.0 176.6h0M395.8 187.9h0M416.2 185.9h0M415.0 168.1h0M411.9 188.0h0M396.6 171.8h0M420.5 168.4h0M400.2 169.2h0M410.6 179.1h0M413.0 171.5h0M386.1 187.7h0M385.8 174.0h0M400.1 177.7h0M401.6 182.7h0M398.6 167.7h0M385.2 181.6h0M429.6 180.7h0M430.2 179.1h0M386.1 186.7h0M381.4 184.3h0M385.7 176.3h0M433.6 171.4h0M388.8 176.9h0M386.3 169.9h0M389.9 179.3h0M429.7 180.4h0M423.6 174.9h0M413.1 184.1h0M425.0 179.7h0M410.5 179.9h0M384.7 167.6h0M425.2 178.1h0M403.4 184.2h0M411.2 172.7h0M421.3 173.9h0M407.1 188.8h0M433.7 168.5h0M407.9 181.7h0M417.1 168.9h0M429.8 170.2h0M429.3 178.8h0M395.1 173.5h0M421.4 172.8h0M412.2 188.0h0M414.7 178.7h0M414.3 176.3h0M398.3 179.3h0M387.6 179.3h0M416.2 174.0h0M387.5 167.6h0M388.7 179.6h0M403.0 175.7h0M389.3 170.3h0M416.6 167.3h0" stroke="#621450" stroke-width="1.70" stroke-linecap="round" stroke-opacity="1" fill="none"/>
<path d="M386.9 170.2h0M386.7 180.2h0M435.3 171.4h0M405.4 168.4h0M428.1 180.0h0M384.5 173.8h0M407.9 175.1h0M433.3 186.1h0M409.5 188.6h0M391.8 173.0h0M396.3 177.9h0M427.5 175.0h0M394.0 180.2h0M408.2 177.9h0M400.1 170.2h0M419.8 175.6h0M433.6 182.4h0M428.2 174.4h0M396.7 170.1h0M400.0 170.5h0M384.4 179.5h0M418.3 181.0h0M411.9 181.7h0M429.4 181.0h0M415.3 179.3h0M407.5 168.2h0M424.1 175.6h0M397.3 168.0h0M385.4 173.1h0M420.3 169.6h0M407.6 175.0h0M394.6 181.3h0M410.6 172.7h0M431.7 180.8h0M397.0 172.3h0M413.3 183.6h0M383.4 172.7h0M393.7 180.2h0M403.9 187.6h0M387.1 175.4h0M409.5 176.5h0M434.8 175.4h0M417.7 188.6h0M407.1 181.2h0M403.1 178.0h0M422.6 168.7h0M419.2 169.2h0M416.5 170.2h0M395.6 180.7h0M434.0 173.8h0M410.0 169.7h0M402.5 177.8h0M409.4 185.4h0M385.7 173.4h0M406.9 188.7h0M422.9 175.8h0M411.6 179.5h0M405.8 173.9h0M394.6 170.3h0M385.3 174.5h0M418.0 185.5h0M388.4 179.3h0M415.9 185.7h0M435.0 168.8h0M402.9 178.6h0M393.5 181.6h0M425.8 187.9h0M421.3 187.4h0M412.8 174.9h0M425.2 188.1h0M428.6 171.7h0M419.0 178.4h0M423.8 187.3h0M410.0 180.5h0M399.5 187.7h0M394.3 186.1h0M431.7 178.0h0M387.0 184.8h0M408.9 173.9h0M408.6 173.3h0M426.9 178.3h0M421.1 174.3h0M400.6 179.7h0M430.9 176.2h0M415.6 175.3h0M397.6 187.5h0M382.1 168.2h0M404.6 171.6h0M402.9 183.0h0M400.1 182.5h0M384.1 183.1h0M390.9 171.3h0M398.2 177.6h0M411.5 181.8h0M381.6 173.3h0M411.9 173.0h0" stroke="#44226e" stroke-width="1.70" stroke-linecap="round" stroke-opacity="1" fill="none"/>
<path d="M417.0 174.3h0M407.8 169.7h0M425.9 179.0h0M416.8 173.9h0M402.8 169.7h0M432.3 183.8h0M427.4 167.8h0M399.9 177.3h0M400.5 185.6h0M435.2 186.9h0M389.8 187.3h0M402.0 181.5h0M391.0 170.9h0M393.6 175.7h0M410.0 175.0h0M386.3 178.0h0M398.2 174.8h0M417.8 182.6h0M417.3 182.0h0M408.2 171.6h0M435.8 183.8h0M404.8 185.7h0M401.6 175.2h0M411.5 169.6h0M419.3 176.8h0M425.2 179.6h0M405.9 180.8h0M429.7 185.8h0M390.4 169.9h0M417.1 169.6h0M408.7 169.1h0M405.0 179.8h0M400.1 173.3h0M408.2 180.5h0M404.7 184.3h0M432.6 167.9h0M410.7 172.5h0M402.8 169.6h0M433.3 186.6h0M397.5 168.7h0M410.8 183.0h0M388.9 183.4h0M395.5 178.7h0M390.4 180.7h0M409.9 177.8h0M429.8 183.3h0M433.2 173.1h0M421.6 174.9h0M387.3 185.3h0M389.1 167.8h0M385.5 177.0h0M423.2 176.4h0M389.9 169.1h0M390.5 180.1h0M419.4 179.0h0M400.0 188.2h0M386.1 169.3h0M432.6 169.5h0M423.0 182.2h0M432.5 181.6h0M388.2 186.6h0M428.5 168.9h0M421.0 183.9h0M419.0 184.6h0M410.7 170.7h0M423.3 167.0h0M421.6 178.9h0M403.2 171.7h0M383.1 170.7h0M433.5 184.0h0M416.1 182.1h0M387.7 171.4h0M389.1 170.0h0M405.8 181.5h0M398.2 178.0h0M392.9 186.7h0M383.2 175.6h0M431.8 174.5h0M425.4 180.7h0M421.1 185.2h0M414.3 170.4h0M402.7 168.0h0M395.7 185.2h0M417.4 173.9h0M416.5 175.5h0M421.5 179.6h0" stroke="#1a0a28" stroke-width="1.70" stroke-linecap="round" stroke-opacity="1" fill="none"/>
<path d="M384.5 171.5h0M406.7 178.8h0M381.6 186.1h0M420.3 167.0h0M385.0 186.7h0M390.6 187.5h0M387.0 174.3h0M420.1 180.7h0M389.5 167.2h0M422.2 180.6h0M407.5 173.1h0M412.4 182.3h0M407.4 185.5h0M411.0 181.5h0M399.7 174.6h0M412.8 178.4h0M386.6 180.5h0M389.3 178.4h0M391.8 185.7h0M412.9 184.2h0M397.8 176.8h0M425.1 182.6h0M433.2 175.4h0M426.6 174.7h0M414.9 186.0h0M387.7 169.4h0M426.6 180.3h0M384.6 183.5h0M394.0 170.9h0M401.3 187.2h0M415.2 170.5h0M408.4 168.2h0M387.3 187.9h0M387.3 186.1h0M429.2 168.4h0M382.7 184.0h0M401.9 178.9h0M424.9 170.9h0M415.0 178.8h0M411.4 181.2h0M396.9 170.0h0M407.5 181.9h0M418.7 179.1h0M422.6 173.6h0M416.8 173.2h0M403.6 178.4h0M429.9 181.7h0M409.0 187.6h0M395.6 185.5h0M415.7 188.4h0M425.5 179.5h0M382.3 178.4h0M426.2 171.5h0M406.7 184.8h0M389.0 177.4h0M391.0 173.5h0M400.4 173.7h0M401.7 178.4h0M409.5 186.5h0M431.9 168.1h0M425.2 183.1h0M381.3 186.2h0M425.5 169.5h0M385.7 174.7h0M406.8 179.3h0M415.4 177.5h0M428.0 171.2h0M397.5 183.3h0M393.4 175.2h0M412.5 175.4h0M405.6 175.9h0M389.7 172.8h0M387.7 187.3h0M393.0 174.0h0M411.6 170.2h0M430.5 179.8h0M391.0 181.6h0M400.6 169.9h0M405.4 172.6h0M395.2 167.8h0M423.2 167.3h0M412.5 188.5h0M399.9 178.2h0M382.3 167.3h0M435.3 175.9h0M384.9 180.2h0M423.7 183.6h0" stroke="#7a2050" stroke-width="1.70" stroke-linecap="round" stroke-opacity="1" fill="none"/>
<path d="M402.6 174.1h0M399.9 168.6h0M389.1 170.5h0M413.4 184.9h0M408.7 167.9h0M417.9 188.2h0M417.3 176.3h0M426.4 183.4h0M416.1 184.0h0M383.6 171.0h0M394.9 178.3h0M417.6 185.1h0M404.2 188.0h0M432.2 172.2h0M423.4 173.7h0M384.7 180.2h0M395.7 184.3h0M402.9 170.5h0M412.4 186.0h0M415.5 179.8h0M410.5 173.8h0M430.7 173.9h0M425.1 181.2h0M387.0 179.1h0M418.5 187.1h0M398.5 177.0h0M429.9 186.9h0M417.3 187.0h0M419.0 185.0h0M387.1 179.5h0M386.0 186.8h0M390.1 168.4h0M394.6 180.9h0M429.6 169.3h0M421.9 172.9h0M423.9 173.3h0M422.3 171.0h0M386.8 184.8h0M420.1 182.8h0M410.9 180.4h0M396.5 188.3h0M420.2 168.0h0M388.7 178.9h0M391.0 183.8h0M386.9 181.6h0M397.9 187.0h0M417.5 179.2h0M405.5 182.9h0M424.9 176.9h0M403.8 174.6h0M419.7 168.4h0M402.9 179.6h0M412.4 187.9h0M400.1 176.5h0M384.5 186.2h0M432.1 174.8h0M382.6 187.6h0M408.4 181.8h0M398.8 181.7h0M391.7 189.0h0M428.1 177.4h0M409.5 170.2h0M414.1 180.3h0M420.9 185.5h0M396.2 186.2h0M397.6 183.9h0M394.0 185.1h0M394.8 182.5h0M396.7 177.1h0M408.4 179.8h0M433.8 184.4h0M390.4 176.7h0M432.2 171.1h0M428.1 173.0h0M435.0 180.0h0M385.4 172.2h0M384.4 187.7h0M430.1 177.8h0M400.0 169.0h0M416.5 181.2h0" stroke="#862642" stroke-width="1.70" stroke-linecap="round" stroke-opacity="1" fill="none"/>
<path d="M390.6 173.6h0M433.7 186.0h0M391.2 178.8h0M398.1 185.5h0M409.5 178.5h0M412.8 167.6h0M416.0 185.6h0M385.1 167.7h0M431.2 177.1h0M390.8 172.9h0M426.1 170.1h0M435.2 179.0h0M418.6 174.1h0M417.0 185.0h0M424.2 183.6h0M400.6 172.3h0M421.8 185.2h0M431.3 168.5h0M395.7 176.9h0M423.0 172.1h0M382.5 185.5h0M396.4 176.1h0M425.9 185.8h0M412.6 174.7h0M412.5 176.7h0M407.6 183.3h0M428.3 181.4h0M409.4 174.2h0M409.4 179.8h0M434.7 174.3h0M434.1 176.1h0M433.7 185.0h0M413.8 172.3h0M423.6 188.8h0M392.5 187.7h0M386.0 173.6h0M416.8 179.4h0M435.6 178.6h0M405.2 173.7h0M409.1 182.6h0M403.6 167.7h0M420.1 180.9h0M402.3 169.4h0M416.6 171.5h0M425.9 185.6h0M400.5 185.1h0M406.5 167.8h0M426.7 185.1h0M428.2 184.1h0M411.8 176.8h0M429.5 181.1h0M434.8 170.5h0M417.9 187.2h0M398.9 186.5h0M420.7 174.4h0M413.7 187.0h0M434.6 181.6h0M426.6 167.2h0M411.4 187.7h0M414.6 173.8h0M428.2 179.2h0M400.5 168.1h0M425.2 171.5h0M427.1 185.4h0M403.1 186.3h0M430.4 183.8h0M382.2 186.2h0M387.7 172.1h0M392.0 185.4h0M407.3 179.0h0M403.3 176.1h0M393.5 169.9h0M412.7 183.9h0M409.0 180.9h0M402.7 183.8h0M400.2 169.9h0M393.9 172.4h0M397.2 176.5h0M407.9 186.3h0M416.6 174.2h0M407.6 167.7h0M401.7 176.1h0M412.0 176.1h0M385.2 181.9h0M390.9 182.9h0M402.6 176.4h0M398.1 173.0h0M403.8 184.1h0M403.3 184.5h0M417.9 180.2h0M431.7 183.9h0M396.4 183.3h0" stroke="#6e1a46" stroke-width="1.70" stroke-linecap="round" stroke-opacity="1" fill="none"/>
<path d="M426.4 172.5h0M407.3 171.1h0M421.3 180.8h0M402.7 171.8h0M431.9 177.3h0M425.4 184.2h0M399.2 182.4h0M414.3 175.5h0M425.8 183.4h0M414.7 180.4h0M419.3 183.1h0M407.9 178.7h0M388.4 184.4h0M385.4 178.8h0M421.7 188.2h0M420.7 187.9h0M384.1 169.5h0M409.4 170.7h0M416.9 172.9h0M411.2 180.1h0M429.1 169.3h0M426.8 172.1h0M408.5 185.4h0M394.2 169.8h0M403.9 174.9h0M434.8 174.7h0M416.2 178.6h0M384.9 176.5h0M399.0 168.1h0M386.8 185.1h0M426.4 171.0h0M416.1 185.3h0M423.0 179.7h0M400.4 185.1h0M423.5 181.5h0M429.4 187.0h0M428.9 176.0h0M383.9 188.9h0M385.5 173.0h0M429.1 173.6h0M431.0 186.7h0M404.7 187.0h0M425.8 175.3h0M430.7 178.8h0M413.1 177.7h0M387.6 169.5h0M383.1 188.4h0M418.4 184.2h0M405.8 188.7h0M412.4 177.9h0M433.9 175.2h0M414.7 179.1h0M421.1 176.4h0M435.1 168.2h0M396.1 187.9h0M397.3 187.1h0M394.2 183.8h0M389.6 182.7h0M433.6 167.5h0M428.1 167.0h0M424.5 183.5h0M428.3 188.7h0M428.0 167.4h0M413.6 186.9h0M384.9 172.0h0M404.6 175.7h0M431.6 171.9h0M381.5 178.9h0M393.1 172.6h0M397.2 180.1h0M394.1 173.8h0M393.5 174.6h0M424.4 170.4h0M403.3 181.4h0M416.2 181.2h0" stroke="#521040" stroke-width="1.70" stroke-linecap="round" stroke-opacity="1" fill="none"/>
<path d="M383.4 181.7h0M435.6 170.9h0M387.9 177.4h0M420.4 180.9h0M408.8 172.0h0M411.9 175.7h0M405.1 169.6h0M407.0 186.4h0M389.2 169.7h0M402.9 181.8h0M382.0 168.2h0M386.1 175.7h0M415.2 168.7h0M383.4 187.0h0M412.7 172.0h0M412.6 180.3h0M410.3 188.6h0M432.3 177.6h0M388.6 170.2h0M386.8 168.3h0M387.7 185.6h0M411.8 184.8h0M433.3 173.9h0M391.0 176.3h0M397.0 176.1h0M411.6 167.4h0M425.1 167.7h0M430.5 181.1h0M434.6 171.8h0M397.0 188.7h0M386.4 177.8h0M410.7 183.5h0M396.6 188.7h0M387.6 168.2h0M401.2 176.1h0M387.3 180.5h0M389.1 179.3h0M389.3 172.6h0M397.8 184.6h0M429.7 172.4h0M409.2 169.6h0M419.0 187.1h0M381.2 167.2h0M386.4 167.8h0M405.2 180.6h0M386.9 187.1h0M398.3 176.2h0M416.1 179.0h0M417.8 178.6h0M408.7 187.0h0M413.5 182.4h0M409.0 178.3h0M410.3 177.4h0M412.2 174.1h0M414.1 170.7h0M389.2 181.6h0M387.6 186.3h0M412.4 167.8h0M435.4 188.2h0M396.3 187.1h0M384.1 185.6h0M427.9 187.5h0M396.7 174.7h0M386.3 181.3h0M383.1 188.3h0M388.4 172.6h0M395.6 185.0h0M382.3 172.1h0M389.1 180.0h0M434.1 172.7h0M394.9 187.4h0M413.2 182.9h0M386.5 170.3h0M389.2 183.7h0M426.5 188.4h0M392.1 172.7h0M422.3 189.0h0M409.3 170.5h0M412.8 185.2h0M401.0 170.0h0M406.5 184.5h0M399.7 171.4h0M430.9 169.7h0M391.0 183.5h0M419.6 183.0h0M412.8 181.5h0M381.3 174.5h0M434.2 167.2h0M435.4 171.0h0M397.1 170.1h0M428.7 184.5h0M397.8 176.6h0M392.0 180.8h0M413.1 175.3h0M414.0 187.0h0M419.1 178.1h0M405.4 182.0h0M418.0 174.6h0M432.9 177.1h0M432.6 168.4h0M394.1 177.1h0M403.4 186.4h0M406.5 182.3h0M401.5 184.7h0" stroke="#301030" stroke-width="1.70" stroke-linecap="round" stroke-opacity="1" fill="none"/>
<path d="M428.1 186.6h0M392.1 177.7h0M431.1 177.6h0M414.7 187.1h0M395.5 178.6h0M421.0 176.3h0M418.3 168.9h0M424.7 174.7h0M433.4 188.2h0M395.9 185.3h0M390.9 181.2h0M417.7 169.7h0M392.3 181.9h0M425.7 183.9h0M391.2 167.8h0M392.6 173.5h0M422.9 176.1h0M386.8 184.4h0M397.4 186.9h0M419.7 177.1h0M421.8 187.2h0M415.1 184.1h0M399.2 178.8h0M424.2 171.9h0M413.2 171.6h0M393.0 185.5h0M432.4 187.8h0M423.3 179.9h0M405.0 181.8h0M393.8 179.2h0M435.6 175.6h0M414.5 172.9h0M388.5 187.6h0M412.5 184.0h0M403.5 170.3h0M384.0 170.7h0M424.6 172.6h0M432.2 180.4h0M409.9 178.9h0M383.8 170.3h0M403.2 180.9h0M413.3 170.4h0M409.0 169.4h0M397.9 172.2h0M405.9 176.6h0M393.4 180.1h0M426.4 167.2h0M391.6 188.9h0M414.3 174.3h0M382.4 169.5h0M403.9 168.6h0M421.8 183.9h0M430.3 169.7h0M404.8 171.6h0M406.6 179.2h0M411.1 171.1h0M390.2 184.7h0M398.6 181.2h0M424.1 175.7h0M421.6 178.8h0M387.7 180.0h0M397.0 180.3h0M397.7 168.0h0M424.9 168.6h0M423.1 185.1h0M389.3 183.6h0M383.1 173.2h0M387.9 171.2h0M403.7 186.7h0M391.7 187.5h0" stroke="#7a2444" stroke-width="1.70" stroke-linecap="round" stroke-opacity="1" fill="none"/>
<path d="M396.1 183.6h0M421.2 170.3h0M434.2 186.9h0M413.2 183.9h0M400.8 167.6h0M408.3 182.6h0M385.8 173.7h0M388.7 184.1h0M427.9 187.2h0M412.0 174.5h0M388.6 188.4h0M413.0 187.2h0M424.8 181.0h0M416.8 176.0h0M389.4 177.2h0M384.8 168.2h0M431.9 177.1h0M404.2 173.5h0M401.2 174.1h0M383.3 179.3h0M428.5 171.9h0M406.4 168.1h0M381.5 171.1h0M397.0 184.6h0M394.5 188.1h0M412.7 184.5h0M422.9 174.5h0M419.8 180.1h0M425.2 173.8h0M384.8 181.5h0M424.9 181.6h0M404.4 172.4h0M385.3 177.4h0M412.1 184.8h0M428.6 179.9h0M435.2 176.3h0M414.2 167.7h0M431.6 180.8h0M432.7 188.4h0M384.6 178.2h0M383.4 170.2h0M384.6 186.7h0M432.8 179.5h0M389.1 169.7h0M422.6 185.7h0M400.4 181.9h0M418.9 181.2h0M427.9 178.8h0M425.8 168.1h0M418.1 180.2h0M434.3 184.9h0M387.4 176.2h0M388.2 182.9h0M411.9 174.6h0M399.7 185.3h0M427.3 186.2h0M413.1 176.0h0M396.4 180.7h0M387.9 167.5h0M433.1 181.2h0M404.9 179.7h0M416.0 185.7h0M434.9 183.3h0M402.8 184.7h0M398.5 178.9h0M397.5 178.9h0M416.1 171.3h0M385.2 181.0h0M404.7 187.0h0M428.0 174.8h0M391.4 168.3h0M395.0 170.7h0M387.2 176.0h0M416.7 186.4h0M419.0 182.5h0M392.1 178.2h0M434.9 170.1h0M400.1 176.1h0M425.1 186.1h0" stroke="#42206a" stroke-width="1.70" stroke-linecap="round" stroke-opacity="1" fill="none"/>
</g>
</g>
</g></g>
<ellipse cx="408.5" cy="164.5" rx="27.3" ry="23.2" fill="none" stroke="#f0f0f0" stroke-width="1.6" stroke-dasharray="5 2.9" stroke-linecap="butt"/>
<path d="M383.7 167.4L432.8 166.8" fill="none" stroke="#f0f0f0" stroke-width="1.6" stroke-dasharray="5 2.9" stroke-linecap="butt"/>
<rect x="422" y="138.9" width="21" height="2.1" fill="#f4f4f4"/>
<clipPath id="c5"><path d="M446.8 136H518.8V189H446.8Z"/></clipPath>
<clipPath id="c6"><path d="M454.9 164.4a28.1 24.0 0 1 0 56.2 0a28.1 24.0 0 1 0 -56.2 0z"/></clipPath>
<g clip-path="url(#c5)"><g filter="url(#mb)">
<rect x="444.8" y="134" width="75.99999999999994" height="57" fill="#08080a"/>
<path d="M451.6 153.3h0M513.3 136.7h0M464.1 150.1h0M449.0 166.5h0M496.0 151.6h0M511.1 182.7h0M449.0 159.4h0M476.9 187.2h0M494.7 169.3h0M497.0 154.1h0M468.5 137.8h0M506.7 180.6h0M459.7 140.1h0M511.9 145.1h0M458.4 179.3h0M478.0 137.1h0M461.6 162.9h0M477.3 186.0h0M510.5 149.1h0M503.4 163.2h0M504.1 172.7h0M481.1 185.3h0M473.9 141.4h0M513.5 177.7h0M485.0 140.4h0M481.6 178.8h0M468.0 137.4h0M516.1 183.8h0M462.6 157.6h0M486.0 158.4h0M457.7 166.3h0M473.5 188.0h0M511.9 184.3h0M498.8 150.9h0M451.0 160.0h0M511.0 164.6h0M488.4 141.6h0M482.6 163.4h0M491.6 176.8h0M483.8 182.4h0M471.2 153.3h0M482.5 137.7h0M454.7 165.2h0" stroke="#24242e" stroke-width="1.20" stroke-linecap="round" stroke-opacity="1" fill="none"/>
<path d="M502.9 153.3h0M479.3 181.8h0M451.3 148.2h0M493.9 161.6h0M501.6 174.1h0M485.6 176.4h0M461.3 143.4h0M482.1 167.4h0M473.6 182.3h0M479.4 137.7h0M482.3 160.4h0M518.0 171.5h0M515.8 138.1h0M451.5 143.6h0M485.3 143.1h0M492.2 181.4h0M483.4 183.1h0M508.4 151.8h0M478.0 152.7h0M502.7 181.3h0M473.6 139.0h0M471.2 139.4h0M464.3 160.0h0M447.8 171.5h0M469.7 181.9h0M464.9 170.3h0M490.8 148.4h0M448.1 186.5h0M458.2 155.6h0M473.7 168.6h0M458.1 148.7h0M484.6 167.6h0M457.4 165.3h0M452.7 161.0h0M451.3 147.7h0M487.9 184.6h0M505.5 167.6h0M449.2 137.1h0M474.6 167.1h0M455.3 172.0h0M510.5 142.6h0M507.2 145.7h0M483.6 174.3h0" stroke="#1c1c24" stroke-width="1.20" stroke-linecap="round" stroke-opacity="1" fill="none"/>
<path d="M496.8 160.9h0M480.9 185.0h0M501.7 152.5h0M515.1 162.8h0M449.5 174.6h0M472.4 177.7h0M462.2 136.1h0M513.5 169.4h0M475.8 160.2h0M474.7 144.8h0M487.4 146.3h0M518.5 171.0h0M502.7 136.8h0M454.5 181.8h0M463.7 138.1h0M493.1 186.0h0M495.5 154.4h0M489.5 184.9h0M496.8 171.7h0M468.4 188.2h0M515.6 155.3h0M493.3 137.3h0M479.5 171.2h0M502.6 147.3h0" stroke="#30303c" stroke-width="1.20" stroke-linecap="round" stroke-opacity="1" fill="none"/>
<g clip-path="url(#c6)">
<clipPath id="c7"><path d="M446.8 136H518.8V167.5H446.8Z"/></clipPath>
<g clip-path="url(#c7)">
<rect x="446.8" y="136" width="71.99999999999994" height="31.5" fill="#101014"/>
<path d="M497.6 158.1h0M494.9 159.7h0M482.6 166.6h0M484.2 156.1h0M469.4 152.3h0M502.3 166.6h0M493.6 162.5h0M476.7 158.4h0M492.1 145.6h0M504.8 159.9h0M492.1 166.3h0M486.2 166.0h0M456.7 164.8h0M467.9 156.9h0M486.1 166.8h0M459.5 164.5h0M465.8 155.5h0M498.1 147.4h0M486.2 164.1h0M504.4 154.6h0M484.7 159.8h0M482.4 141.7h0M460.6 154.4h0M481.1 147.3h0M472.1 158.6h0M455.7 151.3h0M469.3 157.8h0M469.9 166.8h0M455.8 162.0h0M505.6 149.1h0M473.6 163.5h0M470.1 144.8h0M508.0 156.0h0M506.2 153.5h0M509.0 144.4h0M481.5 153.6h0M455.7 164.7h0M505.2 150.6h0M506.7 167.4h0M496.1 156.0h0M508.8 165.7h0M477.8 142.3h0M494.9 147.0h0M490.5 157.0h0" stroke="#3a3a4a" stroke-width="1.40" stroke-linecap="round" stroke-opacity="1" fill="none"/>
<path d="M466.2 151.5h0M486.3 158.6h0M468.3 155.6h0M490.0 167.0h0M463.1 165.7h0M471.3 162.0h0M483.6 163.2h0M510.2 165.2h0M502.8 142.1h0M475.1 141.5h0M481.5 157.3h0M497.4 160.3h0M477.4 164.5h0M495.1 161.0h0M499.5 164.8h0M499.4 160.0h0M457.1 150.3h0M482.4 165.3h0M507.7 162.4h0M507.6 156.1h0M460.7 159.5h0M464.6 160.0h0M510.6 154.8h0M497.5 166.0h0M481.6 154.5h0M477.8 160.8h0M494.1 149.3h0M500.8 166.2h0M485.0 164.0h0M468.4 166.2h0M494.0 152.4h0M478.3 156.0h0M509.9 151.7h0M462.9 161.5h0M501.0 162.8h0" stroke="#4a4a64" stroke-width="1.40" stroke-linecap="round" stroke-opacity="1" fill="none"/>
<path d="M503.4 161.4h0M456.0 146.6h0M466.3 167.1h0M464.7 163.9h0M469.3 166.5h0M494.0 164.2h0M469.6 165.0h0M475.5 162.9h0M471.3 164.7h0M482.7 157.0h0M471.9 153.8h0M507.7 164.6h0M462.5 161.4h0M468.2 160.2h0M459.9 156.7h0M488.1 156.9h0M458.3 144.0h0M478.3 166.4h0M498.4 166.9h0M499.9 161.4h0M503.7 164.2h0M475.3 167.2h0M495.7 149.5h0M485.8 165.1h0M508.7 152.3h0M466.3 159.8h0M470.6 141.7h0M455.8 153.2h0M497.2 167.0h0M510.2 166.6h0M470.5 155.4h0M499.9 158.5h0M465.7 154.0h0M465.1 151.6h0M465.7 161.3h0M476.8 159.2h0M473.3 165.5h0M499.4 165.6h0M488.4 141.0h0M475.0 157.3h0M487.6 148.1h0M466.6 147.6h0M464.3 164.2h0M506.7 148.9h0M503.0 160.0h0M505.7 163.6h0M466.2 165.5h0M458.7 164.9h0M500.8 148.9h0" stroke="#20202a" stroke-width="1.40" stroke-linecap="round" stroke-opacity="1" fill="none"/>
<path d="M459.9 158.6h0M466.8 153.3h0M491.9 155.5h0M488.8 157.3h0M468.5 146.3h0M488.8 149.7h0M500.1 159.4h0M456.3 144.9h0M482.4 142.5h0M503.0 141.6h0M471.5 152.1h0M499.5 157.7h0M489.9 149.1h0M468.1 165.4h0M479.4 155.9h0M510.2 160.5h0M481.3 161.2h0M473.2 142.6h0M485.2 164.4h0M499.9 158.1h0M490.8 166.4h0M492.7 161.1h0M466.3 160.0h0M457.2 165.3h0M475.2 167.3h0M464.9 159.3h0M486.0 163.5h0M506.6 160.2h0M458.4 156.5h0M497.3 156.5h0M484.1 159.3h0M482.6 163.8h0M483.0 152.0h0M492.9 162.3h0M479.9 150.1h0M488.5 161.8h0M463.2 164.2h0M473.4 149.4h0M459.6 165.4h0M459.1 162.9h0M463.6 151.0h0" stroke="#303040" stroke-width="1.40" stroke-linecap="round" stroke-opacity="1" fill="none"/>
<path d="M464.1 141.2h0M482.8 141.1h0M507.3 149.2h0M466.2 165.3h0M478.6 147.8h0M509.4 143.3h0M459.1 164.1h0M480.0 155.6h0M479.6 166.0h0M484.6 153.8h0M497.0 152.8h0M475.5 166.4h0M486.0 152.1h0M488.0 147.1h0M506.0 163.6h0M480.0 164.6h0M472.5 156.9h0M475.1 164.7h0M493.8 164.0h0M455.4 158.0h0M459.5 165.6h0M485.3 163.9h0M457.7 164.3h0M479.1 161.6h0M484.0 146.5h0M496.6 145.0h0M470.7 163.2h0M471.3 155.7h0M509.0 157.2h0M504.8 165.4h0M469.8 160.5h0M479.7 152.4h0M473.0 158.9h0M503.9 156.2h0" stroke="#2a2a34" stroke-width="1.40" stroke-linecap="round" stroke-opacity="1" fill="none"/>
</g>
<clipPath id="c8"><path d="M446.8 167.5H518.8V189H446.8Z"/></clipPath>
<g clip-path="url(#c8)">
<rect x="446.8" y="167.0" width="71.99999999999994" height="22.0" fill="#1a1a22"/>
<path d="M460.4 185.5h0M506.4 167.6h0M485.5 173.4h0M499.0 177.5h0M457.9 172.6h0M505.6 188.2h0M473.5 170.7h0M488.4 167.9h0M475.7 173.9h0M506.7 183.4h0M498.1 171.6h0M461.9 184.8h0M480.7 172.9h0M505.0 181.1h0M488.9 183.6h0M462.3 177.7h0M475.7 174.9h0M465.6 181.8h0M491.3 189.0h0M460.2 186.0h0M459.2 182.9h0M466.9 176.6h0M499.8 181.6h0M505.1 184.7h0M457.4 167.3h0M497.8 188.4h0M458.8 181.9h0M455.9 173.2h0M467.8 170.0h0M495.4 177.8h0M487.6 188.3h0M497.4 174.8h0M493.7 181.0h0M493.1 186.4h0M466.1 176.2h0M486.1 178.8h0M506.5 184.9h0M461.3 175.3h0M463.8 179.8h0M471.3 185.1h0M469.5 183.2h0M464.4 172.3h0M456.0 171.2h0M464.9 175.9h0M475.7 167.4h0M501.4 187.1h0M470.0 188.2h0M496.7 173.6h0M467.7 183.8h0M482.4 170.6h0M483.3 168.4h0M483.0 172.6h0M472.4 176.6h0M501.9 170.2h0M489.1 167.6h0M473.6 170.6h0M495.4 170.8h0M473.6 168.9h0M473.9 178.3h0M501.7 185.8h0M482.3 167.2h0M483.5 180.9h0M467.6 168.2h0M456.4 180.8h0M472.9 185.2h0M486.4 167.9h0M489.1 176.3h0M481.7 177.7h0M483.7 182.9h0M503.9 177.5h0M463.9 181.3h0M500.2 187.8h0M501.1 188.2h0M462.1 177.7h0M468.6 175.5h0M498.9 174.0h0M466.3 180.3h0M462.0 175.2h0M507.0 167.7h0M482.8 178.1h0M502.9 185.9h0M459.0 174.4h0M462.5 186.2h0M509.4 170.9h0M469.7 170.4h0M462.3 176.5h0M471.5 168.3h0M466.6 183.4h0M510.6 188.9h0M496.9 167.7h0M508.4 181.7h0M458.3 177.9h0M467.0 186.0h0M471.9 172.2h0M482.2 178.9h0M458.8 186.8h0M495.4 174.4h0M456.4 179.6h0M462.5 184.9h0M501.3 167.6h0M487.3 170.2h0M463.8 177.3h0M474.0 188.2h0M480.2 177.6h0M457.0 169.6h0M498.1 178.1h0" stroke="#30303c" stroke-width="1.30" stroke-linecap="round" stroke-opacity="1" fill="none"/>
<path d="M509.3 172.8h0M490.9 183.4h0M499.0 168.4h0M501.6 175.4h0M481.0 170.7h0M486.2 172.3h0M469.6 173.2h0M469.3 183.9h0M480.3 167.1h0M504.6 170.0h0M466.9 168.4h0M460.7 168.2h0M503.9 171.6h0M472.9 181.0h0M479.1 189.0h0M505.5 188.4h0M466.2 170.4h0M508.1 177.9h0M458.3 169.6h0M479.1 184.8h0M505.2 187.6h0M464.9 185.5h0M459.1 177.7h0M465.5 172.2h0M505.6 175.2h0M470.6 183.9h0M473.7 178.6h0M488.0 187.5h0M472.9 182.5h0M477.3 169.9h0M483.8 181.3h0M457.0 174.3h0M502.8 179.8h0M504.8 177.0h0M505.5 168.3h0M475.6 173.2h0M480.5 188.2h0M456.7 175.8h0M488.4 179.4h0M509.6 174.6h0M503.1 173.4h0M495.9 188.0h0M504.5 182.3h0M456.2 172.5h0M497.6 181.0h0M495.3 176.8h0M471.0 167.4h0M483.4 175.0h0M491.1 180.5h0M465.8 167.5h0M471.1 188.4h0M508.8 182.9h0M484.9 184.1h0M482.6 169.2h0M464.2 180.3h0M481.9 187.8h0M462.2 173.9h0M460.0 171.9h0M458.3 179.0h0M509.3 169.4h0M465.9 168.5h0M467.2 186.0h0M464.7 170.3h0M490.4 187.1h0M486.9 180.4h0M490.1 177.6h0M462.1 182.3h0M490.3 169.8h0M496.8 179.5h0M507.6 167.5h0M477.9 175.5h0M488.7 169.2h0M509.6 172.0h0M483.9 179.3h0M455.5 172.8h0M461.3 177.8h0M492.0 178.8h0M461.4 186.1h0M457.2 183.5h0M466.5 176.2h0M504.2 181.4h0M483.2 174.7h0M458.8 172.5h0M494.2 180.9h0M508.5 178.3h0M502.1 177.3h0M489.6 177.2h0M471.6 175.2h0M460.4 188.9h0M486.0 184.8h0M457.2 172.2h0M458.1 167.9h0M502.2 188.6h0M495.3 184.7h0M502.7 175.7h0M464.8 167.8h0" stroke="#6a6a8a" stroke-width="1.30" stroke-linecap="round" stroke-opacity="1" fill="none"/>
<path d="M495.3 184.1h0M461.9 179.3h0M466.6 183.5h0M507.8 188.8h0M476.2 168.6h0M506.9 187.8h0M505.4 187.0h0M508.0 169.5h0M475.6 182.2h0M469.5 170.8h0M474.4 187.1h0M485.5 174.5h0M488.8 173.6h0M465.7 169.0h0M502.7 176.1h0M497.9 167.8h0M502.9 168.2h0M482.4 168.4h0M492.1 168.2h0M494.5 180.3h0M500.7 185.8h0M476.4 170.3h0M500.8 171.7h0M478.6 179.4h0M479.8 171.6h0M485.3 170.5h0M507.8 188.9h0M489.0 167.3h0M475.4 171.4h0M495.5 172.5h0M478.7 182.5h0M455.5 179.3h0M465.2 169.7h0M487.5 175.1h0M467.0 181.1h0M478.9 186.2h0M466.3 170.0h0M459.5 174.8h0M491.2 172.3h0M476.3 182.4h0M471.5 179.6h0M463.8 178.1h0M483.8 176.5h0M463.6 183.4h0M457.2 188.7h0M497.0 167.8h0M493.3 174.1h0M469.0 184.1h0M486.8 178.0h0M468.5 188.6h0M484.7 179.5h0M494.6 184.6h0M457.4 172.0h0M457.6 173.5h0M471.3 181.8h0M489.6 170.0h0M495.3 176.7h0M483.5 179.6h0M474.0 175.7h0M458.7 176.4h0M467.2 187.7h0M503.7 181.4h0M472.3 174.7h0M462.9 182.7h0M502.4 174.8h0M492.2 186.2h0M505.6 184.4h0M488.9 186.1h0M479.3 182.7h0M463.9 186.4h0M501.0 174.3h0M471.3 182.0h0M470.5 186.9h0M501.6 180.5h0M465.0 175.7h0M477.4 179.5h0M489.5 174.3h0M508.6 185.6h0M504.0 173.9h0M508.0 171.5h0M494.0 188.7h0M465.4 169.8h0M494.6 179.9h0M465.5 168.3h0M479.5 172.9h0M499.7 169.2h0M505.8 184.0h0M494.2 187.7h0M475.8 168.7h0M464.5 186.9h0M498.7 177.7h0M510.3 176.9h0M464.9 187.7h0M501.6 187.5h0M470.5 184.0h0M497.9 182.5h0M461.1 177.8h0" stroke="#44445a" stroke-width="1.30" stroke-linecap="round" stroke-opacity="1" fill="none"/>
<path d="M487.0 179.9h0M507.4 177.0h0M469.7 184.3h0M494.6 181.1h0M479.1 183.9h0M459.6 187.5h0M462.2 170.2h0M487.2 186.4h0M509.0 182.6h0M475.1 170.2h0M470.3 173.1h0M464.9 184.6h0M481.7 172.9h0M485.2 181.6h0M457.0 167.3h0M470.3 182.6h0M487.1 168.1h0M487.6 186.0h0M468.3 181.3h0M510.5 169.9h0M460.1 184.3h0M501.4 170.5h0M487.3 167.3h0M486.6 169.3h0M492.8 185.4h0M466.8 173.9h0M472.8 178.2h0M487.9 184.2h0M485.5 167.9h0M494.8 171.6h0M479.0 187.7h0M502.3 174.4h0M488.4 183.6h0M503.1 167.3h0M487.3 187.8h0M480.8 172.3h0M485.6 183.1h0M509.7 183.6h0M506.8 178.2h0M462.2 179.0h0M500.2 170.5h0M474.2 174.8h0M493.0 187.3h0M467.5 171.7h0M472.5 184.9h0M510.2 180.7h0M505.8 168.7h0M457.9 184.1h0M475.7 179.4h0M485.0 170.2h0M508.3 178.9h0M473.8 169.0h0M461.6 173.7h0M493.1 171.6h0M502.5 181.0h0M491.6 174.7h0M484.9 180.2h0M498.6 182.0h0M473.8 177.0h0M504.7 177.9h0M484.3 184.1h0M487.6 180.6h0M487.0 172.9h0M502.3 183.9h0M492.2 172.1h0M467.9 184.6h0M474.7 174.3h0M493.3 186.4h0M489.6 173.7h0M462.1 167.8h0M478.0 176.0h0M462.8 188.6h0M475.4 184.2h0M477.5 171.9h0M473.0 183.6h0M489.2 176.0h0M461.1 176.5h0M494.1 171.5h0M490.9 167.1h0M500.6 174.9h0M504.0 180.5h0M465.7 183.5h0M475.9 188.6h0M503.1 170.3h0M501.5 187.7h0M497.8 187.7h0M482.0 188.5h0M505.2 169.8h0M460.8 167.5h0M480.5 175.6h0M501.4 182.2h0M476.2 168.5h0M469.5 170.0h0M501.7 181.2h0M463.4 188.4h0M485.2 175.2h0M485.1 186.9h0M493.0 177.3h0M457.2 167.0h0M501.6 177.2h0M505.0 170.1h0M499.8 177.1h0" stroke="#7e7e9c" stroke-width="1.30" stroke-linecap="round" stroke-opacity="1" fill="none"/>
<path d="M469.7 170.9h0M468.0 183.2h0M498.3 178.1h0M483.9 188.4h0M467.8 169.3h0M507.3 178.4h0M503.5 182.3h0M492.4 182.2h0M471.3 180.0h0M461.4 175.9h0M508.2 168.1h0M457.5 172.0h0M464.7 168.5h0M499.9 171.8h0M462.7 174.7h0M509.2 168.7h0M478.0 183.5h0M495.4 171.0h0M464.5 168.4h0M465.2 167.2h0M459.4 168.3h0M506.6 176.0h0M489.8 180.7h0M469.0 174.7h0M480.9 180.1h0M499.2 167.6h0M508.1 168.9h0M498.8 179.3h0M464.4 181.9h0M468.0 187.1h0M490.8 178.8h0M509.3 177.2h0M460.8 175.9h0M491.7 184.1h0M508.0 170.7h0M479.7 169.8h0M492.1 177.9h0M472.2 183.0h0M470.7 186.0h0M475.1 168.9h0M509.4 167.4h0M506.0 177.5h0M460.3 169.7h0M473.8 184.1h0M466.0 170.0h0M464.8 183.6h0M509.7 168.6h0M487.6 173.3h0M472.8 172.2h0M497.7 185.1h0M473.7 176.4h0M492.6 180.0h0M481.8 180.0h0M506.6 172.5h0M489.7 186.8h0M491.2 180.3h0M477.5 186.8h0M480.9 182.8h0M467.8 180.0h0M461.0 184.9h0M476.7 170.7h0M465.1 188.3h0M502.7 177.9h0M508.7 175.3h0M458.3 188.2h0M472.7 181.7h0M458.6 175.8h0M483.6 176.1h0M493.1 183.4h0M498.6 186.7h0M499.8 181.3h0M466.8 182.4h0M493.6 171.6h0M476.9 179.0h0M485.8 179.4h0M506.8 176.7h0M456.2 185.9h0M457.7 186.9h0M492.3 171.7h0M502.9 187.7h0M466.8 174.6h0M462.1 187.1h0M506.4 178.6h0M484.3 167.6h0M485.4 183.6h0M467.1 173.1h0M460.2 183.9h0M464.9 186.8h0M499.7 173.5h0M493.7 181.7h0M481.0 179.0h0M510.5 173.4h0M468.9 180.4h0M462.6 169.0h0M484.9 170.8h0M456.2 172.6h0M475.1 178.2h0M480.6 170.1h0M473.0 184.4h0M485.2 185.1h0M467.4 184.4h0M491.6 167.1h0M503.3 178.8h0M494.2 185.2h0M456.1 189.0h0M488.7 182.7h0M499.0 183.9h0M489.1 179.5h0M510.5 182.8h0M493.6 170.5h0M491.1 182.5h0M491.2 186.9h0M481.0 174.8h0M484.7 188.9h0M484.4 170.4h0M467.3 186.0h0M486.3 167.3h0M463.5 179.2h0M465.7 188.1h0M506.8 169.4h0M497.7 179.5h0" stroke="#5a5a78" stroke-width="1.30" stroke-linecap="round" stroke-opacity="1" fill="none"/>
<path d="M505.7 188.1h0M488.5 177.6h0M475.9 180.8h0M482.1 181.8h0M474.0 174.1h0M479.8 167.5h0M500.6 184.5h0M491.0 184.3h0M477.1 169.4h0M475.7 179.3h0M460.8 188.0h0M480.3 188.2h0M466.5 180.5h0M467.6 168.1h0M471.9 187.9h0M463.0 167.2h0M502.6 176.1h0M490.7 182.0h0M474.4 174.5h0M482.3 186.2h0M486.0 185.1h0M487.5 169.6h0M457.0 186.5h0M497.1 176.6h0M476.2 171.4h0M462.8 185.5h0M500.6 179.5h0M462.4 188.5h0M499.1 172.5h0M474.7 187.5h0M500.4 185.7h0M504.2 180.5h0M466.3 172.3h0M468.1 175.8h0M491.3 173.7h0M483.5 170.4h0M494.9 169.2h0M457.6 170.4h0M489.2 178.5h0M475.7 174.8h0M479.7 167.7h0M472.6 177.7h0M499.6 175.2h0M495.9 171.7h0M504.4 185.1h0M487.6 170.2h0M504.5 177.8h0M500.5 177.5h0M482.8 183.4h0M483.4 175.0h0M496.6 185.8h0M486.6 174.8h0M472.4 186.1h0M499.0 170.4h0M495.0 175.7h0M510.5 168.8h0M466.3 182.4h0M461.3 179.4h0M491.6 183.2h0M478.2 182.4h0M479.0 186.8h0M457.9 180.2h0M503.2 186.7h0M478.6 172.8h0M468.7 183.8h0M477.2 170.3h0M503.4 179.7h0M488.6 181.2h0M492.9 184.7h0M456.7 174.1h0M456.0 168.5h0M488.5 178.4h0M456.7 181.4h0M508.0 184.5h0M456.7 185.2h0M465.1 169.5h0M456.9 176.0h0M481.0 174.5h0M487.7 187.4h0M509.0 188.7h0M470.4 177.2h0M490.9 168.6h0M492.0 185.8h0M478.1 187.4h0M481.9 185.9h0M466.1 178.3h0M507.8 173.2h0M496.7 185.1h0M482.9 184.7h0M508.8 188.1h0M489.2 167.8h0M474.0 184.5h0M509.6 181.1h0M486.5 186.1h0M456.9 175.8h0M500.5 183.6h0M497.5 188.4h0M481.9 173.4h0M506.3 180.7h0" stroke="#9090aa" stroke-width="1.30" stroke-linecap="round" stroke-opacity="1" fill="none"/>
<path d="M490.6 169.8h0M505.5 186.7h0M509.8 182.8h0M466.6 168.3h0M492.5 183.3h0M493.8 187.2h0M490.1 178.3h0M458.5 178.0h0M466.9 173.9h0M504.5 179.9h0M466.0 187.0h0M509.5 180.4h0M502.6 168.7h0M495.7 188.5h0M509.0 168.8h0M463.8 179.9h0M504.3 171.9h0M479.4 177.6h0M474.7 169.4h0M457.1 186.8h0M461.7 173.9h0M459.9 186.8h0M495.9 185.9h0M485.0 167.0h0M509.5 185.1h0M465.4 175.6h0M478.7 175.1h0M474.2 177.2h0M508.8 171.8h0M469.7 177.1h0M509.1 174.0h0M473.6 184.5h0M484.2 187.8h0M458.5 176.7h0M491.6 180.9h0M495.4 183.5h0M456.2 170.7h0M463.0 179.1h0M489.9 176.6h0M474.2 178.2h0M493.5 186.0h0M470.7 176.5h0M501.0 176.7h0M476.8 173.3h0M473.4 176.5h0M508.4 173.1h0M459.1 187.8h0M479.3 168.9h0M500.5 181.5h0M492.2 187.8h0M480.1 177.0h0M507.7 184.7h0M465.3 183.0h0M457.9 187.5h0M463.0 168.6h0M475.9 184.6h0M463.0 179.3h0M483.1 172.6h0M500.9 186.3h0M461.1 180.1h0M477.8 186.7h0M458.5 173.2h0M508.3 175.8h0M496.8 176.6h0M467.1 173.8h0M473.1 178.2h0M459.9 188.1h0M488.8 178.9h0M462.3 177.0h0M491.6 176.4h0M503.1 184.2h0M479.2 183.4h0M490.5 167.2h0M490.0 178.0h0M491.2 180.2h0M496.2 182.3h0M494.2 167.6h0M490.4 172.0h0M472.3 169.3h0M498.2 172.6h0M468.4 173.6h0M507.5 188.5h0M510.3 176.7h0M482.8 187.6h0M494.8 168.1h0M479.7 168.8h0M484.5 186.6h0M499.8 176.2h0M466.4 188.3h0M501.1 175.1h0M488.3 181.4h0M468.8 185.9h0M484.7 178.3h0M475.9 184.8h0M460.4 168.2h0M456.7 182.2h0M462.1 185.4h0M473.2 177.5h0M480.1 182.2h0" stroke="#22222c" stroke-width="1.30" stroke-linecap="round" stroke-opacity="1" fill="none"/>
</g>
</g>
</g></g>
<ellipse cx="483.0" cy="164.4" rx="27.6" ry="23.5" fill="none" stroke="#cfcf3c" stroke-width="1.75" stroke-dasharray="5.3 3.7" stroke-linecap="butt"/>
<path d="M457.9 167.5L508.6 167.3" fill="none" stroke="#cfcf3c" stroke-width="1.75" stroke-dasharray="5.3 3.7" stroke-linecap="butt"/>
<clipPath id="c9"><path d="M372 210.6H443.8V263.9H372Z"/></clipPath>
<clipPath id="c10"><path d="M378.6 241.4C378.9 240.2 378.8 239.0 379.4 237.0C380.0 235.0 381.1 231.9 382.3 229.6C383.5 227.3 385.0 224.8 386.7 223.0C388.4 221.2 390.2 219.6 392.6 218.6C395.1 217.6 398.0 217.0 401.4 217.1C404.8 217.2 409.8 218.1 413.2 219.4C416.6 220.8 419.1 223.2 422.0 225.2C424.9 227.1 428.2 229.0 430.8 231.1C433.4 233.2 435.8 235.7 437.4 237.7C439.0 239.7 440.5 241.2 440.4 242.9C440.3 244.6 438.8 246.7 436.7 248.0C434.6 249.3 430.8 251.1 427.9 251.0C424.9 250.9 421.9 248.1 419.0 247.3C416.1 246.5 412.8 246.1 410.2 246.1C407.6 246.1 405.3 246.5 403.6 247.3C401.9 248.1 401.4 250.0 400.0 251.0C398.6 252.0 397.2 252.7 395.5 253.2C393.8 253.7 391.6 254.0 389.6 253.9C387.7 253.8 385.5 253.4 383.8 252.4C382.1 251.4 380.4 249.3 379.4 248.0C378.4 246.7 378.0 245.6 377.9 244.5C377.8 243.4 378.4 242.7 378.6 241.4Z"/></clipPath>
<g clip-path="url(#c9)"><g filter="url(#mb)">
<rect x="370" y="208.6" width="75.80000000000001" height="57.29999999999998" fill="#0b0b1e"/>
<path d="M400.6 253.2h0M409.4 217.6h0M419.8 250.3h0M430.7 253.9h0M387.8 249.9h0M434.4 214.4h0M373.7 253.8h0M374.7 229.3h0M378.3 234.7h0M412.8 241.1h0M382.4 241.4h0M415.0 222.3h0M396.1 219.5h0M396.5 244.6h0M438.8 237.4h0M427.1 215.7h0M428.6 217.3h0M425.2 250.4h0M423.1 227.0h0M403.6 237.6h0M382.4 216.5h0M416.0 226.0h0M428.6 226.8h0M395.3 260.1h0M437.5 260.9h0M384.7 216.1h0M404.7 261.9h0M410.5 246.1h0M436.7 213.3h0M406.5 235.4h0M414.0 215.3h0M441.7 247.5h0M430.6 212.3h0M425.2 246.6h0M384.0 256.9h0M433.1 263.7h0M388.2 245.8h0M442.1 251.9h0M426.3 228.8h0M417.5 246.7h0M387.3 241.7h0M411.1 235.1h0M437.8 223.3h0M402.5 229.7h0M404.2 233.9h0M381.5 227.9h0M440.8 248.4h0M434.0 214.2h0M415.0 245.6h0M410.1 254.8h0M431.8 252.0h0M379.2 244.7h0M416.3 233.3h0M386.0 263.8h0M409.7 254.0h0M404.6 251.0h0M396.9 216.4h0M429.2 244.4h0M428.0 227.6h0M435.8 227.7h0M408.2 253.0h0M400.2 254.2h0M408.1 225.8h0M441.7 241.7h0M415.9 228.5h0M401.4 253.0h0" stroke="#1a1a48" stroke-width="1.60" stroke-linecap="round" stroke-opacity="1" fill="none"/>
<path d="M410.9 245.3h0M443.3 248.5h0M432.6 227.1h0M426.9 240.6h0M409.9 232.9h0M392.4 224.7h0M416.5 225.6h0M401.4 228.4h0M383.8 217.4h0M442.9 231.1h0M410.0 216.2h0M411.5 259.0h0M401.7 261.4h0M435.1 231.9h0M434.0 227.3h0M406.4 236.0h0M406.3 220.6h0M413.5 226.0h0M412.7 263.3h0M437.3 257.7h0M431.4 245.5h0M432.1 240.1h0M407.2 242.4h0M419.1 259.3h0M410.4 239.8h0M434.8 230.2h0M442.9 227.6h0M386.1 256.8h0M392.8 224.2h0M423.0 231.7h0M425.2 232.1h0M416.7 246.6h0M373.2 240.1h0M439.9 245.6h0M437.9 232.9h0M375.7 225.2h0M375.3 258.4h0M373.7 230.5h0M391.4 241.9h0M382.8 252.5h0M386.7 212.1h0M429.3 254.5h0M378.6 221.0h0M392.5 221.6h0M382.2 253.8h0M419.8 233.7h0M382.9 256.2h0M435.9 235.2h0M430.8 234.0h0M434.5 237.6h0M392.1 213.8h0M390.8 260.6h0M433.8 262.7h0M394.7 230.1h0M429.3 218.3h0M437.9 213.8h0M382.1 214.8h0M435.9 222.0h0M407.2 244.7h0M372.5 244.8h0M410.2 210.9h0M433.3 256.1h0M419.1 215.5h0M438.5 263.7h0M413.9 253.2h0M419.1 242.7h0M421.0 257.0h0M411.5 220.0h0M378.2 214.8h0M441.0 263.7h0M397.5 238.5h0M434.5 234.2h0M428.5 254.9h0M377.7 211.0h0M392.7 237.3h0M407.0 251.6h0M381.8 256.9h0M423.7 230.3h0" stroke="#08081a" stroke-width="1.60" stroke-linecap="round" stroke-opacity="1" fill="none"/>
<path d="M416.6 216.9h0M438.2 211.4h0M392.4 262.0h0M425.9 262.3h0M421.1 256.0h0M392.4 233.6h0M441.6 230.8h0M376.9 252.2h0M431.3 227.8h0M376.2 253.6h0M412.5 239.2h0M425.8 229.8h0M428.1 225.4h0M408.2 212.5h0M428.5 229.6h0M381.8 241.2h0M433.8 213.7h0M390.6 215.5h0M433.3 261.8h0M443.7 262.4h0M402.5 219.7h0M377.1 251.2h0M399.1 213.9h0M413.3 250.7h0M408.2 221.7h0M407.9 242.7h0M438.0 224.0h0M425.1 258.6h0M413.9 253.9h0M400.2 219.1h0M417.0 258.6h0M405.7 211.4h0M387.4 237.0h0M416.1 247.2h0M435.9 230.2h0M436.0 217.8h0M408.4 257.1h0M421.6 211.9h0M389.3 229.4h0M393.3 232.9h0M404.6 259.9h0M431.2 254.7h0M394.4 237.2h0M413.2 224.9h0M385.4 262.4h0M416.4 215.6h0M429.8 211.4h0M440.3 221.4h0M386.9 215.3h0M441.4 237.6h0M387.9 260.8h0M372.4 243.9h0M428.8 254.5h0M410.3 228.6h0M429.6 259.8h0M389.7 223.7h0M388.3 241.0h0M432.2 211.9h0M409.6 220.3h0M411.2 258.4h0M434.8 256.4h0M441.0 237.8h0M391.3 260.2h0M417.2 252.4h0M420.2 252.4h0M384.3 212.8h0M439.5 231.0h0M430.3 222.8h0M431.6 215.9h0M398.4 218.8h0M387.5 262.7h0M397.2 223.9h0M430.3 225.4h0M384.3 246.1h0M393.1 210.9h0M403.1 227.6h0" stroke="#14143a" stroke-width="1.60" stroke-linecap="round" stroke-opacity="1" fill="none"/>
<path d="M442.9 218.6h0M421.2 217.9h0M427.1 221.3h0M434.2 213.9h0M431.8 220.5h0M430.0 213.2h0M435.2 220.5h0M432.0 211.5h0M413.0 213.6h0M437.0 218.2h0M422.8 216.7h0M434.6 217.2h0M435.9 224.7h0M415.7 224.7h0M424.5 211.6h0M426.6 215.5h0M418.5 223.7h0M421.1 214.8h0M419.8 219.5h0M426.6 215.9h0M424.7 212.0h0M435.0 225.5h0M428.3 217.7h0M436.2 213.9h0" stroke="#141e3a" stroke-width="1.40" stroke-linecap="round" stroke-opacity="1" fill="none"/>
<path d="M425.0 225.0h0M422.9 225.5h0M430.7 218.0h0M416.4 214.0h0M439.4 216.4h0M433.7 212.6h0M415.9 222.8h0M437.8 218.8h0M414.1 216.3h0M421.6 225.8h0M441.9 218.2h0M417.6 220.5h0M432.2 223.3h0" stroke="#22386a" stroke-width="1.40" stroke-linecap="round" stroke-opacity="1" fill="none"/>
<path d="M424.1 213.2h0M442.5 216.0h0M421.3 221.3h0M439.3 218.8h0M443.1 210.9h0M413.3 225.5h0M426.6 223.4h0M441.3 215.7h0M419.4 216.0h0M434.0 221.0h0M419.5 216.9h0M416.3 215.1h0M440.3 223.5h0M424.8 222.6h0M420.1 210.1h0M414.8 220.6h0M439.2 219.7h0M434.7 222.6h0M442.2 220.0h0M433.0 212.9h0M430.6 219.1h0M422.7 221.4h0M415.3 221.4h0M420.6 225.7h0" stroke="#3a5a8a" stroke-width="1.40" stroke-linecap="round" stroke-opacity="1" fill="none"/>
<path d="M433.1 218.7h0M424.1 220.5h0M414.8 222.2h0M429.5 222.2h0M428.6 221.5h0M442.5 221.2h0M436.8 214.2h0M424.7 217.6h0M420.8 215.0h0M437.0 215.8h0M439.9 225.3h0M441.2 217.9h0M428.7 224.4h0M422.8 218.7h0M415.8 211.7h0M438.3 213.5h0M414.0 221.1h0M437.9 221.1h0M432.8 223.9h0M416.1 224.6h0M432.0 218.7h0M423.1 219.4h0M438.2 217.7h0M433.6 213.0h0M422.8 220.9h0M426.3 225.7h0M428.9 219.4h0M416.4 221.2h0" stroke="#2a4a7a" stroke-width="1.40" stroke-linecap="round" stroke-opacity="1" fill="none"/>
<path d="M433.7 218.9h0M425.3 222.3h0M421.6 215.2h0M421.1 219.1h0M422.0 220.0h0M441.7 212.9h0M435.5 217.7h0M429.7 216.9h0M416.4 215.0h0M440.3 222.1h0M442.0 225.3h0M438.7 211.1h0M415.1 213.7h0M433.7 210.7h0M437.3 222.6h0M433.0 214.7h0M438.9 217.8h0M418.3 215.0h0M431.1 218.8h0M441.5 215.1h0M420.2 221.1h0M434.7 213.0h0M435.3 223.6h0M421.2 213.5h0M432.1 217.4h0M435.7 211.0h0M443.4 221.5h0M437.6 224.8h0M420.3 224.1h0M442.7 217.1h0M413.8 211.5h0" stroke="#1a2e58" stroke-width="1.40" stroke-linecap="round" stroke-opacity="1" fill="none"/>
<g clip-path="url(#c10)">
<clipPath id="c11"><path d="M372 210.6H443.8V235.6H372Z"/></clipPath>
<g clip-path="url(#c11)">
<rect x="372" y="210.6" width="71.80000000000001" height="25.0" fill="#1a1848"/>
<path d="M378.1 234.9h0M391.1 221.3h0M440.4 233.0h0M429.1 224.5h0M438.5 227.8h0M397.4 217.6h0M388.8 228.9h0M380.2 224.5h0M381.6 228.8h0M438.5 229.0h0M431.1 221.4h0M426.3 229.8h0M425.4 216.2h0M423.6 221.6h0M380.9 233.3h0M389.8 219.3h0M416.4 225.4h0M410.9 229.8h0M388.3 234.3h0M421.5 228.0h0M380.9 220.2h0M392.2 229.1h0M438.6 227.3h0M399.3 214.8h0M389.2 232.7h0M409.7 224.3h0M383.7 218.3h0M386.7 218.6h0M435.8 230.8h0M426.6 231.7h0M400.6 228.6h0M391.0 223.2h0M378.0 235.3h0M430.1 223.2h0M401.7 229.0h0M422.0 234.6h0M423.1 235.2h0M422.0 221.2h0M439.3 225.7h0M405.7 216.8h0M378.9 226.0h0M406.5 223.7h0M422.0 229.1h0M406.8 228.3h0M416.6 214.8h0M434.4 233.3h0M419.7 214.6h0M440.7 233.5h0M414.6 233.7h0M441.8 221.4h0M440.0 217.5h0M440.9 214.9h0M383.7 225.7h0M390.1 218.8h0M426.1 220.0h0M432.6 215.2h0M379.8 222.3h0" stroke="#10103a" stroke-width="1.60" stroke-linecap="round" stroke-opacity="1" fill="none"/>
<path d="M382.1 226.2h0M386.4 224.2h0M430.6 219.5h0M395.1 214.1h0M410.6 233.9h0M409.9 214.1h0M420.6 214.9h0M386.2 218.0h0M404.6 218.4h0M425.4 233.3h0M425.5 224.0h0M385.4 230.5h0M417.3 220.8h0M408.3 227.9h0M393.8 227.5h0M440.6 234.2h0M411.2 227.7h0M388.0 228.8h0M387.2 224.4h0M381.7 218.4h0M403.7 232.7h0M376.5 231.4h0M433.6 219.7h0M410.0 218.6h0M403.9 225.0h0M418.1 217.4h0M398.5 225.2h0M428.2 230.5h0M398.6 228.3h0M422.6 228.5h0M422.4 218.0h0M431.8 231.5h0M387.1 231.7h0M418.6 231.3h0M389.4 215.4h0M401.1 228.9h0M428.3 221.7h0M438.1 228.8h0M424.4 233.1h0M392.5 223.6h0M440.0 226.0h0M436.0 234.7h0M396.2 219.8h0M429.8 214.2h0M424.4 223.5h0M409.7 218.9h0M397.7 229.4h0M388.4 227.7h0M387.6 229.7h0M399.7 225.2h0M408.7 231.1h0M380.6 230.6h0M394.8 217.4h0M414.7 230.5h0M379.4 225.0h0M405.0 223.6h0M411.1 233.7h0M385.4 233.2h0" stroke="#221e50" stroke-width="1.60" stroke-linecap="round" stroke-opacity="1" fill="none"/>
<path d="M393.1 225.2h0M384.0 222.4h0M407.7 228.2h0M377.7 231.1h0M393.9 214.6h0M384.1 228.4h0M424.0 229.4h0M377.3 235.4h0M436.9 221.1h0M405.7 231.7h0M396.5 220.5h0M437.9 216.6h0M384.4 222.8h0M396.3 223.1h0M419.2 223.1h0M419.1 214.8h0M424.2 232.4h0M417.9 221.1h0M405.7 233.5h0M435.2 214.4h0M422.3 214.1h0M413.1 216.5h0M428.5 223.1h0M441.5 219.2h0M426.3 220.8h0M394.6 224.5h0M418.4 227.2h0M396.2 219.5h0M390.5 231.2h0M407.3 214.5h0M427.5 234.6h0M409.6 227.2h0M379.4 214.9h0M420.0 220.9h0M381.0 221.0h0M409.5 219.6h0M429.0 223.6h0M378.4 217.8h0M414.3 229.5h0M428.6 216.5h0M393.9 232.7h0M421.2 227.7h0M432.2 234.4h0M407.2 216.5h0M387.0 229.0h0M433.9 215.0h0M402.3 220.2h0M426.4 220.8h0M398.6 234.4h0M396.8 235.0h0M430.9 215.8h0M413.0 232.4h0M414.7 225.3h0M380.9 215.9h0M381.2 214.8h0M385.1 235.4h0M437.2 218.9h0M417.5 217.2h0M407.5 221.8h0M402.8 215.3h0M432.8 233.7h0M381.1 216.1h0" stroke="#1a3050" stroke-width="1.60" stroke-linecap="round" stroke-opacity="1" fill="none"/>
<path d="M426.9 214.7h0M433.9 230.3h0M441.3 227.7h0M419.1 214.6h0M441.4 224.0h0M393.6 226.7h0M397.1 222.5h0M428.5 218.2h0M391.7 229.2h0M423.6 215.5h0M384.1 217.1h0M429.6 218.0h0M399.8 221.6h0M434.2 231.2h0M388.0 215.1h0M409.1 226.8h0M434.7 226.5h0M423.5 231.7h0M427.7 221.1h0M403.5 234.7h0M432.3 216.4h0M420.9 224.1h0M421.4 214.9h0M419.6 229.7h0M408.7 220.3h0M430.7 218.5h0M391.8 226.4h0M400.7 228.2h0M406.3 216.2h0M434.2 231.1h0M399.8 215.1h0M384.9 222.6h0M440.9 224.7h0M436.6 221.7h0M404.6 224.2h0M391.3 224.4h0M426.2 232.2h0M404.0 219.2h0M388.1 216.3h0M391.2 216.2h0M385.9 233.0h0M391.2 220.2h0M420.4 222.8h0M394.6 230.5h0M422.2 228.9h0M393.7 227.6h0M403.6 220.2h0M414.8 215.1h0M419.5 220.5h0M418.8 224.6h0M387.1 224.4h0M432.4 215.8h0M379.4 235.2h0M431.8 222.0h0M390.6 225.2h0M431.8 227.9h0M415.1 234.3h0M377.7 225.2h0M423.4 220.3h0M394.0 214.4h0M441.3 229.8h0M400.5 218.5h0M423.8 227.6h0M396.1 229.2h0" stroke="#3a3a5a" stroke-width="1.60" stroke-linecap="round" stroke-opacity="1" fill="none"/>
<path d="M420.5 220.1h0M389.7 220.3h0M393.8 226.0h0M380.8 223.3h0M409.1 232.8h0M427.4 233.7h0M413.6 223.1h0M432.9 226.4h0M435.2 215.9h0M389.5 220.2h0M377.2 214.2h0M425.7 219.4h0M395.6 225.2h0M419.4 228.2h0M379.6 221.9h0M397.7 235.1h0M418.0 228.1h0M396.5 232.5h0M410.6 229.7h0M407.1 215.3h0M423.9 232.0h0M419.4 233.9h0M393.4 225.8h0M406.6 227.1h0M423.3 218.7h0M426.7 225.5h0M430.3 218.8h0M434.3 234.6h0M438.0 218.2h0M437.1 227.8h0M424.9 230.2h0M378.5 229.0h0M420.8 223.5h0M408.0 216.1h0M437.6 217.9h0M385.8 227.6h0M424.3 226.4h0M436.2 228.2h0M387.4 229.1h0M407.6 214.8h0M419.2 227.1h0M401.4 214.5h0M417.9 234.2h0M409.6 217.2h0M424.4 225.1h0M410.2 225.2h0M386.0 226.8h0M429.0 219.3h0M379.0 223.6h0M420.6 222.6h0M391.6 225.3h0M419.9 223.9h0M433.4 217.0h0M377.9 224.5h0M388.9 227.2h0" stroke="#24245e" stroke-width="1.60" stroke-linecap="round" stroke-opacity="1" fill="none"/>
<path d="M422.3 231.9h0M439.3 235.4h0M431.3 221.6h0M431.5 235.5h0M437.5 234.8h0M412.7 224.5h0M431.6 227.9h0M392.9 221.2h0M394.8 217.4h0M377.7 214.4h0M426.9 231.9h0M434.3 233.5h0M420.0 219.4h0M415.0 228.5h0M399.5 222.3h0M434.0 234.3h0M384.7 225.0h0M428.3 234.6h0M432.6 215.1h0M431.0 214.3h0M431.3 230.0h0M435.6 230.1h0M414.9 226.0h0M420.9 228.4h0M431.8 231.3h0M407.5 234.9h0M405.9 226.2h0M383.5 233.3h0M429.4 217.8h0M430.1 227.8h0M424.0 229.1h0M376.0 225.2h0M393.0 222.1h0M422.8 219.1h0M427.5 218.6h0M422.1 223.1h0M421.2 227.1h0M432.8 227.3h0M441.7 218.4h0M401.6 228.0h0M427.0 218.4h0M429.3 221.4h0M389.5 217.2h0M436.5 232.2h0M431.3 233.5h0M397.9 232.3h0M410.9 218.3h0M385.6 216.8h0M383.0 216.3h0M384.6 229.1h0M411.8 222.0h0M399.4 229.5h0M377.2 222.3h0M414.7 233.2h0M409.4 231.7h0M402.1 226.1h0M388.1 234.7h0M438.1 221.0h0M387.5 215.1h0M424.4 231.2h0M409.1 217.3h0M435.9 233.7h0M384.6 219.9h0M401.6 230.1h0M415.5 225.0h0M389.6 215.1h0M404.8 214.8h0M435.5 222.7h0" stroke="#302468" stroke-width="1.60" stroke-linecap="round" stroke-opacity="1" fill="none"/>
<path d="M433.8 214.5h0M439.1 222.1h0M423.2 215.4h0M390.0 223.7h0M385.8 233.9h0M378.8 235.4h0M432.7 217.8h0M423.4 220.0h0M383.5 216.4h0M390.2 216.1h0M432.1 223.6h0M416.5 218.1h0M437.6 217.0h0M436.9 218.9h0M414.0 223.9h0M419.6 218.7h0M393.1 233.5h0M435.0 229.9h0M426.8 234.5h0M400.6 225.5h0M436.5 234.0h0M393.6 215.8h0M376.7 219.2h0M405.1 225.6h0M390.7 235.3h0M396.7 231.5h0M430.0 228.8h0M387.2 216.3h0M402.5 216.1h0M387.9 227.2h0M376.6 221.4h0M387.4 232.0h0M414.2 232.4h0M434.3 230.7h0M388.0 233.0h0M380.5 224.9h0M400.3 216.0h0M395.6 232.2h0M392.6 217.7h0M410.1 218.9h0M386.2 220.4h0M431.0 228.3h0M397.9 227.4h0M388.1 231.3h0M420.1 220.1h0M414.5 225.5h0M408.7 227.3h0M378.9 221.6h0M402.3 234.8h0M381.2 233.4h0M439.0 234.2h0M391.7 227.3h0M384.4 221.4h0M392.6 224.7h0M440.4 222.6h0M377.8 216.6h0" stroke="#2a2a6a" stroke-width="1.60" stroke-linecap="round" stroke-opacity="1" fill="none"/>
<path d="M399.6 222.1h0M401.6 218.7h0M403.5 218.2h0M400.1 217.3h0M402.9 221.5h0" stroke="#2a7a7a" stroke-width="1.60" stroke-linecap="round" stroke-opacity="1" fill="none"/>
<path d="M398.7 226.5h0M403.5 221.5h0M409.4 220.7h0M405.2 223.2h0M399.9 227.8h0" stroke="#1a5a5a" stroke-width="1.60" stroke-linecap="round" stroke-opacity="1" fill="none"/>
<path d="M401.7 224.0h0M409.8 227.5h0M401.5 228.2h0M410.0 226.6h0M402.2 219.5h0M401.1 227.5h0M407.7 224.9h0M398.0 220.5h0M402.8 221.5h0M408.6 226.7h0M401.3 218.3h0M400.7 219.6h0" stroke="#1e6a6a" stroke-width="1.60" stroke-linecap="round" stroke-opacity="1" fill="none"/>
</g>
<clipPath id="c12"><path d="M372 235.6H443.8V263.9H372Z"/></clipPath>
<g clip-path="url(#c12)">
<rect x="372" y="235.6" width="71.80000000000001" height="28.299999999999983" fill="#36124a"/>
<path d="M388.1 247.2h0M440.3 245.7h0M411.7 238.5h0M405.2 256.0h0M420.3 249.3h0M402.5 252.5h0M431.5 239.2h0M421.4 255.6h0M432.5 254.3h0M407.9 253.5h0M388.9 252.6h0M405.5 237.5h0M420.3 249.2h0M432.2 254.4h0M427.4 248.4h0M376.4 250.1h0M399.4 243.5h0M427.1 253.7h0M394.3 242.4h0M399.1 241.6h0M381.6 239.2h0M406.3 248.5h0M385.2 249.3h0M420.5 252.0h0M423.4 241.3h0M432.1 237.9h0M411.9 254.3h0M422.2 243.2h0M426.9 241.2h0M436.7 254.9h0M430.3 244.5h0M418.8 254.5h0M419.8 254.8h0M408.5 241.3h0M437.9 247.2h0M406.8 244.2h0M436.8 250.8h0M385.1 239.5h0M440.3 246.8h0M385.5 254.2h0M411.6 251.3h0M397.2 249.7h0M426.4 240.7h0M429.0 244.5h0M413.6 241.7h0M411.7 246.8h0M430.4 249.7h0M411.4 248.7h0M380.9 253.9h0M422.9 250.3h0M435.4 242.5h0M433.6 249.1h0M408.6 238.5h0M430.9 241.6h0M424.5 248.8h0M415.8 236.1h0M386.7 252.4h0M422.4 240.2h0M407.4 241.7h0M406.2 251.8h0M432.7 255.4h0M405.7 249.1h0M424.3 254.5h0M425.9 253.9h0M408.7 249.0h0M401.5 236.1h0M390.4 254.6h0M395.4 245.1h0M410.3 255.6h0M379.1 250.9h0M385.5 241.9h0M402.3 237.8h0M418.5 236.8h0M390.1 251.0h0M440.5 237.8h0M433.1 237.5h0M395.6 244.0h0M418.5 244.2h0M406.6 247.8h0M406.0 251.6h0M426.8 248.5h0M402.1 238.0h0M376.5 250.4h0M419.5 248.3h0M409.6 248.2h0M378.6 246.5h0M422.2 236.9h0M441.1 248.6h0" stroke="#200a30" stroke-width="1.60" stroke-linecap="round" stroke-opacity="1" fill="none"/>
<path d="M410.3 250.2h0M413.6 240.4h0M418.2 242.2h0M394.5 255.3h0M432.0 249.9h0M399.1 255.4h0M440.4 251.0h0M400.0 246.8h0M438.9 246.2h0M423.0 248.0h0M407.2 255.2h0M434.6 239.5h0M384.2 240.9h0M399.6 255.0h0M429.3 240.4h0M426.1 241.8h0M379.0 243.6h0M403.6 245.2h0M394.4 254.0h0M441.7 244.5h0M435.8 251.6h0M389.1 251.1h0M426.0 248.1h0M435.7 251.9h0M408.3 241.0h0M400.6 250.5h0M417.1 254.4h0M407.4 246.5h0M406.0 249.6h0M404.2 240.0h0M409.2 247.8h0M388.4 248.2h0M415.3 243.9h0M384.4 252.7h0M419.4 249.0h0M401.5 249.7h0M378.2 246.4h0M428.7 241.3h0M388.4 241.2h0M418.5 240.6h0M403.5 242.5h0M382.7 251.2h0M393.6 239.4h0M413.4 237.6h0M387.1 253.8h0M394.3 248.5h0M381.5 255.1h0M418.4 252.5h0M408.7 246.5h0M378.1 249.1h0M420.0 244.9h0M438.5 247.9h0M382.4 254.3h0M432.1 251.6h0M406.0 246.9h0M434.0 247.7h0M404.8 239.1h0M431.0 238.1h0M376.4 249.3h0M398.7 239.0h0M401.7 251.8h0M412.1 253.5h0M423.9 237.0h0M401.5 252.8h0M435.1 248.1h0M414.1 253.7h0M414.1 245.2h0M389.5 253.5h0M441.2 237.1h0M413.3 240.3h0M401.7 253.3h0M424.9 246.6h0M387.5 241.4h0M387.4 249.4h0M439.9 241.6h0M381.2 254.4h0M383.1 251.8h0M399.6 246.3h0M391.1 247.3h0M389.0 244.5h0M429.4 244.0h0M428.8 255.3h0M419.4 252.6h0" stroke="#6c206a" stroke-width="1.60" stroke-linecap="round" stroke-opacity="1" fill="none"/>
<path d="M388.2 247.2h0M439.0 253.6h0M421.2 236.9h0M389.4 248.5h0M410.5 239.9h0M415.2 238.9h0M401.9 237.1h0M433.2 243.3h0M422.7 240.5h0M403.5 241.8h0M403.0 238.0h0M400.4 244.4h0M430.1 250.5h0M425.5 236.1h0M383.1 252.5h0M412.7 245.0h0M416.3 237.9h0M381.7 252.9h0M400.6 247.9h0M426.5 253.7h0M411.2 248.4h0M392.6 240.8h0M424.2 242.9h0M428.7 252.7h0M404.7 246.1h0M387.5 242.5h0M423.0 251.4h0M386.5 244.9h0M414.9 248.5h0M388.6 235.9h0M391.6 247.0h0M405.8 249.1h0M389.8 242.0h0M429.4 243.5h0M386.7 247.4h0M389.7 244.9h0M406.8 251.9h0M402.1 255.6h0M382.2 241.0h0M387.7 235.8h0M392.4 250.8h0M421.0 244.5h0M423.2 245.4h0M408.4 238.3h0M381.5 255.9h0M380.8 253.5h0M385.0 253.3h0M413.9 237.8h0M384.1 251.1h0M426.5 243.2h0M390.4 245.2h0M431.8 236.4h0M433.6 240.3h0M425.5 236.5h0M400.7 242.9h0M439.3 241.2h0M390.5 252.7h0M425.9 236.7h0M431.4 243.0h0M381.5 235.9h0M433.7 249.8h0M407.6 237.7h0M433.6 248.9h0M438.3 237.0h0M410.8 244.1h0M402.4 254.7h0M384.6 243.5h0" stroke="#42207a" stroke-width="1.60" stroke-linecap="round" stroke-opacity="1" fill="none"/>
<path d="M422.3 252.4h0M432.9 236.3h0M383.8 247.2h0M436.8 249.8h0M426.6 244.8h0M384.3 236.2h0M436.7 242.2h0M382.1 248.5h0M396.5 251.8h0M398.3 244.1h0M388.3 250.6h0M431.2 243.2h0M394.6 250.4h0M423.3 255.0h0M391.3 240.2h0M432.9 254.6h0M438.7 237.8h0M403.6 248.5h0M400.9 248.0h0M432.6 255.0h0M417.8 249.6h0M441.3 244.6h0M408.7 239.9h0M423.7 239.5h0M439.1 249.6h0M429.9 238.3h0M412.7 248.3h0M408.2 239.8h0M396.3 255.8h0M390.6 248.0h0M435.3 242.9h0M411.2 250.2h0M434.6 240.2h0M398.4 246.5h0M406.3 255.8h0M393.3 238.2h0M422.7 237.7h0M400.9 250.6h0M426.8 241.1h0M400.5 255.4h0M385.9 247.3h0M389.1 249.4h0M408.3 244.1h0M390.8 247.8h0M392.7 242.1h0M432.9 237.8h0M390.7 248.0h0M422.4 241.2h0M406.1 244.4h0M421.8 238.3h0M404.1 249.4h0M418.6 255.6h0M404.7 248.9h0M425.7 240.9h0M400.0 252.1h0M384.4 237.3h0M421.7 253.9h0M399.7 237.6h0M395.1 237.4h0M426.3 236.9h0M411.6 254.9h0M434.5 250.2h0M422.1 252.6h0M431.5 251.0h0M429.4 244.6h0M399.1 237.3h0M390.1 247.0h0M437.3 242.4h0M422.9 237.5h0M429.9 248.7h0M404.0 244.5h0" stroke="#783672" stroke-width="1.60" stroke-linecap="round" stroke-opacity="1" fill="none"/>
<path d="M424.2 240.4h0M396.3 254.7h0M409.0 241.3h0M400.0 252.7h0M419.3 241.3h0M420.9 251.3h0M391.2 236.1h0M422.4 251.8h0M419.4 250.8h0M387.6 243.0h0M390.4 242.9h0M438.3 245.5h0M407.9 254.4h0M411.9 237.6h0M440.5 241.0h0M379.7 252.4h0M409.2 254.8h0M393.9 248.9h0M380.4 243.0h0M431.8 239.3h0M405.0 245.8h0M383.4 238.5h0M401.8 245.9h0M392.6 255.5h0M417.2 241.1h0M407.1 245.1h0M382.9 254.3h0M405.2 244.4h0M434.5 246.9h0M437.2 254.6h0M404.3 249.8h0M438.4 248.0h0M404.4 245.5h0M420.7 237.3h0M420.5 255.4h0M404.1 241.5h0M386.1 251.6h0M428.2 250.9h0M422.4 254.0h0M405.6 238.2h0M377.3 239.5h0M398.9 251.0h0M393.1 248.0h0M376.4 242.8h0M412.4 239.2h0M412.0 242.5h0M414.0 250.6h0M379.5 244.5h0M436.2 253.9h0M400.5 243.6h0M432.2 252.9h0M437.3 239.0h0M425.4 250.4h0M419.1 240.5h0M385.5 254.0h0M436.4 250.5h0M390.8 251.9h0M416.5 252.6h0M405.0 251.7h0M417.4 236.0h0M416.6 240.0h0M387.0 245.6h0M409.7 243.6h0M395.9 249.0h0M433.7 241.9h0M388.8 239.2h0M432.1 246.6h0M392.9 243.6h0M419.9 248.9h0M434.0 242.9h0M396.4 248.3h0M430.7 247.4h0M388.2 237.3h0M393.7 240.4h0M439.8 244.1h0M380.6 246.9h0" stroke="#5e2070" stroke-width="1.60" stroke-linecap="round" stroke-opacity="1" fill="none"/>
<path d="M385.7 238.3h0M406.3 238.8h0M386.9 245.7h0M395.1 240.7h0M422.7 238.9h0M378.3 238.4h0M388.5 244.2h0M413.4 240.7h0M395.0 252.4h0M438.9 249.2h0M416.0 250.6h0M391.1 252.4h0M427.0 242.4h0M400.9 243.8h0M425.4 243.8h0M417.6 248.8h0M440.0 245.8h0M411.7 254.5h0M391.3 255.1h0M435.1 250.4h0M409.5 251.7h0M384.4 255.2h0M401.2 253.9h0M404.4 238.5h0M404.4 240.8h0M423.9 240.8h0M420.7 246.9h0M398.5 252.2h0M408.8 237.9h0M400.2 244.9h0M377.3 252.9h0M418.3 250.5h0M378.5 254.4h0M407.1 246.6h0M438.7 251.3h0M383.6 255.4h0M393.3 252.7h0M378.5 251.7h0M415.7 252.4h0M400.1 242.3h0M413.0 239.3h0M412.0 248.3h0M410.1 242.8h0M405.1 250.6h0M387.1 237.1h0M426.3 242.6h0M411.9 237.0h0M404.4 241.4h0M424.3 248.2h0M414.3 251.6h0M413.0 244.1h0M385.0 248.9h0M430.9 250.7h0M402.7 236.5h0M390.2 254.5h0M411.1 248.1h0M396.6 247.9h0M413.0 235.7h0M379.9 246.4h0M419.1 241.3h0M419.2 252.8h0M422.6 253.2h0M422.0 241.5h0M405.4 236.2h0M390.6 239.3h0M410.9 244.3h0M383.3 253.0h0" stroke="#1a0a2a" stroke-width="1.60" stroke-linecap="round" stroke-opacity="1" fill="none"/>
<path d="M384.3 246.9h0M432.4 245.2h0M380.5 246.6h0M416.6 254.1h0M433.5 247.0h0M390.9 255.7h0M414.5 249.0h0M409.9 236.8h0M424.5 245.8h0M440.9 248.4h0M384.3 246.7h0M377.6 235.9h0M419.8 250.8h0M382.0 254.6h0M436.3 242.2h0M400.5 236.0h0M439.9 247.6h0M385.8 238.3h0M406.3 253.2h0M414.4 237.7h0M380.7 245.2h0M383.4 249.8h0M381.7 255.7h0M386.8 247.4h0M433.4 251.5h0M433.4 248.5h0M401.5 249.8h0M441.6 242.1h0M410.1 254.2h0M380.3 251.3h0M391.4 238.2h0M377.6 239.4h0M441.3 243.5h0M423.7 247.8h0M424.4 250.3h0M378.5 241.9h0M380.1 255.8h0M405.1 250.8h0M436.5 246.4h0M437.9 239.3h0M396.5 239.8h0M427.1 240.3h0M435.4 249.4h0M431.2 240.8h0M422.0 250.1h0M425.5 245.2h0M415.4 242.5h0M384.7 238.1h0M429.4 235.8h0M403.2 255.9h0M438.4 237.5h0M395.0 254.3h0M391.7 249.9h0M395.6 249.2h0M407.5 252.8h0M441.1 238.3h0M378.5 250.8h0M401.3 255.4h0M383.1 247.4h0M439.2 240.5h0M392.1 246.8h0M397.8 239.5h0M438.6 236.6h0M379.5 251.1h0M390.4 255.2h0M423.0 247.3h0M397.3 246.6h0M440.2 249.8h0M414.5 241.1h0M433.5 239.9h0M439.1 250.4h0M421.2 254.0h0M411.4 252.2h0" stroke="#2a0e42" stroke-width="1.60" stroke-linecap="round" stroke-opacity="1" fill="none"/>
<path d="M435.8 250.0h0M427.4 240.2h0M426.8 236.2h0M405.5 243.4h0M423.0 255.3h0M385.3 254.6h0M433.1 246.3h0M423.1 251.4h0M381.6 242.5h0M431.1 252.9h0M382.6 253.9h0M416.3 243.9h0M406.7 242.7h0M379.8 247.7h0M412.3 238.9h0M432.4 242.0h0M384.9 255.7h0M392.2 255.8h0M380.9 251.2h0M407.9 254.7h0M434.1 249.7h0M431.4 252.6h0M378.5 252.5h0M406.2 243.2h0M431.6 252.2h0M418.2 253.6h0M405.5 240.1h0M387.3 246.5h0M434.6 249.7h0M388.6 243.0h0M395.2 248.2h0M386.5 250.2h0M429.1 253.5h0M435.1 255.2h0M440.9 247.3h0M386.0 248.1h0M397.1 241.9h0M420.8 255.5h0M377.1 247.9h0M435.3 237.9h0M384.8 243.1h0M435.7 241.2h0M383.1 236.6h0M417.8 252.9h0M432.7 243.8h0M423.4 244.2h0M398.4 239.7h0M414.3 249.5h0M425.7 241.5h0M429.2 255.3h0M380.7 247.6h0M427.1 239.4h0M419.3 253.6h0M403.6 246.1h0M399.3 255.7h0M391.4 250.3h0M397.2 245.3h0M397.6 236.0h0M409.0 242.7h0M422.9 243.2h0M386.8 239.5h0M435.8 254.8h0M417.0 248.7h0M394.8 241.8h0M397.0 248.2h0M387.9 241.0h0M430.0 255.1h0M383.2 242.8h0M397.9 245.6h0M394.5 241.9h0M379.1 236.3h0M404.6 254.2h0" stroke="#50165a" stroke-width="1.60" stroke-linecap="round" stroke-opacity="1" fill="none"/>
<path d="M426.5 238.7h0M430.9 255.1h0M424.4 236.9h0M435.2 248.1h0M380.6 241.3h0M399.7 239.5h0M377.0 237.1h0M418.3 255.2h0M412.5 236.9h0M406.8 238.8h0M408.7 238.2h0M397.8 240.7h0M436.8 249.7h0M389.5 252.8h0M397.9 238.8h0M404.7 251.6h0M407.2 254.1h0M411.5 245.7h0M377.2 236.2h0M428.6 249.9h0M431.7 250.4h0M398.1 238.0h0M415.1 242.5h0M432.8 235.6h0M438.6 248.5h0M378.1 248.3h0M414.0 245.5h0M426.7 238.7h0M414.9 245.7h0M413.3 255.9h0M436.1 238.5h0M389.6 255.2h0M395.2 246.4h0M427.5 238.0h0M406.3 237.2h0M389.1 244.2h0M407.0 252.6h0M430.3 242.4h0M424.8 253.4h0M393.4 236.0h0M400.1 243.8h0M405.1 241.6h0M435.4 255.0h0M402.8 244.3h0M440.0 244.6h0M437.7 240.6h0M427.3 245.0h0M378.6 242.8h0M424.2 241.0h0M396.6 244.4h0M379.0 241.4h0M413.2 249.2h0M440.4 237.0h0" stroke="#74286e" stroke-width="1.60" stroke-linecap="round" stroke-opacity="1" fill="none"/>
</g>
</g>
<path d="M409.0 250.6h0M412.6 250.1h0" stroke="#2a9a9a" stroke-width="1.40" stroke-linecap="round" stroke-opacity="1" fill="none"/>
<path d="M407.9 251.0h0M412.6 248.7h0M410.6 250.6h0M412.8 250.2h0M408.0 249.8h0M412.7 250.5h0" stroke="#1a7a7a" stroke-width="1.40" stroke-linecap="round" stroke-opacity="1" fill="none"/>
<path d="M411.1 250.0h0M411.8 250.7h0M406.5 252.0h0M406.4 249.6h0M406.4 252.2h0M407.9 250.3h0M412.2 250.7h0M409.6 249.3h0" stroke="#3aaaaa" stroke-width="1.40" stroke-linecap="round" stroke-opacity="1" fill="none"/>
</g></g>
<path d="M378.6 241.4C378.9 240.2 378.8 239.0 379.4 237.0C380.0 235.0 381.1 231.9 382.3 229.6C383.5 227.3 385.0 224.8 386.7 223.0C388.4 221.2 390.2 219.6 392.6 218.6C395.1 217.6 398.0 217.0 401.4 217.1C404.8 217.2 409.8 218.1 413.2 219.4C416.6 220.8 419.1 223.2 422.0 225.2C424.9 227.1 428.2 229.0 430.8 231.1C433.4 233.2 435.8 235.7 437.4 237.7C439.0 239.7 440.5 241.2 440.4 242.9C440.3 244.6 438.8 246.7 436.7 248.0C434.6 249.3 430.8 251.1 427.9 251.0C424.9 250.9 421.9 248.1 419.0 247.3C416.1 246.5 412.8 246.1 410.2 246.1C407.6 246.1 405.3 246.5 403.6 247.3C401.9 248.1 401.4 250.0 400.0 251.0C398.6 252.0 397.2 252.7 395.5 253.2C393.8 253.7 391.6 254.0 389.6 253.9C387.7 253.8 385.5 253.4 383.8 252.4C382.1 251.4 380.4 249.3 379.4 248.0C378.4 246.7 378.0 245.6 377.9 244.5C377.8 243.4 378.4 242.7 378.6 241.4Z" fill="none" stroke="#f0f0f0" stroke-width="1.6" stroke-dasharray="5 2.9" stroke-linecap="butt"/>
<path d="M380.5 238.5C382.5 236.5 385 235.6 389 235.6L437 235.6" fill="none" stroke="#f0f0f0" stroke-width="1.6" stroke-dasharray="5 2.9" stroke-linecap="butt"/>
<rect x="416.7" y="256.4" width="19.7" height="2" fill="#f4f4f4"/>
<clipPath id="c13"><path d="M447 210.6H518.6V263.9H447Z"/></clipPath>
<clipPath id="c14"><path d="M453.6 241.4C453.9 240.2 453.8 239.0 454.4 237.0C455.0 235.0 456.1 231.9 457.3 229.6C458.5 227.3 460.0 224.8 461.7 223.0C463.4 221.2 465.2 219.6 467.6 218.6C470.1 217.6 473.0 217.0 476.4 217.1C479.8 217.2 484.8 218.1 488.2 219.4C491.6 220.8 494.1 223.2 497.0 225.2C499.9 227.1 503.2 229.0 505.8 231.1C508.4 233.2 510.8 235.7 512.4 237.7C514.0 239.7 515.5 241.2 515.4 242.9C515.3 244.6 513.8 246.7 511.7 248.0C509.6 249.3 505.8 251.1 502.9 251.0C499.9 250.9 496.9 248.1 494.0 247.3C491.1 246.5 487.8 246.1 485.2 246.1C482.6 246.1 480.3 246.5 478.6 247.3C476.9 248.1 476.4 250.0 475.0 251.0C473.6 252.0 472.2 252.7 470.5 253.2C468.8 253.7 466.6 254.0 464.6 253.9C462.7 253.8 460.5 253.4 458.8 252.4C457.1 251.4 455.4 249.3 454.4 248.0C453.4 246.7 453.0 245.6 452.9 244.5C452.8 243.4 453.4 242.7 453.6 241.4Z"/></clipPath>
<g clip-path="url(#c13)"><g filter="url(#mb)">
<rect x="445" y="208.6" width="75.60000000000002" height="57.29999999999998" fill="#060608"/>
<path d="M482.6 233.4h0M503.9 252.9h0M481.5 227.6h0M484.7 211.2h0M516.5 259.4h0M447.7 215.6h0M484.5 222.9h0M458.8 235.5h0M494.0 211.5h0M470.9 258.1h0M483.3 238.1h0M504.8 228.5h0M489.5 216.3h0M517.1 220.1h0M489.7 245.7h0M474.3 243.4h0M503.8 257.2h0M493.6 245.9h0M448.7 263.5h0M484.5 254.2h0M470.1 238.8h0M515.6 236.0h0M451.7 220.0h0M488.6 225.6h0M460.0 231.0h0M506.8 262.4h0M448.1 228.7h0M504.5 223.5h0M506.2 221.4h0M513.4 231.7h0M516.6 261.6h0M486.8 233.2h0M473.1 262.0h0M480.4 212.8h0M485.7 249.8h0M481.1 250.4h0M472.7 249.4h0M458.2 261.2h0M477.8 232.3h0M486.1 214.1h0M468.1 259.6h0M476.8 241.6h0M458.0 223.8h0M458.2 230.6h0M460.4 214.0h0M475.4 252.0h0M516.1 222.9h0M471.2 258.1h0M509.3 223.9h0M483.1 220.9h0M476.2 255.4h0M495.1 231.2h0M457.2 249.2h0M513.8 244.9h0M473.4 258.4h0M450.0 223.3h0M477.9 241.6h0M509.4 233.1h0M472.3 230.0h0M458.1 240.6h0M506.5 236.7h0M504.3 248.1h0" stroke="#2a2a34" stroke-width="1.20" stroke-linecap="round" stroke-opacity="1" fill="none"/>
<path d="M503.7 246.3h0M455.9 248.7h0M516.6 224.5h0M513.6 242.3h0M491.3 250.9h0M518.3 240.0h0M492.3 261.4h0M460.0 213.6h0M447.5 211.9h0M502.7 246.7h0M516.7 263.5h0M479.8 222.9h0M501.3 212.0h0M474.4 234.9h0M465.7 262.1h0M463.9 248.1h0M492.2 228.2h0M456.2 235.6h0M465.5 225.4h0M516.1 221.7h0M458.3 237.5h0M513.4 233.0h0M516.1 255.8h0M499.1 253.9h0M492.0 259.4h0M447.7 232.1h0M462.2 218.3h0M481.8 248.7h0M463.1 256.7h0M457.8 252.3h0M478.2 252.5h0M466.4 216.6h0M451.3 245.4h0M468.0 221.3h0M475.4 223.3h0M487.7 225.9h0M465.5 216.6h0M457.4 219.5h0M491.6 258.9h0M475.5 231.1h0M488.6 241.7h0M484.5 228.9h0M488.5 224.8h0M510.4 261.1h0M497.5 245.2h0M465.5 257.9h0M448.9 220.5h0M504.1 234.9h0" stroke="#1e1e26" stroke-width="1.20" stroke-linecap="round" stroke-opacity="1" fill="none"/>
<path d="M512.5 212.5h0M499.7 217.1h0M492.2 213.6h0M506.5 217.6h0M504.3 215.5h0M499.5 222.9h0M506.8 223.5h0M510.5 212.8h0M508.8 216.7h0M499.8 213.7h0M508.1 225.8h0M504.8 215.3h0M500.8 214.9h0M506.5 219.9h0M517.9 222.1h0M488.9 225.4h0M508.6 221.9h0M511.7 212.4h0M494.5 218.7h0M494.3 225.7h0M501.4 216.2h0M513.1 212.2h0M506.5 215.7h0M507.6 220.1h0M505.7 218.4h0M495.4 211.0h0" stroke="#2a2a36" stroke-width="1.10" stroke-linecap="round" stroke-opacity="1" fill="none"/>
<path d="M499.9 215.5h0M510.8 220.3h0M505.7 211.3h0M495.7 221.3h0M507.6 222.7h0M512.4 214.5h0M491.1 222.0h0M511.7 221.7h0M504.1 219.8h0M500.1 213.5h0M493.0 211.5h0M507.5 223.7h0M487.7 215.2h0M512.6 222.2h0M495.3 225.7h0M487.2 223.1h0M494.5 221.4h0M494.7 225.4h0M494.0 220.2h0M511.5 225.8h0M501.9 215.2h0M508.2 213.0h0M501.9 220.7h0M511.3 220.3h0M503.8 215.5h0M501.4 218.4h0" stroke="#4a4a5a" stroke-width="1.10" stroke-linecap="round" stroke-opacity="1" fill="none"/>
<path d="M506.8 221.9h0M495.1 212.4h0M511.0 218.2h0M498.6 224.8h0M510.0 223.1h0M494.0 216.5h0M508.5 222.0h0M513.2 225.1h0M507.4 213.7h0M497.8 224.6h0M490.9 221.4h0M513.9 211.8h0M504.2 217.8h0M497.9 219.8h0M510.4 222.9h0M517.3 219.2h0M514.5 214.5h0M490.0 216.8h0" stroke="#3a3a4a" stroke-width="1.10" stroke-linecap="round" stroke-opacity="1" fill="none"/>
<g clip-path="url(#c14)">
<clipPath id="c15"><path d="M447 210.6H518.6V235.6H447Z"/></clipPath>
<g clip-path="url(#c15)">
<rect x="447" y="210.6" width="71.60000000000002" height="25.0" fill="#16161c"/>
<path d="M467.0 221.4h0M494.4 233.0h0M500.8 214.1h0M500.8 216.3h0M463.7 217.0h0M456.0 221.8h0M460.5 221.7h0M495.9 227.1h0M459.8 231.2h0M457.2 219.1h0M495.1 227.5h0M505.0 222.8h0M474.8 215.4h0M488.2 224.7h0M515.2 215.8h0M485.0 216.6h0M470.9 220.9h0M471.8 220.4h0M502.9 222.7h0M485.0 228.0h0M457.7 225.7h0M450.6 218.3h0M496.5 225.6h0M512.1 221.7h0M514.4 214.0h0M512.6 234.4h0M499.7 227.4h0M513.9 233.0h0M508.1 228.2h0M459.5 225.1h0M464.6 215.3h0M455.2 221.8h0M456.2 220.4h0M510.7 234.0h0M506.4 224.3h0M457.9 231.1h0M488.5 221.4h0M459.8 218.8h0M463.3 229.6h0M472.2 232.2h0M495.8 230.4h0M505.3 232.5h0M475.6 216.6h0M512.9 225.5h0M482.0 216.0h0M456.0 228.4h0M514.7 219.4h0M492.1 226.4h0M477.9 214.4h0M508.7 220.9h0M511.4 225.9h0M462.5 214.8h0M485.9 234.0h0M462.3 232.0h0M478.8 231.0h0M508.5 227.5h0M510.5 222.6h0M457.1 227.2h0M461.1 224.9h0M517.0 224.1h0M493.5 231.7h0M468.4 219.1h0M473.3 227.8h0M509.0 220.7h0M501.7 219.8h0M514.8 227.7h0M485.0 221.7h0M469.0 218.6h0M487.8 229.4h0M466.3 221.1h0M504.1 214.4h0M476.8 224.8h0M509.3 220.1h0M505.0 234.3h0M506.8 224.7h0M477.7 227.4h0M453.9 226.1h0M452.1 233.9h0M514.3 219.3h0M455.3 231.2h0M508.7 226.6h0M497.7 219.5h0M472.3 225.9h0M487.0 215.5h0M500.1 223.8h0M512.0 221.0h0M456.3 226.1h0M471.3 215.5h0M481.3 224.3h0M456.7 214.1h0M465.2 231.6h0M458.4 216.4h0M489.7 216.1h0M486.8 233.7h0M477.1 227.8h0M494.5 226.8h0" stroke="#2a2a3a" stroke-width="1.30" stroke-linecap="round" stroke-opacity="1" fill="none"/>
<path d="M511.1 235.4h0M509.6 219.6h0M508.2 227.4h0M454.8 226.2h0M461.7 234.7h0M487.5 216.9h0M493.6 227.4h0M450.3 235.6h0M497.8 225.5h0M480.3 218.7h0M499.9 214.6h0M454.8 231.8h0M466.1 233.9h0M508.2 218.8h0M489.3 220.1h0M465.7 215.1h0M487.6 217.1h0M498.4 231.4h0M450.4 221.8h0M497.4 216.0h0M463.6 216.1h0M453.1 226.5h0M458.6 214.6h0M471.9 223.0h0M485.1 233.7h0M517.8 214.5h0M498.8 218.8h0M479.0 225.8h0M485.2 218.8h0M481.6 228.7h0M504.5 216.0h0M483.6 231.4h0M453.9 230.2h0M461.8 233.6h0M479.8 223.3h0M469.0 217.3h0M498.5 216.6h0M450.1 230.4h0M500.1 222.9h0M475.4 218.3h0M450.1 234.9h0M498.2 233.2h0M482.2 217.5h0M504.6 226.6h0M456.2 232.4h0M505.3 234.8h0M456.5 214.8h0M494.1 217.8h0M503.1 223.6h0M460.6 231.5h0M472.7 229.4h0M517.4 228.5h0M502.3 232.6h0M470.9 216.0h0M495.5 231.0h0M500.0 225.2h0M457.6 230.7h0M477.6 230.9h0M462.4 220.8h0M506.8 219.9h0M501.3 232.2h0M467.2 218.5h0M475.9 235.0h0M509.6 224.7h0M451.5 220.0h0M471.2 229.4h0M508.7 214.2h0M494.7 218.7h0M508.7 223.9h0M458.7 233.3h0M510.1 223.2h0M512.3 228.3h0M485.7 220.0h0M488.9 219.0h0M491.2 218.7h0M500.1 228.6h0M452.3 229.7h0M482.5 229.0h0M508.4 225.7h0M452.8 215.2h0M454.8 233.2h0M490.2 230.4h0M492.8 235.4h0" stroke="#a0a0b8" stroke-width="1.30" stroke-linecap="round" stroke-opacity="1" fill="none"/>
<path d="M460.2 225.4h0M500.6 233.3h0M460.1 217.4h0M481.5 231.6h0M473.3 228.0h0M450.6 232.9h0M485.1 229.2h0M492.0 217.0h0M494.9 233.0h0M472.3 229.8h0M455.1 225.7h0M515.8 228.4h0M496.0 228.6h0M502.1 217.9h0M470.8 214.6h0M484.6 235.2h0M456.1 223.9h0M486.8 219.6h0M464.8 215.1h0M499.8 227.1h0M481.4 216.7h0M507.6 231.1h0M479.4 232.3h0M461.1 231.2h0M493.7 216.8h0M474.8 231.3h0M463.8 226.6h0M507.3 225.1h0M487.7 215.7h0M517.7 230.9h0M493.4 221.6h0M505.3 233.2h0M464.2 233.1h0M457.1 233.2h0M491.4 226.7h0M501.2 235.5h0M472.7 223.8h0M496.3 234.2h0M450.0 220.6h0M498.9 218.7h0M458.6 218.0h0M500.1 225.4h0M475.5 223.0h0M466.6 218.7h0M514.7 231.4h0M467.6 219.8h0M485.8 230.9h0M456.0 216.5h0M501.4 232.2h0M486.1 229.5h0M480.5 234.5h0M515.1 216.5h0M466.3 218.9h0M459.9 223.9h0M499.8 235.3h0M513.0 231.0h0M451.1 228.9h0M477.5 221.5h0M488.4 231.8h0M459.4 227.2h0M474.2 227.3h0M479.5 230.3h0M510.4 225.4h0M485.6 225.0h0M479.8 225.6h0M471.6 219.2h0M470.9 218.2h0M499.2 227.1h0M501.6 223.1h0M500.9 218.5h0M512.5 215.9h0M491.6 226.5h0M473.1 221.1h0M464.4 218.8h0M492.4 225.6h0M509.7 228.8h0M480.4 223.0h0M486.2 225.1h0M486.1 225.2h0M513.4 219.2h0M463.5 228.4h0M498.3 220.8h0M513.2 232.0h0" stroke="#8a8aa8" stroke-width="1.30" stroke-linecap="round" stroke-opacity="1" fill="none"/>
<path d="M460.2 231.9h0M453.7 225.7h0M482.8 230.5h0M475.4 226.9h0M478.5 219.2h0M510.8 233.9h0M504.0 233.2h0M470.8 221.1h0M503.8 234.1h0M491.6 216.0h0M496.4 225.5h0M512.2 215.4h0M478.7 224.2h0M488.3 221.4h0M506.5 227.1h0M458.7 231.7h0M504.6 222.1h0M515.6 223.0h0M496.3 224.1h0M481.1 227.3h0M498.4 233.1h0M450.7 222.2h0M461.5 227.5h0M479.2 216.0h0M471.8 231.9h0M479.2 229.3h0M507.1 232.8h0M483.1 228.4h0M450.8 229.2h0M455.7 230.8h0M495.9 214.8h0M454.5 228.1h0M453.9 234.1h0M487.9 224.8h0M495.3 221.3h0M508.1 232.8h0M517.4 230.9h0M511.2 214.3h0M474.3 221.9h0M480.2 234.6h0M513.9 226.0h0M498.0 228.9h0M478.7 229.4h0M488.8 230.3h0M475.6 221.1h0M466.5 223.9h0M454.5 234.5h0M513.4 230.7h0M463.5 227.8h0M516.9 226.4h0M476.2 217.6h0M512.4 219.7h0M492.6 232.7h0M492.3 220.1h0M470.1 227.0h0M514.4 219.6h0M470.2 214.8h0M463.6 218.2h0M504.2 223.5h0M471.2 235.3h0M493.5 228.3h0M505.6 224.3h0M469.1 231.0h0" stroke="#50506e" stroke-width="1.30" stroke-linecap="round" stroke-opacity="1" fill="none"/>
<path d="M504.0 229.7h0M451.6 230.2h0M475.3 224.4h0M509.7 226.4h0M453.6 227.6h0M500.2 216.2h0M492.1 214.9h0M490.2 214.5h0M463.5 235.2h0M472.8 233.1h0M507.8 228.1h0M472.1 216.5h0M467.4 221.3h0M513.3 216.3h0M458.7 221.6h0M480.4 225.9h0M501.0 234.4h0M477.5 215.8h0M492.8 214.1h0M501.1 227.8h0M496.3 219.8h0M484.4 219.8h0M455.5 232.5h0M483.3 218.4h0M476.7 216.6h0M465.5 217.3h0M461.7 228.3h0M500.9 215.8h0M512.0 215.5h0M495.5 220.0h0M514.8 220.8h0M484.3 227.7h0M511.8 222.3h0M465.5 232.6h0M509.0 214.8h0M454.1 222.1h0M458.9 232.0h0M476.8 221.8h0M507.2 223.9h0M456.5 219.6h0M462.9 229.1h0M453.1 217.1h0M460.6 235.1h0M486.1 232.3h0M505.1 231.1h0M456.5 234.4h0M460.5 224.8h0M452.6 220.5h0M511.2 227.3h0M467.6 232.4h0M498.7 231.0h0M457.0 214.9h0M468.3 217.1h0M507.1 226.0h0M485.8 235.2h0M458.0 218.4h0M499.8 229.6h0M477.6 218.9h0M494.6 227.6h0M469.6 230.5h0M474.4 217.7h0M454.2 228.9h0M517.5 229.7h0M475.5 221.4h0M512.4 219.2h0M507.4 215.2h0M515.8 226.3h0M509.5 221.9h0M515.0 226.4h0M516.0 221.5h0M514.4 216.9h0M484.8 222.2h0M497.6 233.5h0M469.0 223.4h0M459.2 217.6h0M456.7 226.8h0" stroke="#1a1a24" stroke-width="1.30" stroke-linecap="round" stroke-opacity="1" fill="none"/>
<path d="M477.2 229.2h0M468.7 229.5h0M494.0 214.4h0M517.5 220.5h0M477.7 230.1h0M489.3 234.1h0M514.1 222.7h0M480.7 228.4h0M501.4 217.8h0M505.0 219.0h0M516.9 219.9h0M483.1 228.0h0M469.4 230.7h0M461.9 222.1h0M498.6 226.1h0M489.5 228.8h0M505.7 228.8h0M470.0 227.7h0M495.4 225.3h0M478.0 215.4h0M486.6 227.2h0M489.0 227.6h0M456.3 223.3h0M494.0 227.5h0M512.4 220.2h0M507.1 218.3h0M473.1 232.9h0M477.4 221.2h0M455.5 216.4h0M470.3 223.0h0M513.5 228.0h0M472.5 232.5h0M505.5 220.7h0M454.9 216.0h0M512.2 225.2h0M502.0 227.0h0M461.0 219.2h0M489.7 232.1h0M493.7 229.7h0M489.7 226.6h0M483.0 234.1h0M515.5 218.2h0M454.8 224.8h0M451.2 219.0h0M511.4 227.0h0M508.8 231.4h0M489.2 229.6h0M451.2 214.5h0M499.8 214.4h0M463.8 230.0h0M454.7 225.5h0M474.4 231.9h0M505.7 234.1h0M482.4 214.0h0M506.0 227.7h0M510.9 222.0h0M452.0 234.0h0M462.8 235.6h0M494.6 217.8h0M505.9 226.8h0M493.1 230.6h0M499.7 219.4h0M476.6 233.1h0M450.2 230.5h0M500.0 216.9h0M473.7 230.3h0M484.0 232.3h0M452.6 231.6h0M482.2 226.9h0M485.3 229.3h0M472.8 232.4h0M452.5 227.6h0M462.0 227.6h0M509.6 214.4h0M482.3 223.4h0M505.8 218.1h0" stroke="#64648a" stroke-width="1.30" stroke-linecap="round" stroke-opacity="1" fill="none"/>
<path d="M512.4 229.9h0M493.9 221.9h0M496.5 228.6h0M480.0 224.7h0M478.0 228.2h0M499.0 218.6h0M509.5 221.3h0M503.6 222.8h0M506.6 223.6h0M464.4 224.9h0M462.5 216.2h0M487.9 226.8h0M462.1 229.6h0M450.1 221.6h0M492.4 225.9h0M514.1 224.1h0M469.5 222.8h0M493.8 216.2h0M508.9 215.5h0M464.5 234.3h0M512.4 218.2h0M488.8 233.1h0M459.8 229.9h0M503.3 219.8h0M508.1 224.3h0M450.4 232.2h0M467.4 219.5h0M505.4 215.4h0M496.1 234.9h0M503.4 226.4h0M498.0 224.0h0M491.6 226.0h0M469.8 220.4h0M485.2 217.3h0M458.6 226.7h0M494.4 220.8h0M461.5 221.2h0M483.8 229.6h0M499.3 221.2h0M456.4 230.0h0M472.0 220.6h0M509.3 220.5h0M469.3 226.6h0M463.8 219.1h0M506.3 232.8h0M507.4 229.6h0M452.8 231.0h0M473.6 223.7h0M484.2 221.8h0M475.0 226.1h0M517.0 230.0h0M498.4 222.8h0M468.5 220.8h0M468.1 233.6h0M468.6 219.9h0M465.7 233.4h0M463.3 226.6h0M456.8 230.8h0M458.4 221.8h0M450.5 217.1h0M457.7 217.4h0M478.7 219.9h0M464.4 224.4h0M506.2 226.1h0M517.6 220.1h0" stroke="#7a7a9a" stroke-width="1.30" stroke-linecap="round" stroke-opacity="1" fill="none"/>
<path d="M472.0 227.2h0M471.2 224.8h0M480.3 218.7h0M462.9 219.5h0M506.3 215.7h0M455.0 230.3h0M484.3 221.8h0M515.2 221.3h0M462.0 227.6h0M481.8 229.8h0M475.8 228.4h0M455.5 223.9h0M468.7 234.3h0M450.4 216.7h0M513.2 221.8h0M453.9 214.5h0M451.0 226.7h0M517.4 220.3h0M512.0 215.2h0M467.1 234.8h0M503.2 220.6h0M451.0 222.3h0M488.3 221.6h0M510.9 228.4h0M458.2 219.8h0M490.2 217.5h0M464.9 220.4h0M454.2 228.6h0M477.8 233.2h0M474.4 233.0h0M454.3 220.0h0M458.6 223.1h0M497.4 218.7h0M503.6 231.0h0M517.2 232.0h0M500.9 225.0h0M484.6 220.5h0M459.1 229.1h0M498.0 215.9h0M513.0 230.4h0M471.2 215.5h0M472.9 226.1h0M498.8 214.8h0M472.6 219.3h0M472.5 217.8h0M502.7 215.6h0M494.0 235.3h0M506.6 226.9h0M463.8 221.1h0M490.8 215.9h0M461.1 225.0h0M462.8 216.0h0M457.2 220.3h0M453.1 221.4h0M457.6 226.9h0M451.8 223.3h0M450.2 224.0h0M469.6 221.6h0M485.6 216.6h0M514.8 232.6h0M513.0 233.4h0M517.5 222.3h0M482.3 227.4h0M469.8 219.6h0M513.1 216.0h0M453.9 226.3h0M507.6 223.8h0M508.1 214.8h0M457.2 216.7h0M484.7 229.9h0M495.4 216.6h0M459.7 222.6h0M513.1 221.0h0M495.0 214.7h0M506.8 231.5h0M500.5 218.5h0M498.9 220.5h0M482.6 234.8h0" stroke="#3a3a52" stroke-width="1.30" stroke-linecap="round" stroke-opacity="1" fill="none"/>
</g>
<clipPath id="c16"><path d="M447 235.6H518.6V263.9H447Z"/></clipPath>
<g clip-path="url(#c16)">
<rect x="447" y="235.6" width="71.60000000000002" height="28.299999999999983" fill="#1c1c24"/>
<path d="M455.9 243.9h0M470.5 250.8h0M515.7 251.8h0M503.8 236.3h0M514.0 247.4h0M455.3 246.4h0M466.7 251.7h0M505.2 243.6h0M487.6 255.6h0M477.4 248.6h0M516.3 255.5h0M507.9 242.6h0M511.8 255.4h0M509.0 244.6h0M472.5 238.3h0M466.8 235.9h0M470.9 244.2h0M504.0 241.6h0M476.7 239.4h0M502.2 244.6h0M468.1 236.5h0M487.6 235.6h0M509.9 236.5h0M457.4 238.7h0M457.8 253.3h0M515.2 254.1h0M456.7 237.1h0M469.5 236.3h0M471.2 245.5h0M494.1 241.8h0M491.7 255.7h0M516.3 241.4h0M484.9 237.3h0M481.6 248.0h0M510.3 249.8h0M479.2 242.3h0M500.6 243.9h0M511.3 236.9h0M508.8 249.2h0M494.8 244.6h0M461.4 246.9h0M506.9 248.7h0M515.8 251.1h0M512.3 241.7h0M468.4 236.2h0M456.0 245.1h0M472.7 251.8h0M495.4 253.2h0M477.3 237.4h0M482.2 248.9h0M462.2 243.0h0M456.6 244.6h0M480.0 255.8h0M473.0 251.5h0M501.0 244.8h0M477.0 236.8h0M499.9 243.0h0M471.6 252.2h0M487.8 255.8h0M505.0 249.4h0M450.8 255.6h0M483.9 240.7h0M459.4 248.8h0M509.8 252.7h0M454.5 253.3h0M459.1 241.0h0M450.1 249.1h0M514.1 236.3h0M481.6 242.4h0M482.5 243.3h0M480.3 242.7h0M478.2 255.4h0M454.9 246.6h0M517.8 239.5h0M508.4 247.6h0M463.4 253.7h0M498.3 244.8h0M471.0 237.8h0M458.1 244.0h0M487.3 238.7h0M493.4 248.2h0M455.3 245.4h0M490.1 245.9h0M503.0 254.2h0M506.1 243.5h0M493.7 248.0h0M459.9 253.0h0M489.0 254.2h0M496.1 254.4h0M513.3 242.4h0M453.0 243.9h0" stroke="#6a6a88" stroke-width="1.30" stroke-linecap="round" stroke-opacity="1" fill="none"/>
<path d="M485.2 249.5h0M472.6 243.7h0M487.2 253.0h0M488.8 248.3h0M478.2 237.0h0M503.8 244.9h0M455.6 243.1h0M510.1 235.7h0M492.8 242.4h0M490.0 241.2h0M505.2 239.9h0M505.9 249.6h0M463.6 249.4h0M481.1 252.7h0M456.2 237.7h0M511.6 254.1h0M496.6 239.6h0M491.8 245.4h0M510.2 245.6h0M487.9 255.2h0M485.7 249.9h0M466.2 240.3h0M461.5 253.1h0M459.0 245.9h0M513.3 239.7h0M475.5 249.4h0M484.5 254.0h0M492.5 252.9h0M516.0 255.1h0M495.6 255.2h0M507.8 251.8h0M464.2 241.9h0M509.9 238.3h0M464.2 238.7h0M503.3 241.9h0M499.5 245.5h0M483.8 238.8h0M502.8 241.1h0M454.9 255.9h0M484.6 254.3h0M454.9 242.8h0M487.9 254.9h0M492.0 248.5h0M469.8 245.0h0M490.3 242.0h0M504.4 251.3h0M512.8 242.5h0M464.1 236.2h0M497.6 241.4h0M500.2 246.2h0M485.9 245.7h0M502.5 255.2h0M487.8 247.3h0M450.5 241.4h0M473.1 247.3h0M504.2 241.0h0M454.9 237.1h0M460.6 252.7h0M466.7 239.2h0M483.3 245.5h0M461.3 237.0h0M476.6 255.1h0M498.8 246.4h0M501.4 242.9h0M488.6 249.7h0M469.3 247.6h0M497.4 244.6h0M475.5 248.1h0M494.5 241.3h0M473.6 245.4h0M482.7 241.7h0M475.2 252.5h0M487.7 243.4h0M489.5 245.0h0M513.6 241.5h0M476.9 249.1h0M463.9 246.9h0M456.7 238.8h0M495.5 244.4h0M459.9 236.0h0M485.7 247.5h0M466.6 235.9h0M450.7 237.1h0M477.2 248.9h0M452.5 248.0h0M512.2 242.8h0M499.0 238.9h0M489.0 248.6h0M501.2 236.6h0M459.7 246.8h0" stroke="#8a8aa8" stroke-width="1.30" stroke-linecap="round" stroke-opacity="1" fill="none"/>
<path d="M451.5 249.0h0M478.5 252.1h0M455.0 255.7h0M500.9 245.1h0M492.7 244.3h0M502.3 250.5h0M498.3 240.2h0M467.9 247.0h0M460.9 250.9h0M499.3 235.9h0M477.0 235.8h0M471.0 236.0h0M515.7 235.9h0M512.1 239.6h0M492.1 239.8h0M508.2 240.4h0M502.7 240.1h0M507.0 254.7h0M485.9 253.2h0M458.7 245.9h0M457.9 247.3h0M511.0 250.7h0M502.8 246.7h0M477.7 253.3h0M473.3 236.0h0M495.5 246.2h0M473.7 252.0h0M494.6 245.8h0M462.0 248.9h0M501.8 250.8h0M506.0 254.3h0M453.4 249.1h0M482.1 242.4h0M489.6 254.3h0M507.6 246.0h0M476.4 243.9h0M514.0 246.4h0M468.4 244.1h0M477.9 236.3h0M464.4 243.3h0M503.3 239.2h0M483.1 249.5h0M476.0 237.5h0M507.0 255.3h0M450.0 238.0h0M467.5 246.0h0M455.5 254.5h0M514.2 248.8h0M475.0 247.7h0M451.7 255.0h0M494.9 242.2h0M483.6 253.0h0M488.9 238.2h0M484.6 245.3h0M477.6 248.5h0M450.6 249.2h0M475.4 240.3h0M503.9 254.4h0M453.3 239.0h0M500.8 250.7h0M482.2 236.1h0M482.0 253.0h0M469.3 242.3h0M457.2 237.8h0M464.6 248.5h0M455.3 245.7h0M511.0 243.2h0M471.3 240.3h0M496.8 255.1h0M514.6 251.6h0M457.2 250.8h0M470.7 247.8h0M506.3 237.1h0M512.4 249.7h0M477.9 254.3h0M478.9 237.2h0M466.9 248.0h0M459.3 248.7h0M508.4 244.9h0M459.3 247.8h0M454.6 245.8h0M474.5 243.1h0M504.4 255.3h0M503.1 252.3h0M452.4 239.3h0M502.6 240.7h0M507.5 238.6h0M471.0 242.5h0M508.1 246.7h0M507.6 252.9h0M476.1 251.1h0M489.9 239.9h0M463.9 252.7h0M476.9 244.6h0M500.3 240.1h0M484.2 248.2h0M452.1 248.3h0M465.2 249.8h0M456.0 248.9h0M505.9 253.2h0M493.0 240.6h0M459.4 240.8h0M498.4 245.7h0M455.0 240.0h0M468.2 251.5h0" stroke="#c8c8d4" stroke-width="1.30" stroke-linecap="round" stroke-opacity="1" fill="none"/>
<path d="M456.2 235.8h0M463.0 254.3h0M517.3 251.1h0M481.8 250.1h0M458.2 252.4h0M459.3 251.1h0M461.0 245.6h0M460.5 239.6h0M458.8 241.9h0M457.0 247.0h0M503.8 249.0h0M487.5 244.7h0M501.8 240.6h0M495.1 242.0h0M492.8 247.4h0M483.6 239.7h0M498.0 250.0h0M487.4 255.5h0M455.9 247.3h0M497.8 252.5h0M492.4 238.5h0M476.0 253.6h0M476.3 237.1h0M510.0 240.0h0M507.6 236.7h0M484.1 249.3h0M488.1 247.6h0M506.6 255.4h0M457.7 249.2h0M489.1 247.0h0M499.6 239.2h0M457.0 238.8h0M512.7 254.9h0M486.9 241.5h0M460.4 254.5h0M495.0 246.5h0M475.3 237.7h0M455.5 246.0h0M483.1 240.4h0M476.4 237.4h0M474.5 246.9h0M476.5 243.5h0M486.2 242.7h0M471.3 247.1h0M460.4 245.2h0M466.1 239.0h0M462.2 243.4h0M509.1 242.7h0M482.7 247.4h0M493.7 247.8h0M501.6 237.1h0M491.3 249.7h0M453.1 243.7h0M477.7 252.6h0M478.5 252.8h0M463.3 243.1h0M514.7 239.3h0M506.4 238.4h0M492.6 246.6h0M486.0 235.7h0M515.0 254.3h0M494.9 245.2h0M500.1 242.3h0M500.0 249.3h0M473.3 242.7h0M465.3 237.5h0M505.1 250.0h0M472.5 249.7h0M496.7 241.8h0M456.1 246.0h0M465.8 242.6h0M493.2 239.6h0M507.2 254.1h0M497.4 237.4h0M492.8 248.3h0M503.6 243.3h0M456.2 242.7h0M474.2 243.4h0M477.3 236.0h0M496.3 241.4h0M486.8 252.3h0M488.0 246.1h0M456.0 243.4h0M500.7 237.3h0M476.7 245.7h0M466.0 249.5h0M474.2 247.0h0M497.7 239.9h0M500.8 243.6h0M509.6 251.6h0M485.9 248.0h0M507.0 235.9h0M467.9 249.8h0M469.3 253.8h0M460.8 242.0h0M510.6 240.8h0M467.9 237.7h0M455.2 238.5h0M466.4 239.5h0M483.1 249.9h0M488.1 243.4h0M451.4 241.4h0M472.2 255.1h0M483.8 254.7h0M503.9 244.6h0M481.7 246.8h0M456.3 237.5h0M475.0 245.3h0M494.9 240.4h0M480.6 251.0h0M481.0 253.0h0M493.4 242.9h0" stroke="#50506a" stroke-width="1.30" stroke-linecap="round" stroke-opacity="1" fill="none"/>
<path d="M468.8 254.7h0M495.1 240.7h0M488.7 241.4h0M465.4 244.0h0M467.1 245.2h0M493.3 242.2h0M499.1 250.3h0M490.0 243.0h0M480.1 251.1h0M474.2 253.9h0M500.7 254.7h0M467.4 237.5h0M489.0 250.5h0M474.5 236.5h0M451.0 239.5h0M464.7 255.0h0M466.1 238.2h0M469.8 248.4h0M480.6 240.1h0M513.4 252.7h0M481.4 245.1h0M498.9 236.9h0M506.7 241.7h0M459.3 254.7h0M485.1 253.4h0M507.2 248.8h0M493.3 249.4h0M455.2 254.2h0M487.9 249.0h0M501.3 242.0h0M461.8 247.3h0M483.6 238.6h0M466.1 236.7h0M516.9 248.4h0M473.8 241.2h0M480.3 251.8h0M511.3 248.6h0M495.3 242.6h0M502.7 244.6h0M512.0 239.3h0M510.8 236.1h0M465.6 240.5h0M456.9 241.2h0M479.0 253.0h0M471.4 250.7h0M464.4 235.8h0M453.1 251.3h0M470.6 243.2h0M506.5 248.8h0M503.0 244.5h0M464.1 245.3h0M451.6 238.0h0M459.6 249.7h0M510.9 236.8h0M464.8 255.1h0M482.8 243.1h0M451.4 255.3h0M460.0 245.8h0M489.8 254.5h0M468.4 242.4h0M503.2 240.4h0M469.3 248.1h0M470.7 251.8h0M500.3 237.2h0M464.2 253.0h0M471.9 250.1h0M517.3 241.0h0M511.0 251.8h0M494.4 243.6h0M464.7 252.2h0M502.0 239.9h0M481.5 252.7h0M483.0 244.0h0M468.0 250.6h0M472.4 253.8h0M451.4 255.8h0M481.3 241.1h0M503.9 242.4h0M515.1 241.7h0M473.8 256.0h0M452.1 255.6h0M481.0 252.0h0M450.9 245.8h0M513.5 250.8h0M514.0 255.7h0M452.3 254.8h0M516.9 241.8h0M455.3 240.4h0M454.3 240.4h0M501.4 238.0h0M460.7 249.9h0M473.2 246.1h0M507.8 240.3h0M473.3 236.3h0M450.6 253.1h0M493.7 236.8h0M470.7 243.9h0M480.7 249.7h0M511.4 248.8h0M468.3 251.9h0M450.7 244.5h0M462.7 250.0h0M473.9 252.6h0M462.6 246.8h0M465.7 245.6h0M490.5 250.2h0M515.9 243.8h0M451.2 253.5h0M503.9 241.8h0M475.8 247.8h0M456.2 249.1h0" stroke="#a4a4b8" stroke-width="1.30" stroke-linecap="round" stroke-opacity="1" fill="none"/>
<path d="M455.1 241.2h0M459.2 243.9h0M482.4 253.8h0M464.1 249.3h0M475.3 245.4h0M484.6 243.9h0M483.4 237.4h0M513.7 255.2h0M498.5 245.5h0M458.5 243.5h0M502.5 254.3h0M452.8 251.6h0M486.3 247.9h0M451.9 246.9h0M469.8 248.9h0M480.0 252.6h0M504.9 250.2h0M455.4 253.2h0M492.9 245.2h0M461.6 250.8h0M465.8 252.5h0M451.9 239.6h0M463.9 249.5h0M456.9 237.9h0M511.4 242.5h0M466.9 243.2h0M490.0 243.6h0M493.8 249.0h0M514.7 237.0h0M505.9 239.1h0M502.9 241.2h0M499.0 248.2h0M510.8 240.4h0M458.1 245.7h0M506.7 252.6h0M473.7 242.5h0M464.6 241.3h0M508.6 254.4h0M468.7 237.6h0M510.6 237.6h0M465.7 245.9h0M466.3 242.6h0M497.5 253.2h0M474.3 253.0h0M506.2 248.1h0M482.0 250.5h0M484.4 250.3h0M458.9 252.3h0M484.7 245.8h0M479.1 252.8h0M480.0 237.6h0M454.6 243.8h0M471.9 254.8h0M515.9 242.9h0M468.9 245.2h0M487.1 250.0h0M512.4 238.5h0M508.3 248.8h0M498.4 238.5h0M476.4 242.6h0M480.7 239.2h0M499.8 239.0h0M500.8 236.7h0M488.8 248.9h0M514.9 237.7h0M513.4 236.4h0M489.0 238.3h0M493.5 249.9h0M503.2 244.6h0M492.3 238.1h0M453.5 244.3h0M490.4 244.3h0M455.9 249.2h0M464.6 248.0h0M513.8 245.2h0M477.5 238.7h0M473.2 240.5h0M481.6 249.8h0M514.1 240.0h0M502.4 247.3h0M508.3 239.3h0M462.0 240.4h0M512.9 241.8h0M479.7 246.4h0M456.9 254.4h0M506.4 238.9h0M458.0 242.0h0M502.6 246.0h0M505.5 251.5h0M479.5 238.3h0M494.5 241.5h0M507.9 245.2h0M466.5 244.5h0M490.4 244.6h0M462.2 243.2h0M452.7 252.8h0M501.8 239.2h0M508.9 249.7h0" stroke="#b8b8c8" stroke-width="1.30" stroke-linecap="round" stroke-opacity="1" fill="none"/>
<path d="M484.5 240.0h0M466.3 240.9h0M514.4 249.4h0M516.7 244.4h0M497.6 235.9h0M499.1 249.9h0M516.3 249.8h0M506.1 248.9h0M509.1 244.2h0M455.5 251.6h0M484.7 255.1h0M500.1 240.9h0M511.0 248.7h0M491.4 245.3h0M462.0 245.2h0M466.7 250.6h0M458.5 244.8h0M485.3 239.1h0M493.1 244.0h0M493.0 250.7h0M494.4 243.7h0M514.0 246.9h0M487.5 250.5h0M500.7 253.9h0M503.6 245.4h0M496.5 236.8h0M475.3 248.2h0M509.4 236.3h0M505.2 250.5h0M472.2 244.3h0M458.9 253.4h0M452.2 236.4h0M453.6 247.3h0M516.4 246.9h0M470.6 253.6h0M500.2 244.7h0M510.9 249.3h0M505.3 242.8h0M483.2 241.9h0M499.0 245.0h0M485.7 240.2h0M501.1 250.1h0M464.0 250.1h0M482.0 235.9h0M512.5 240.9h0M490.6 240.2h0M459.4 254.7h0M465.0 249.0h0M464.3 239.6h0M491.4 248.3h0M487.1 250.4h0M487.5 247.8h0M465.2 240.2h0M513.9 244.9h0M473.2 242.1h0M512.8 244.8h0M517.0 235.8h0M510.9 254.4h0M483.0 250.4h0M452.5 238.7h0M464.4 248.8h0M489.0 246.9h0M496.2 237.8h0M472.3 253.4h0M477.9 245.5h0M495.9 251.5h0M479.0 237.9h0M474.8 237.3h0M457.0 236.7h0M451.8 243.9h0M494.3 239.7h0M475.0 238.6h0M510.4 246.5h0M456.6 251.8h0M496.5 242.7h0M511.5 252.0h0M459.3 245.5h0M486.6 252.9h0M486.9 237.2h0M492.7 253.8h0M510.9 241.1h0M485.4 241.4h0M510.2 249.8h0M459.3 236.5h0M467.2 239.7h0M464.2 248.8h0M481.8 244.6h0M483.6 235.9h0M504.4 250.6h0M477.7 243.1h0M467.5 252.1h0M467.0 248.7h0M493.7 240.3h0M453.4 250.3h0M517.3 247.5h0M506.7 240.0h0M494.7 240.0h0M484.3 251.0h0M516.5 240.1h0M500.3 253.1h0M461.4 244.2h0M460.9 254.6h0M503.3 255.9h0M463.8 241.7h0M510.6 236.4h0M511.2 255.0h0M507.1 250.3h0" stroke="#34343e" stroke-width="1.30" stroke-linecap="round" stroke-opacity="1" fill="none"/>
<path d="M452.0 246.3h0M463.4 236.5h0M517.0 237.9h0M516.3 254.3h0M453.1 252.6h0M455.7 244.6h0M492.2 251.0h0M498.2 250.6h0M484.8 255.2h0M457.6 249.7h0M516.6 248.9h0M477.0 253.4h0M488.4 255.8h0M452.3 253.4h0M468.5 244.9h0M456.3 244.8h0M452.0 255.7h0M479.2 253.9h0M513.3 251.1h0M513.2 237.3h0M478.5 238.2h0M458.6 244.1h0M452.1 252.6h0M466.0 255.1h0M477.0 246.1h0M475.1 244.2h0M460.7 248.3h0M478.0 252.8h0M496.6 252.1h0M480.1 248.8h0M506.0 241.2h0M517.0 236.8h0M486.4 244.6h0M462.2 242.5h0M487.3 244.5h0M480.3 252.2h0M493.5 247.6h0M457.6 250.0h0M485.6 247.4h0M460.9 254.6h0M501.6 249.2h0M487.4 246.8h0M503.5 242.5h0M461.2 249.8h0M511.3 251.1h0M485.3 236.9h0M471.9 242.3h0M456.1 240.9h0M469.0 245.8h0M479.1 249.2h0M497.3 250.4h0M500.4 245.5h0M480.0 238.7h0M479.7 242.0h0M498.1 236.9h0M482.4 253.3h0M490.6 236.1h0M490.6 242.3h0M498.0 250.7h0M491.3 239.0h0M488.3 252.8h0M499.1 246.4h0M472.4 238.8h0M453.1 240.7h0M479.8 255.6h0M478.4 253.2h0M489.8 239.1h0M461.3 240.3h0M517.9 238.4h0M457.1 250.2h0M478.3 245.5h0M498.1 250.0h0M477.2 243.0h0M510.5 245.2h0M516.9 255.5h0M515.8 254.8h0M466.7 256.0h0M462.5 255.9h0M454.0 237.9h0M510.7 243.3h0M492.3 241.4h0M452.3 237.1h0M516.8 252.0h0M506.7 245.3h0M491.8 243.8h0M456.2 243.7h0M472.7 249.0h0M466.0 243.2h0M507.7 248.3h0M479.8 244.8h0M450.3 253.5h0M467.8 254.8h0M480.3 245.4h0M498.5 239.8h0M495.5 255.5h0M463.9 248.0h0M459.5 241.4h0M508.1 242.1h0M460.6 240.7h0M478.4 248.2h0M462.0 249.0h0M479.9 255.0h0M473.0 236.0h0M478.7 255.4h0M492.6 252.2h0M508.3 254.6h0" stroke="#24242c" stroke-width="1.30" stroke-linecap="round" stroke-opacity="1" fill="none"/>
</g>
</g>
</g></g>
<path d="M453.6 241.4C453.9 240.2 453.8 239.0 454.4 237.0C455.0 235.0 456.1 231.9 457.3 229.6C458.5 227.3 460.0 224.8 461.7 223.0C463.4 221.2 465.2 219.6 467.6 218.6C470.1 217.6 473.0 217.0 476.4 217.1C479.8 217.2 484.8 218.1 488.2 219.4C491.6 220.8 494.1 223.2 497.0 225.2C499.9 227.1 503.2 229.0 505.8 231.1C508.4 233.2 510.8 235.7 512.4 237.7C514.0 239.7 515.5 241.2 515.4 242.9C515.3 244.6 513.8 246.7 511.7 248.0C509.6 249.3 505.8 251.1 502.9 251.0C499.9 250.9 496.9 248.1 494.0 247.3C491.1 246.5 487.8 246.1 485.2 246.1C482.6 246.1 480.3 246.5 478.6 247.3C476.9 248.1 476.4 250.0 475.0 251.0C473.6 252.0 472.2 252.7 470.5 253.2C468.8 253.7 466.6 254.0 464.6 253.9C462.7 253.8 460.5 253.4 458.8 252.4C457.1 251.4 455.4 249.3 454.4 248.0C453.4 246.7 453.0 245.6 452.9 244.5C452.8 243.4 453.4 242.7 453.6 241.4Z" fill="none" stroke="#cfcf3c" stroke-width="1.75" stroke-dasharray="5.3 3.7" stroke-linecap="butt"/>
<path d="M455.5 238.5C457.5 236.5 460.0 235.6 464.0 235.6L512.0 235.6" fill="none" stroke="#cfcf3c" stroke-width="1.75" stroke-dasharray="5.3 3.7" stroke-linecap="butt"/>
<clipPath id="c17"><path d="M372 289.2H443.7V345.3H372Z"/></clipPath>
<clipPath id="c18"><path d="M381.9 301.6C383.7 300.1 385.8 298.7 388.6 297.8C391.4 296.9 395.1 296.3 398.8 296.1C402.5 295.9 407.3 296.1 410.7 296.5C414.1 296.9 416.7 297.5 419.2 298.5C421.7 299.5 424.1 300.8 425.9 302.4C427.7 304.0 429.3 305.9 430.2 308.3C431.1 310.7 431.3 314.0 431.4 316.8C431.5 319.6 431.3 322.5 430.7 325.3C430.1 328.1 429.2 331.6 427.6 333.8C426.0 336.1 423.3 337.5 420.8 338.8C418.3 340.1 415.2 341.3 412.4 341.9C409.6 342.5 406.4 342.8 403.9 342.2C401.3 341.6 399.1 339.8 397.1 338.0C395.1 336.2 394.0 333.2 392.0 331.2C390.0 329.2 387.6 327.5 385.3 326.1C383.1 324.7 380.1 324.5 378.5 322.7C376.9 320.9 376.0 317.8 375.9 315.1C375.8 312.4 376.6 308.9 377.6 306.6C378.6 304.4 380.1 303.1 381.9 301.6Z"/></clipPath>
<g clip-path="url(#c17)"><g filter="url(#mb)">
<rect x="370" y="287.2" width="75.69999999999999" height="60.10000000000002" fill="#1a0a12"/>
<path d="M417.8 324.5h0M439.9 315.4h0M385.0 336.8h0M427.9 334.3h0M380.8 290.1h0M381.3 339.3h0M378.5 323.5h0M381.2 332.6h0M438.2 304.1h0M418.1 311.4h0M427.9 313.2h0M394.4 310.6h0M382.1 289.5h0M383.9 295.5h0M431.2 326.2h0M440.0 292.4h0M435.3 334.4h0M393.3 325.4h0M429.7 333.8h0M431.7 332.2h0M426.2 339.5h0M382.9 325.0h0M436.7 291.6h0M374.4 343.3h0M434.0 335.8h0M408.8 312.0h0M422.5 333.8h0M427.3 313.8h0M432.3 291.8h0M419.8 340.8h0M406.0 331.0h0M412.9 299.4h0M391.4 310.3h0M430.9 308.5h0M411.2 344.4h0M397.0 340.4h0M372.9 299.2h0M426.3 319.9h0M433.3 332.1h0M431.7 331.5h0M379.4 317.2h0M407.3 292.8h0M422.2 302.2h0M401.8 320.3h0M426.1 298.9h0M381.4 330.4h0M435.0 319.2h0M416.8 345.3h0M440.8 328.0h0M415.5 335.2h0M402.0 342.0h0M396.5 314.8h0M417.9 301.5h0M430.9 335.4h0M429.4 319.0h0M420.1 304.1h0M416.5 310.5h0M431.8 301.0h0M417.3 327.1h0M388.4 306.9h0M374.3 311.6h0M390.0 336.4h0M396.0 317.6h0M412.6 327.6h0M409.6 290.6h0M395.1 336.0h0M374.3 334.2h0M439.1 313.9h0M378.6 334.4h0M417.7 309.7h0M389.3 333.8h0M438.9 324.6h0M411.5 300.2h0M436.5 319.9h0M391.2 309.4h0M410.2 308.6h0" stroke="#100608" stroke-width="1.60" stroke-linecap="round" stroke-opacity="1" fill="none"/>
<path d="M417.8 307.6h0M439.9 315.0h0M405.1 344.8h0M385.5 290.8h0M398.4 341.1h0M401.5 328.2h0M415.8 341.0h0M400.9 322.0h0M397.0 309.3h0M417.7 315.1h0M395.3 317.4h0M441.4 316.0h0M380.9 328.7h0M377.8 322.2h0M401.5 303.5h0M397.2 333.8h0M388.9 334.0h0M384.7 293.2h0M379.2 328.8h0M426.1 295.9h0M430.5 339.2h0M390.1 326.3h0M423.9 331.9h0M434.9 307.5h0M405.7 310.8h0M409.1 306.3h0M373.6 289.7h0M423.5 301.1h0M417.9 344.5h0M428.6 332.3h0M384.4 325.7h0M428.6 329.4h0M394.2 343.7h0M428.3 330.1h0M410.2 297.1h0M424.0 304.0h0M443.3 319.2h0M379.5 329.5h0M429.7 317.8h0M389.1 336.2h0M420.1 326.5h0M398.1 317.2h0M416.8 321.3h0M440.0 326.2h0M382.2 317.8h0M439.9 297.2h0M434.1 314.2h0M394.2 299.5h0M403.7 295.0h0M423.3 328.2h0M394.2 319.3h0M441.2 343.3h0M381.8 301.1h0M432.2 310.6h0M409.9 328.0h0M424.8 332.0h0M425.3 340.6h0M430.1 315.4h0M425.2 302.1h0M419.2 320.3h0M389.5 329.3h0M401.9 296.2h0M412.1 298.1h0M383.1 321.5h0M409.3 320.6h0M425.4 307.9h0M408.6 297.1h0M416.9 312.4h0M399.9 291.1h0M415.2 313.4h0M373.2 329.9h0M417.6 324.1h0M429.4 325.0h0M411.6 322.6h0M388.9 313.1h0M436.5 317.6h0M423.8 340.3h0M406.3 341.5h0" stroke="#301828" stroke-width="1.60" stroke-linecap="round" stroke-opacity="1" fill="none"/>
<path d="M384.3 308.4h0M405.5 342.6h0M416.8 343.7h0M432.4 310.7h0M393.7 290.0h0M438.3 300.8h0M436.4 336.2h0M378.8 313.8h0M413.7 307.3h0M383.3 293.9h0M407.7 314.1h0M421.7 309.4h0M428.1 319.8h0M440.5 323.7h0M433.1 334.4h0M403.7 327.9h0M431.4 341.3h0M399.5 307.1h0M412.0 314.8h0M423.8 310.0h0M439.6 330.3h0M392.7 327.3h0M421.1 291.9h0M393.6 307.9h0M404.8 324.3h0M391.5 326.5h0M385.5 293.0h0M386.3 321.3h0M399.1 300.0h0M383.0 333.0h0M400.6 289.6h0M386.7 310.9h0M398.0 338.6h0M382.9 290.9h0M388.4 338.8h0M401.1 297.2h0M372.0 341.9h0M443.3 339.4h0M416.7 320.8h0M373.4 303.2h0M400.7 289.9h0M435.5 306.7h0M395.9 307.6h0M392.3 331.5h0M410.1 333.3h0M418.9 308.8h0M426.8 316.8h0M411.8 321.9h0M400.5 330.1h0M380.0 302.2h0M433.5 344.2h0M420.3 329.7h0M372.5 292.1h0M395.6 318.9h0M397.6 316.7h0M416.6 320.2h0M422.5 291.3h0M401.6 299.0h0M406.9 300.5h0M430.7 332.5h0M420.7 291.3h0M409.1 306.9h0M381.9 301.9h0M438.1 307.5h0M415.3 302.7h0M441.7 339.2h0M430.2 294.6h0M384.5 313.6h0M440.8 302.8h0M410.8 330.0h0M384.9 328.3h0M387.0 294.2h0M395.2 325.8h0M377.9 293.3h0M430.8 325.5h0M434.8 325.5h0M405.5 308.6h0M427.1 337.6h0M401.0 310.8h0M392.7 306.4h0M426.8 310.8h0M409.4 300.4h0M442.3 316.7h0M377.6 332.1h0M443.5 326.5h0" stroke="#3a1a22" stroke-width="1.60" stroke-linecap="round" stroke-opacity="1" fill="none"/>
<path d="M387.3 314.8h0M398.5 342.1h0M419.4 301.4h0M382.9 304.8h0M401.8 311.4h0M397.0 304.2h0M391.2 325.6h0M397.3 313.8h0M375.5 301.2h0M392.9 319.4h0M372.1 318.3h0M374.6 319.5h0M401.0 342.6h0M411.6 325.4h0M407.6 311.6h0M428.7 296.9h0M426.6 328.2h0M420.0 325.0h0M433.9 337.1h0M412.2 334.5h0M420.8 314.7h0M376.3 330.1h0M397.4 339.9h0M435.3 312.4h0M418.5 332.9h0M427.5 326.3h0M436.3 290.2h0M404.0 309.6h0M380.5 305.4h0M390.8 296.8h0M407.8 336.3h0M414.8 341.5h0M415.9 291.2h0M405.4 320.6h0M411.5 322.0h0M394.5 322.0h0M377.6 335.2h0M416.4 306.3h0M434.1 312.6h0M382.8 313.4h0M427.9 343.3h0M423.9 317.1h0M403.8 306.2h0M377.0 309.2h0M394.7 313.7h0M438.7 321.2h0M401.8 308.3h0M434.3 305.5h0M376.7 299.3h0M429.0 339.6h0M401.7 342.1h0M441.2 323.4h0M434.1 290.8h0M377.1 312.4h0M386.2 309.3h0M374.9 318.0h0M392.0 320.6h0M396.2 338.5h0M378.6 290.1h0M407.2 343.9h0M384.5 342.2h0M401.2 308.2h0M406.5 307.3h0M377.8 302.9h0M435.0 299.6h0M385.1 324.3h0M389.1 333.9h0M419.7 300.4h0M373.4 338.1h0M403.5 307.1h0M442.9 337.7h0M433.8 298.5h0M393.6 307.0h0M402.4 334.4h0M406.4 298.5h0M416.2 325.0h0M379.4 336.0h0M406.7 323.6h0M399.8 303.8h0M379.4 340.4h0M440.7 327.6h0" stroke="#2a1420" stroke-width="1.60" stroke-linecap="round" stroke-opacity="1" fill="none"/>
<g clip-path="url(#c18)">
<rect x="372" y="289.2" width="71.69999999999999" height="56.10000000000002" fill="#241a5a"/>
<path d="M403.8 303.1h0M388.6 304.5h0M376.4 332.1h0M399.9 302.1h0M422.7 302.5h0M382.9 333.3h0M423.1 295.2h0M394.3 298.1h0M403.1 340.6h0M416.5 310.7h0M389.9 323.5h0M430.0 307.9h0M389.1 327.3h0M377.5 333.9h0M411.5 306.0h0M424.5 298.0h0M406.6 317.1h0M415.3 309.8h0M408.0 321.8h0M410.9 313.2h0M425.9 342.9h0M392.6 301.7h0M386.7 317.4h0M428.2 314.8h0M428.7 300.5h0M385.6 318.4h0M421.8 316.4h0M410.1 320.6h0M379.9 325.6h0M408.8 312.7h0M393.7 295.8h0M376.0 298.8h0M413.3 332.4h0M428.8 324.3h0M403.9 334.8h0M374.2 302.4h0M380.9 310.2h0M423.1 306.3h0M375.2 303.8h0M393.5 317.4h0M403.7 298.9h0M408.1 306.7h0M414.1 316.2h0M422.2 338.1h0M403.4 312.9h0M425.2 316.7h0M405.2 308.5h0M406.8 320.0h0M387.9 334.4h0M382.3 308.8h0M429.9 338.9h0M423.5 334.8h0M395.5 304.4h0M382.8 311.2h0M382.1 324.6h0M406.2 323.9h0M407.9 336.2h0M409.5 302.3h0M417.0 303.9h0M426.8 333.1h0M382.6 327.9h0M405.0 312.8h0M381.3 316.6h0M392.7 303.0h0M409.4 332.1h0M398.6 333.9h0M406.8 333.6h0M419.7 318.9h0M408.3 313.4h0M393.4 332.5h0M422.3 301.8h0M412.2 313.1h0M404.6 297.6h0M386.4 320.2h0M408.0 328.5h0M390.0 315.0h0M428.9 296.8h0M400.8 316.4h0M417.4 305.5h0M411.1 313.4h0M420.3 306.9h0M424.7 297.5h0M414.7 332.4h0M380.7 334.4h0M388.5 336.7h0M415.1 323.2h0M420.9 330.5h0M401.0 330.8h0M385.7 299.9h0M384.3 319.4h0M392.1 335.4h0M406.7 328.5h0M424.1 295.3h0M407.5 307.7h0M392.3 317.9h0M429.5 308.3h0M384.4 324.6h0M394.2 328.4h0M430.4 308.8h0M429.5 319.8h0M401.0 321.8h0M425.3 300.9h0M383.6 309.3h0M389.6 307.7h0M398.6 313.9h0" stroke="#4c38b0" stroke-width="1.80" stroke-linecap="round" stroke-opacity="1" fill="none"/>
<path d="M417.1 330.3h0M381.4 306.9h0M427.9 336.1h0M391.7 299.8h0M392.8 325.5h0M398.2 296.4h0M388.1 334.1h0M374.4 311.8h0M381.5 333.3h0M385.6 299.1h0M377.4 313.4h0M407.2 334.5h0M432.9 335.2h0M394.7 308.1h0M423.2 305.2h0M411.4 321.6h0M376.9 312.9h0M433.0 320.9h0M374.8 299.9h0M380.3 301.2h0M424.3 315.0h0M387.4 341.6h0M432.3 314.8h0M421.6 324.3h0M425.0 301.8h0M432.6 316.4h0M397.5 295.6h0M399.9 321.4h0M395.9 312.8h0M376.4 318.3h0M392.2 341.0h0M417.0 297.0h0M407.9 342.2h0M417.8 331.5h0M412.4 324.0h0M425.7 340.5h0M382.9 297.4h0M389.0 331.0h0M397.5 297.8h0M431.4 298.1h0M378.1 295.5h0M405.5 313.6h0M429.6 299.5h0M375.1 306.7h0M414.7 305.3h0M390.4 313.7h0M389.2 316.4h0M378.9 324.1h0M420.7 338.2h0M374.7 306.8h0M383.3 307.2h0M383.8 303.8h0M375.6 316.5h0M399.1 300.0h0M401.9 307.6h0M416.8 327.6h0M422.1 311.1h0M410.5 300.3h0M421.5 317.5h0M375.9 329.7h0M391.8 317.8h0M378.2 303.5h0M404.6 329.2h0M386.5 300.2h0M393.2 329.5h0M416.5 299.6h0M420.2 309.9h0M377.3 324.1h0M410.7 325.1h0M419.4 314.4h0M401.1 336.9h0M420.0 309.4h0M402.3 332.7h0M377.4 306.2h0M383.4 320.1h0M432.4 331.5h0M417.8 342.4h0M374.0 331.2h0M380.7 314.4h0M404.6 322.2h0M415.6 326.8h0M422.2 314.2h0M401.6 329.4h0M416.4 298.3h0M394.0 304.5h0M402.8 318.3h0M415.0 337.9h0M401.4 340.8h0M384.4 302.4h0M391.1 329.1h0M425.9 303.0h0M381.1 329.6h0M427.5 320.7h0M416.0 320.4h0M422.9 328.9h0M399.9 327.0h0M409.8 328.6h0M425.5 308.6h0M395.2 335.8h0M390.3 320.5h0M424.6 313.8h0M412.5 338.8h0" stroke="#4a2038" stroke-width="1.80" stroke-linecap="round" stroke-opacity="1" fill="none"/>
<path d="M430.6 315.5h0M375.5 335.9h0M426.0 314.7h0M414.0 340.1h0M403.3 320.4h0M391.9 336.9h0M378.5 336.0h0M397.2 342.8h0M424.8 328.5h0M396.5 330.2h0M397.3 331.6h0M432.8 303.7h0M405.5 339.4h0M427.7 330.9h0M386.8 300.8h0M419.0 330.7h0M392.6 296.6h0M403.8 312.4h0M409.4 340.3h0M399.9 337.2h0M408.3 306.4h0M384.3 341.1h0M421.2 299.3h0M415.6 328.3h0M392.1 337.8h0M431.5 297.0h0M413.7 342.7h0M398.7 315.1h0M399.9 312.4h0M416.3 310.6h0M384.8 328.6h0M400.5 339.6h0M426.5 326.1h0M390.5 295.5h0M426.9 327.1h0M422.6 324.1h0M413.5 332.5h0M376.6 331.4h0M392.9 335.2h0M411.9 333.9h0M402.0 336.3h0M390.5 301.4h0M425.2 341.9h0M388.2 303.0h0M390.1 300.0h0M393.3 335.2h0M424.9 326.0h0M409.3 316.0h0M391.8 314.2h0M404.5 340.4h0M425.5 297.1h0M394.8 324.6h0M382.5 334.8h0M416.1 301.4h0M410.2 319.2h0M432.3 332.7h0M431.9 317.8h0M386.1 319.7h0M375.7 295.4h0M390.3 300.0h0M389.4 320.5h0M400.6 342.4h0M396.4 296.4h0M399.1 335.1h0M420.5 305.5h0M428.2 317.3h0M411.1 325.5h0M382.9 335.9h0M392.1 308.3h0M384.9 331.6h0M418.5 336.6h0M395.2 298.0h0M401.0 300.4h0M387.5 340.2h0M381.5 304.7h0M374.6 331.9h0M418.4 305.7h0M374.3 314.3h0M428.3 319.6h0M430.4 313.6h0M431.8 328.2h0M427.3 337.3h0M375.9 334.8h0M387.5 300.0h0M431.2 315.2h0M426.5 323.2h0M411.9 326.0h0M432.1 324.7h0M423.7 300.4h0M416.9 316.0h0M395.2 328.4h0M380.1 336.9h0M420.2 322.8h0M415.6 324.7h0M395.6 321.6h0M431.0 326.3h0M431.3 299.0h0M396.3 325.3h0M413.3 299.1h0M418.5 339.0h0M388.9 324.8h0M399.6 336.6h0M415.7 314.3h0M429.8 300.8h0" stroke="#4232a4" stroke-width="1.80" stroke-linecap="round" stroke-opacity="1" fill="none"/>
<path d="M424.7 335.4h0M413.0 331.9h0M405.4 308.1h0M420.2 318.8h0M388.3 327.7h0M428.0 341.4h0M390.4 303.4h0M396.9 328.4h0M411.7 340.1h0M380.3 323.0h0M421.2 333.8h0M426.0 327.6h0M374.9 317.9h0M391.0 326.2h0M419.9 329.2h0M380.2 333.4h0M405.7 337.8h0M414.1 336.8h0M392.5 307.3h0M412.8 305.0h0M398.8 339.2h0M382.5 314.7h0M395.1 311.2h0M407.6 339.7h0M423.5 318.7h0M409.0 319.3h0M378.2 338.6h0M426.9 312.7h0M429.4 322.1h0M383.4 310.5h0M393.1 297.1h0M432.8 319.2h0M396.0 320.7h0M375.2 335.3h0M407.6 332.9h0M409.0 325.8h0M402.9 317.2h0M424.6 321.1h0M397.3 317.4h0M395.5 330.6h0M405.3 319.9h0M375.5 305.2h0M395.5 302.6h0M406.8 341.4h0M404.2 302.3h0M378.6 336.3h0M428.5 316.1h0M413.3 314.4h0M383.5 307.8h0M391.6 299.7h0M417.8 307.4h0M398.8 296.3h0M386.2 310.4h0M426.2 329.9h0M420.1 304.3h0M392.1 297.9h0M412.5 328.8h0M408.6 306.9h0M386.4 311.7h0M379.5 307.8h0M414.2 316.8h0M423.7 300.3h0M412.6 299.8h0M431.9 325.2h0M374.5 319.4h0M407.1 302.8h0M411.8 314.7h0M412.8 311.9h0M414.0 325.4h0M398.3 335.4h0M396.5 340.9h0M380.1 318.4h0M399.7 299.5h0M410.9 335.0h0M398.6 336.5h0M408.4 337.1h0M392.4 328.8h0M429.9 318.3h0M393.8 296.6h0M405.5 303.6h0M425.5 312.3h0M389.7 334.8h0M397.7 298.7h0M379.1 316.2h0M383.0 300.8h0M430.1 309.9h0M412.4 333.3h0M418.0 314.4h0M404.4 333.6h0M379.3 326.9h0M403.3 301.8h0M423.9 309.7h0M408.8 342.8h0M396.3 320.9h0M381.3 341.0h0M429.4 323.7h0M430.3 328.0h0M425.3 299.7h0M392.4 304.6h0M394.8 339.3h0M377.5 301.7h0M389.2 330.3h0M379.9 298.3h0M411.9 320.4h0M395.9 335.0h0M411.5 314.6h0M376.8 308.4h0M422.1 335.6h0M432.8 298.4h0M409.1 308.7h0" stroke="#2a1420" stroke-width="1.80" stroke-linecap="round" stroke-opacity="1" fill="none"/>
<path d="M378.6 310.3h0M377.8 341.3h0M420.4 312.8h0M421.1 317.8h0M427.0 295.3h0M421.5 303.8h0M432.0 316.0h0M411.2 308.3h0M404.0 328.5h0M428.4 298.6h0M386.5 338.7h0M394.7 318.9h0M408.0 330.8h0M402.2 339.1h0M396.9 318.1h0M412.7 331.3h0M383.3 309.2h0M425.6 319.0h0M382.8 297.6h0M407.4 339.9h0M383.5 341.0h0M384.0 317.2h0M415.2 335.5h0M417.8 304.7h0M375.8 336.4h0M418.9 310.4h0M375.2 340.3h0M422.5 295.1h0M385.0 323.0h0M427.7 317.8h0M390.1 327.8h0M378.7 305.3h0M429.3 306.6h0M419.5 324.4h0M409.3 304.0h0M430.5 339.4h0M431.0 321.1h0M380.1 336.0h0M385.3 342.3h0M378.3 303.4h0M386.6 311.1h0M430.2 339.0h0M409.5 298.0h0M430.2 316.6h0M427.2 332.9h0M421.0 322.8h0M387.4 326.6h0M414.6 311.6h0M412.7 313.3h0M389.4 313.5h0M386.5 330.3h0M426.5 312.1h0M411.7 335.4h0M409.2 332.8h0M423.5 305.0h0M383.4 321.7h0M403.9 337.9h0M394.6 297.9h0M388.1 304.8h0M411.9 297.2h0M422.2 299.9h0M382.6 339.6h0M403.0 331.2h0M391.8 339.5h0M396.2 298.4h0M424.8 309.6h0M395.4 298.3h0M384.1 329.7h0M413.4 320.1h0M420.3 321.5h0M405.3 318.2h0M411.7 308.6h0M377.4 340.7h0M425.6 321.8h0M383.1 305.0h0M398.1 306.5h0M417.0 327.2h0M395.1 303.6h0M399.8 308.4h0M388.8 335.0h0M387.5 304.4h0M423.2 342.0h0M414.6 333.1h0M428.3 326.0h0M422.4 300.4h0M394.4 338.1h0M417.1 341.7h0M385.1 307.5h0M401.7 324.1h0M427.6 303.0h0M412.2 342.6h0M431.5 311.1h0M413.4 313.9h0M398.5 302.8h0M394.1 297.6h0M377.2 320.7h0M376.8 341.2h0M403.6 327.1h0M389.2 323.8h0M377.4 340.3h0M380.7 335.3h0" stroke="#2c2080" stroke-width="1.80" stroke-linecap="round" stroke-opacity="1" fill="none"/>
<path d="M387.8 337.0h0M404.9 338.0h0M430.3 312.1h0M429.3 303.6h0M405.3 336.3h0M421.5 333.3h0M388.8 306.5h0M429.7 302.7h0M424.3 319.7h0M388.3 315.3h0M395.8 342.2h0M414.3 330.9h0M409.1 318.1h0M396.8 296.9h0M409.7 312.9h0M427.5 302.5h0M416.4 300.0h0M395.8 326.6h0M418.3 304.1h0M399.0 341.0h0M381.8 332.6h0M407.3 337.9h0M398.2 302.4h0M402.7 300.2h0M376.3 304.5h0M384.3 336.1h0M422.0 324.9h0M408.9 301.8h0M421.0 304.8h0M403.4 306.9h0M381.6 328.9h0M417.1 308.9h0M414.0 331.3h0M391.7 297.9h0M418.5 313.4h0M386.7 310.0h0M419.1 331.7h0M408.3 305.0h0M431.5 336.5h0M413.2 340.6h0M376.1 336.8h0M413.0 332.3h0M422.5 297.5h0M385.3 295.3h0M424.3 328.4h0M387.1 318.1h0M415.4 317.7h0M414.3 329.5h0M426.8 336.1h0M421.3 307.4h0M375.5 316.9h0M388.2 305.6h0M390.9 335.2h0M397.1 332.3h0M406.3 321.2h0M432.4 317.2h0M414.7 328.7h0M397.2 296.8h0M410.2 316.6h0M390.3 301.1h0M421.9 330.6h0M418.6 298.9h0M416.2 297.4h0M402.4 321.6h0M386.2 317.1h0M399.3 308.9h0M403.9 317.4h0M430.0 333.2h0M391.5 312.5h0M423.7 315.0h0M420.8 314.3h0M403.2 300.6h0M389.1 320.1h0M398.9 299.5h0M407.9 322.8h0M374.4 330.7h0M381.3 297.7h0M418.2 331.5h0M409.8 300.6h0M432.7 325.5h0M400.3 332.3h0M384.2 306.1h0M374.7 313.6h0M387.8 297.3h0M396.5 305.8h0M427.9 321.8h0M405.6 335.9h0M415.3 316.3h0M375.6 318.9h0M413.1 297.9h0M430.2 305.8h0M400.9 310.6h0M396.6 298.1h0M421.9 323.4h0M385.0 334.8h0" stroke="#1c1040" stroke-width="1.80" stroke-linecap="round" stroke-opacity="1" fill="none"/>
<path d="M379.4 328.4h0M377.0 341.7h0M380.5 305.3h0M383.9 321.3h0M425.1 303.0h0M391.1 304.7h0M380.4 313.0h0M401.7 337.3h0M380.7 302.6h0M421.8 342.8h0M416.6 327.8h0M402.1 296.1h0M426.6 308.4h0M385.0 336.6h0M390.0 319.4h0M423.5 331.9h0M418.7 337.2h0M398.0 312.7h0M401.9 326.0h0M379.1 332.7h0M386.6 320.1h0M430.0 315.1h0M420.7 301.8h0M376.2 326.9h0M431.9 331.1h0M386.6 304.3h0M419.1 311.0h0M406.6 323.3h0M388.4 320.1h0M380.2 342.3h0M406.3 323.7h0M380.0 338.6h0M424.0 320.8h0M430.6 312.3h0M427.8 304.0h0M394.8 324.2h0M389.3 309.0h0M409.1 336.5h0M429.8 332.7h0M379.1 324.1h0M391.6 334.8h0M381.8 336.0h0M380.4 328.8h0M395.1 305.4h0M374.3 340.3h0M430.9 321.7h0M383.7 341.4h0M421.2 316.8h0M431.8 321.3h0M425.6 302.9h0M430.1 315.8h0M403.4 321.6h0M391.6 338.5h0M432.3 299.3h0M416.1 299.5h0M381.3 325.2h0M392.1 299.2h0M415.2 331.2h0M397.1 334.4h0M377.4 326.9h0M395.9 329.1h0M382.3 323.4h0M426.1 328.7h0M385.9 334.2h0M430.8 316.9h0M383.7 309.4h0M409.7 297.0h0M410.0 309.1h0M381.3 326.0h0M430.2 340.8h0M414.7 336.9h0M404.8 303.2h0M388.8 304.7h0M382.7 335.9h0M422.9 324.5h0M377.5 338.2h0M402.4 327.4h0M379.6 341.1h0M418.5 307.7h0M400.1 301.9h0M413.8 297.9h0M425.8 331.1h0M382.9 300.1h0M389.1 334.9h0M384.4 324.1h0M413.9 333.0h0M414.0 331.7h0M428.8 329.1h0M431.4 316.0h0M379.1 326.1h0M381.5 318.9h0M382.3 295.2h0M415.4 307.6h0M375.9 320.6h0M417.5 306.1h0M395.5 318.0h0M387.4 308.7h0" stroke="#3428a0" stroke-width="1.80" stroke-linecap="round" stroke-opacity="1" fill="none"/>
<path d="M408.5 299.7h0M412.7 338.6h0M410.7 323.7h0M415.8 328.6h0M432.1 342.4h0M380.6 320.1h0M393.6 320.2h0M418.3 333.5h0M405.8 320.8h0M425.3 311.1h0M398.9 311.2h0M394.8 334.8h0M417.0 342.4h0M385.3 337.0h0M381.5 316.9h0M393.3 306.3h0M418.6 333.3h0M414.7 341.9h0M392.9 306.9h0M401.7 314.3h0M432.8 339.7h0M420.8 301.9h0M381.3 301.2h0M376.8 340.6h0M375.6 337.7h0M388.8 322.5h0M405.5 323.2h0M401.5 320.5h0M401.3 307.6h0M423.4 297.6h0M376.9 341.5h0M391.7 295.7h0M409.7 324.2h0M425.1 309.3h0M401.1 306.3h0M407.1 331.8h0M389.1 300.6h0M408.5 332.2h0M394.7 297.8h0M432.6 328.9h0M412.7 308.7h0M391.5 335.6h0M379.2 327.2h0M432.6 309.7h0M382.4 305.9h0M378.4 323.7h0M386.4 321.8h0M388.6 312.2h0M408.6 306.0h0M379.3 326.8h0M401.8 326.4h0M374.5 297.1h0M402.3 339.2h0M426.1 295.6h0M419.4 322.0h0M430.8 342.4h0M375.1 329.4h0M416.5 326.6h0M385.7 303.8h0M411.3 308.1h0M384.3 305.9h0M374.0 309.6h0M394.2 309.4h0M379.9 301.2h0M413.6 305.6h0M411.2 339.9h0M399.5 340.4h0M429.7 337.4h0M408.6 295.4h0M419.4 301.7h0M386.9 333.6h0M407.5 334.5h0M386.1 334.9h0M392.6 319.1h0M377.6 304.7h0M414.7 315.0h0M402.7 299.2h0M398.5 309.6h0M390.0 326.2h0M379.9 319.9h0M388.9 316.7h0M376.6 302.8h0M414.9 301.0h0M415.7 342.3h0M409.6 298.3h0M418.4 311.0h0M413.4 319.2h0M416.2 317.0h0M386.9 319.9h0M396.0 327.4h0M408.6 315.4h0M405.1 316.7h0M404.2 337.5h0M394.1 333.3h0M432.8 337.7h0M379.5 311.4h0M432.1 323.2h0M423.2 317.5h0M415.5 301.0h0M405.5 309.0h0M404.5 327.4h0M403.9 328.8h0M397.5 330.8h0M416.5 324.2h0M395.1 315.0h0M417.7 300.8h0" stroke="#22186a" stroke-width="1.80" stroke-linecap="round" stroke-opacity="1" fill="none"/>
<path d="M399.8 299.3h0M399.0 295.9h0M403.4 329.2h0M428.0 326.7h0M403.4 326.8h0M419.9 330.0h0M407.4 328.3h0M396.8 332.4h0M395.6 316.5h0M390.0 332.9h0M413.7 337.8h0M398.6 334.2h0M376.0 321.9h0M421.5 322.0h0M429.6 329.8h0M420.1 302.4h0M412.3 308.1h0M408.5 308.1h0M422.2 324.9h0M408.9 301.8h0M415.8 342.3h0M379.1 302.9h0M384.2 338.2h0M411.9 320.4h0M404.7 310.6h0M406.7 306.4h0M404.0 317.9h0M397.4 311.7h0M411.2 332.4h0M380.4 337.0h0M417.1 300.8h0M429.6 322.9h0M431.1 295.8h0M429.7 332.0h0M418.8 308.6h0M379.5 310.0h0M374.9 316.6h0M406.1 336.5h0M410.7 336.1h0M388.7 337.5h0M431.7 340.7h0M422.9 300.4h0M418.6 315.2h0M407.7 328.7h0M400.5 308.8h0M380.6 340.6h0M413.2 322.3h0M398.1 311.6h0M412.8 312.8h0M431.8 313.3h0M403.1 336.6h0M388.8 329.7h0M414.2 323.2h0M403.6 295.1h0M394.8 319.7h0M421.1 301.1h0M397.2 336.8h0M391.4 337.1h0M393.6 337.9h0M403.8 328.2h0M385.8 305.8h0M396.2 311.3h0M377.5 337.8h0M430.0 332.4h0M377.6 333.6h0M404.8 316.2h0M393.6 320.6h0M427.7 297.3h0M391.6 336.9h0M407.1 329.6h0M430.7 300.4h0M418.5 328.2h0M417.3 307.6h0M396.6 332.4h0M408.2 325.3h0M403.4 302.7h0M423.8 342.2h0M381.8 319.4h0M387.9 295.3h0M422.0 340.9h0M406.2 335.9h0M417.7 330.9h0M424.2 310.5h0M394.2 308.3h0M415.9 311.9h0M405.3 332.7h0M384.0 325.8h0M389.2 309.6h0M414.2 318.8h0M397.4 329.0h0M413.7 340.7h0M413.5 295.0h0M378.8 315.1h0M422.5 312.5h0" stroke="#3a1a2a" stroke-width="1.80" stroke-linecap="round" stroke-opacity="1" fill="none"/>
<path d="M391.9 323.7h0M419.1 318.9h0M389.2 335.6h0M418.3 298.4h0M389.1 330.6h0M378.9 327.3h0M429.4 340.3h0M411.1 300.4h0M377.3 324.2h0M399.8 320.0h0M427.3 296.5h0M417.8 324.5h0M419.1 342.1h0M404.9 309.6h0M405.1 320.3h0M424.4 325.7h0M381.0 342.9h0M384.1 314.4h0M420.3 342.5h0M383.2 307.6h0M413.3 305.5h0M429.2 318.0h0M425.7 302.3h0M401.0 318.8h0M428.8 342.1h0M394.0 326.4h0M431.0 296.5h0M419.2 324.9h0M416.9 327.7h0M386.6 310.4h0M423.0 298.9h0M427.8 329.6h0M394.6 306.9h0M394.0 321.5h0M422.7 319.1h0M425.1 319.7h0M402.2 302.3h0M422.6 335.7h0M430.8 310.0h0M414.8 333.2h0M418.0 319.3h0M408.4 332.8h0M376.9 296.8h0M393.5 330.6h0M393.9 322.1h0M432.4 296.9h0M385.3 303.9h0M415.0 308.3h0M382.1 324.7h0M413.2 316.0h0M382.1 323.0h0M406.3 295.4h0M396.6 333.3h0M389.4 330.2h0M415.8 317.3h0M386.8 326.2h0M407.9 314.0h0M383.2 325.3h0M411.9 329.3h0M400.9 333.1h0M374.1 334.8h0M383.0 339.7h0M403.7 296.1h0M412.1 317.4h0M376.2 307.2h0M413.9 320.4h0M432.4 317.4h0M386.6 303.4h0M432.1 322.1h0M406.1 319.8h0M375.7 306.5h0M400.0 338.1h0M417.0 298.1h0M391.4 336.9h0M416.5 325.5h0M426.6 311.5h0M391.5 318.5h0M396.8 342.3h0M391.2 308.7h0M389.5 339.2h0M394.5 296.6h0M379.6 297.7h0M432.5 338.0h0M378.9 328.4h0M394.5 316.1h0M428.0 298.5h0" stroke="#3a2898" stroke-width="1.80" stroke-linecap="round" stroke-opacity="1" fill="none"/>
<path d="M402.4 324.6h0M428.9 335.4h0M395.8 328.5h0M430.9 301.7h0M395.4 313.8h0M391.6 311.9h0M417.1 295.8h0M426.7 325.6h0M376.7 328.4h0M430.0 295.7h0M426.8 303.5h0M378.1 310.4h0M406.3 301.3h0M396.6 303.4h0M382.0 332.4h0M422.5 304.1h0M375.8 335.3h0M414.6 296.6h0M429.0 320.0h0M428.2 309.9h0M414.1 329.1h0M393.7 336.5h0M387.2 333.4h0M389.1 314.0h0M410.9 306.8h0M374.1 339.0h0M385.5 317.0h0M427.7 323.3h0M415.7 302.5h0M399.6 313.0h0M414.5 299.6h0M430.8 332.4h0M396.3 334.1h0M386.2 333.2h0M374.3 321.6h0M383.2 334.5h0M388.5 318.2h0M427.7 334.4h0M432.3 332.1h0M389.8 300.7h0" stroke="#2a1a22" stroke-width="3.20" stroke-linecap="round" stroke-opacity="0.8" fill="none"/>
<path d="M402.6 306.6h0M413.8 321.2h0M400.0 327.6h0M405.6 323.2h0M377.6 302.7h0M418.4 337.0h0M392.2 317.3h0M396.7 323.1h0M417.4 325.9h0M411.9 330.1h0M425.0 303.9h0M375.0 338.1h0M415.6 323.8h0M424.7 300.8h0M419.6 330.8h0M402.9 320.9h0M425.1 317.0h0M414.8 342.2h0M374.9 304.7h0M427.7 333.1h0M415.9 318.5h0M407.7 331.5h0M416.5 317.4h0M390.5 310.1h0M414.5 337.2h0M393.6 331.8h0M414.4 301.0h0M432.7 341.2h0M391.0 338.4h0M402.1 341.9h0M383.0 312.5h0M376.6 306.0h0M396.7 316.9h0M394.0 300.7h0M390.7 326.3h0" stroke="#3a2a2a" stroke-width="3.20" stroke-linecap="round" stroke-opacity="0.8" fill="none"/>
<path d="M400.0 302.7h0M396.5 318.3h0M376.8 325.9h0M413.6 295.5h0M388.9 295.2h0M383.5 342.5h0M395.9 319.4h0M404.1 304.3h0M392.0 335.1h0M426.3 334.2h0M407.4 311.7h0M405.6 319.4h0M377.4 325.5h0M378.6 313.1h0M394.6 324.8h0M391.5 312.2h0M408.8 320.8h0M420.9 302.1h0M409.3 324.1h0M418.1 312.2h0M398.9 305.5h0M425.6 314.3h0M426.1 317.0h0M396.1 337.9h0M403.5 328.4h0M427.2 305.9h0M386.2 297.9h0M378.0 302.6h0M406.2 318.2h0M386.7 296.8h0M379.9 297.5h0M387.3 314.0h0M419.3 337.7h0M376.8 308.6h0M384.1 296.7h0" stroke="#24141c" stroke-width="3.20" stroke-linecap="round" stroke-opacity="0.8" fill="none"/>
</g>
<path d="M437.1 332.4h0M440.2 330.7h0" stroke="#2a8a2a" stroke-width="1.20" stroke-linecap="round" stroke-opacity="1" fill="none"/>
<path d="M437.9 331.3h0M436.6 334.8h0M437.0 335.1h0" stroke="#3aa03a" stroke-width="1.20" stroke-linecap="round" stroke-opacity="1" fill="none"/>
<path d="M438.6 335.4h0M440.3 334.0h0M439.6 333.1h0M438.3 335.1h0M439.6 332.0h0" stroke="#1a6a1a" stroke-width="1.20" stroke-linecap="round" stroke-opacity="1" fill="none"/>
</g></g>
<path d="M381.9 301.6C383.7 300.1 385.8 298.7 388.6 297.8C391.4 296.9 395.1 296.3 398.8 296.1C402.5 295.9 407.3 296.1 410.7 296.5C414.1 296.9 416.7 297.5 419.2 298.5C421.7 299.5 424.1 300.8 425.9 302.4C427.7 304.0 429.3 305.9 430.2 308.3C431.1 310.7 431.3 314.0 431.4 316.8C431.5 319.6 431.3 322.5 430.7 325.3C430.1 328.1 429.2 331.6 427.6 333.8C426.0 336.1 423.3 337.5 420.8 338.8C418.3 340.1 415.2 341.3 412.4 341.9C409.6 342.5 406.4 342.8 403.9 342.2C401.3 341.6 399.1 339.8 397.1 338.0C395.1 336.2 394.0 333.2 392.0 331.2C390.0 329.2 387.6 327.5 385.3 326.1C383.1 324.7 380.1 324.5 378.5 322.7C376.9 320.9 376.0 317.8 375.9 315.1C375.8 312.4 376.6 308.9 377.6 306.6C378.6 304.4 380.1 303.1 381.9 301.6Z" fill="none" stroke="#f0f0f0" stroke-width="1.6" stroke-dasharray="5 2.9" stroke-linecap="butt"/>
<rect x="373.6" y="339.6" width="22" height="2.1" fill="#f4f4f4"/>
<clipPath id="c19"><path d="M449 289.2H520V345.5H449Z"/></clipPath>
<g clip-path="url(#c19)"><g filter="url(#mb)">
<rect x="447" y="287.2" width="75" height="60.30000000000001" fill="#1e1e21"/>
<path d="M462.7 321.1h0M481.7 326.3h0M486.1 326.8h0M468.2 327.8h0M466.6 289.3h0M493.2 337.6h0M505.8 333.9h0M490.5 306.0h0M475.4 318.8h0M451.7 327.3h0M508.9 309.7h0M485.9 330.0h0M512.7 300.7h0M503.9 290.3h0M467.1 341.0h0M450.0 317.9h0M480.0 314.2h0M501.6 308.1h0M513.9 292.3h0M506.7 317.2h0M466.0 296.3h0M466.1 290.0h0M517.0 310.7h0M476.2 305.4h0M497.8 330.5h0M489.3 332.5h0M498.5 304.0h0M462.6 340.0h0M495.3 318.4h0M492.6 309.2h0M460.2 314.6h0M507.3 318.2h0M514.0 289.4h0M479.0 301.9h0M467.4 337.4h0M483.8 294.7h0M509.9 325.1h0M471.7 315.6h0M466.6 296.1h0M475.8 303.6h0M499.1 326.6h0M473.8 295.4h0M480.4 336.2h0M484.5 295.5h0M473.3 321.7h0M483.7 338.3h0M459.0 289.9h0M484.4 307.5h0M518.6 292.2h0M466.9 324.4h0M492.4 342.0h0M517.6 308.0h0M461.8 339.2h0M467.4 296.7h0M519.7 316.9h0M515.4 293.0h0M495.2 297.1h0M483.9 300.3h0M515.6 321.6h0M495.7 299.0h0M453.1 328.8h0M506.7 294.3h0M489.0 299.5h0M460.2 331.6h0M507.3 328.1h0M463.7 308.0h0M462.9 300.6h0M450.5 299.4h0M460.2 303.9h0M492.7 305.6h0M452.0 339.2h0M464.1 297.8h0M450.5 332.9h0M512.8 321.7h0M495.1 309.6h0M461.2 297.1h0M495.4 310.1h0M505.8 334.0h0M486.5 344.5h0M498.7 345.1h0M516.7 300.5h0M473.4 303.4h0M482.4 323.4h0M455.8 305.5h0M504.7 337.3h0M490.4 330.2h0M497.5 336.4h0M514.9 322.3h0M501.7 331.9h0M517.5 296.3h0M495.9 299.0h0M511.0 320.4h0M472.7 327.4h0M503.2 322.2h0M496.1 334.2h0M478.8 339.8h0M515.8 303.1h0M495.4 343.9h0M468.4 331.6h0M474.4 325.5h0M472.5 329.9h0M487.2 343.7h0M485.0 325.4h0M492.6 313.3h0M471.1 290.0h0M471.6 325.4h0M449.8 318.8h0M493.0 318.5h0M499.1 329.3h0M492.3 320.9h0M473.8 332.6h0M464.2 301.5h0M500.4 308.2h0M481.7 325.5h0M452.8 311.3h0M484.1 320.3h0M470.0 319.7h0M481.3 338.9h0M468.0 321.2h0M499.4 327.0h0M479.1 328.5h0M509.0 330.4h0M462.0 325.9h0M517.5 336.0h0M509.0 309.2h0M464.8 340.6h0M511.5 344.5h0M513.3 331.1h0M475.7 296.1h0M475.8 339.8h0" stroke="#2a2a3a" stroke-width="1.70" stroke-linecap="round" stroke-opacity="1" fill="none"/>
<path d="M451.6 315.5h0M464.9 302.7h0M495.5 344.4h0M472.3 341.9h0M472.4 316.9h0M474.8 297.8h0M475.4 302.2h0M508.5 329.0h0M463.3 343.2h0M472.2 339.8h0M510.3 329.3h0M484.9 320.4h0M473.9 308.2h0M493.3 304.1h0M474.2 297.1h0M465.4 320.0h0M516.5 313.1h0M463.3 332.6h0M463.6 310.5h0M483.7 340.3h0M461.0 330.4h0M486.6 296.6h0M483.8 292.0h0M459.0 334.9h0M468.1 311.8h0M487.2 292.3h0M507.2 309.5h0M489.0 340.5h0M480.2 328.5h0M507.7 289.7h0M477.6 301.4h0M469.7 332.4h0M479.6 335.6h0M474.0 304.5h0M493.5 334.3h0M454.1 291.9h0M449.8 324.6h0M501.3 300.4h0M509.1 326.6h0M465.9 321.0h0M490.6 293.6h0M488.3 292.2h0M485.7 295.3h0M492.9 308.7h0M471.3 320.2h0M464.2 311.9h0M512.3 321.3h0M514.1 301.1h0M469.5 316.6h0M510.9 297.4h0M478.4 290.9h0M460.6 315.2h0M498.1 308.0h0M489.4 293.0h0M457.4 308.3h0M513.1 291.8h0M506.2 300.7h0M483.0 327.8h0M449.7 303.8h0M457.2 303.9h0M505.8 338.0h0M475.5 335.1h0M473.4 295.5h0M506.1 310.8h0M450.7 313.2h0M512.7 330.9h0M476.6 313.9h0M497.7 331.9h0M513.0 332.5h0M476.8 310.7h0M490.2 322.0h0M472.8 333.5h0M515.0 309.4h0M509.4 336.1h0M450.2 340.6h0M462.9 343.6h0M456.3 328.4h0M461.8 290.5h0M500.3 298.0h0M467.3 308.2h0M474.0 330.3h0M507.0 299.2h0M464.6 331.2h0M493.8 305.3h0M450.3 296.7h0M458.5 311.1h0M510.4 344.6h0M449.2 291.6h0M515.5 321.1h0M460.7 315.2h0M469.8 305.7h0M510.6 310.4h0M474.5 296.8h0M488.7 320.1h0M472.8 304.5h0M457.8 308.6h0M483.7 334.7h0M513.6 333.0h0M462.9 344.4h0" stroke="#34343e" stroke-width="1.70" stroke-linecap="round" stroke-opacity="1" fill="none"/>
<path d="M484.4 338.0h0M468.1 341.2h0M516.0 300.5h0M515.3 303.7h0M493.9 300.9h0M513.8 296.7h0M486.9 299.7h0M491.2 307.6h0M507.8 318.0h0M490.9 299.7h0M518.9 314.8h0M463.4 295.4h0M492.8 334.7h0M508.3 290.1h0M504.9 290.1h0M506.4 305.9h0M471.8 339.5h0M462.8 342.7h0M512.9 331.9h0M471.6 330.2h0M453.5 309.4h0M504.0 310.3h0M514.4 315.2h0M485.3 344.8h0M471.8 314.0h0M488.2 341.4h0M489.8 335.0h0M457.6 306.7h0M478.5 320.4h0M491.5 328.9h0M483.6 342.0h0M479.6 299.6h0M464.7 315.2h0M505.6 323.3h0M514.6 299.0h0M466.2 302.9h0M493.2 311.0h0M466.1 328.8h0M492.0 305.9h0M484.7 306.5h0M475.5 340.9h0M474.9 318.1h0M493.8 304.5h0M508.1 300.5h0M465.3 339.0h0M506.9 343.0h0M505.4 323.9h0M473.5 342.7h0M513.1 291.2h0M507.9 340.0h0M456.1 340.2h0M469.6 295.2h0M455.0 328.1h0M476.6 298.2h0M470.7 330.2h0M453.5 304.9h0M472.4 303.7h0M501.5 342.3h0M473.3 329.3h0M505.6 295.1h0M511.0 306.6h0M509.9 298.6h0M467.6 343.6h0M518.2 298.8h0M455.1 323.5h0M467.9 289.9h0M452.5 294.9h0M471.7 317.4h0M501.3 327.9h0M516.1 340.0h0M453.1 291.3h0M473.2 291.7h0M458.6 311.4h0M481.6 338.0h0M486.4 294.7h0M460.8 312.8h0M498.6 323.3h0M468.1 295.8h0M516.7 296.4h0M491.2 293.1h0M487.6 314.8h0M454.8 311.0h0M470.7 328.2h0M458.2 292.4h0M480.8 323.4h0M507.0 345.3h0M450.8 343.4h0M519.2 332.3h0M476.8 338.2h0M462.8 324.2h0M483.5 297.9h0M462.3 315.4h0M457.4 332.8h0M473.9 340.0h0M494.8 326.6h0M492.3 326.2h0M483.5 317.1h0M511.2 292.4h0M514.6 300.0h0M469.9 332.9h0M474.1 307.6h0M476.8 300.3h0M495.1 324.5h0M505.8 329.9h0M484.7 311.0h0M512.2 332.9h0M463.2 310.1h0M493.7 310.0h0M494.9 330.5h0M465.2 325.7h0M454.1 309.7h0" stroke="#2e2e38" stroke-width="1.70" stroke-linecap="round" stroke-opacity="1" fill="none"/>
<path d="M463.9 315.9h0M505.4 303.6h0M497.7 304.7h0M507.3 334.3h0M516.1 295.9h0M486.9 328.1h0M510.9 291.0h0M463.4 292.0h0M495.6 317.9h0M516.4 291.5h0M471.0 314.6h0M488.0 333.4h0M479.9 323.1h0M511.1 338.9h0M458.6 328.5h0M478.8 314.0h0M507.9 340.9h0M450.1 292.3h0M504.1 342.1h0M484.4 298.1h0M461.9 289.8h0M496.9 314.3h0M502.7 289.6h0M487.2 331.1h0M503.1 341.0h0M484.3 300.2h0M459.1 292.5h0M519.0 313.5h0M475.5 301.3h0M476.0 330.0h0M485.0 290.3h0M489.6 329.7h0M461.7 326.2h0M513.7 332.0h0M465.0 315.7h0M479.6 333.7h0M481.9 299.5h0M500.2 324.4h0M498.6 298.3h0M509.7 333.1h0M481.2 314.2h0M466.6 291.8h0M474.1 332.4h0M490.7 299.4h0M470.3 316.8h0M510.6 298.9h0M495.7 314.6h0M466.7 310.0h0M450.5 332.0h0M515.0 342.2h0M457.1 313.5h0M473.4 329.6h0M460.8 321.9h0M454.5 344.2h0M488.3 302.7h0M474.2 310.4h0M490.9 303.7h0M456.9 316.4h0M502.8 338.4h0M467.0 344.6h0M454.6 292.2h0M480.8 299.9h0M462.5 336.5h0M505.4 309.2h0M469.4 328.9h0M500.0 331.3h0M465.3 332.3h0M480.8 305.4h0M505.5 339.0h0M494.3 295.6h0M488.9 335.1h0M464.3 322.7h0M490.4 331.7h0M478.6 335.5h0M454.2 307.5h0M514.3 295.9h0M493.9 336.4h0M479.7 290.5h0M519.1 303.8h0M500.7 326.4h0M473.9 305.6h0M497.5 322.9h0M462.0 290.0h0M469.8 302.2h0M455.5 340.6h0M504.1 335.4h0M515.8 292.0h0M506.2 339.7h0M500.8 308.8h0M459.0 330.2h0M478.7 315.8h0M496.6 305.7h0M472.9 313.7h0M483.7 326.6h0M465.8 323.4h0M491.8 325.9h0M507.9 321.8h0M467.6 294.6h0M489.9 317.0h0M463.5 295.5h0M483.7 307.4h0M471.4 340.4h0M470.7 295.8h0M490.7 328.7h0M484.3 312.3h0M474.9 295.8h0M455.5 302.8h0M490.4 320.7h0M458.1 333.5h0M495.3 307.8h0M481.2 341.1h0M513.1 330.5h0M483.1 312.4h0M497.3 337.9h0M516.9 322.3h0M484.1 318.6h0M497.6 343.5h0M449.3 292.7h0M472.8 292.6h0M488.0 290.7h0M459.1 334.1h0M484.7 329.5h0M505.7 325.2h0M454.3 296.9h0M465.1 310.2h0" stroke="#242432" stroke-width="1.70" stroke-linecap="round" stroke-opacity="1" fill="none"/>
<path d="M453.6 309.7h0M519.8 325.9h0M495.3 316.3h0M489.7 302.2h0M465.5 342.7h0M502.4 309.9h0M482.9 322.4h0M459.7 339.0h0M468.3 342.0h0M465.2 311.8h0M456.6 310.6h0M461.4 293.5h0M497.5 314.3h0M480.7 329.6h0M475.8 304.8h0M507.8 320.7h0M491.6 296.3h0M494.4 316.3h0M460.9 336.7h0M514.2 327.5h0M519.0 340.7h0M454.3 322.4h0M472.3 335.3h0M499.6 289.3h0M494.4 332.6h0M514.0 333.6h0M518.4 329.2h0M475.4 295.4h0M466.6 289.3h0M509.7 292.3h0M459.8 312.9h0M503.3 309.1h0M477.0 339.5h0M459.0 344.1h0M480.7 293.7h0M503.7 293.4h0M455.3 328.5h0M473.7 329.7h0M514.8 311.8h0M461.7 298.5h0M450.6 328.8h0M475.2 291.5h0M485.1 296.0h0M458.9 315.9h0M503.8 304.6h0M516.3 334.8h0M470.2 312.3h0M501.1 324.2h0M514.9 308.4h0M473.3 330.1h0M472.2 315.1h0M502.6 333.2h0M489.5 312.2h0M499.4 331.7h0M514.7 313.2h0M472.6 306.6h0M486.4 324.2h0M455.3 344.5h0M502.5 319.7h0M516.0 334.5h0M478.1 331.5h0M493.6 321.9h0M508.2 302.4h0M485.1 325.1h0M477.8 290.4h0M515.4 314.0h0M465.7 324.3h0M461.9 327.6h0M502.9 306.3h0M496.4 320.2h0M510.5 334.3h0M489.4 313.4h0M503.1 330.2h0M480.4 330.7h0M455.5 292.5h0M460.9 289.6h0M494.3 310.9h0M510.2 297.0h0M468.9 303.3h0M449.5 340.1h0M485.1 325.7h0M502.0 296.2h0M500.8 325.5h0M513.1 306.3h0M479.1 327.9h0M458.6 307.0h0M471.5 318.7h0M487.5 291.6h0M500.9 324.5h0M495.1 329.7h0M507.1 318.5h0M500.7 329.0h0M457.2 342.4h0M456.1 339.0h0M466.4 308.5h0M484.6 342.6h0M506.4 300.9h0M451.2 316.5h0M449.1 289.6h0M481.4 327.0h0M511.4 323.7h0M450.9 316.2h0M513.2 290.6h0M456.4 341.8h0M453.3 298.2h0M481.1 302.2h0M494.9 291.5h0M485.8 291.1h0M485.9 292.2h0M487.4 334.9h0M487.6 296.7h0M458.6 304.2h0M474.7 324.4h0M464.0 296.0h0M505.0 289.6h0M456.6 316.3h0M486.7 308.6h0M518.2 305.8h0M482.7 297.0h0M470.1 301.7h0M513.5 300.8h0M495.4 311.6h0M495.6 318.1h0M510.0 306.3h0M480.9 321.0h0M475.3 291.2h0M477.6 303.9h0M474.6 320.0h0M519.1 341.5h0M460.8 305.5h0" stroke="#141416" stroke-width="1.70" stroke-linecap="round" stroke-opacity="1" fill="none"/>
<path d="M453.6 328.2h0M480.9 301.3h0M454.5 291.3h0M502.1 301.6h0M502.8 328.3h0M505.6 318.5h0M498.6 312.8h0M517.7 311.8h0M483.0 306.6h0M469.9 311.6h0M488.8 299.4h0M485.0 309.2h0M514.7 323.1h0M457.1 333.6h0M505.2 291.7h0M510.1 314.1h0M490.3 299.1h0M462.3 314.9h0M481.5 322.6h0M512.3 309.1h0M517.5 313.2h0M465.6 323.2h0M496.3 319.0h0M468.2 330.9h0M510.9 311.5h0M474.1 321.6h0M465.2 326.7h0M454.3 297.7h0M450.1 295.6h0M495.8 332.6h0M501.7 311.1h0M517.7 308.0h0M501.6 331.4h0M494.9 330.0h0M480.1 332.6h0M514.4 320.4h0M495.5 299.4h0M493.9 326.2h0M504.6 323.6h0M497.3 315.4h0M459.6 315.9h0M499.0 332.1h0M505.0 318.4h0M504.0 293.1h0M513.1 314.6h0M509.7 340.5h0M479.3 341.4h0M476.8 312.1h0M459.0 298.0h0M449.3 330.3h0M487.0 313.5h0M449.7 326.6h0M515.1 316.2h0M507.8 300.8h0M512.3 334.9h0M511.1 337.6h0M517.9 292.1h0M481.0 302.0h0M496.9 344.4h0M476.0 334.4h0M462.0 290.3h0M503.1 339.3h0M487.3 306.3h0M468.5 292.0h0M476.5 290.5h0M508.4 310.0h0M459.3 334.2h0M517.9 305.4h0M519.1 345.4h0M459.2 297.0h0M478.9 337.2h0M482.6 291.0h0M450.6 331.5h0M505.6 305.6h0M519.4 323.6h0M475.3 298.0h0M507.6 296.7h0M491.5 339.2h0M483.2 304.2h0M491.1 308.8h0M496.3 329.0h0M452.0 298.9h0M450.0 340.0h0M508.7 315.5h0M449.8 314.5h0M461.3 341.2h0M464.1 314.0h0M480.3 328.6h0M451.0 331.5h0M501.7 317.3h0M516.4 300.1h0M481.6 313.7h0M478.9 321.9h0M492.0 325.4h0M472.5 302.8h0M494.2 324.2h0M492.2 298.7h0M453.5 341.2h0M501.7 341.1h0M516.2 299.4h0M498.8 309.1h0M459.1 294.8h0M449.2 296.0h0M499.8 336.7h0M517.5 337.3h0" stroke="#28282c" stroke-width="1.70" stroke-linecap="round" stroke-opacity="1" fill="none"/>
<path d="M477.3 313.4h0M476.2 331.5h0M487.5 308.4h0M469.9 306.8h0M467.1 330.5h0M466.9 338.5h0M463.8 313.7h0M480.6 337.6h0M488.0 325.7h0M488.0 309.0h0M494.8 310.2h0M466.9 308.2h0M465.0 328.3h0M479.7 337.6h0M485.5 300.4h0M494.1 330.8h0M460.0 330.0h0M462.2 334.9h0M473.8 312.0h0M486.0 336.1h0" stroke="#2e2e44" stroke-width="2.00" stroke-linecap="round" stroke-opacity="1" fill="none"/>
<path d="M472.4 328.9h0M485.6 301.6h0M464.2 320.2h0M493.9 326.3h0M488.0 309.1h0M486.2 339.6h0M498.3 300.4h0M503.2 329.8h0M495.6 323.7h0M498.1 325.8h0M476.4 333.9h0M502.9 316.7h0M497.2 339.0h0M482.3 330.1h0M488.8 332.1h0M497.3 312.3h0M484.2 331.6h0M495.9 314.5h0" stroke="#3a3a50" stroke-width="2.00" stroke-linecap="round" stroke-opacity="1" fill="none"/>
<path d="M473.1 309.4h0M501.0 301.3h0M465.0 314.3h0M503.1 317.0h0M492.5 338.8h0M500.8 318.6h0M489.5 312.7h0M497.2 311.3h0M502.2 328.0h0M495.3 323.6h0M469.4 304.9h0M484.9 314.4h0M499.4 304.0h0M483.1 301.7h0M467.7 302.9h0M478.7 324.0h0M465.5 322.0h0M458.9 337.4h0M474.4 336.8h0M462.2 306.0h0M498.6 308.0h0M467.7 331.0h0" stroke="#34344a" stroke-width="2.00" stroke-linecap="round" stroke-opacity="1" fill="none"/>
<path d="M476.7 314.3h0M476.0 314.6h0M479.0 313.8h0M478.6 312.6h0M478.9 315.6h0M476.7 315.6h0" stroke="#5a5a66" stroke-width="1.60" stroke-linecap="round" stroke-opacity="1" fill="none"/>
<path d="M486.2 308.6h0M488.4 308.5h0M488.2 308.7h0M488.1 308.3h0M487.5 307.0h0" stroke="#505060" stroke-width="1.60" stroke-linecap="round" stroke-opacity="1" fill="none"/>
<path d="M491.7 332.3h0M493.2 330.4h0M492.0 332.4h0M491.3 330.2h0M491.2 331.8h0" stroke="#505060" stroke-width="1.60" stroke-linecap="round" stroke-opacity="1" fill="none"/>
</g></g>
<path d="M458.9 301.6C460.7 300.1 462.8 298.7 465.6 297.8C468.4 296.9 472.1 296.3 475.8 296.1C479.5 295.9 484.3 296.1 487.7 296.5C491.1 296.9 493.7 297.5 496.2 298.5C498.7 299.5 501.1 300.8 502.9 302.4C504.7 304.0 506.3 305.9 507.2 308.3C508.1 310.7 508.3 314.0 508.4 316.8C508.5 319.6 508.3 322.5 507.7 325.3C507.1 328.1 506.2 331.6 504.6 333.8C503.0 336.1 500.3 337.5 497.8 338.8C495.3 340.1 492.2 341.3 489.4 341.9C486.6 342.5 483.4 342.8 480.9 342.2C478.3 341.6 476.1 339.8 474.1 338.0C472.1 336.2 471.0 333.2 469.0 331.2C467.0 329.2 464.6 327.5 462.3 326.1C460.1 324.7 457.1 324.5 455.5 322.7C453.9 320.9 453.0 317.8 452.9 315.1C452.8 312.4 453.6 308.9 454.6 306.6C455.6 304.4 457.1 303.1 458.9 301.6Z" fill="none" stroke="#cfcf3c" stroke-width="1.75" stroke-dasharray="5.3 3.7" stroke-linecap="butt"/>
</g>
<g filter="url(#gb)" stroke-width="0.27"><text x="48.20" y="7.70" font-size="8" text-anchor="middle" fill="#1c1c1c" stroke="#1c1c1c">Human</text>
<text x="109.20" y="7.70" font-size="8" text-anchor="middle" fill="#1c1c1c" stroke="#1c1c1c">Mouse</text>
<text x="33.60" y="17.00" font-size="8" text-anchor="middle" fill="#1c1c1c" stroke="#1c1c1c">DZ</text>
<text x="62.80" y="17.00" font-size="8" text-anchor="middle" fill="#1c1c1c" stroke="#1c1c1c">LZ</text>
<text x="94.55" y="17.00" font-size="8" text-anchor="middle" fill="#1c1c1c" stroke="#1c1c1c">DZ</text>
<text x="123.95" y="17.00" font-size="8" text-anchor="middle" fill="#1c1c1c" stroke="#1c1c1c">LZ</text>
<text x="226.18" y="7.70" font-size="8" text-anchor="middle" fill="#1c1c1c" stroke="#1c1c1c">Human</text>
<text x="287.05" y="7.70" font-size="8" text-anchor="middle" fill="#1c1c1c" stroke="#1c1c1c">Mouse</text>
<text x="211.50" y="17.00" font-size="8" text-anchor="middle" fill="#1c1c1c" stroke="#1c1c1c">DZ</text>
<text x="240.57" y="17.00" font-size="8" text-anchor="middle" fill="#1c1c1c" stroke="#1c1c1c">LZ</text>
<text x="272.60" y="17.00" font-size="8" text-anchor="middle" fill="#1c1c1c" stroke="#1c1c1c">DZ</text>
<text x="301.55" y="17.00" font-size="8" text-anchor="middle" fill="#1c1c1c" stroke="#1c1c1c">LZ</text>
<text x="403.18" y="7.70" font-size="8" text-anchor="middle" fill="#1c1c1c" stroke="#1c1c1c">Human</text>
<text x="464.20" y="7.70" font-size="8" text-anchor="middle" fill="#1c1c1c" stroke="#1c1c1c">Mouse</text>
<text x="388.68" y="17.00" font-size="8" text-anchor="middle" fill="#1c1c1c" stroke="#1c1c1c">DZ</text>
<text x="417.75" y="17.00" font-size="8" text-anchor="middle" fill="#1c1c1c" stroke="#1c1c1c">LZ</text>
<text x="449.68" y="17.00" font-size="8" text-anchor="middle" fill="#1c1c1c" stroke="#1c1c1c">DZ</text>
<text x="478.77" y="17.00" font-size="8" text-anchor="middle" fill="#1c1c1c" stroke="#1c1c1c">LZ</text>
<text x="141.70" y="26.69" font-size="6.2" font-style="italic" fill="#202020" stroke="#202020" stroke-width="0.14">CCND2</text>
<text x="141.70" y="33.96" font-size="6.2" font-style="italic" fill="#202020" stroke="#202020" stroke-width="0.14">CCND3</text>
<text x="141.70" y="41.24" font-size="6.2" font-style="italic" fill="#202020" stroke="#202020" stroke-width="0.14">CCNA2</text>
<text x="141.70" y="48.51" font-size="6.2" font-style="italic" fill="#202020" stroke="#202020" stroke-width="0.14">CCNB1</text>
<text x="141.70" y="55.79" font-size="6.2" font-style="italic" fill="#202020" stroke="#202020" stroke-width="0.14">CCNB2</text>
<text x="141.70" y="63.06" font-size="6.2" font-style="italic" fill="#202020" stroke="#202020" stroke-width="0.14">AURKA</text>
<text x="141.70" y="70.34" font-size="6.2" font-style="italic" fill="#202020" stroke="#202020" stroke-width="0.14">CDC20</text>
<text x="141.70" y="77.61" font-size="6.2" font-style="italic" fill="#202020" stroke="#202020" stroke-width="0.14">PLK1</text>
<text x="141.70" y="84.89" font-size="6.2" font-style="italic" fill="#202020" stroke="#202020" stroke-width="0.14">CDKN3</text>
<text x="141.70" y="92.16" font-size="6.2" font-style="italic" fill="#202020" stroke="#202020" stroke-width="0.14">CDKN2D</text>
<text x="141.70" y="102.42" font-size="6.2" font-style="italic" fill="#202020" stroke="#202020" stroke-width="0.14">AICDA</text>
<text x="141.70" y="109.67" font-size="6.2" font-style="italic" fill="#202020" stroke="#202020" stroke-width="0.14">POLH</text>
<text x="141.70" y="116.92" font-size="6.2" font-style="italic" fill="#202020" stroke="#202020" stroke-width="0.14">DNASE1</text>
<text x="141.70" y="124.17" font-size="6.2" font-style="italic" fill="#202020" stroke="#202020" stroke-width="0.14">LIG4</text>
<text x="141.70" y="131.43" font-size="6.2" font-style="italic" fill="#202020" stroke="#202020" stroke-width="0.14">APEX1</text>
<text x="319.30" y="26.68" font-size="6.2" font-style="italic" fill="#202020" stroke="#202020" stroke-width="0.14">CXCR4</text>
<text x="319.30" y="33.94" font-size="6.2" font-style="italic" fill="#202020" stroke="#202020" stroke-width="0.14">HMMR</text>
<text x="319.30" y="41.20" font-size="6.2" font-style="italic" fill="#202020" stroke="#202020" stroke-width="0.14">GPR183</text>
<text x="319.30" y="48.46" font-size="6.2" font-style="italic" fill="#202020" stroke="#202020" stroke-width="0.14">CD40</text>
<text x="319.30" y="55.72" font-size="6.2" font-style="italic" fill="#202020" stroke="#202020" stroke-width="0.14">CD83</text>
<text x="319.30" y="62.98" font-size="6.2" font-style="italic" fill="#202020" stroke="#202020" stroke-width="0.14">CD86</text>
<text x="319.30" y="70.24" font-size="6.2" font-style="italic" fill="#202020" stroke="#202020" stroke-width="0.14">CD72</text>
<text x="319.30" y="77.50" font-size="6.2" font-style="italic" fill="#202020" stroke="#202020" stroke-width="0.14">SLAMF1</text>
<text x="319.30" y="84.76" font-size="6.2" font-style="italic" fill="#202020" stroke="#202020" stroke-width="0.14">ICAM1</text>
<text x="319.30" y="92.02" font-size="6.2" font-style="italic" fill="#202020" stroke="#202020" stroke-width="0.14">SEMA7A</text>
<text x="319.30" y="99.28" font-size="6.2" font-style="italic" fill="#202020" stroke="#202020" stroke-width="0.14">IL2RG</text>
<text x="319.30" y="109.97" font-size="6.2" font-style="italic" fill="#202020" stroke="#202020" stroke-width="0.14">NFKBIA</text>
<text x="319.30" y="117.30" font-size="6.2" font-style="italic" fill="#202020" stroke="#202020" stroke-width="0.14">BID</text>
<text x="319.30" y="124.62" font-size="6.2" font-style="italic" fill="#202020" stroke="#202020" stroke-width="0.14">BCL2A1</text>
<text x="496.00" y="26.70" font-size="6.2" font-style="italic" fill="#202020" stroke="#202020" stroke-width="0.14">MYC</text>
<text x="496.00" y="34.00" font-size="6.2" font-style="italic" fill="#202020" stroke="#202020" stroke-width="0.14">EGR1</text>
<text x="496.00" y="41.30" font-size="6.2" font-style="italic" fill="#202020" stroke="#202020" stroke-width="0.14">EGR2</text>
<text x="496.00" y="48.60" font-size="6.2" font-style="italic" fill="#202020" stroke="#202020" stroke-width="0.14">EGR3</text>
<text x="496.00" y="55.90" font-size="6.2" font-style="italic" fill="#202020" stroke="#202020" stroke-width="0.14">BATF</text>
<text x="496.00" y="63.20" font-size="6.2" font-style="italic" fill="#202020" stroke="#202020" stroke-width="0.14">IRF4</text>
<text x="496.00" y="70.50" font-size="6.2" font-style="italic" fill="#202020" stroke="#202020" stroke-width="0.14">LMO2</text>
<text x="496.00" y="77.80" font-size="6.2" font-style="italic" fill="#202020" stroke="#202020" stroke-width="0.14">POU2F2</text>
<text x="496.00" y="85.10" font-size="6.2" font-style="italic" fill="#202020" stroke="#202020" stroke-width="0.14">CIITA</text>
<text x="496.00" y="92.40" font-size="6.2" font-style="italic" fill="#202020" stroke="#202020" stroke-width="0.14">FOXP1</text>
<text x="496.00" y="99.70" font-size="6.2" font-style="italic" fill="#202020" stroke="#202020" stroke-width="0.14">TCF3</text>
<text transform="translate(13.20,58.00) rotate(-90)" font-size="8.2" text-anchor="middle" fill="#1c1c1c" stroke="#1c1c1c">Cell cycle</text>
<text transform="translate(6.40,114.20) rotate(-90)" font-size="8.2" text-anchor="middle" textLength="19.30" lengthAdjust="spacingAndGlyphs" fill="#1c1c1c" stroke="#1c1c1c">DNA</text>
<text transform="translate(15.00,115.80) rotate(-90)" font-size="8.2" text-anchor="middle" fill="#1c1c1c" stroke="#1c1c1c">editing</text>
<text transform="translate(189.00,64.50) rotate(-90)" font-size="8.4" text-anchor="middle" fill="#1c1c1c" stroke="#1c1c1c">Cell surface</text>
<text transform="translate(183.50,115.10) rotate(-90)" font-size="7.4" text-anchor="middle" textLength="23.40" lengthAdjust="spacingAndGlyphs" fill="#1c1c1c" stroke="#1c1c1c">Apop-</text>
<text transform="translate(194.20,114.80) rotate(-90)" font-size="7.6" text-anchor="middle" textLength="17.20" lengthAdjust="spacingAndGlyphs" fill="#1c1c1c" stroke="#1c1c1c">tosis</text>
<text transform="translate(360.80,61.40) rotate(-90)" font-size="8.4" text-anchor="middle" fill="#1c1c1c" stroke="#1c1c1c">Transcriptional</text>
<text transform="translate(370.30,60.80) rotate(-90)" font-size="8.4" text-anchor="middle" fill="#1c1c1c" stroke="#1c1c1c">regulation</text>
<text x="3.60" y="8.20" font-size="11.4" font-weight="bold" fill="#111" stroke="#111">A</text>
<text x="5.60" y="158.20" font-size="10.8" font-weight="bold" fill="#111" stroke="#111">C</text>
<text x="180.10" y="158.20" font-size="10.8" font-weight="bold" fill="#111" stroke="#111">D</text>
<text x="357.30" y="135.50" font-size="11.2" font-weight="bold" fill="#111" stroke="#111">B</text>
<text x="22.50" y="158.20" font-size="10.4" textLength="143.90" lengthAdjust="spacingAndGlyphs" fill="#1c1c1c" stroke="#1c1c1c">Human gene expression data</text>
<text x="200.20" y="158.20" font-size="10.4" textLength="142.20" lengthAdjust="spacingAndGlyphs" fill="#1c1c1c" stroke="#1c1c1c">Mouse gene expression data</text>
<text x="373.90" y="111.50" font-size="7.3" textLength="39.00" lengthAdjust="spacingAndGlyphs" fill="#1c1c1c" stroke="#1c1c1c">Fold change</text>
<text x="419.70" y="118.90" font-size="7.0" text-anchor="middle" fill="#1c1c1c" stroke="#1c1c1c">0.1</text>
<text x="454.00" y="118.90" font-size="7.0" text-anchor="middle" fill="#1c1c1c" stroke="#1c1c1c">0</text>
<text x="486.30" y="118.90" font-size="7.2" text-anchor="middle" fill="#1c1c1c" stroke="#1c1c1c">10</text>
<text x="28.80" y="242.10" font-size="8.0" textLength="48.60" lengthAdjust="spacingAndGlyphs" fill="#1c1c1c" stroke="#1c1c1c">Expression DZ</text>
<text x="205.10" y="242.10" font-size="8.0" textLength="48.60" lengthAdjust="spacingAndGlyphs" fill="#1c1c1c" stroke="#1c1c1c">Expression DZ</text>
<text x="28.80" y="322.30" font-size="8.0" textLength="48.60" lengthAdjust="spacingAndGlyphs" fill="#1c1c1c" stroke="#1c1c1c">Expression DZ</text>
<text x="205.10" y="322.30" font-size="8.0" textLength="48.60" lengthAdjust="spacingAndGlyphs" fill="#1c1c1c" stroke="#1c1c1c">Expression DZ</text>
<text x="116.30" y="242.10" font-size="8.0" textLength="40.60" lengthAdjust="spacingAndGlyphs" fill="#1c1c1c" stroke="#1c1c1c">Fold change</text>
<text x="293.30" y="242.10" font-size="8.0" textLength="40.60" lengthAdjust="spacingAndGlyphs" fill="#1c1c1c" stroke="#1c1c1c">Fold change</text>
<text x="116.30" y="322.30" font-size="8.0" textLength="40.60" lengthAdjust="spacingAndGlyphs" fill="#1c1c1c" stroke="#1c1c1c">Fold change</text>
<text x="293.30" y="322.30" font-size="8.0" textLength="40.60" lengthAdjust="spacingAndGlyphs" fill="#1c1c1c" stroke="#1c1c1c">Fold change</text>
<text transform="translate(13.50,200.30) rotate(-90)" font-size="8.2" text-anchor="middle" textLength="47.60" lengthAdjust="spacingAndGlyphs" fill="#1c1c1c" stroke="#1c1c1c">Expression LZ</text>
<text transform="translate(190.50,200.30) rotate(-90)" font-size="8.2" text-anchor="middle" textLength="47.60" lengthAdjust="spacingAndGlyphs" fill="#1c1c1c" stroke="#1c1c1c">Expression LZ</text>
<text transform="translate(13.50,280.00) rotate(-90)" font-size="8.2" text-anchor="middle" textLength="47.60" lengthAdjust="spacingAndGlyphs" fill="#1c1c1c" stroke="#1c1c1c">Expression LZ</text>
<text transform="translate(190.50,280.00) rotate(-90)" font-size="8.2" text-anchor="middle" textLength="47.60" lengthAdjust="spacingAndGlyphs" fill="#1c1c1c" stroke="#1c1c1c">Expression LZ</text>
<text transform="translate(96.20,198.70) rotate(-90)" font-size="8.0" text-anchor="middle" textLength="25.80" lengthAdjust="spacingAndGlyphs" fill="#1c1c1c" stroke="#1c1c1c">p-value</text>
<text transform="translate(273.40,198.70) rotate(-90)" font-size="8.0" text-anchor="middle" textLength="25.80" lengthAdjust="spacingAndGlyphs" fill="#1c1c1c" stroke="#1c1c1c">p-value</text>
<text transform="translate(96.20,278.70) rotate(-90)" font-size="8.0" text-anchor="middle" textLength="25.80" lengthAdjust="spacingAndGlyphs" fill="#1c1c1c" stroke="#1c1c1c">p-value</text>
<text transform="translate(273.40,278.70) rotate(-90)" font-size="8.0" text-anchor="middle" textLength="25.80" lengthAdjust="spacingAndGlyphs" fill="#1c1c1c" stroke="#1c1c1c">p-value</text>
<text x="50.40" y="336.60" font-size="7.8" textLength="98.30" lengthAdjust="spacingAndGlyphs" fill="#1c1c1c" stroke="#1c1c1c">Mouse LZ signature genes</text>
<text x="50.40" y="345.60" font-size="7.8" textLength="98.30" lengthAdjust="spacingAndGlyphs" fill="#1c1c1c" stroke="#1c1c1c">Mouse DZ signature genes</text>
<text x="226.50" y="336.60" font-size="7.8" textLength="99.30" lengthAdjust="spacingAndGlyphs" fill="#1c1c1c" stroke="#1c1c1c">Human LZ signature genes</text>
<text x="226.50" y="345.60" font-size="7.8" textLength="99.30" lengthAdjust="spacingAndGlyphs" fill="#1c1c1c" stroke="#1c1c1c">Human DZ signature genes</text>
<text x="379.60" y="145.90" font-size="8" fill="#ececff" stroke="#ececff">LZ</text>
<text x="372.70" y="186.10" font-size="8" fill="#ececff" stroke="#ececff">DZ</text>
<text x="453.60" y="146.30" font-size="8" fill="#d8d840" stroke="#d8d840">LZ</text>
<text x="447.40" y="186.10" font-size="8" fill="#d8d840" stroke="#d8d840">DZ</text>
<text x="372.30" y="133.60" font-size="8" textLength="70.30" lengthAdjust="spacingAndGlyphs" fill="#1a1a2a" stroke="#1a1a2a">Human lymph node</text>
<text x="372.40" y="196.60" font-size="6.9" textLength="16.80" lengthAdjust="spacingAndGlyphs" fill="#3c3cc4" stroke="#3c3cc4" stroke-width="0.08">DAPI</text>
<text x="390.70" y="196.60" font-size="6.9" textLength="18.20" lengthAdjust="spacingAndGlyphs" fill="#50c850" stroke="#50c850" stroke-width="0.08">CD23</text>
<text x="411.00" y="196.60" font-size="6.9" textLength="12.00" lengthAdjust="spacingAndGlyphs" fill="#d83838" stroke="#d83838" stroke-width="0.08">AID</text>
<text x="448.40" y="196.60" font-size="6.9" fill="#1c1c1c" stroke="#1c1c1c">AID</text>
<text x="372.20" y="208.10" font-size="8.1" textLength="91.20" lengthAdjust="spacingAndGlyphs" fill="#1c1c1c" stroke="#1c1c1c">Mouse spleen (wild type)</text>
<text x="376.20" y="221.30" font-size="8" fill="#ececff" stroke="#ececff">LZ</text>
<text x="373.40" y="261.50" font-size="8" fill="#ececff" stroke="#ececff">DZ</text>
<text x="449.30" y="221.30" font-size="8" fill="#d8d840" stroke="#d8d840">LZ</text>
<text x="447.40" y="261.50" font-size="8" fill="#d8d840" stroke="#d8d840">DZ</text>
<text x="371.80" y="271.70" font-size="6.9" textLength="16.60" lengthAdjust="spacingAndGlyphs" fill="#3c3cc4" stroke="#3c3cc4" stroke-width="0.08">Bcl-6</text>
<text x="389.60" y="271.70" font-size="6.9" textLength="30.60" lengthAdjust="spacingAndGlyphs" fill="#50c850" stroke="#50c850" stroke-width="0.08">IgG(H+L)</text>
<text x="421.50" y="271.70" font-size="6.9" textLength="12.40" lengthAdjust="spacingAndGlyphs" fill="#d83838" stroke="#d83838" stroke-width="0.08">AID</text>
<text x="447.30" y="271.70" font-size="6.9" fill="#1c1c1c" stroke="#1c1c1c">AID</text>
<text x="371.8" y="287" font-size="8.15" fill="#1c1c1c" stroke="#1c1c1c">Mouse lymph node (<tspan font-style="italic">Aicda</tspan><tspan font-size="4.5" dy="-3">-/-</tspan><tspan dy="3">)</tspan></text>
<text x="371.80" y="352.50" font-size="6.9" textLength="16.60" lengthAdjust="spacingAndGlyphs" fill="#3c3cc4" stroke="#3c3cc4" stroke-width="0.08">Bcl-6</text>
<text x="390.10" y="352.50" font-size="6.9" textLength="30.20" lengthAdjust="spacingAndGlyphs" fill="#50c850" stroke="#50c850" stroke-width="0.08">IgG(H+L)</text>
<text x="421.50" y="352.50" font-size="6.9" textLength="12.40" lengthAdjust="spacingAndGlyphs" fill="#d83838" stroke="#d83838" stroke-width="0.08">AID</text>
<text x="448.90" y="352.50" font-size="6.9" fill="#1c1c1c" stroke="#1c1c1c">AID</text></g>
</svg></body></html>
